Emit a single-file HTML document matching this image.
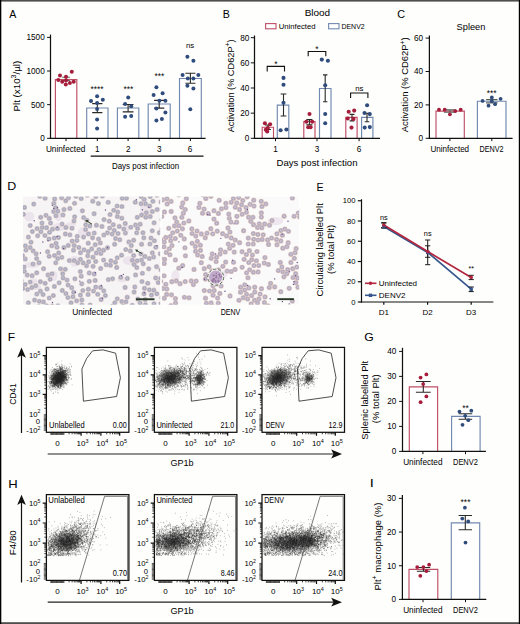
<!DOCTYPE html>
<html><head><meta charset="utf-8"><style>
html,body{margin:0;padding:0;background:#fff;}
svg{display:block;font-family:"Liberation Sans", sans-serif;}
</style></head><body>
<svg width="520" height="624" viewBox="0 0 520 624">
<rect width="520" height="624" fill="#fefefd"/>
<text x="9.15" y="17.9" font-size="10.9" fill="#000" textLength="7.07" lengthAdjust="spacingAndGlyphs">A</text>
<path d="M55.4 138.3 V79.6 H76.8 V138.3" stroke="#bf4f66" stroke-width="1.15" fill="#fff"/>
<path d="M86.7 138.3 V108 H108 V138.3" stroke="#7189b0" stroke-width="1.15" fill="#fff"/>
<path d="M117.4 138.3 V108 H138.8 V138.3" stroke="#7189b0" stroke-width="1.15" fill="#fff"/>
<path d="M148.2 138.3 V104 H170.2 V138.3" stroke="#7189b0" stroke-width="1.15" fill="#fff"/>
<path d="M179.5 138.3 V78.5 H201.3 V138.3" stroke="#7189b0" stroke-width="1.15" fill="#fff"/>
<path d="M62.2 77.3 H69.8 M66 77.3 V80.5 M62.2 80.5 H69.8" stroke="#55605a" stroke-width="1.1" fill="none"/>
<path d="M92.2 103.6 H102.4 M97.3 103.6 V112.6 M92.2 112.6 H102.4" stroke="#2a2a26" stroke-width="1.1" fill="none"/>
<path d="M122.7 104.5 H133.5 M128.1 104.5 V111.9 M122.7 111.9 H133.5" stroke="#2a2a26" stroke-width="1.1" fill="none"/>
<path d="M154.1 100.4 H164.3 M159.2 100.4 V108.1 M154.1 108.1 H164.3" stroke="#2a2a26" stroke-width="1.1" fill="none"/>
<path d="M185.4 73.3 H195.4 M190.4 73.3 V83.3 M185.4 83.3 H195.4" stroke="#2a2a26" stroke-width="1.1" fill="none"/>
<circle cx="60" cy="75.4" r="2.0" fill="#a51d3a"/>
<circle cx="66" cy="76.7" r="2.0" fill="#a51d3a"/>
<circle cx="71.8" cy="71.8" r="2.0" fill="#a51d3a"/>
<circle cx="58.3" cy="80.1" r="2.0" fill="#a51d3a"/>
<circle cx="62.2" cy="81.8" r="2.0" fill="#a51d3a"/>
<circle cx="65.8" cy="84.4" r="2.0" fill="#a51d3a"/>
<circle cx="69.9" cy="83.1" r="2.0" fill="#a51d3a"/>
<circle cx="73.7" cy="81.8" r="2.0" fill="#a51d3a"/>
<circle cx="66" cy="80.5" r="2.0" fill="#a51d3a"/>
<circle cx="97.1" cy="96.2" r="2.0" fill="#2f4c7d"/>
<circle cx="91" cy="101" r="2.0" fill="#2f4c7d"/>
<circle cx="102.8" cy="99.7" r="2.0" fill="#2f4c7d"/>
<circle cx="97.1" cy="103" r="2.0" fill="#2f4c7d"/>
<circle cx="97.1" cy="109.1" r="2.0" fill="#2f4c7d"/>
<circle cx="97.1" cy="119.6" r="2.0" fill="#2f4c7d"/>
<circle cx="97.1" cy="128.6" r="2.0" fill="#2f4c7d"/>
<circle cx="128.2" cy="97.6" r="2.0" fill="#2f4c7d"/>
<circle cx="125.1" cy="104" r="2.0" fill="#2f4c7d"/>
<circle cx="131.2" cy="106.2" r="2.0" fill="#2f4c7d"/>
<circle cx="125.1" cy="116.7" r="2.0" fill="#2f4c7d"/>
<circle cx="131.2" cy="116" r="2.0" fill="#2f4c7d"/>
<circle cx="156.4" cy="87.2" r="2.0" fill="#2f4c7d"/>
<circle cx="153.6" cy="94.9" r="2.0" fill="#2f4c7d"/>
<circle cx="162.6" cy="93.3" r="2.0" fill="#2f4c7d"/>
<circle cx="159.4" cy="100.8" r="2.0" fill="#2f4c7d"/>
<circle cx="165.4" cy="100.8" r="2.0" fill="#2f4c7d"/>
<circle cx="156.4" cy="108.5" r="2.0" fill="#2f4c7d"/>
<circle cx="165.4" cy="112.6" r="2.0" fill="#2f4c7d"/>
<circle cx="156.4" cy="120.6" r="2.0" fill="#2f4c7d"/>
<circle cx="161.9" cy="119" r="2.0" fill="#2f4c7d"/>
<circle cx="187.4" cy="56.8" r="2.0" fill="#2f4c7d"/>
<circle cx="193.4" cy="60.8" r="2.0" fill="#2f4c7d"/>
<circle cx="182.6" cy="74.9" r="2.0" fill="#2f4c7d"/>
<circle cx="198.3" cy="74.9" r="2.0" fill="#2f4c7d"/>
<circle cx="187.8" cy="78.5" r="2.0" fill="#2f4c7d"/>
<circle cx="193.4" cy="78.5" r="2.0" fill="#2f4c7d"/>
<circle cx="187.4" cy="85.7" r="2.0" fill="#2f4c7d"/>
<circle cx="193.4" cy="88.4" r="2.0" fill="#2f4c7d"/>
<circle cx="190.3" cy="109.2" r="2.0" fill="#2f4c7d"/>
<line x1="50.5" y1="34.6" x2="50.5" y2="138.93" stroke="#111" stroke-width="1.25"/>
<line x1="49.88" y1="138.3" x2="205.6" y2="138.3" stroke="#111" stroke-width="1.25"/>
<line x1="47.1" y1="37.4" x2="50.5" y2="37.4" stroke="#111" stroke-width="1.0"/>
<text x="44.7" y="40.25" font-size="8.2" text-anchor="end" fill="#000">1500</text>
<line x1="47.1" y1="71.03" x2="50.5" y2="71.03" stroke="#111" stroke-width="1.0"/>
<text x="44.7" y="73.88" font-size="8.2" text-anchor="end" fill="#000">1000</text>
<line x1="47.1" y1="104.67" x2="50.5" y2="104.67" stroke="#111" stroke-width="1.0"/>
<text x="44.7" y="107.52" font-size="8.2" text-anchor="end" fill="#000">500</text>
<line x1="47.1" y1="138.3" x2="50.5" y2="138.3" stroke="#111" stroke-width="1.0"/>
<text x="44.7" y="141.15" font-size="8.2" text-anchor="end" fill="#000">0</text>
<line x1="66" y1="138.3" x2="66" y2="141.1" stroke="#111" stroke-width="1.0"/>
<line x1="97.3" y1="138.3" x2="97.3" y2="141.1" stroke="#111" stroke-width="1.0"/>
<line x1="128.1" y1="138.3" x2="128.1" y2="141.1" stroke="#111" stroke-width="1.0"/>
<line x1="159.2" y1="138.3" x2="159.2" y2="141.1" stroke="#111" stroke-width="1.0"/>
<line x1="190.4" y1="138.3" x2="190.4" y2="141.1" stroke="#111" stroke-width="1.0"/>
<text x="45.88" y="151.9" font-size="8.3" fill="#000" textLength="39.46" lengthAdjust="spacingAndGlyphs">Uninfected</text>
<text x="97.3" y="152" font-size="8.2" text-anchor="middle" fill="#000">1</text>
<text x="128.3" y="152" font-size="8.2" text-anchor="middle" fill="#000">2</text>
<text x="159.3" y="152" font-size="8.2" text-anchor="middle" fill="#000">3</text>
<text x="190" y="152" font-size="8.2" text-anchor="middle" fill="#000">6</text>
<line x1="90.7" y1="156.2" x2="203.5" y2="156.2" stroke="#111" stroke-width="1.2"/>
<text x="111.96" y="168.5" font-size="8.2" fill="#000" textLength="67.24" lengthAdjust="spacingAndGlyphs">Days post infection</text>
<text x="19.12" y="110.7" font-size="9.4" fill="#000" transform="rotate(-90 19.9 110.7)" textLength="50.71" lengthAdjust="spacingAndGlyphs">Plt (x10<tspan font-size="6.77" dy="-3.76">3</tspan><tspan dy="3.76">/µl)</tspan></text>
<text x="97" y="91.99" font-size="8.4" text-anchor="middle" fill="#000">****</text>
<text x="128.3" y="91.99" font-size="8.4" text-anchor="middle" fill="#000">***</text>
<text x="159.4" y="78.59" font-size="8.4" text-anchor="middle" fill="#000">***</text>
<text x="190" y="47.63" font-size="7.8" text-anchor="middle" fill="#000">ns</text>
<text x="222.65" y="17.7" font-size="10.9" fill="#000" textLength="7.11" lengthAdjust="spacingAndGlyphs">B</text>
<text x="304.7" y="15.5" font-size="9.6" fill="#000" textLength="25.47" lengthAdjust="spacingAndGlyphs">Blood</text>
<rect x="265.6" y="23.6" width="10.4" height="5.2" fill="#fff" stroke="#bf4f66" stroke-width="1.1"/>
<text x="278.72" y="28.7" font-size="7.9" fill="#000" textLength="36.78" lengthAdjust="spacingAndGlyphs">Uninfected</text>
<rect x="328.6" y="23.6" width="10.4" height="5.2" fill="#fff" stroke="#7189b0" stroke-width="1.1"/>
<text x="341.44" y="28.7" font-size="7.9" fill="#000" textLength="23.2" lengthAdjust="spacingAndGlyphs">DENV2</text>
<path d="M262.2 138.3 V127.2 H273.5 V138.3" stroke="#bf4f66" stroke-width="1.15" fill="#fff"/>
<path d="M277.3 138.3 V105.1 H288.8 V138.3" stroke="#7189b0" stroke-width="1.15" fill="#fff"/>
<path d="M303.8 138.3 V121.5 H315 V138.3" stroke="#bf4f66" stroke-width="1.15" fill="#fff"/>
<path d="M319.5 138.3 V88.5 H331 V138.3" stroke="#7189b0" stroke-width="1.15" fill="#fff"/>
<path d="M345.8 138.3 V117.3 H357.1 V138.3" stroke="#bf4f66" stroke-width="1.15" fill="#fff"/>
<path d="M361.6 138.3 V117.3 H372.9 V138.3" stroke="#7189b0" stroke-width="1.15" fill="#fff"/>
<path d="M265 125 H271 M268 125 V129.5 M265 129.5 H271" stroke="#2a2a26" stroke-width="1.1" fill="none"/>
<path d="M280.6 94 H286.4 M283.5 94 V116 M280.6 116 H286.4" stroke="#2a2a26" stroke-width="1.1" fill="none"/>
<path d="M306.4 119.6 H312.4 M309.4 119.6 V124.9 M306.4 124.9 H312.4" stroke="#2a2a26" stroke-width="1.1" fill="none"/>
<path d="M323 74.9 H327.4 M325.2 74.9 V101.7 M323 101.7 H327.4" stroke="#2a2a26" stroke-width="1.1" fill="none"/>
<path d="M349.6 114.4 H354.4 M352 114.4 V120.9 M349.6 120.9 H354.4" stroke="#2a2a26" stroke-width="1.1" fill="none"/>
<path d="M364.7 113.2 H369.3 M367 113.2 V121.8 M364.7 121.8 H369.3" stroke="#2a2a26" stroke-width="1.1" fill="none"/>
<circle cx="264.9" cy="123.2" r="2.05" fill="#a51d3a"/>
<circle cx="270.1" cy="124.2" r="2.05" fill="#a51d3a"/>
<circle cx="267.8" cy="128.1" r="2.05" fill="#a51d3a"/>
<circle cx="265.8" cy="129.7" r="2.05" fill="#a51d3a"/>
<circle cx="267.2" cy="131.4" r="2.05" fill="#a51d3a"/>
<circle cx="309.5" cy="114" r="2.05" fill="#a51d3a"/>
<circle cx="306.3" cy="121.7" r="2.05" fill="#a51d3a"/>
<circle cx="312.2" cy="121.7" r="2.05" fill="#a51d3a"/>
<circle cx="308.2" cy="127.3" r="2.05" fill="#a51d3a"/>
<circle cx="310.6" cy="127.3" r="2.05" fill="#a51d3a"/>
<circle cx="348.7" cy="111.7" r="2.05" fill="#a51d3a"/>
<circle cx="354.2" cy="110.6" r="2.05" fill="#a51d3a"/>
<circle cx="347.7" cy="118.5" r="2.05" fill="#a51d3a"/>
<circle cx="353.5" cy="118.9" r="2.05" fill="#a51d3a"/>
<circle cx="351.5" cy="127.6" r="2.05" fill="#a51d3a"/>
<circle cx="283.5" cy="77.9" r="2.05" fill="#2f4c7d"/>
<circle cx="283.5" cy="84.7" r="2.05" fill="#2f4c7d"/>
<circle cx="283.5" cy="102.7" r="2.05" fill="#2f4c7d"/>
<circle cx="280.6" cy="130.3" r="2.05" fill="#2f4c7d"/>
<circle cx="286.4" cy="129.5" r="2.05" fill="#2f4c7d"/>
<circle cx="321.8" cy="59.6" r="2.05" fill="#2f4c7d"/>
<circle cx="327.9" cy="60.8" r="2.05" fill="#2f4c7d"/>
<circle cx="325.2" cy="85.2" r="2.05" fill="#2f4c7d"/>
<circle cx="325.2" cy="114" r="2.05" fill="#2f4c7d"/>
<circle cx="325.2" cy="123.3" r="2.05" fill="#2f4c7d"/>
<circle cx="367.1" cy="105.2" r="2.05" fill="#2f4c7d"/>
<circle cx="364.5" cy="113" r="2.05" fill="#2f4c7d"/>
<circle cx="369.8" cy="114.1" r="2.05" fill="#2f4c7d"/>
<circle cx="364.7" cy="127.6" r="2.05" fill="#2f4c7d"/>
<circle cx="369.8" cy="127.1" r="2.05" fill="#2f4c7d"/>
<path d="M267.2 71.5 V66.4 H284.5 V71.5" stroke="#111" stroke-width="1.1" fill="none"/>
<text x="275.85" y="67.39" font-size="8.4" text-anchor="middle" fill="#000">*</text>
<path d="M308.2 56.3 V51.5 H325.8 V56.3" stroke="#111" stroke-width="1.1" fill="none"/>
<text x="317" y="52.19" font-size="8.4" text-anchor="middle" fill="#000">*</text>
<path d="M350.6 98.1 V93 H367.9 V98.1" stroke="#111" stroke-width="1.1" fill="none"/>
<text x="359.25" y="90.53" font-size="7.8" text-anchor="middle" fill="#000">ns</text>
<line x1="254.5" y1="35.5" x2="254.5" y2="138.93" stroke="#111" stroke-width="1.25"/>
<line x1="253.88" y1="138.3" x2="380" y2="138.3" stroke="#111" stroke-width="1.25"/>
<line x1="250.8" y1="138.3" x2="254.5" y2="138.3" stroke="#111" stroke-width="1.0"/>
<text x="249.4" y="141.15" font-size="8.2" text-anchor="end" fill="#000">0</text>
<line x1="250.8" y1="113.15" x2="254.5" y2="113.15" stroke="#111" stroke-width="1.0"/>
<text x="249.4" y="116" font-size="8.2" text-anchor="end" fill="#000">20</text>
<line x1="250.8" y1="88" x2="254.5" y2="88" stroke="#111" stroke-width="1.0"/>
<text x="249.4" y="90.85" font-size="8.2" text-anchor="end" fill="#000">40</text>
<line x1="250.8" y1="62.85" x2="254.5" y2="62.85" stroke="#111" stroke-width="1.0"/>
<text x="249.4" y="65.7" font-size="8.2" text-anchor="end" fill="#000">60</text>
<line x1="250.8" y1="37.7" x2="254.5" y2="37.7" stroke="#111" stroke-width="1.0"/>
<text x="249.4" y="40.55" font-size="8.2" text-anchor="end" fill="#000">80</text>
<line x1="275.5" y1="138.3" x2="275.5" y2="141.2" stroke="#111" stroke-width="1.0"/>
<text x="275.5" y="152" font-size="8.2" text-anchor="middle" fill="#000">1</text>
<line x1="317" y1="138.3" x2="317" y2="141.2" stroke="#111" stroke-width="1.0"/>
<text x="317" y="152" font-size="8.2" text-anchor="middle" fill="#000">3</text>
<line x1="359.1" y1="138.3" x2="359.1" y2="141.2" stroke="#111" stroke-width="1.0"/>
<text x="359.1" y="152" font-size="8.2" text-anchor="middle" fill="#000">6</text>
<text x="276.53" y="165.8" font-size="9.8" fill="#000" textLength="80.98" lengthAdjust="spacingAndGlyphs">Days post infection</text>
<text x="233.95" y="132.3" font-size="9.5" fill="#000" transform="rotate(-90 234 132.3)" textLength="92.83" lengthAdjust="spacingAndGlyphs">Activation (% CD62P<tspan font-size="6.84" dy="-3.8">+</tspan><tspan dy="3.8">)</tspan></text>
<text x="397.16" y="18.4" font-size="10.9" fill="#000" textLength="7.8" lengthAdjust="spacingAndGlyphs">C</text>
<text x="456.58" y="29.8" font-size="9.7" fill="#000" textLength="28.81" lengthAdjust="spacingAndGlyphs">Spleen</text>
<path d="M436 138.3 V111.1 H464.3 V138.3" stroke="#bf4f66" stroke-width="1.15" fill="#fff"/>
<path d="M477.4 138.3 V101.2 H506 V138.3" stroke="#7189b0" stroke-width="1.15" fill="#fff"/>
<path d="M443.9 109.9 H455.9 M449.9 109.9 V112.2 M443.9 112.2 H455.9" stroke="#55605a" stroke-width="1.1" fill="none"/>
<path d="M486.1 99.6 H497.5 M491.8 99.6 V102.9 M486.1 102.9 H497.5" stroke="#55605a" stroke-width="1.1" fill="none"/>
<circle cx="439" cy="109.7" r="1.9" fill="#a51d3a"/>
<circle cx="444.7" cy="109.7" r="1.9" fill="#a51d3a"/>
<circle cx="449.9" cy="114.3" r="1.9" fill="#a51d3a"/>
<circle cx="455.3" cy="111.1" r="1.9" fill="#a51d3a"/>
<circle cx="460.7" cy="109.7" r="1.9" fill="#a51d3a"/>
<circle cx="482.6" cy="100.9" r="1.9" fill="#2f4c7d"/>
<circle cx="491.8" cy="97.5" r="1.9" fill="#2f4c7d"/>
<circle cx="500.6" cy="98.8" r="1.9" fill="#2f4c7d"/>
<circle cx="488.5" cy="105.7" r="1.9" fill="#2f4c7d"/>
<circle cx="495.1" cy="104.2" r="1.9" fill="#2f4c7d"/>
<circle cx="491.8" cy="101.2" r="1.9" fill="#2f4c7d"/>
<text x="491.7" y="95.89" font-size="8.4" text-anchor="middle" fill="#000">***</text>
<line x1="429.4" y1="35.5" x2="429.4" y2="138.93" stroke="#111" stroke-width="1.25"/>
<line x1="428.77" y1="138.3" x2="512.6" y2="138.3" stroke="#111" stroke-width="1.25"/>
<line x1="425.6" y1="138.3" x2="429.4" y2="138.3" stroke="#111" stroke-width="1.0"/>
<text x="423.1" y="141.15" font-size="8.2" text-anchor="end" fill="#000">0</text>
<line x1="425.6" y1="104.9" x2="429.4" y2="104.9" stroke="#111" stroke-width="1.0"/>
<text x="423.1" y="107.75" font-size="8.2" text-anchor="end" fill="#000">20</text>
<line x1="425.6" y1="71.5" x2="429.4" y2="71.5" stroke="#111" stroke-width="1.0"/>
<text x="423.1" y="74.35" font-size="8.2" text-anchor="end" fill="#000">40</text>
<line x1="425.6" y1="38.1" x2="429.4" y2="38.1" stroke="#111" stroke-width="1.0"/>
<text x="423.1" y="40.95" font-size="8.2" text-anchor="end" fill="#000">60</text>
<line x1="449.9" y1="138.3" x2="449.9" y2="141.1" stroke="#111" stroke-width="1.0"/>
<line x1="491.8" y1="138.3" x2="491.8" y2="141.1" stroke="#111" stroke-width="1.0"/>
<text x="430.49" y="152.1" font-size="8.3" fill="#000" textLength="38.64" lengthAdjust="spacingAndGlyphs">Uninfected</text>
<text x="479.42" y="152.1" font-size="8.3" fill="#000" textLength="24.14" lengthAdjust="spacingAndGlyphs">DENV2</text>
<text x="408.35" y="132.3" font-size="9.5" fill="#000" transform="rotate(-90 408.4 132.3)" textLength="95.04" lengthAdjust="spacingAndGlyphs">Activation (% CD62P<tspan font-size="6.84" dy="-3.8">+</tspan><tspan dy="3.8">)</tspan></text>
<text x="7.21" y="190.4" font-size="10.9" fill="#000" textLength="8.98" lengthAdjust="spacingAndGlyphs">D</text>
<defs><clipPath id="m1"><rect x="22.9" y="196.5" width="137.3" height="108.2"/></clipPath><clipPath id="m2"><rect x="161.9" y="196.5" width="137.3" height="108.2"/></clipPath><filter id="soft" x="0" y="0" width="1" height="1"><feGaussianBlur stdDeviation="0.35"/></filter><g id="c1"><circle r="2.6" fill="#d6c5c4"/><circle r="2.0" fill="#a6a7bd"/><circle r="0.95" fill="#c2c1d0"/></g><g id="c2"><circle r="2.6" fill="#d9bfbb"/><circle r="2.0" fill="#b0a9bf"/><circle r="1.0" fill="#cbc4d3"/></g></defs>
<g clip-path="url(#m1)"><g filter="url(#soft)"><rect x="22.9" y="196.5" width="137.3" height="108.2" fill="#f6f4f5"/>
<ellipse cx="35.33" cy="287.11" rx="6" ry="2.85" fill="#ddd0e2" opacity=".45"/>
<ellipse cx="129.72" cy="260.62" rx="7.14" ry="4.45" fill="#ddd0e2" opacity=".45"/>
<ellipse cx="121.99" cy="279.93" rx="4.72" ry="2.38" fill="#ddd0e2" opacity=".45"/>
<ellipse cx="145.9" cy="209.57" rx="5.78" ry="5.97" fill="#ddd0e2" opacity=".45"/>
<ellipse cx="70.92" cy="224.97" rx="4.91" ry="2.81" fill="#ddd0e2" opacity=".45"/>
<ellipse cx="125.63" cy="228.9" rx="3.37" ry="4.38" fill="#ddd0e2" opacity=".45"/>
<ellipse cx="58.41" cy="216.15" rx="3.08" ry="5.36" fill="#ddd0e2" opacity=".45"/>
<ellipse cx="74.65" cy="261.2" rx="5.4" ry="5.48" fill="#ddd0e2" opacity=".45"/>
<ellipse cx="32.12" cy="264.83" rx="7.15" ry="3.13" fill="#ddd0e2" opacity=".45"/>
<ellipse cx="82.32" cy="233.01" rx="4.62" ry="5.78" fill="#ddd0e2" opacity=".45"/>
<ellipse cx="54.22" cy="275.95" rx="3.22" ry="5.13" fill="#ddd0e2" opacity=".45"/>
<ellipse cx="33.92" cy="281.46" rx="3.33" ry="2.86" fill="#ddd0e2" opacity=".45"/>
<ellipse cx="59.04" cy="227.12" rx="6.88" ry="4.02" fill="#ddd0e2" opacity=".45"/>
<ellipse cx="29.17" cy="216.55" rx="5.09" ry="4.84" fill="#ddd0e2" opacity=".45"/>
<use href="#c1" x="54.52" y="255.56"/>
<use href="#c1" x="106.23" y="264.71"/>
<use href="#c1" x="58.62" y="252.92"/>
<use href="#c1" x="47.99" y="274.96"/>
<use href="#c1" x="98.56" y="239.06"/>
<use href="#c1" x="53.67" y="211.51"/>
<use href="#c1" x="76" y="196.2"/>
<use href="#c1" x="43.42" y="301.93"/>
<use href="#c1" x="150.92" y="237.99"/>
<use href="#c1" x="81.23" y="276.2"/>
<use href="#c1" x="157.13" y="209.55"/>
<use href="#c1" x="25.97" y="250.03"/>
<use href="#c1" x="152.41" y="211.55"/>
<use href="#c1" x="92.57" y="237.79"/>
<use href="#c1" x="103.57" y="260.05"/>
<use href="#c1" x="117.26" y="298.73"/>
<use href="#c1" x="160.93" y="269.82"/>
<use href="#c1" x="162.57" y="208.32"/>
<use href="#c1" x="121.76" y="218.19"/>
<use href="#c1" x="101.94" y="226.47"/>
<use href="#c1" x="121.86" y="301.59"/>
<use href="#c1" x="42.2" y="227.47"/>
<use href="#c1" x="144.22" y="199.46"/>
<use href="#c1" x="27.25" y="275.11"/>
<use href="#c1" x="145.37" y="304.53"/>
<use href="#c1" x="161.99" y="229.24"/>
<use href="#c1" x="96.42" y="225.22"/>
<use href="#c1" x="62.1" y="224.05"/>
<use href="#c1" x="159.36" y="232.63"/>
<use href="#c1" x="40.45" y="291.18"/>
<use href="#c1" x="143.82" y="237.83"/>
<use href="#c1" x="117.12" y="206.01"/>
<use href="#c1" x="135.57" y="224.94"/>
<use href="#c1" x="57.39" y="228.5"/>
<use href="#c1" x="132.3" y="305.29"/>
<use href="#c1" x="74.1" y="260.61"/>
<use href="#c1" x="37.11" y="228.57"/>
<use href="#c1" x="120.79" y="277.31"/>
<use href="#c1" x="51.96" y="273.81"/>
<use href="#c1" x="109.63" y="228.01"/>
<use href="#c1" x="45.97" y="215.28"/>
<use href="#c1" x="140.13" y="224.14"/>
<use href="#c1" x="35.72" y="285.72"/>
<use href="#c1" x="113.27" y="224.72"/>
<use href="#c1" x="116.71" y="267.38"/>
<use href="#c1" x="82.85" y="290.49"/>
<use href="#c1" x="41.98" y="223.02"/>
<use href="#c1" x="59.14" y="282.8"/>
<use href="#c1" x="150.23" y="216.57"/>
<use href="#c1" x="142.94" y="232.66"/>
<use href="#c1" x="32.99" y="263.99"/>
<use href="#c1" x="80.43" y="252.66"/>
<use href="#c1" x="86.57" y="265.65"/>
<use href="#c1" x="32.38" y="231.59"/>
<use href="#c1" x="49.11" y="256.34"/>
<use href="#c1" x="92.98" y="257.21"/>
<use href="#c1" x="122.25" y="198.13"/>
<use href="#c1" x="127.35" y="278.43"/>
<use href="#c1" x="97.75" y="294.32"/>
<use href="#c1" x="151.44" y="295.09"/>
<use href="#c1" x="102.42" y="195.97"/>
<use href="#c1" x="107.4" y="232.8"/>
<use href="#c1" x="87.73" y="255.82"/>
<use href="#c1" x="45.11" y="283.33"/>
<use href="#c1" x="134.8" y="286.9"/>
<use href="#c1" x="142" y="281.48"/>
<use href="#c1" x="81.18" y="198.57"/>
<use href="#c1" x="33.07" y="250.84"/>
<use href="#c1" x="65.35" y="233.91"/>
<use href="#c1" x="103.79" y="234.99"/>
<use href="#c1" x="31.83" y="287.59"/>
<use href="#c1" x="93.48" y="291.04"/>
<use href="#c1" x="134.1" y="264.39"/>
<use href="#c1" x="73.52" y="250.17"/>
<use href="#c1" x="31.01" y="242.17"/>
<use href="#c1" x="145.2" y="299.57"/>
<use href="#c1" x="147.77" y="283.24"/>
<use href="#c1" x="149.38" y="289.84"/>
<use href="#c1" x="140.98" y="253.99"/>
<use href="#c1" x="135.58" y="274.9"/>
<use href="#c1" x="54.24" y="238.11"/>
<use href="#c1" x="100.64" y="268.46"/>
<use href="#c1" x="136.69" y="232.81"/>
<use href="#c1" x="24.5" y="207.41"/>
<use href="#c1" x="119.29" y="226.42"/>
<use href="#c1" x="121.95" y="206.48"/>
<use href="#c1" x="152.95" y="201.36"/>
<use href="#c1" x="100.59" y="287.41"/>
<use href="#c1" x="24.3" y="271.26"/>
<use href="#c1" x="154.09" y="222.87"/>
<use href="#c1" x="153.55" y="256.95"/>
<use href="#c1" x="73.93" y="220.9"/>
<use href="#c1" x="140.1" y="303.01"/>
<use href="#c1" x="117.77" y="212.02"/>
<use href="#c1" x="146.31" y="212.74"/>
<use href="#c1" x="89.22" y="272.89"/>
<use href="#c1" x="103.77" y="290.78"/>
<use href="#c1" x="105.36" y="295.58"/>
<use href="#c1" x="62.71" y="273.64"/>
<use href="#c1" x="141.52" y="260.1"/>
<use href="#c1" x="88.67" y="261.71"/>
<use href="#c1" x="86.94" y="220.26"/>
<use href="#c1" x="74.65" y="216.74"/>
<use href="#c1" x="137.58" y="228.59"/>
<use href="#c1" x="25.41" y="245.82"/>
<use href="#c1" x="68.47" y="197.8"/>
<use href="#c1" x="74.55" y="203.25"/>
<use href="#c1" x="125.8" y="249.48"/>
<use href="#c1" x="49.3" y="218.38"/>
<use href="#c1" x="36.8" y="294.04"/>
<use href="#c1" x="34.59" y="300.11"/>
<use href="#c1" x="150.23" y="196.41"/>
<use href="#c1" x="100.88" y="253.48"/>
<use href="#c1" x="92.78" y="201.18"/>
<use href="#c1" x="113.75" y="210.24"/>
<use href="#c1" x="110.04" y="214.6"/>
<use href="#c1" x="40.88" y="231.7"/>
<use href="#c1" x="85.57" y="229.56"/>
<use href="#c1" x="154.35" y="240.74"/>
<use href="#c1" x="128.19" y="308.99"/>
<use href="#c1" x="134.1" y="292.09"/>
<use href="#c1" x="135.23" y="202.27"/>
<use href="#c1" x="117.19" y="257.82"/>
<use href="#c1" x="36.74" y="272.84"/>
<use href="#c1" x="115.59" y="238.39"/>
<use href="#c1" x="39.05" y="262.71"/>
<use href="#c1" x="133.69" y="255.62"/>
<use href="#c1" x="145.56" y="203.77"/>
<use href="#c1" x="25.15" y="284.61"/>
<use href="#c1" x="21.24" y="280.95"/>
<use href="#c1" x="30.2" y="282.08"/>
<use href="#c1" x="141.23" y="196.53"/>
<use href="#c1" x="53.88" y="203.23"/>
<use href="#c1" x="152.28" y="230.75"/>
<use href="#c1" x="125.42" y="233.05"/>
<use href="#c1" x="50.57" y="223.12"/>
<use href="#c1" x="85.79" y="224.8"/>
<use href="#c1" x="80.34" y="271.58"/>
<use href="#c1" x="95.69" y="261.42"/>
<use href="#c1" x="55.94" y="215.7"/>
<use href="#c1" x="46.69" y="305.84"/>
<use href="#c1" x="47.01" y="288.93"/>
<use href="#c1" x="54.7" y="198.89"/>
<use href="#c1" x="137.2" y="260.79"/>
<use href="#c1" x="69.84" y="208.41"/>
<use href="#c1" x="30.17" y="247.5"/>
<use href="#c1" x="69.92" y="234.79"/>
<use href="#c1" x="65.7" y="200.86"/>
<use href="#c1" x="32.14" y="275.7"/>
<use href="#c1" x="47.62" y="251.69"/>
<use href="#c1" x="88.53" y="233.94"/>
<use href="#c1" x="74.92" y="278.83"/>
<use href="#c1" x="76.62" y="300.79"/>
<use href="#c1" x="65.27" y="269.34"/>
<use href="#c1" x="72.17" y="241.03"/>
<use href="#c1" x="127.26" y="297.17"/>
<use href="#c1" x="55.55" y="207.7"/>
<use href="#c1" x="114.24" y="230.41"/>
<use href="#c1" x="112.26" y="306.36"/>
<use href="#c1" x="132.3" y="260.31"/>
<use href="#c1" x="65.96" y="293.56"/>
<use href="#c1" x="118.04" y="233.51"/>
<use href="#c1" x="119.74" y="239.7"/>
<use href="#c1" x="130.8" y="227.25"/>
<use href="#c1" x="83.6" y="237.07"/>
<use href="#c1" x="114.81" y="302.86"/>
<use href="#c1" x="89.32" y="281.28"/>
<use href="#c1" x="161.82" y="297.76"/>
<use href="#c1" x="100.26" y="242.96"/>
<use href="#c1" x="39.33" y="301.25"/>
<use href="#c1" x="83.62" y="217.57"/>
<use href="#c1" x="81.84" y="299.97"/>
<use href="#c1" x="162" y="219.48"/>
<use href="#c1" x="61.65" y="197.8"/>
<use href="#c1" x="71.67" y="287.72"/>
<use href="#c1" x="152.33" y="252.8"/>
<use href="#c1" x="71.05" y="302.84"/>
<use href="#c1" x="98.99" y="249.5"/>
<use href="#c1" x="27.59" y="289.51"/>
<use href="#c1" x="57.76" y="211.21"/>
<use href="#c1" x="163.54" y="214.95"/>
<use href="#c1" x="155.63" y="277.94"/>
<use href="#c1" x="39.8" y="196.36"/>
<use href="#c1" x="112.12" y="234.03"/>
<use href="#c1" x="94.15" y="213.66"/>
<use href="#c1" x="149.27" y="258.52"/>
<use href="#c1" x="137.84" y="298.99"/>
<use href="#c1" x="25.22" y="258.96"/>
<use href="#c1" x="89.8" y="225.9"/>
<use href="#c1" x="149.71" y="206"/>
<use href="#c1" x="156.59" y="266.71"/>
<use href="#c1" x="154.02" y="303.82"/>
<use href="#c1" x="81.84" y="304.9"/>
<use href="#c1" x="61.79" y="257.28"/>
<use href="#c1" x="67.94" y="297.5"/>
<use href="#c1" x="143.24" y="263.87"/>
<use href="#c1" x="43.08" y="294.59"/>
<use href="#c1" x="49.01" y="239.02"/>
<use href="#c1" x="141.58" y="244.14"/>
<use href="#c1" x="76.89" y="240.38"/>
<use href="#c1" x="95.12" y="280.45"/>
<use href="#c1" x="51.78" y="245.69"/>
<use href="#c1" x="110.87" y="260.82"/>
<use href="#c1" x="62.95" y="214.96"/>
<use href="#c1" x="52.17" y="306.19"/>
<use href="#c1" x="56.03" y="243.27"/>
<use href="#c1" x="52.46" y="229.19"/>
<use href="#c1" x="160.3" y="253.8"/>
<use href="#c1" x="108.2" y="202.27"/>
<use href="#c1" x="101.1" y="299.39"/>
<use href="#c1" x="71.98" y="228.23"/>
<use href="#c1" x="77.28" y="236.3"/>
<use href="#c1" x="126.45" y="198.13"/>
<use href="#c1" x="123.08" y="306.24"/>
<use href="#c1" x="125.1" y="287.45"/>
<use href="#c1" x="149.91" y="244.02"/>
<use href="#c1" x="88.07" y="294.39"/>
<use href="#c1" x="81.76" y="283.81"/>
<use href="#c1" x="90.17" y="305.09"/>
<use href="#c1" x="40.68" y="217.35"/>
<use href="#c1" x="161.04" y="201.91"/>
<use href="#c1" x="121.57" y="255.14"/>
<use href="#c1" x="145.83" y="217.16"/>
<use href="#c1" x="153.79" y="290.17"/>
<use href="#c1" x="69.33" y="260.48"/>
<use href="#c1" x="95.19" y="244.66"/>
<use href="#c1" x="141.54" y="215.11"/>
<use href="#c1" x="44.97" y="235.52"/>
<use href="#c1" x="28.37" y="302.85"/>
<use href="#c1" x="23.44" y="214.3"/>
<use href="#c1" x="91.64" y="248.95"/>
<use href="#c1" x="108.38" y="279.56"/>
<use href="#c1" x="36.11" y="253.75"/>
<use href="#c1" x="84.01" y="249.78"/>
<use href="#c1" x="137.31" y="217.29"/>
<use href="#c1" x="72.95" y="296.72"/>
<use href="#c1" x="128.85" y="241.93"/>
<use href="#c1" x="46.54" y="227.64"/>
<use href="#c1" x="119.86" y="309.06"/>
<use href="#c1" x="83.21" y="262.91"/>
<use href="#c1" x="144.87" y="256.46"/>
<use href="#c1" x="30.24" y="225.51"/>
<use href="#c1" x="88.26" y="243.2"/>
<use href="#c1" x="73.64" y="292.36"/>
<use href="#c1" x="67.07" y="280.04"/>
<use href="#c1" x="115.38" y="262.24"/>
<use href="#c1" x="77.72" y="262.8"/>
<use href="#c1" x="94.17" y="273.94"/>
<use href="#c1" x="114.62" y="244.17"/>
<use href="#c1" x="45.04" y="198.17"/>
<use href="#c1" x="57.02" y="247.27"/>
<use href="#c1" x="58.5" y="237.6"/>
<use href="#c1" x="104.05" y="219.55"/>
<use href="#c1" x="93.05" y="266.32"/>
<use href="#c1" x="38.72" y="306.65"/>
<use href="#c1" x="63.96" y="247.53"/>
<use href="#c1" x="64" y="209.39"/>
<use href="#c1" x="63.05" y="277.98"/>
<use href="#c1" x="123.81" y="229"/>
<use href="#c1" x="156.86" y="195.19"/>
<use href="#c1" x="68.24" y="245.39"/>
<use href="#c1" x="125.19" y="223.46"/>
<use href="#c1" x="125.98" y="301.86"/>
<use href="#c1" x="49.55" y="232.3"/>
<use href="#c1" x="80.45" y="259.23"/>
<use href="#c1" x="107.49" y="247.72"/>
<use href="#c1" x="40.38" y="281.63"/>
<use href="#c1" x="62.3" y="290.46"/>
<use href="#c1" x="82.38" y="210.79"/>
<use href="#c1" x="53.31" y="295.61"/>
<use href="#c1" x="22.61" y="288.42"/>
<use href="#c1" x="131.29" y="245.47"/>
<use href="#c1" x="110.42" y="265.37"/>
<use href="#c1" x="49.23" y="298.01"/>
<use href="#c1" x="57.71" y="258.57"/>
<use href="#c1" x="95.9" y="196.61"/>
<use href="#c1" x="28.41" y="237.03"/>
<use href="#c1" x="98.4" y="203.55"/>
<use href="#c1" x="33.77" y="204.12"/>
<use href="#c1" x="60.54" y="268.82"/>
<use href="#c1" x="130.39" y="250.95"/>
<use href="#c1" x="142.4" y="273.27"/>
<use href="#c1" x="78.86" y="247.42"/>
<use href="#c1" x="68.06" y="284.99"/>
<use href="#c1" x="55.78" y="262.8"/>
<use href="#c1" x="95.76" y="287.08"/>
<use href="#c1" x="57.91" y="305.74"/>
<use href="#c1" x="109.23" y="221.18"/>
<use href="#c1" x="37.67" y="235.76"/>
<use href="#c1" x="65.95" y="227.42"/>
<use href="#c1" x="103.53" y="250.2"/>
<use href="#c1" x="94.22" y="233"/>
<use href="#c1" x="50.1" y="279.36"/>
<use href="#c1" x="88.23" y="251.59"/>
<use href="#c1" x="22.51" y="255.69"/>
<use href="#c1" x="74.12" y="245.47"/>
<use href="#c1" x="24.05" y="267.09"/>
<use href="#c1" x="133.65" y="240.19"/>
<use href="#c1" x="88.38" y="289.17"/>
<use href="#c1" x="156.85" y="293.76"/>
<use href="#c1" x="144.03" y="293.65"/>
<use href="#c1" x="163.16" y="248.84"/>
<use href="#c1" x="148.7" y="268.83"/>
<use href="#c1" x="136.78" y="267.62"/>
<use href="#c1" x="124.64" y="312.61"/>
<use href="#c1" x="112.57" y="278.83"/>
<use href="#c1" x="36.61" y="258.58"/>
<use href="#c1" x="144.5" y="288.32"/>
<use href="#c1" x="160.65" y="278.32"/>
<use href="#c1" x="16.34" y="282.96"/>
<use href="#c1" x="161.05" y="303.54"/>
<use href="#c1" x="158.23" y="282.62"/>
<use href="#c1" x="96.37" y="252.9"/>
<use href="#c1" x="141.07" y="203.7"/>
<use href="#c1" x="43.55" y="268.69"/>
<use href="#c1" x="54.38" y="286.38"/>
<use href="#c1" x="155.76" y="247.26"/>
<use href="#c1" x="87.28" y="195.27"/>
<use href="#c1" x="80.43" y="295.1"/>
<use href="#c1" x="117.34" y="216.41"/>
<circle cx="157.03" cy="245.82" r="0.7" fill="#6a4c86"/>
<circle cx="121.38" cy="275.63" r="0.7" fill="#6a4c86"/>
<circle cx="52.34" cy="205.35" r="0.7" fill="#6a4c86"/>
<circle cx="105.48" cy="210.05" r="0.7" fill="#6a4c86"/>
<circle cx="75.27" cy="292.2" r="0.7" fill="#6a4c86"/>
<circle cx="142.38" cy="209.7" r="0.7" fill="#6a4c86"/>
<circle cx="34.17" cy="220.81" r="0.7" fill="#6a4c86"/>
<circle cx="136.35" cy="199.65" r="0.7" fill="#6a4c86"/>
<circle cx="53.75" cy="208.47" r="0.7" fill="#6a4c86"/>
<circle cx="40.39" cy="253.01" r="0.7" fill="#6a4c86"/>
<circle cx="48.03" cy="240.81" r="0.7" fill="#6a4c86"/>
<circle cx="123.35" cy="274.36" r="0.7" fill="#6a4c86"/>
<circle cx="79.76" cy="281.12" r="0.7" fill="#6a4c86"/>
<circle cx="101.33" cy="285.48" r="0.7" fill="#6a4c86"/>
<circle cx="57" cy="236.5" r="0.7" fill="#6a4c86"/>
<circle cx="102.41" cy="298.21" r="0.7" fill="#6a4c86"/>
<circle cx="107.61" cy="247.79" r="0.7" fill="#6a4c86"/>
<circle cx="57.28" cy="227.1" r="0.7" fill="#6a4c86"/>
<circle cx="52.46" cy="302.54" r="0.7" fill="#6a4c86"/>
<circle cx="144.36" cy="292.72" r="0.7" fill="#6a4c86"/>
<circle cx="95.31" cy="272.8" r="0.7" fill="#6a4c86"/>
<circle cx="63.52" cy="248.53" r="0.7" fill="#6a4c86"/>
<circle cx="42.84" cy="241.95" r="0.7" fill="#6a4c86"/>
<circle cx="57.52" cy="207.7" r="0.7" fill="#6a4c86"/>
<circle cx="148.86" cy="207.35" r="0.7" fill="#6a4c86"/>
</g></g>
<g clip-path="url(#m2)"><g filter="url(#soft)"><rect x="161.9" y="196.5" width="137.3" height="108.2" fill="#fbfafa"/>
<ellipse cx="221.42" cy="274.53" rx="5.68" ry="3.99" fill="#ddd0e2" opacity=".45"/>
<ellipse cx="275.43" cy="221.08" rx="7.88" ry="4.07" fill="#ddd0e2" opacity=".45"/>
<ellipse cx="175.44" cy="275.96" rx="4.14" ry="5.89" fill="#ddd0e2" opacity=".45"/>
<use href="#c2" x="247.92" y="277.73"/>
<use href="#c2" x="293.07" y="277.52"/>
<use href="#c2" x="164" y="246.74"/>
<use href="#c2" x="251.6" y="295.58"/>
<use href="#c2" x="254.8" y="292.11"/>
<use href="#c2" x="297.51" y="277.88"/>
<use href="#c2" x="254.51" y="300.14"/>
<use href="#c2" x="160.65" y="281.3"/>
<use href="#c2" x="183.34" y="213.18"/>
<use href="#c2" x="246.55" y="294.31"/>
<use href="#c2" x="295.89" y="282.71"/>
<use href="#c2" x="169.34" y="248.74"/>
<use href="#c2" x="166.35" y="252.46"/>
<use href="#c2" x="251.14" y="303.9"/>
<use href="#c2" x="246.57" y="272.79"/>
<use href="#c2" x="176.72" y="222.11"/>
<use href="#c2" x="225.21" y="252"/>
<use href="#c2" x="195.35" y="246.43"/>
<use href="#c2" x="171.98" y="245.53"/>
<use href="#c2" x="172.78" y="232.73"/>
<use href="#c2" x="244.74" y="290.08"/>
<use href="#c2" x="178.92" y="225.66"/>
<use href="#c2" x="235.29" y="240.04"/>
<use href="#c2" x="170.28" y="236.48"/>
<use href="#c2" x="260.06" y="294.03"/>
<use href="#c2" x="174.48" y="225.94"/>
<use href="#c2" x="239.6" y="209.4"/>
<use href="#c2" x="218.37" y="213.44"/>
<use href="#c2" x="295.64" y="273.72"/>
<use href="#c2" x="174.98" y="217.83"/>
<use href="#c2" x="200.32" y="245.15"/>
<use href="#c2" x="297.98" y="287.15"/>
<use href="#c2" x="175.26" y="238.57"/>
<use href="#c2" x="164.28" y="242.06"/>
<use href="#c2" x="257.52" y="227.47"/>
<use href="#c2" x="251.7" y="259.65"/>
<use href="#c2" x="252.39" y="255.07"/>
<use href="#c2" x="209.06" y="266.76"/>
<use href="#c2" x="276.92" y="233.78"/>
<use href="#c2" x="282.82" y="271.73"/>
<use href="#c2" x="295.06" y="252.64"/>
<use href="#c2" x="199.87" y="203.35"/>
<use href="#c2" x="242.14" y="214.14"/>
<use href="#c2" x="246.37" y="212.35"/>
<use href="#c2" x="294.31" y="258.32"/>
<use href="#c2" x="204.24" y="268.63"/>
<use href="#c2" x="248.6" y="217.14"/>
<use href="#c2" x="298.34" y="213.1"/>
<use href="#c2" x="175.56" y="303.11"/>
<use href="#c2" x="256.44" y="260.73"/>
<use href="#c2" x="286.81" y="273.67"/>
<use href="#c2" x="212.75" y="233.83"/>
<use href="#c2" x="280.83" y="291.71"/>
<use href="#c2" x="248.78" y="262.61"/>
<use href="#c2" x="201.33" y="233.95"/>
<use href="#c2" x="241.59" y="204.64"/>
<use href="#c2" x="278.33" y="270.6"/>
<use href="#c2" x="239.63" y="242.66"/>
<use href="#c2" x="229.62" y="248.31"/>
<use href="#c2" x="214.14" y="290.43"/>
<use href="#c2" x="276.57" y="239.47"/>
<use href="#c2" x="213.04" y="295.18"/>
<use href="#c2" x="185.25" y="209.53"/>
<use href="#c2" x="195.55" y="251.31"/>
<use href="#c2" x="201.33" y="262.72"/>
<use href="#c2" x="290.89" y="262.4"/>
<use href="#c2" x="197" y="231.02"/>
<use href="#c2" x="227.12" y="271.06"/>
<use href="#c2" x="286.91" y="246.68"/>
<use href="#c2" x="202.81" y="194.86"/>
<use href="#c2" x="242.15" y="267.25"/>
<use href="#c2" x="200.46" y="250.46"/>
<use href="#c2" x="204.4" y="190.96"/>
<use href="#c2" x="207.01" y="233.18"/>
<use href="#c2" x="166.81" y="288.98"/>
<use href="#c2" x="175.43" y="298.55"/>
<use href="#c2" x="245.97" y="207.48"/>
<use href="#c2" x="212.05" y="270.94"/>
<use href="#c2" x="197.32" y="241.28"/>
<use href="#c2" x="258.71" y="265.49"/>
<use href="#c2" x="209.55" y="290.99"/>
<use href="#c2" x="164.06" y="275.85"/>
<use href="#c2" x="177.3" y="231.09"/>
<use href="#c2" x="265.82" y="203.9"/>
<use href="#c2" x="229.34" y="218.23"/>
<use href="#c2" x="195.82" y="236.08"/>
<use href="#c2" x="253.33" y="233.6"/>
<use href="#c2" x="280.86" y="230.51"/>
<use href="#c2" x="243.21" y="297.66"/>
<use href="#c2" x="244.75" y="284.87"/>
<use href="#c2" x="158.66" y="276.49"/>
<use href="#c2" x="253.7" y="239.32"/>
<use href="#c2" x="258.12" y="240.02"/>
<use href="#c2" x="217.22" y="231.06"/>
<use href="#c2" x="165.8" y="237.39"/>
<use href="#c2" x="261.34" y="212.83"/>
<use href="#c2" x="262.18" y="239.39"/>
<use href="#c2" x="191.83" y="228.77"/>
<use href="#c2" x="193.39" y="284.62"/>
<use href="#c2" x="280.82" y="240.96"/>
<use href="#c2" x="287.63" y="269.57"/>
<use href="#c2" x="222.9" y="266.36"/>
<use href="#c2" x="294.15" y="216.32"/>
<use href="#c2" x="296.13" y="248.53"/>
<use href="#c2" x="182.78" y="202.96"/>
<use href="#c2" x="248.21" y="244"/>
<use href="#c2" x="253.21" y="243.99"/>
<use href="#c2" x="217.61" y="297.99"/>
<use href="#c2" x="204.11" y="209.07"/>
<use href="#c2" x="302.21" y="288.47"/>
<use href="#c2" x="301.51" y="210.32"/>
<use href="#c2" x="213.57" y="280.81"/>
<use href="#c2" x="249.36" y="250.66"/>
<use href="#c2" x="162.54" y="199.8"/>
<use href="#c2" x="181.83" y="217.24"/>
<use href="#c2" x="198.94" y="207.45"/>
<use href="#c2" x="238.64" y="197.58"/>
<use href="#c2" x="214.55" y="275.57"/>
<use href="#c2" x="242.78" y="200.52"/>
<use href="#c2" x="181.73" y="207.11"/>
<use href="#c2" x="219.17" y="200.37"/>
<use href="#c2" x="164.54" y="259.24"/>
<use href="#c2" x="246.4" y="254.52"/>
<use href="#c2" x="263.21" y="234.8"/>
<use href="#c2" x="171.49" y="294.81"/>
<use href="#c2" x="257.88" y="234.38"/>
<use href="#c2" x="271.55" y="237.99"/>
<use href="#c2" x="242.06" y="251.63"/>
<use href="#c2" x="218.27" y="303.18"/>
<use href="#c2" x="250.14" y="204.33"/>
<use href="#c2" x="264.27" y="263.05"/>
<use href="#c2" x="276.98" y="244.66"/>
<use href="#c2" x="221.44" y="208.81"/>
<use href="#c2" x="261.37" y="217.09"/>
<use href="#c2" x="288.15" y="242.64"/>
<use href="#c2" x="170.73" y="240.84"/>
<use href="#c2" x="220.57" y="249.82"/>
<use href="#c2" x="230.94" y="222.06"/>
<use href="#c2" x="228.79" y="214.07"/>
<use href="#c2" x="225.9" y="207.58"/>
<use href="#c2" x="235.3" y="207.21"/>
<use href="#c2" x="178.66" y="194.87"/>
<use href="#c2" x="284.83" y="229.08"/>
<use href="#c2" x="261.81" y="227.7"/>
<use href="#c2" x="231.21" y="237.94"/>
<use href="#c2" x="196.16" y="281.07"/>
<use href="#c2" x="210.92" y="196.34"/>
<use href="#c2" x="219.87" y="274.09"/>
<use href="#c2" x="256.98" y="251.48"/>
<use href="#c2" x="292.7" y="268.67"/>
<use href="#c2" x="247.57" y="298.99"/>
<use href="#c2" x="274.7" y="286.91"/>
<use href="#c2" x="267.59" y="239.9"/>
<use href="#c2" x="205.82" y="198.47"/>
<use href="#c2" x="254.72" y="287.2"/>
<use href="#c2" x="217.49" y="278.96"/>
<use href="#c2" x="292.38" y="197.99"/>
<use href="#c2" x="305.92" y="290.68"/>
<use href="#c2" x="288.44" y="231.37"/>
<use href="#c2" x="166.94" y="198.84"/>
<use href="#c2" x="231.21" y="271.51"/>
<use href="#c2" x="212.24" y="253.97"/>
<use href="#c2" x="292.34" y="301.05"/>
<use href="#c2" x="202.54" y="213.2"/>
<use href="#c2" x="202.18" y="256.4"/>
<use href="#c2" x="226.59" y="235.95"/>
<use href="#c2" x="264.63" y="223.91"/>
<use href="#c2" x="248.31" y="238.1"/>
<use href="#c2" x="289.21" y="288.34"/>
<use href="#c2" x="158.96" y="248.18"/>
<use href="#c2" x="269.53" y="225.16"/>
<use href="#c2" x="213.03" y="285.69"/>
<use href="#c2" x="236.71" y="202.88"/>
<use href="#c2" x="192.1" y="233.49"/>
<use href="#c2" x="176.36" y="280.88"/>
<use href="#c2" x="185.17" y="281.62"/>
<use href="#c2" x="290.85" y="254.33"/>
<use href="#c2" x="186.26" y="198.63"/>
<use href="#c2" x="165.82" y="284.31"/>
<use href="#c2" x="168.76" y="228.32"/>
<use href="#c2" x="261.47" y="288.64"/>
<use href="#c2" x="182.46" y="228.79"/>
<use href="#c2" x="265.01" y="296.9"/>
<use href="#c2" x="217.03" y="283.85"/>
<use href="#c2" x="178.79" y="268.13"/>
<use href="#c2" x="253.96" y="265.56"/>
<use href="#c2" x="192.07" y="243.24"/>
<use href="#c2" x="218.11" y="307.55"/>
<use href="#c2" x="233.38" y="198.57"/>
<use href="#c2" x="253.53" y="224.72"/>
<use href="#c2" x="268.56" y="244.45"/>
<use href="#c2" x="197.65" y="255"/>
<use href="#c2" x="227.98" y="227.93"/>
<use href="#c2" x="269.26" y="287.56"/>
<use href="#c2" x="233.56" y="262.25"/>
<use href="#c2" x="249.66" y="269.77"/>
<use href="#c2" x="219.82" y="293.43"/>
<use href="#c2" x="213.53" y="306.85"/>
<use href="#c2" x="236.63" y="222.14"/>
<use href="#c2" x="272" y="220.62"/>
<use href="#c2" x="229.96" y="232.05"/>
<use href="#c2" x="188.87" y="220.97"/>
<use href="#c2" x="162.71" y="288.42"/>
<use href="#c2" x="268.33" y="264.46"/>
<use href="#c2" x="247.13" y="196.78"/>
<use href="#c2" x="299.72" y="217.09"/>
<use href="#c2" x="282.37" y="235.25"/>
<use href="#c2" x="184.23" y="238.88"/>
<use href="#c2" x="176.54" y="307.77"/>
<use href="#c2" x="210.83" y="228.66"/>
<use href="#c2" x="253.41" y="272.22"/>
<use href="#c2" x="172.06" y="310.37"/>
<use href="#c2" x="170.97" y="305.67"/>
<use href="#c2" x="261.23" y="201.3"/>
<use href="#c2" x="182.67" y="265.55"/>
<use href="#c2" x="221.08" y="285.99"/>
<use href="#c2" x="252.94" y="217.32"/>
<use href="#c2" x="171.18" y="211.38"/>
<use href="#c2" x="206.42" y="303.25"/>
<use href="#c2" x="169.92" y="254.75"/>
<use href="#c2" x="261.96" y="206.44"/>
<use href="#c2" x="166.64" y="294.41"/>
<use href="#c2" x="231.19" y="202.3"/>
<use href="#c2" x="180.04" y="283.7"/>
<use href="#c2" x="258.86" y="298.93"/>
<use href="#c2" x="205.24" y="237.7"/>
<use href="#c2" x="234.22" y="252.09"/>
<use href="#c2" x="305.16" y="285.1"/>
<use href="#c2" x="220.07" y="254.07"/>
<use href="#c2" x="213.94" y="210.64"/>
<use href="#c2" x="225.69" y="262.07"/>
<use href="#c2" x="184.97" y="247.74"/>
<use href="#c2" x="171.03" y="201.38"/>
<use href="#c2" x="250.81" y="221.37"/>
<use href="#c2" x="216.7" y="223.15"/>
<use href="#c2" x="161.69" y="216.51"/>
<use href="#c2" x="160.43" y="258.56"/>
<use href="#c2" x="164.44" y="211.89"/>
<use href="#c2" x="191.22" y="280.95"/>
<use href="#c2" x="248.85" y="287.96"/>
<use href="#c2" x="243.6" y="230.65"/>
<use href="#c2" x="222.65" y="233.65"/>
<use href="#c2" x="189.07" y="297.86"/>
<use href="#c2" x="270.6" y="283.29"/>
<use href="#c2" x="281.87" y="266.89"/>
<use href="#c2" x="240.58" y="287.18"/>
<use href="#c2" x="280.28" y="262.45"/>
<use href="#c2" x="185.43" y="255.79"/>
<use href="#c2" x="167.15" y="203.92"/>
<use href="#c2" x="216.12" y="261.62"/>
<use href="#c2" x="211.1" y="302.89"/>
<use href="#c2" x="160.87" y="239.66"/>
<use href="#c2" x="205.65" y="274.61"/>
<use href="#c2" x="171.83" y="281.7"/>
<use href="#c2" x="235.03" y="269.39"/>
<use href="#c2" x="164.25" y="298.18"/>
<use href="#c2" x="208.25" y="213.52"/>
<use href="#c2" x="194.01" y="269.39"/>
<use href="#c2" x="211.22" y="258.34"/>
<use href="#c2" x="268.01" y="305.92"/>
<use href="#c2" x="240.49" y="292.15"/>
<use href="#c2" x="257.51" y="303.05"/>
<use href="#c2" x="236.9" y="216.33"/>
<use href="#c2" x="175.41" y="259.92"/>
<use href="#c2" x="264.42" y="302.5"/>
<use href="#c2" x="184.41" y="297.24"/>
<use href="#c2" x="205.4" y="279.08"/>
<use href="#c2" x="254" y="206.1"/>
<use href="#c2" x="253.77" y="200.16"/>
<use href="#c2" x="296.75" y="267.11"/>
<use href="#c2" x="282.81" y="248.17"/>
<use href="#c2" x="233.08" y="245.3"/>
<use href="#c2" x="205.52" y="298.21"/>
<use href="#c2" x="259.27" y="223.74"/>
<use href="#c2" x="216.52" y="257.27"/>
<use href="#c2" x="183.87" y="223"/>
<use href="#c2" x="204.31" y="290.54"/>
<use href="#c2" x="264.96" y="257.61"/>
<use href="#c2" x="238.96" y="300.27"/>
<use href="#c2" x="228.27" y="244.06"/>
<use href="#c2" x="218.45" y="269.88"/>
<use href="#c2" x="180.82" y="235.27"/>
<use href="#c2" x="164.22" y="263.45"/>
<use href="#c2" x="244.14" y="259.3"/>
<use href="#c2" x="230.04" y="295.96"/>
<use href="#c2" x="283.93" y="276.81"/>
<use href="#c2" x="225.84" y="203.32"/>
<use href="#c2" x="213.97" y="219.08"/>
<use href="#c2" x="284.11" y="216.17"/>
<use href="#c2" x="258.06" y="271.94"/>
<circle cx="282.2" cy="234.36" r="0.7" fill="#6a4c86"/>
<circle cx="270.23" cy="298.82" r="0.7" fill="#6a4c86"/>
<circle cx="204.67" cy="279.21" r="0.7" fill="#6a4c86"/>
<circle cx="207.75" cy="214.53" r="0.7" fill="#6a4c86"/>
<circle cx="209.62" cy="277.38" r="0.7" fill="#6a4c86"/>
<circle cx="182.12" cy="267.54" r="0.7" fill="#6a4c86"/>
<circle cx="210.02" cy="215.09" r="0.7" fill="#6a4c86"/>
<circle cx="220.83" cy="238.35" r="0.7" fill="#6a4c86"/>
<circle cx="224.97" cy="291.28" r="0.7" fill="#6a4c86"/>
<circle cx="287.99" cy="221.32" r="0.7" fill="#6a4c86"/>
<circle cx="297.23" cy="262.49" r="0.7" fill="#6a4c86"/>
<circle cx="293.39" cy="284.39" r="0.7" fill="#6a4c86"/>
<circle cx="233.93" cy="223.84" r="0.7" fill="#6a4c86"/>
<circle cx="289.23" cy="303.91" r="0.7" fill="#6a4c86"/>
<circle cx="247.5" cy="209.46" r="0.7" fill="#6a4c86"/>
<circle cx="274.67" cy="278.88" r="0.7" fill="#6a4c86"/>
<circle cx="282.43" cy="301.47" r="0.7" fill="#6a4c86"/>
<circle cx="295.58" cy="275.77" r="0.7" fill="#6a4c86"/>
<circle cx="215.67" cy="253.95" r="0.7" fill="#6a4c86"/>
<circle cx="231.05" cy="278.36" r="0.7" fill="#6a4c86"/>
<circle cx="247.7" cy="285.39" r="0.7" fill="#6a4c86"/>
<circle cx="232.52" cy="260.14" r="0.7" fill="#6a4c86"/>
<circle cx="293.9" cy="281.73" r="0.7" fill="#6a4c86"/>
<circle cx="289.47" cy="271.77" r="0.7" fill="#6a4c86"/>
<circle cx="178.92" cy="241.83" r="0.7" fill="#6a4c86"/>
</g></g>
<line x1="92" y1="224.2" x2="86.7" y2="220.9" stroke="#2c3f2a" stroke-width="1"/>
<path d="M85.2 220 l3.2 0.2 l-1.4 2.4 z" fill="#2c3f2a"/>
<line x1="141.8" y1="253.6" x2="136.5" y2="250.5" stroke="#2c3f2a" stroke-width="1"/>
<path d="M135 249.6 l3.2 0.2 l-1.4 2.4 z" fill="#2c3f2a"/>
<circle cx="215.7" cy="277.2" r="8.6" fill="#f3eaee"/>
<circle cx="215.7" cy="277.2" r="6.6" fill="#c2aaca"/>
<circle cx="213.56" cy="278.67" r="0.61" fill="#93789f"/>
<circle cx="215.75" cy="282.26" r="0.65" fill="#93789f"/>
<circle cx="212.14" cy="280.42" r="0.82" fill="#93789f"/>
<circle cx="219.46" cy="275.67" r="0.75" fill="#93789f"/>
<circle cx="213.65" cy="275.44" r="1.04" fill="#93789f"/>
<circle cx="213.16" cy="279.77" r="0.91" fill="#93789f"/>
<circle cx="218.42" cy="281.05" r="1.01" fill="#93789f"/>
<circle cx="212.71" cy="281.99" r="0.82" fill="#93789f"/>
<circle cx="216.31" cy="273.27" r="0.74" fill="#93789f"/>
<circle cx="215.64" cy="277.7" r="0.62" fill="#93789f"/>
<circle cx="219.93" cy="276.92" r="0.78" fill="#93789f"/>
<circle cx="219.35" cy="274.55" r="1.09" fill="#93789f"/>
<circle cx="214.02" cy="279.3" r="1.05" fill="#93789f"/>
<circle cx="218.44" cy="281.57" r="0.86" fill="#93789f"/>
<circle cx="221.3" cy="276.59" r="0.9" fill="#93789f"/>
<circle cx="216.56" cy="277.4" r="0.78" fill="#93789f"/>
<circle cx="216.4" cy="275.7" r="0.76" fill="#93789f"/>
<circle cx="218.47" cy="278.86" r="0.5" fill="#93789f"/>
<circle cx="213.69" cy="280.88" r="0.62" fill="#93789f"/>
<circle cx="216.02" cy="275.87" r="0.63" fill="#93789f"/>
<circle cx="215.52" cy="280.88" r="0.96" fill="#93789f"/>
<circle cx="212.77" cy="281.04" r="1.05" fill="#93789f"/>
<circle cx="215.7" cy="277.2" r="8.0" fill="none" stroke="#3d5a3a" stroke-width="0.9" stroke-dasharray="3 2"/>
<rect x="136" y="298.3" width="18.5" height="1.9" fill="#2a3a28"/>
<rect x="277.3" y="298.2" width="16.6" height="1.9" fill="#2a3a28"/>
<text x="72.17" y="315.4" font-size="8.4" fill="#000" textLength="39.87" lengthAdjust="spacingAndGlyphs">Uninfected</text>
<text x="220.73" y="315.4" font-size="8.4" fill="#000" textLength="19.62" lengthAdjust="spacingAndGlyphs">DENV</text>
<text x="316.55" y="190.5" font-size="10.9" fill="#000" textLength="7.1" lengthAdjust="spacingAndGlyphs">E</text>
<line x1="361.5" y1="199.2" x2="361.5" y2="302.6" stroke="#111" stroke-width="1.2"/>
<line x1="360.9" y1="302" x2="493.4" y2="302" stroke="#111" stroke-width="1.2"/>
<line x1="357.8" y1="302" x2="361.5" y2="302" stroke="#111" stroke-width="1.2"/>
<text x="355.4" y="304.7" font-size="7.6" text-anchor="end" fill="#000">0</text>
<line x1="357.8" y1="281.75" x2="361.5" y2="281.75" stroke="#111" stroke-width="1.2"/>
<text x="355.4" y="284.45" font-size="7.6" text-anchor="end" fill="#000">20</text>
<line x1="357.8" y1="261.5" x2="361.5" y2="261.5" stroke="#111" stroke-width="1.2"/>
<text x="355.4" y="264.2" font-size="7.6" text-anchor="end" fill="#000">40</text>
<line x1="357.8" y1="241.25" x2="361.5" y2="241.25" stroke="#111" stroke-width="1.2"/>
<text x="355.4" y="243.95" font-size="7.6" text-anchor="end" fill="#000">60</text>
<line x1="357.8" y1="221" x2="361.5" y2="221" stroke="#111" stroke-width="1.2"/>
<text x="355.4" y="223.7" font-size="7.6" text-anchor="end" fill="#000">80</text>
<line x1="357.8" y1="200.75" x2="361.5" y2="200.75" stroke="#111" stroke-width="1.2"/>
<text x="355.4" y="203.45" font-size="7.6" text-anchor="end" fill="#000">100</text>
<line x1="383.8" y1="302" x2="383.8" y2="304.8" stroke="#111" stroke-width="1.2"/>
<text x="383.8" y="315" font-size="8" text-anchor="middle" fill="#000">D1</text>
<line x1="427.6" y1="302" x2="427.6" y2="304.8" stroke="#111" stroke-width="1.2"/>
<text x="427.6" y="315" font-size="8" text-anchor="middle" fill="#000">D2</text>
<line x1="471.2" y1="302" x2="471.2" y2="304.8" stroke="#111" stroke-width="1.2"/>
<text x="471.2" y="315" font-size="8" text-anchor="middle" fill="#000">D3</text>
<path d="M383.8 226.6 L427.7 252.4 L471.2 289.2" stroke="#36578d" stroke-width="1.7" fill="none"/>
<path d="M383.8 225 L427.7 251.6 L471.2 277.4" stroke="#b3263f" stroke-width="1.7" fill="none"/>
<path d="M381.2 222.7 H386.4 M383.8 222.7 V228.2 M381.2 228.2 H386.4" stroke="#1a1a1a" stroke-width="1.0" fill="none"/>
<path d="M425.1 240 H430.3 M427.7 240 V264.7 M425.1 264.7 H430.3" stroke="#1a1a1a" stroke-width="1.0" fill="none"/>
<path d="M468.6 287 H473.8 M471.2 287 V291.6 M468.6 291.6 H473.8" stroke="#1a1a1a" stroke-width="1.0" fill="none"/>
<path d="M381.2 223 H386.4 M383.8 223 V227.5 M381.2 227.5 H386.4" stroke="#1a1a1a" stroke-width="1.0" fill="none"/>
<path d="M425.1 245.8 H430.3 M427.7 245.8 V257.3 M425.1 257.3 H430.3" stroke="#1a1a1a" stroke-width="1.0" fill="none"/>
<path d="M468.6 275.3 H473.8 M471.2 275.3 V279.6 M468.6 279.6 H473.8" stroke="#1a1a1a" stroke-width="1.0" fill="none"/>
<rect x="382.1" y="224.9" width="3.4" height="3.4" fill="#36578d"/>
<rect x="426" y="250.7" width="3.4" height="3.4" fill="#36578d"/>
<rect x="469.5" y="287.5" width="3.4" height="3.4" fill="#36578d"/>
<circle cx="383.8" cy="225" r="1.8" fill="#b3263f"/>
<circle cx="427.7" cy="251.6" r="1.8" fill="#b3263f"/>
<circle cx="471.2" cy="277.4" r="1.8" fill="#b3263f"/>
<text x="383.8" y="219.9" font-size="7.3" text-anchor="middle" fill="#000">ns</text>
<text x="427.7" y="235.6" font-size="7.3" text-anchor="middle" fill="#000">ns</text>
<text x="471.2" y="271" font-size="7" text-anchor="middle" fill="#000">**</text>
<line x1="365" y1="283.3" x2="376.5" y2="283.3" stroke="#b3263f" stroke-width="1.6"/>
<circle cx="370.5" cy="283.3" r="1.8" fill="#b3263f"/>
<text x="378.8" y="286.2" font-size="8" text-anchor="start" fill="#000">Uninfected</text>
<line x1="365" y1="295.3" x2="376.5" y2="295.3" stroke="#36578d" stroke-width="1.6"/>
<rect x="368.8" y="293.6" width="3.4" height="3.4" fill="#36578d"/>
<text x="378.8" y="298.2" font-size="8" text-anchor="start" fill="#000">DENV2</text>
<text x="322.73" y="296.1" font-size="9.4" fill="#000" transform="rotate(-90 323.2 296.1)" textLength="93.36" lengthAdjust="spacingAndGlyphs">Circulating labelled Plt</text>
<text x="333.73" y="273.4" font-size="9.4" fill="#000" transform="rotate(-90 334.3 273.4)" textLength="49.17" lengthAdjust="spacingAndGlyphs">(% total Plt)</text>
<text x="7.74" y="340.8" font-size="10.9" fill="#000" textLength="7.36" lengthAdjust="spacingAndGlyphs">F</text>
<defs><radialGradient id="fg0"><stop offset="0" stop-color="#111" stop-opacity="1"/><stop offset="1" stop-color="#222" stop-opacity="0"/></radialGradient></defs>
<ellipse cx="58.7" cy="378.3" rx="10" ry="11" fill="url(#fg0)" opacity=".85"/>
<path d="M62.1 383.0h.7M55.4 375.1h.7M60.4 385.6h.7M60.6 372.1h.7M55.5 379.0h.7M62.9 376.7h.7M57.3 377.6h.7M59.6 374.4h.7M58.8 379.3h.7M65.9 375.5h.7M63.0 372.0h.7M62.5 377.6h.7M56.5 378.8h.7M62.7 375.3h.7M63.3 383.6h.7M65.8 383.2h.7M53.4 381.5h.7M55.9 383.4h.7M59.2 379.0h.7M60.8 374.7h.7M59.3 374.7h.7M67.8 373.0h.7M58.9 370.0h.7M52.5 376.4h.7M62.3 380.5h.7M60.1 374.8h.7M66.8 370.7h.7M55.2 381.6h.7M54.6 380.8h.7M63.0 376.4h.7M60.6 377.7h.7M55.9 364.5h.7M53.6 379.8h.7M51.8 377.9h.7M59.8 384.0h.7M52.9 377.7h.7M59.8 380.2h.7M52.9 388.7h.7M55.3 384.3h.7M58.0 380.3h.7M66.1 379.0h.7M59.4 373.3h.7M56.0 372.5h.7M67.6 368.0h.7M47.7 389.4h.7M64.4 374.6h.7M62.5 373.1h.7M56.3 381.3h.7M60.6 375.4h.7M65.9 379.2h.7M59.5 372.4h.7M59.4 376.4h.7M58.5 381.9h.7M56.3 380.2h.7M62.3 378.6h.7M68.9 366.7h.7M58.6 372.7h.7M58.5 389.9h.7M51.7 379.1h.7M61.7 377.6h.7M62.8 369.5h.7M63.1 372.2h.7M53.5 382.5h.7M60.9 374.0h.7M55.2 378.3h.7M58.8 377.3h.7M54.4 368.8h.7M64.5 377.0h.7M53.4 372.6h.7M55.8 377.2h.7M49.5 387.7h.7M60.7 375.9h.7M60.3 378.6h.7M63.4 377.2h.7M64.3 383.4h.7M57.4 376.4h.7M54.9 378.3h.7M55.6 379.2h.7M60.1 380.1h.7M53.7 384.8h.7M57.4 378.0h.7M56.5 369.5h.7M59.9 369.4h.7M63.6 376.6h.7M65.6 378.8h.7M61.8 383.5h.7M58.6 385.3h.7M58.2 379.4h.7M55.8 381.6h.7M61.7 374.7h.7M53.1 379.7h.7M60.6 376.7h.7M54.5 376.1h.7M57.6 366.2h.7M56.2 385.6h.7M53.1 378.9h.7M66.1 378.9h.7M62.8 376.0h.7M52.9 393.4h.7M60.1 378.7h.7M65.9 379.4h.7M59.0 372.8h.7M58.1 377.6h.7M55.8 375.0h.7M54.4 378.9h.7M56.1 380.8h.7M63.2 378.0h.7M58.8 385.3h.7M61.6 370.2h.7M55.6 380.0h.7M54.9 382.8h.7M51.1 371.7h.7M63.0 379.3h.7M51.7 380.7h.7M64.6 370.9h.7M53.5 374.1h.7M54.4 371.4h.7M56.6 372.0h.7M59.0 388.3h.7M54.1 383.8h.7M63.8 365.6h.7M59.2 377.8h.7M57.2 382.2h.7M56.8 380.3h.7M57.0 377.9h.7M55.3 389.7h.7M58.5 372.9h.7M67.3 382.5h.7M57.8 375.2h.7M55.5 384.8h.7M57.3 375.2h.7M62.4 375.5h.7M58.5 387.1h.7M62.5 382.5h.7M60.5 383.4h.7M58.0 382.7h.7M63.3 374.6h.7M53.1 382.4h.7M58.2 381.0h.7M56.1 381.3h.7M62.9 387.6h.7M66.5 377.2h.7M65.0 373.0h.7M63.9 376.9h.7M64.5 377.6h.7M57.7 375.0h.7M64.2 376.4h.7M61.8 379.2h.7M49.8 383.8h.7M57.1 380.4h.7M60.8 368.9h.7M57.3 378.2h.7M60.4 381.8h.7M55.7 377.9h.7M61.4 368.6h.7M66.8 370.9h.7M64.5 376.8h.7M67.0 380.1h.7M58.6 370.2h.7M59.3 379.3h.7M61.1 371.3h.7M55.1 375.6h.7M59.9 373.5h.7M58.2 382.5h.7M56.9 384.9h.7M60.0 376.4h.7M63.5 378.7h.7M57.5 375.7h.7M58.5 379.7h.7M63.7 377.6h.7M56.0 372.7h.7M59.8 379.5h.7M63.7 373.9h.7M53.0 383.8h.7M58.0 372.6h.7M66.0 379.7h.7M59.0 379.2h.7M55.4 383.7h.7M56.8 376.5h.7M57.4 373.2h.7M63.2 384.3h.7M62.0 367.3h.7M57.4 375.5h.7M60.3 367.5h.7M49.3 379.0h.7M63.0 375.7h.7M68.4 370.8h.7M58.9 377.3h.7M55.1 384.4h.7M52.9 375.0h.7M57.1 376.3h.7M63.6 373.9h.7M60.9 375.1h.7M64.3 376.1h.7M59.9 370.0h.7M61.8 374.0h.7M62.6 379.1h.7M61.1 382.4h.7M60.4 373.4h.7M59.4 378.6h.7M53.6 382.6h.7M65.1 377.0h.7M59.2 380.0h.7M63.5 373.9h.7M62.9 373.2h.7M61.0 379.6h.7M53.1 382.9h.7M59.7 369.9h.7M56.7 375.8h.7M54.8 381.2h.7M55.3 379.4h.7M54.0 378.4h.7M66.7 377.3h.7M51.9 375.9h.7M58.1 370.7h.7M63.0 376.4h.7M58.4 378.4h.7M55.7 373.7h.7M59.7 380.8h.7M57.9 369.8h.7M57.2 378.7h.7M53.0 386.2h.7M53.8 379.6h.7M53.9 383.8h.7M53.2 375.7h.7M63.6 370.5h.7M56.3 381.3h.7M60.3 369.4h.7M61.3 375.8h.7M64.0 368.2h.7M62.0 378.8h.7M57.0 376.6h.7M60.4 374.2h.7M57.2 374.9h.7M59.3 380.9h.7M51.7 380.4h.7M60.0 384.5h.7M55.5 384.9h.7M56.8 380.9h.7M59.7 378.9h.7M57.2 373.9h.7M65.2 382.6h.7M58.2 377.4h.7M57.8 372.1h.7M53.8 381.5h.7M62.8 375.6h.7M54.6 374.4h.7M56.0 382.1h.7M58.9 371.3h.7M53.6 381.2h.7M60.0 385.7h.7M65.0 376.7h.7M55.7 379.9h.7M53.7 376.5h.7M63.1 379.4h.7M62.7 383.9h.7M56.9 382.3h.7M59.0 379.3h.7M59.7 380.1h.7M52.6 373.7h.7M59.1 380.1h.7M56.6 378.2h.7M52.5 384.5h.7M60.7 384.3h.7M56.9 378.1h.7M59.0 384.2h.7M61.1 379.0h.7M51.5 376.4h.7M52.3 379.3h.7M62.4 377.0h.7M54.7 388.8h.7M53.9 386.0h.7M63.7 377.5h.7M64.6 371.0h.7M56.3 377.4h.7M60.3 376.6h.7M66.1 373.7h.7M57.7 372.7h.7M60.8 381.0h.7M55.4 373.3h.7M52.6 385.4h.7M62.1 378.1h.7M62.0 379.1h.7M60.7 369.8h.7M60.9 380.5h.7M63.6 380.8h.7M55.7 380.2h.7M52.5 386.7h.7M52.7 383.3h.7M55.2 375.3h.7M54.8 377.8h.7M60.3 382.6h.7M57.4 382.4h.7M62.5 386.3h.7M56.1 380.3h.7M61.7 377.6h.7M61.4 374.0h.7M57.1 375.6h.7M55.9 374.8h.7M58.2 372.4h.7M56.2 381.5h.7M51.8 375.4h.7M56.9 373.6h.7M54.3 388.1h.7M60.1 375.4h.7M55.4 371.8h.7M53.6 368.9h.7M61.1 374.8h.7M62.6 376.6h.7M49.9 389.7h.7M60.9 381.3h.7M56.2 376.2h.7M57.9 386.5h.7M53.2 374.8h.7M60.9 368.1h.7M65.1 370.5h.7M63.8 375.5h.7M57.1 373.2h.7M65.0 374.6h.7M52.8 382.9h.7M58.1 380.6h.7M56.9 380.3h.7M60.6 377.4h.7M51.5 382.6h.7M64.7 378.0h.7M62.7 380.3h.7M57.3 383.3h.7M57.6 373.7h.7M53.2 384.6h.7M61.7 379.9h.7M56.2 370.4h.7M62.1 376.4h.7M56.0 376.0h.7M56.2 370.2h.7M61.4 380.3h.7M62.5 375.0h.7M53.2 373.5h.7M57.3 386.5h.7M62.7 376.8h.7M60.7 381.1h.7M58.9 379.0h.7M59.6 375.0h.7M53.7 377.0h.7M63.7 369.0h.7M56.8 376.7h.7M58.8 375.8h.7M62.1 375.1h.7M58.6 381.3h.7M52.5 385.1h.7M63.2 370.4h.7M58.3 374.7h.7M57.1 382.1h.7M50.5 384.6h.7M60.5 377.3h.7M68.3 372.5h.7M52.1 381.9h.7M59.3 374.9h.7M49.4 372.3h.7M65.8 368.6h.7M64.7 379.8h.7M49.1 382.1h.7M61.5 382.2h.7M64.5 381.9h.7M58.5 376.9h.7M57.8 380.7h.7M54.6 374.4h.7M68.7 379.1h.7M63.3 375.4h.7M55.0 377.3h.7M55.2 376.2h.7M51.9 383.1h.7M60.1 381.1h.7M59.0 374.6h.7M67.5 379.4h.7M61.1 381.2h.7M57.4 381.8h.7M55.4 383.7h.7M62.8 380.5h.7M60.4 378.0h.7M59.7 381.0h.7M56.7 381.9h.7M62.0 371.0h.7M51.2 381.8h.7M57.2 374.8h.7M53.3 374.7h.7M51.5 378.7h.7M51.9 372.3h.7M58.1 385.1h.7M64.0 375.4h.7M60.3 376.3h.7M58.1 374.6h.7M58.7 373.1h.7M55.5 378.3h.7M58.3 387.5h.7M54.9 374.1h.7M61.4 379.7h.7M61.6 376.4h.7M52.1 378.5h.7M53.1 379.5h.7M66.2 374.0h.7M59.1 382.8h.7M52.9 383.4h.7M57.1 375.3h.7M57.0 373.9h.7M62.3 377.2h.7M56.6 380.9h.7M52.1 367.4h.7M64.3 373.4h.7M61.9 372.7h.7M50.7 375.5h.7M62.6 378.3h.7M55.9 382.0h.7M57.3 379.2h.7M53.9 369.0h.7M59.0 380.9h.7M54.7 386.5h.7M59.8 385.6h.7M61.5 382.6h.7M57.5 371.5h.7M68.2 380.7h.7M61.6 372.7h.7M62.5 371.8h.7M60.9 381.4h.7M60.8 372.6h.7M61.3 377.9h.7M61.0 383.0h.7M55.7 375.0h.7M49.4 387.9h.7M55.1 385.0h.7M60.2 382.9h.7M59.6 379.8h.7M57.6 380.4h.7M54.0 384.2h.7M51.2 378.0h.7M56.9 378.9h.7M58.1 373.5h.7M58.8 365.2h.7M55.4 378.6h.7M55.5 383.4h.7M57.8 380.2h.7M53.5 383.8h.7M61.7 369.8h.7M64.6 370.4h.7M53.3 383.3h.7M66.1 378.3h.7M57.8 374.8h.7M55.2 379.8h.7M60.0 372.8h.7M60.6 366.9h.7M59.4 373.2h.7M52.9 389.4h.7M61.1 375.5h.7M53.7 385.9h.7M58.8 374.1h.7M48.1 385.5h.7M61.7 379.0h.7M53.8 370.9h.7M63.4 374.7h.7M61.7 364.9h.7M57.2 381.5h.7M58.2 386.3h.7M62.2 381.3h.7M61.4 375.8h.7M55.0 375.1h.7M63.9 375.1h.7M49.2 381.8h.7M58.7 375.4h.7M60.2 373.1h.7M69.8 372.0h.7M54.1 379.7h.7M59.2 381.5h.7M59.4 380.5h.7M58.5 376.6h.7M53.9 375.9h.7M58.2 372.1h.7M61.9 375.3h.7M63.5 379.8h.7M57.1 392.3h.7M64.6 372.7h.7M60.4 374.4h.7M54.4 379.9h.7M56.3 382.5h.7M52.4 381.1h.7M64.1 377.1h.7M66.7 384.2h.7M53.1 377.9h.7M56.0 385.6h.7M56.3 368.9h.7M55.6 377.2h.7M57.7 377.2h.7M58.6 374.0h.7M58.3 375.7h.7M56.5 377.1h.7M62.1 377.7h.7M61.2 373.4h.7M51.0 379.4h.7M62.1 376.4h.7M56.1 371.2h.7M59.8 373.5h.7M51.1 381.9h.7M58.7 383.4h.7M53.0 373.1h.7M59.0 384.8h.7M59.2 380.5h.7M52.4 381.1h.7M51.9 371.5h.7M61.5 382.0h.7M55.3 379.6h.7M60.8 376.0h.7M58.6 379.4h.7M54.7 374.0h.7M60.3 387.9h.7M56.7 376.3h.7M66.7 372.0h.7M55.3 387.8h.7M61.5 380.2h.7M49.1 386.9h.7M57.4 382.8h.7M60.9 385.6h.7M62.2 385.1h.7M55.7 384.0h.7M61.2 374.6h.7M52.5 378.9h.7M54.7 377.1h.7M56.4 375.6h.7M59.0 378.4h.7M54.2 375.7h.7M59.5 375.1h.7M56.4 374.2h.7M50.5 379.4h.7M54.0 379.0h.7M57.2 376.4h.7M62.4 372.7h.7M63.6 377.8h.7M70.2 369.8h.7M55.6 380.7h.7M62.0 375.4h.7M62.0 377.3h.7M52.2 381.4h.7M62.3 378.5h.7M58.1 373.9h.7M61.8 383.5h.7M52.5 382.9h.7M50.7 381.5h.7M61.4 370.2h.7M52.7 380.4h.7M57.4 379.7h.7M64.7 370.4h.7M59.6 368.5h.7M62.5 379.0h.7M51.4 376.7h.7M51.0 379.5h.7M54.1 384.6h.7M60.4 371.4h.7M65.1 376.8h.7M62.4 376.8h.7M64.3 381.4h.7M62.1 383.3h.7M61.4 378.5h.7M55.3 369.1h.7M64.2 379.0h.7M53.8 383.6h.7M59.4 378.2h.7M66.9 379.9h.7M52.7 380.4h.7M63.2 381.8h.7M61.1 375.4h.7M60.3 368.5h.7M64.4 375.8h.7M56.2 375.4h.7M59.4 373.8h.7M54.3 374.9h.7M66.4 374.9h.7M61.0 378.9h.7M55.9 382.6h.7M58.0 374.7h.7M54.2 377.6h.7M56.6 385.0h.7M47.5 387.0h.7M65.2 383.1h.7M55.5 375.1h.7M64.3 379.3h.7M60.0 373.5h.7M57.4 372.8h.7M66.1 380.5h.7M56.8 383.6h.7M59.3 368.3h.7M61.3 373.6h.7M60.2 375.3h.7M54.3 377.9h.7M63.4 370.9h.7M54.4 372.3h.7M56.0 383.1h.7M62.0 379.5h.7M60.9 384.5h.7M65.4 383.3h.7M54.8 376.3h.7M62.2 380.3h.7M56.4 377.7h.7M62.8 376.0h.7M55.4 380.6h.7M56.2 381.5h.7M59.7 376.2h.7M54.8 384.0h.7M54.8 379.8h.7M57.1 378.7h.7M57.0 383.2h.7M59.2 372.9h.7M53.2 383.3h.7M57.8 384.1h.7M60.8 383.4h.7M52.5 378.4h.7M64.2 370.3h.7M61.9 376.7h.7M63.3 375.0h.7M55.5 382.9h.7M68.3 369.3h.7M60.0 373.9h.7M60.9 379.4h.7M55.5 372.7h.7M59.0 378.0h.7M62.7 376.5h.7M63.5 377.8h.7M65.3 380.7h.7M52.7 378.8h.7M60.7 376.3h.7M60.4 385.5h.7M55.0 376.1h.7M54.9 384.4h.7M68.8 370.8h.7M69.3 368.0h.7M59.4 378.6h.7M60.3 374.4h.7M53.8 378.9h.7M63.4 375.6h.7M60.7 379.7h.7M65.4 370.9h.7M65.9 384.8h.7M53.8 385.1h.7M50.7 377.0h.7M57.6 378.4h.7M50.7 377.5h.7M51.7 385.0h.7M54.8 380.8h.7M56.7 381.3h.7M47.6 381.7h.7M52.4 375.8h.7M60.5 381.4h.7M54.9 377.0h.7M67.5 375.6h.7M63.1 381.5h.7M62.3 376.3h.7M58.2 382.3h.7M60.7 380.1h.7M61.5 374.8h.7M55.2 372.7h.7M59.7 377.7h.7M59.3 367.4h.7M57.0 373.6h.7M63.0 379.9h.7M61.7 379.6h.7M63.9 377.5h.7M55.2 380.0h.7M59.0 379.6h.7M61.0 377.7h.7M59.8 377.5h.7M57.7 373.3h.7M55.5 377.0h.7M66.6 374.3h.7M54.8 382.1h.7M60.9 375.9h.7M63.0 371.9h.7M53.7 377.3h.7M57.1 377.4h.7M58.7 382.4h.7M59.0 379.8h.7M57.6 373.6h.7M58.5 373.4h.7M61.8 375.7h.7M54.1 379.2h.7M59.3 375.4h.7M54.1 378.1h.7M56.4 376.4h.7M68.1 382.4h.7M63.4 375.4h.7M63.2 379.2h.7M58.9 377.9h.7M58.8 369.8h.7M63.2 380.7h.7M59.9 379.3h.7M55.0 378.7h.7M55.8 374.2h.7M60.0 388.0h.7M66.6 375.7h.7M56.8 388.4h.7M54.9 376.0h.7M60.5 386.4h.7M65.7 366.4h.7M50.2 375.2h.7M63.8 372.0h.7M55.5 384.5h.7M54.2 386.6h.7M50.3 377.7h.7M64.4 371.2h.7M59.9 381.7h.7M62.1 379.0h.7M60.7 380.6h.7M59.3 375.5h.7M67.3 369.9h.7M59.1 374.4h.7M57.5 383.4h.7M51.3 373.2h.7M60.6 377.6h.7M59.1 377.0h.7M60.9 375.4h.7M63.6 375.6h.7M52.2 374.8h.7M60.7 373.0h.7M51.2 382.5h.7M58.6 382.0h.7M65.0 368.9h.7M60.6 373.6h.7M57.6 380.2h.7M59.4 376.5h.7M59.1 378.8h.7M61.7 378.5h.7M57.9 385.5h.7M57.0 380.8h.7M55.3 369.8h.7M59.5 379.2h.7M50.1 386.9h.7M60.9 378.2h.7M54.2 373.2h.7M57.4 378.8h.7M56.8 378.0h.7M60.0 378.3h.7M60.6 376.5h.7M50.6 382.0h.7M60.0 382.0h.7M60.2 371.7h.7M60.6 382.8h.7M66.8 375.0h.7M59.6 377.4h.7M63.6 378.4h.7M69.9 375.2h.7M57.2 384.2h.7M62.0 373.5h.7M58.9 375.2h.7M52.0 382.8h.7M55.9 379.5h.7M61.3 373.7h.7M62.0 374.8h.7M59.8 375.5h.7M53.8 369.4h.7M55.5 375.6h.7M70.1 372.7h.7M60.1 374.6h.7M63.8 379.7h.7M59.7 378.9h.7M48.8 377.5h.7M57.6 387.0h.7M68.9 371.9h.7M60.8 378.5h.7M69.7 371.0h.7M60.0 380.2h.7M58.2 376.1h.7M60.8 379.0h.7M55.0 377.1h.7M60.1 375.3h.7M64.9 371.0h.7M54.5 383.9h.7M57.7 376.2h.7M63.0 374.5h.7M50.1 380.0h.7M62.1 377.3h.7M65.8 377.1h.7M60.1 384.8h.7M55.8 363.9h.7M60.6 381.7h.7M59.8 372.7h.7M61.7 383.3h.7M60.0 372.7h.7M57.0 380.3h.7M51.7 385.3h.7M52.0 389.4h.7M55.6 383.2h.7M60.5 367.3h.7M61.3 373.1h.7M56.5 379.5h.7M50.8 378.6h.7M60.1 381.3h.7M63.1 378.6h.7M54.0 370.4h.7M60.1 382.3h.7M58.2 376.4h.7M53.1 377.0h.7M61.6 377.6h.7M59.3 375.1h.7M55.7 375.3h.7M51.8 386.4h.7M51.5 386.2h.7M61.1 371.8h.7M61.9 379.4h.7M62.0 375.9h.7M56.2 377.1h.7M58.0 371.2h.7M63.2 372.5h.7M64.7 381.3h.7M49.3 376.0h.7M54.8 378.8h.7M53.4 381.9h.7M56.7 372.4h.7M62.2 372.4h.7M61.1 386.1h.7M58.1 375.5h.7M50.4 383.0h.7M56.7 377.6h.7M63.4 370.8h.7M60.9 384.1h.7M62.5 372.1h.7M63.9 374.4h.7M65.1 376.4h.7M63.4 367.3h.7M59.0 366.7h.7M60.3 372.5h.7M61.2 378.2h.7M68.3 378.1h.7M62.1 367.4h.7M59.5 372.7h.7M57.8 377.9h.7M61.1 381.2h.7M62.3 378.1h.7M56.1 378.5h.7M59.5 379.5h.7M50.6 383.1h.7M52.2 382.5h.7M57.0 370.3h.7M60.2 372.2h.7M61.3 378.0h.7M58.0 382.4h.7M54.5 376.2h.7M58.1 381.0h.7M57.6 363.0h.7M58.0 375.8h.7M56.0 371.0h.7M52.6 378.5h.7M62.0 372.8h.7M58.0 375.5h.7M61.7 371.8h.7M60.9 383.4h.7M60.9 372.8h.7M56.1 385.7h.7M69.9 373.9h.7M56.8 383.6h.7M57.0 380.4h.7M55.2 378.1h.7M50.5 381.9h.7M59.5 380.6h.7M65.0 378.8h.7M58.0 381.4h.7M50.1 370.3h.7M58.9 366.2h.7M63.6 374.0h.7M60.1 385.3h.7M59.0 379.6h.7M53.6 385.1h.7M55.7 375.4h.7M60.6 379.4h.7M54.6 376.2h.7M51.7 378.3h.7M50.8 376.5h.7M63.4 373.7h.7M55.4 383.4h.7M58.7 380.9h.7M57.8 373.3h.7M63.1 377.2h.7M58.0 379.7h.7M64.7 376.9h.7M61.6 368.6h.7M56.1 376.9h.7M56.4 375.9h.7M59.2 382.0h.7M60.1 379.2h.7M60.5 377.2h.7M65.3 374.5h.7M58.6 375.8h.7M57.5 375.6h.7M53.9 379.4h.7M60.4 376.2h.7M64.5 376.3h.7M52.4 379.0h.7M62.3 379.1h.7M57.4 372.4h.7M58.5 378.6h.7M67.6 377.7h.7M58.4 379.9h.7M57.9 381.4h.7M57.4 378.0h.7M52.6 378.4h.7M52.9 378.5h.7M58.9 382.6h.7M58.7 374.2h.7M60.0 374.9h.7M49.4 382.5h.7M56.9 375.4h.7M56.3 381.6h.7M58.7 373.5h.7M62.2 370.7h.7M61.3 372.1h.7M57.4 385.4h.7M57.4 379.0h.7M56.0 379.8h.7M61.8 378.6h.7M65.0 374.0h.7M53.4 382.3h.7M54.4 383.4h.7M58.1 387.4h.7M60.0 372.7h.7M54.7 377.8h.7M59.8 368.8h.7M60.6 376.4h.7M61.3 375.3h.7M62.2 379.9h.7M57.4 376.6h.7M51.6 370.8h.7M60.2 368.9h.7M60.9 380.8h.7M58.8 382.5h.7M69.7 363.9h.7M58.2 384.2h.7M49.6 373.2h.7M56.6 379.4h.7M60.7 378.9h.7M56.8 378.9h.7M57.7 375.5h.7M65.5 377.7h.7M51.5 382.2h.7M54.9 377.1h.7M66.5 379.3h.7M57.2 375.2h.7M64.1 379.5h.7M65.3 372.5h.7M71.0 366.9h.7M60.7 379.5h.7M56.6 379.2h.7M50.6 381.6h.7M58.2 386.8h.7M58.5 386.7h.7M60.7 378.4h.7M64.3 377.9h.7M65.4 376.8h.7M50.4 385.8h.7M52.4 385.9h.7M58.8 373.5h.7M59.8 371.4h.7M54.8 376.6h.7M61.7 381.7h.7M54.1 379.0h.7M61.4 376.8h.7M63.5 373.2h.7M63.3 380.0h.7M60.7 382.4h.7M51.2 381.5h.7M60.1 376.6h.7M66.1 367.8h.7M59.8 379.2h.7M57.6 378.6h.7M62.4 380.7h.7M60.2 383.6h.7M60.4 384.1h.7M57.5 377.1h.7M54.7 369.6h.7M60.0 377.5h.7M57.2 374.7h.7M54.5 382.0h.7M64.6 378.0h.7M64.6 382.7h.7M63.6 380.2h.7M57.6 378.0h.7M62.6 380.3h.7M56.7 380.4h.7M61.3 379.2h.7M59.6 375.4h.7M58.8 375.7h.7M61.8 369.6h.7M61.9 373.8h.7M63.2 375.7h.7M53.1 373.4h.7M59.5 378.9h.7M57.6 375.2h.7M59.7 383.0h.7M60.3 380.7h.7M59.3 379.8h.7M62.1 368.6h.7M58.2 373.2h.7M63.6 373.6h.7M57.8 378.0h.7M56.8 381.2h.7M52.5 370.0h.7M56.0 375.9h.7M59.6 376.0h.7M59.1 376.5h.7M65.9 373.9h.7M63.7 375.8h.7M56.3 374.9h.7M58.7 372.2h.7M51.1 382.8h.7M62.0 375.5h.7M58.0 393.2h.7M56.5 382.6h.7M55.2 378.0h.7M55.3 380.2h.7M51.3 383.4h.7M59.6 367.0h.7M61.9 375.4h.7M59.9 370.5h.7M55.1 375.4h.7M63.7 373.5h.7M60.6 376.5h.7M57.2 380.4h.7M57.8 373.2h.7M57.0 382.4h.7M55.0 379.6h.7M52.6 380.3h.7M61.8 377.4h.7M52.3 379.1h.7M52.7 375.8h.7M49.8 385.1h.7M59.3 372.3h.7M51.5 376.8h.7M58.0 382.0h.7M53.5 379.8h.7M63.6 378.1h.7M66.4 370.9h.7M52.1 378.4h.7M57.5 379.7h.7M61.1 372.0h.7M54.0 375.4h.7M62.4 376.1h.7M52.2 376.9h.7M55.0 369.8h.7M66.3 377.6h.7M62.4 377.7h.7M53.9 386.3h.7M63.0 372.7h.7M52.6 377.7h.7M62.9 377.3h.7M57.4 378.9h.7M57.4 382.0h.7M60.7 379.5h.7M54.2 384.5h.7M61.0 373.9h.7M60.3 370.3h.7M61.0 379.1h.7M60.4 375.6h.7M54.6 374.9h.7M61.3 369.5h.7M59.7 375.4h.7M57.1 368.7h.7M53.1 369.7h.7M63.0 379.2h.7M62.4 376.0h.7M56.6 381.9h.7M55.4 382.6h.7M55.3 379.0h.7M48.6 381.4h.7M56.8 381.5h.7M64.7 372.3h.7M61.3 367.1h.7M62.4 376.3h.7M65.9 375.6h.7M56.4 374.9h.7M65.3 371.1h.7M53.2 377.1h.7M56.3 380.3h.7M56.8 385.9h.7M53.4 380.0h.7M52.9 370.9h.7M60.1 378.9h.7M59.1 374.6h.7M53.9 377.3h.7M55.7 373.2h.7M53.9 383.4h.7M66.4 371.8h.7M51.8 382.3h.7M56.2 389.1h.7M64.4 376.2h.7M59.7 367.4h.7M53.6 378.3h.7M52.9 375.0h.7M54.3 384.2h.7M58.7 379.9h.7M61.1 378.6h.7M56.8 380.0h.7M60.0 370.6h.7M56.6 380.6h.7M51.0 385.4h.7M62.2 370.7h.7M52.4 386.0h.7M54.7 379.1h.7M64.0 372.1h.7M60.3 378.1h.7M51.2 381.8h.7M53.7 381.9h.7M62.6 381.5h.7M55.2 381.6h.7M60.1 383.6h.7M61.3 372.1h.7M54.3 375.8h.7M57.0 371.6h.7M70.1 375.0h.7M57.3 378.5h.7M57.5 370.6h.7M54.7 384.0h.7M65.7 377.6h.7M55.0 371.7h.7M48.9 383.0h.7M58.3 378.4h.7M62.0 379.1h.7M59.2 381.2h.7M64.0 379.9h.7M66.4 368.5h.7M55.6 383.4h.7M52.8 379.0h.7M58.1 373.3h.7M62.5 377.2h.7M65.3 376.3h.7M64.3 374.9h.7M56.6 373.0h.7M61.3 376.6h.7M55.1 377.4h.7M55.7 379.8h.7M59.5 373.6h.7M57.7 387.5h.7M61.5 377.4h.7M64.6 373.0h.7M59.4 380.1h.7M54.8 371.5h.7M69.2 374.3h.7M58.7 376.0h.7M59.8 372.8h.7M57.8 378.1h.7M64.0 376.7h.7M56.6 375.8h.7M60.3 377.1h.7M65.9 367.9h.7M65.7 380.3h.7M55.2 375.9h.7M53.6 382.0h.7M65.3 372.3h.7M53.9 380.5h.7M61.2 382.4h.7M62.7 371.6h.7M54.8 376.3h.7M67.3 374.3h.7M52.3 379.4h.7M59.9 374.2h.7M56.2 376.1h.7M59.0 373.9h.7M65.3 374.1h.7M53.1 378.8h.7M55.7 377.2h.7M63.5 377.2h.7M57.3 383.5h.7M59.4 380.8h.7M63.0 376.0h.7M58.7 375.4h.7M64.4 379.8h.7M51.4 383.7h.7M63.8 377.0h.7M56.2 377.0h.7M58.1 375.2h.7M60.7 379.0h.7M63.0 377.9h.7M59.3 375.0h.7M57.9 382.4h.7M60.3 386.7h.7M59.8 375.6h.7M53.5 371.1h.7M63.1 376.9h.7M62.5 377.4h.7M62.2 380.4h.7M60.7 384.6h.7M57.4 379.8h.7M54.1 377.8h.7M58.2 370.4h.7M58.8 382.6h.7M56.6 366.7h.7M53.0 377.8h.7M56.3 383.1h.7M56.6 383.7h.7M57.8 382.3h.7M60.6 377.7h.7M61.4 373.9h.7M61.9 376.1h.7M52.6 387.5h.7M52.5 382.5h.7M59.4 373.2h.7M58.9 378.6h.7M62.4 372.1h.7M61.2 364.2h.7M62.8 372.1h.7M63.1 380.5h.7M56.7 378.9h.7M62.7 377.2h.7M52.5 387.0h.7M68.6 374.2h.7M54.9 387.5h.7M55.6 382.0h.7M57.6 377.7h.7M58.0 376.8h.7M52.5 376.0h.7M64.6 378.5h.7M54.6 379.1h.7M59.5 373.8h.7M60.3 382.0h.7M53.3 386.3h.7M59.9 382.1h.7M59.6 372.6h.7M57.4 380.7h.7M55.5 383.7h.7M61.5 361.0h.7M53.6 378.5h.7M59.0 372.7h.7M58.5 385.3h.7M60.2 374.6h.7M59.7 376.4h.7M60.3 381.7h.7M62.9 373.6h.7M56.8 381.5h.7M53.2 381.1h.7M51.1 374.8h.7M63.7 381.5h.7M64.5 374.5h.7M56.7 370.5h.7M61.6 374.3h.7M50.6 383.3h.7M61.3 381.4h.7M63.0 375.6h.7M54.5 381.4h.7M51.2 381.5h.7M62.5 380.0h.7M48.7 386.6h.7M60.9 374.2h.7M53.0 393.0h.7M65.5 376.3h.7M62.3 377.2h.7M54.7 373.8h.7M56.6 376.2h.7M51.7 385.7h.7M57.8 384.0h.7M50.6 377.4h.7M61.3 369.3h.7M54.9 385.8h.7M60.1 376.4h.7M58.0 373.1h.7M54.0 384.0h.7M62.1 367.4h.7M61.7 366.6h.7M62.1 372.6h.7M55.2 369.5h.7M57.3 377.5h.7M53.3 384.0h.7M60.8 377.6h.7M62.4 370.8h.7M66.3 376.4h.7M55.4 376.2h.7M57.5 376.8h.7M63.0 382.1h.7M56.2 372.9h.7M56.0 380.1h.7M65.8 383.6h.7M57.6 383.1h.7M58.4 378.1h.7M57.4 381.2h.7M66.7 381.9h.7M60.4 380.9h.7M57.7 386.5h.7M62.9 371.7h.7M54.7 374.7h.7M65.1 377.1h.7M67.4 372.3h.7M60.7 376.1h.7M55.6 364.8h.7M58.8 381.8h.7M61.9 376.4h.7M62.5 382.5h.7M56.0 384.8h.7M58.6 381.4h.7M54.7 376.7h.7M55.9 373.7h.7M58.8 381.1h.7M60.3 378.4h.7M57.8 374.3h.7M59.8 377.7h.7M62.5 371.6h.7M60.5 385.4h.7M59.9 376.6h.7M61.4 383.5h.7M59.2 374.2h.7M54.8 379.8h.7M52.5 386.0h.7M53.2 376.8h.7M66.9 369.5h.7M58.1 377.1h.7M50.7 389.7h.7M57.6 378.5h.7M56.0 373.7h.7M57.9 372.4h.7M57.8 382.7h.7M61.8 380.6h.7M56.4 378.6h.7M64.6 378.1h.7M53.8 373.5h.7M56.9 379.0h.7M55.0 378.7h.7M61.3 375.3h.7M61.0 371.0h.7M57.0 384.6h.7M61.9 378.4h.7M58.4 376.8h.7M49.8 377.3h.7M66.0 373.7h.7M60.5 373.8h.7M56.5 381.5h.7M60.4 378.2h.7M61.6 378.2h.7M56.6 382.7h.7M50.4 381.8h.7M55.4 383.0h.7M60.3 372.7h.7M56.7 366.5h.7M61.5 374.8h.7M64.1 367.2h.7M58.9 380.5h.7M57.8 371.4h.7M62.1 389.5h.7M51.7 380.3h.7M63.9 382.7h.7M55.8 380.1h.7M52.9 383.0h.7M64.4 371.0h.7M65.2 371.9h.7M56.8 380.7h.7M62.6 373.9h.7M65.0 374.0h.7M60.2 371.5h.7M60.3 382.6h.7M57.6 376.4h.7M53.2 385.8h.7M58.9 378.7h.7M59.5 382.6h.7M57.7 383.9h.7M58.1 383.1h.7M65.9 371.2h.7M59.0 372.9h.7M51.2 377.7h.7M59.8 381.9h.7M61.9 380.9h.7M56.3 385.3h.7M54.5 384.5h.7M53.5 376.9h.7M54.6 381.5h.7M63.2 381.3h.7M57.1 382.0h.7M62.4 373.9h.7M63.5 380.5h.7M55.2 381.9h.7M54.6 376.0h.7M61.7 374.6h.7M62.0 368.6h.7M58.7 378.8h.7M61.7 381.7h.7M62.0 373.0h.7M59.1 384.1h.7M61.2 366.9h.7M56.0 377.9h.7M53.8 377.8h.7M59.2 379.9h.7M61.2 374.5h.7M62.6 372.3h.7M68.2 375.0h.7M61.5 376.7h.7M58.2 376.9h.7M60.6 375.8h.7M53.3 374.6h.7M51.0 375.5h.7M63.8 387.6h.7M57.5 376.6h.7M61.6 377.8h.7M61.9 380.1h.7M61.3 379.8h.7M62.8 370.8h.7M58.2 380.5h.7M61.9 379.1h.7M60.9 378.3h.7M62.6 376.5h.7M59.4 376.4h.7M59.5 379.0h.7M49.9 378.9h.7M61.2 373.6h.7M60.0 373.1h.7M55.1 378.7h.7M55.6 384.9h.7M56.5 380.8h.7M58.1 379.4h.7M51.6 387.7h.7M55.5 377.7h.7M53.4 380.8h.7M62.1 381.5h.7M58.4 380.3h.7M59.3 382.0h.7M58.4 376.6h.7M52.9 380.6h.7M60.1 375.4h.7M59.5 373.6h.7M63.3 381.4h.7M55.5 364.6h.7M58.4 385.4h.7M63.7 374.2h.7M57.9 376.0h.7M57.6 382.9h.7M59.5 379.9h.7M54.5 384.4h.7M53.4 379.6h.7M51.4 379.7h.7M58.4 373.9h.7M60.6 378.9h.7M55.8 382.8h.7M58.1 376.2h.7M60.3 385.0h.7M60.7 374.4h.7M53.5 377.7h.7M58.5 383.5h.7M68.4 378.6h.7M59.0 388.1h.7M62.2 373.8h.7M60.5 380.7h.7M60.0 376.9h.7M58.4 381.8h.7M50.9 391.0h.7M49.6 384.9h.7M58.4 377.6h.7M56.2 382.1h.7M59.9 380.7h.7M60.5 387.0h.7M54.3 377.6h.7M57.0 384.9h.7M58.1 379.0h.7M62.8 383.9h.7M56.1 372.2h.7M53.1 382.5h.7M64.9 376.9h.7M61.8 371.4h.7M52.0 379.2h.7M59.6 373.0h.7M63.5 380.7h.7M52.3 371.3h.7M64.4 377.1h.7M59.8 376.9h.7M56.0 372.8h.7M61.2 372.0h.7M55.4 371.6h.7M58.8 378.7h.7M58.1 375.5h.7M60.3 379.0h.7M65.8 369.6h.7M51.7 381.5h.7M58.2 380.4h.7M56.0 376.4h.7M65.4 378.2h.7M65.2 376.0h.7M60.1 381.1h.7M54.1 385.5h.7M57.6 376.9h.7M56.5 384.1h.7M63.3 375.2h.7M61.8 369.0h.7M58.8 374.4h.7M63.5 382.9h.7M59.6 383.1h.7M53.4 382.8h.7M61.6 375.9h.7M65.5 379.2h.7M59.5 383.7h.7M57.7 387.6h.7M53.2 373.5h.7M56.9 381.1h.7M57.3 375.8h.7M70.8 379.5h.7M59.8 375.9h.7M57.1 379.5h.7M64.2 378.5h.7M61.8 365.6h.7M62.3 374.1h.7M65.1 377.3h.7M56.4 378.9h.7M58.9 380.7h.7M62.2 375.1h.7M64.4 375.2h.7M57.3 370.5h.7M60.0 386.5h.7M60.4 376.5h.7M57.3 381.8h.7M52.5 375.1h.7M62.2 373.0h.7M65.0 375.5h.7M57.9 373.3h.7M54.4 375.2h.7M60.4 372.1h.7M57.0 381.9h.7M56.5 381.6h.7M62.1 376.7h.7M53.9 382.9h.7M57.8 379.8h.7M60.9 386.4h.7M57.4 378.9h.7M56.0 376.9h.7M64.4 371.5h.7M62.5 377.4h.7M61.8 379.1h.7M61.3 368.8h.7M62.4 373.3h.7M53.6 377.0h.7M57.4 390.0h.7M63.6 386.1h.7M60.6 385.3h.7M57.3 378.6h.7M60.1 371.7h.7M71.8 384.9h.7M62.6 371.6h.7M66.4 380.4h.7M69.3 377.5h.7M59.9 369.4h.7M64.1 372.7h.7M55.3 382.5h.7M54.4 382.7h.7M56.2 372.7h.7M51.3 381.1h.7M68.2 376.3h.7M58.7 382.0h.7M58.1 372.8h.7M57.5 380.0h.7M57.6 373.2h.7M57.0 383.0h.7M48.3 375.9h.7M56.1 375.9h.7M61.3 379.8h.7M59.9 380.4h.7M58.7 373.4h.7M57.6 380.9h.7M57.8 368.4h.7M57.6 374.9h.7M56.6 379.3h.7M58.2 380.5h.7M52.1 380.3h.7M51.4 379.3h.7M63.5 370.0h.7M53.1 382.9h.7M53.3 375.4h.7M59.8 368.8h.7M51.2 382.6h.7M50.6 383.4h.7M50.6 383.7h.7M66.0 383.8h.7M71.1 378.6h.7M58.7 375.9h.7M57.7 381.9h.7M55.8 380.3h.7M61.3 382.1h.7M58.1 374.0h.7M60.0 378.1h.7M70.7 375.2h.7M57.7 375.1h.7M59.3 377.3h.7M59.6 377.4h.7M59.2 379.5h.7M59.1 374.6h.7M55.3 381.9h.7M51.7 376.0h.7M56.7 377.3h.7M64.8 378.7h.7M53.8 381.5h.7M61.2 379.5h.7M68.4 368.6h.7M56.4 383.0h.7M64.8 370.8h.7M55.5 385.6h.7M58.1 380.6h.7M62.3 374.4h.7M67.4 372.9h.7M49.2 378.5h.7M54.2 382.3h.7M59.0 378.4h.7M56.6 379.8h.7M55.2 383.1h.7M54.4 385.8h.7M59.9 372.4h.7M53.9 379.6h.7M58.5 376.8h.7M58.4 381.2h.7M57.8 378.2h.7M59.5 369.8h.7M49.2 383.6h.7M54.4 379.9h.7M62.3 379.6h.7M54.5 385.3h.7M59.7 375.7h.7M53.3 379.1h.7M54.9 382.5h.7M63.0 375.6h.7M54.0 382.8h.7M63.6 372.5h.7M62.8 376.1h.7M60.5 368.9h.7M71.2 366.2h.7M55.3 378.4h.7M52.5 378.7h.7M64.2 380.5h.7M58.3 374.5h.7M56.5 385.6h.7M68.3 375.1h.7M58.1 372.6h.7M55.0 378.0h.7M59.9 374.4h.7M58.5 377.6h.7M68.4 377.1h.7M60.5 377.5h.7M58.8 372.2h.7M64.4 383.3h.7M62.4 380.0h.7M54.6 372.0h.7M56.6 373.6h.7M61.0 379.6h.7M53.8 377.7h.7M55.1 391.9h.7M59.1 367.2h.7M60.6 388.4h.7M63.9 374.5h.7M69.5 369.5h.7M61.6 375.5h.7M59.1 379.4h.7M60.5 375.7h.7M57.9 378.2h.7M60.3 368.2h.7M61.7 375.1h.7M61.1 384.0h.7M56.5 378.2h.7M55.4 376.0h.7M57.0 371.3h.7M56.7 380.9h.7M68.4 377.3h.7M64.8 376.1h.7M54.0 369.6h.7M51.5 369.2h.7M64.9 374.6h.7M56.9 378.6h.7M57.8 379.8h.7M54.7 377.7h.7M66.6 370.6h.7M56.4 378.2h.7M51.0 379.1h.7M61.0 374.7h.7M65.6 376.6h.7M58.3 379.5h.7M57.6 383.5h.7M61.7 384.0h.7M56.3 373.6h.7M55.2 381.6h.7M54.9 379.5h.7M58.0 374.7h.7M53.7 381.4h.7M56.9 379.4h.7M59.8 374.1h.7M57.2 386.7h.7M62.5 371.6h.7M59.6 376.5h.7M67.1 380.3h.7M57.9 374.6h.7M66.0 374.1h.7M61.4 373.5h.7M59.2 376.4h.7M49.6 388.2h.7M60.9 377.1h.7M58.3 382.0h.7M62.0 372.8h.7M66.7 374.1h.7M61.5 381.1h.7" stroke="#2a2a2a" stroke-width=".75" stroke-opacity="0.55" fill="none"/>
<path d="M81.9 369 L86.6 358.5 L92.6 350.8 L103.1 349.9 L115.6 353.2 L120.4 377.7 L116.6 396.5 L83.4 401.2 Z" stroke="#222" stroke-width="0.8" fill="none"/>
<rect x="46.4" y="347.4" width="82.5" height="84.9" fill="none" stroke="#111" stroke-width="1.25"/>
<path d="M42.7 394.4H46.4M42.7 374.8H46.4M42.7 355.6H46.4M81.1 432.3V435.8M100.9 432.3V435.8M119.7 432.3V435.8" stroke="#111" stroke-width="1.2" fill="none"/>
<path d="M44.3 388.56H46.4M44.3 385.14H46.4M44.3 382.72H46.4M44.3 380.84H46.4M44.3 379.3H46.4M44.3 378.01H46.4M44.3 376.88H46.4M44.3 375.89H46.4M44.3 368.96H46.4M44.3 365.54H46.4M44.3 363.12H46.4M44.3 361.24H46.4M44.3 359.7H46.4M44.3 358.41H46.4M44.3 357.28H46.4M44.3 356.29H46.4M44.3 408.24H46.4M44.3 404.75H46.4M44.3 402.28H46.4M44.3 400.36H46.4M44.3 398.79H46.4M44.3 397.47H46.4M44.3 396.32H46.4M44.3 395.31H46.4M86.91 432.3V434.3M90.31 432.3V434.3M92.72 432.3V434.3M94.59 432.3V434.3M96.12 432.3V434.3M97.41 432.3V434.3M98.53 432.3V434.3M99.52 432.3V434.3M106.71 432.3V434.3M110.11 432.3V434.3M112.52 432.3V434.3M114.39 432.3V434.3M115.92 432.3V434.3M117.21 432.3V434.3M118.33 432.3V434.3M119.32 432.3V434.3M69.08 432.3V434.3M72.11 432.3V434.3M74.26 432.3V434.3M75.92 432.3V434.3M77.28 432.3V434.3M78.44 432.3V434.3M79.43 432.3V434.3M80.31 432.3V434.3" stroke="#111" stroke-width="0.8" fill="none"/>
<path d="M43.8 414.7H46.4M43.8 415.9H46.4M43.8 417.1H46.4M43.8 418.3H46.4M43.8 419.5H46.4M43.8 420.7H46.4M43.8 421.9H46.4M43.8 423.1H46.4M43.8 424.3H46.4M43.8 425.5H46.4M43.8 426.7H46.4M43.8 427.9H46.4M43.8 429.1H46.4M43.8 430.3H46.4M50.8 432.3V434.9M51.62 432.3V434.9M52.44 432.3V434.9M53.26 432.3V434.9M54.07 432.3V434.9M54.89 432.3V434.9M55.71 432.3V434.9M56.53 432.3V434.9M57.35 432.3V434.9M58.17 432.3V434.9M58.99 432.3V434.9M59.81 432.3V434.9M60.62 432.3V434.9M61.44 432.3V434.9M62.26 432.3V434.9M63.08 432.3V434.9M63.9 432.3V434.9" stroke="#111" stroke-width="0.7" fill="none"/>
<text x="40.4" y="358.09" font-size="7.7" text-anchor="end" fill="#000">10<tspan font-size="5.24" dy="-3.08">5</tspan></text>
<text x="40.4" y="377.3" font-size="7.7" text-anchor="end" fill="#000">10<tspan font-size="5.24" dy="-3.08">4</tspan></text>
<text x="40.4" y="396.89" font-size="7.7" text-anchor="end" fill="#000">10<tspan font-size="5.24" dy="-3.08">3</tspan></text>
<text x="40.4" y="416.5" font-size="7.7" text-anchor="end" fill="#000">10<tspan font-size="5.24" dy="-3.08">2</tspan></text>
<text x="40.1" y="424.3" font-size="7.7" text-anchor="end" fill="#000">0</text>
<text x="40.4" y="433.19" font-size="7.7" text-anchor="end" fill="#000">-10<tspan font-size="5.24" dy="-3.08">2</tspan></text>
<text x="57.6" y="446.3" font-size="8.0" text-anchor="middle" fill="#000">0</text>
<text x="82.5" y="446.3" font-size="8.0" text-anchor="middle" fill="#000">10<tspan font-size="5.44" dy="-3.2">3</tspan></text>
<text x="102.3" y="446.3" font-size="8.0" text-anchor="middle" fill="#000">10<tspan font-size="5.44" dy="-3.2">4</tspan></text>
<text x="121.1" y="446.3" font-size="8.0" text-anchor="middle" fill="#000">10<tspan font-size="5.44" dy="-3.2">5</tspan></text>
<defs><radialGradient id="fg1"><stop offset="0" stop-color="#111" stop-opacity="1"/><stop offset="1" stop-color="#222" stop-opacity="0"/></radialGradient></defs>
<ellipse cx="169.9" cy="377.8" rx="14" ry="10" fill="url(#fg1)" opacity=".85"/>
<ellipse cx="199.2" cy="379" rx="5.5" ry="7" fill="url(#fg1)" opacity=".6"/>
<path d="M174.4 376.3h.7M197.3 375.0h.7M171.9 379.7h.7M166.4 375.0h.7M174.6 374.7h.7M176.8 375.5h.7M156.4 374.0h.7M163.7 369.2h.7M169.8 376.5h.7M177.8 372.0h.7M168.6 381.0h.7M176.2 371.5h.7M182.4 372.3h.7M179.8 374.4h.7M167.1 372.2h.7M169.4 389.9h.7M165.4 386.5h.7M180.8 373.8h.7M179.2 383.0h.7M168.0 375.6h.7M179.2 377.8h.7M187.1 376.6h.7M161.4 379.4h.7M161.1 383.4h.7M176.0 374.6h.7M163.4 383.7h.7M167.4 384.5h.7M162.7 378.0h.7M166.1 373.5h.7M191.8 381.9h.7M165.5 382.8h.7M156.2 386.9h.7M179.0 374.4h.7M167.7 379.6h.7M174.0 375.3h.7M163.7 377.9h.7M167.1 382.4h.7M171.1 378.9h.7M157.4 378.5h.7M167.4 375.9h.7M169.5 376.5h.7M158.5 384.9h.7M177.7 373.8h.7M175.4 372.2h.7M160.6 378.8h.7M182.8 374.9h.7M158.5 381.5h.7M166.0 375.2h.7M173.4 368.6h.7M156.5 373.4h.7M179.2 376.7h.7M165.9 375.5h.7M175.9 383.2h.7M165.0 380.4h.7M189.3 377.3h.7M168.1 380.2h.7M171.6 381.1h.7M173.6 374.9h.7M169.8 380.0h.7M165.4 379.4h.7M163.6 385.6h.7M183.1 371.2h.7M177.5 377.5h.7M171.5 376.6h.7M172.9 382.6h.7M161.2 385.0h.7M168.7 372.9h.7M170.4 381.2h.7M170.1 379.6h.7M168.2 375.8h.7M178.7 371.7h.7M178.7 378.1h.7M168.6 377.3h.7M168.6 378.3h.7M170.5 377.4h.7M155.7 370.5h.7M173.5 374.3h.7M166.4 378.0h.7M162.2 387.4h.7M170.8 377.1h.7M162.6 384.0h.7M176.5 384.2h.7M177.8 372.6h.7M161.0 386.7h.7M165.6 378.5h.7M169.6 380.7h.7M175.1 372.0h.7M165.9 370.4h.7M175.2 376.3h.7M157.7 385.8h.7M170.9 373.0h.7M167.6 375.7h.7M171.7 378.9h.7M166.4 381.0h.7M175.9 381.7h.7M177.1 371.6h.7M157.8 378.9h.7M188.5 375.8h.7M165.1 370.9h.7M172.0 375.6h.7M174.7 378.2h.7M176.9 373.8h.7M161.6 374.1h.7M160.5 390.8h.7M181.7 372.8h.7M181.4 370.6h.7M166.6 375.1h.7M169.3 381.5h.7M186.4 378.4h.7M169.9 378.9h.7M169.0 380.1h.7M164.1 380.5h.7M174.3 381.9h.7M164.4 381.3h.7M172.9 373.5h.7M155.5 378.3h.7M177.4 375.2h.7M188.2 377.2h.7M165.2 378.6h.7M174.2 379.6h.7M168.9 380.5h.7M193.4 377.9h.7M172.0 375.4h.7M157.0 381.5h.7M167.6 378.3h.7M166.5 382.5h.7M178.9 372.9h.7M160.2 381.6h.7M181.3 377.8h.7M174.4 370.4h.7M166.5 381.6h.7M173.5 377.3h.7M175.1 381.2h.7M171.3 374.3h.7M159.9 381.1h.7M169.4 377.3h.7M179.1 373.0h.7M168.6 381.5h.7M163.9 368.8h.7M166.5 382.7h.7M166.0 377.6h.7M156.5 386.5h.7M157.3 377.3h.7M169.3 387.6h.7M171.5 374.2h.7M159.2 378.7h.7M161.3 376.8h.7M171.0 383.7h.7M162.2 386.2h.7M155.8 390.3h.7M165.7 377.1h.7M167.0 379.7h.7M170.2 376.4h.7M165.3 376.3h.7M171.1 375.2h.7M165.4 372.0h.7M170.8 380.2h.7M162.8 384.3h.7M170.3 378.4h.7M157.7 383.5h.7M180.2 385.3h.7M166.0 378.5h.7M176.2 379.3h.7M165.8 379.2h.7M178.0 379.1h.7M170.2 383.0h.7M159.4 382.3h.7M165.6 377.1h.7M176.7 385.1h.7M174.1 377.8h.7M183.1 379.1h.7M165.6 375.7h.7M159.4 383.3h.7M172.0 386.0h.7M168.6 378.9h.7M165.1 384.0h.7M180.3 384.1h.7M178.4 373.6h.7M179.9 371.8h.7M166.1 378.0h.7M186.5 371.5h.7M163.3 380.6h.7M179.7 378.9h.7M175.0 373.1h.7M167.9 384.7h.7M171.6 374.8h.7M168.2 384.9h.7M183.8 377.4h.7M164.7 387.2h.7M166.1 379.5h.7M174.1 377.4h.7M169.6 386.0h.7M173.3 370.7h.7M166.5 385.2h.7M169.6 373.4h.7M177.8 379.0h.7M171.2 380.7h.7M168.1 379.4h.7M175.3 374.5h.7M180.3 371.2h.7M186.4 375.3h.7M173.7 371.7h.7M176.8 372.9h.7M174.6 377.4h.7M164.9 387.7h.7M172.2 375.3h.7M168.3 380.1h.7M171.3 382.0h.7M166.7 379.9h.7M167.3 375.4h.7M177.0 373.0h.7M158.9 383.6h.7M167.2 381.5h.7M174.9 379.7h.7M171.6 385.3h.7M163.2 385.1h.7M169.9 379.7h.7M167.9 382.8h.7M174.6 375.3h.7M171.4 380.3h.7M170.0 390.0h.7M175.3 375.4h.7M178.6 377.8h.7M167.3 377.3h.7M159.2 384.0h.7M182.3 375.5h.7M165.2 371.2h.7M162.1 379.9h.7M166.4 378.3h.7M164.9 378.6h.7M169.4 379.3h.7M171.8 378.9h.7M165.1 378.0h.7M162.1 377.5h.7M170.8 380.2h.7M161.1 375.6h.7M167.1 373.2h.7M168.9 377.6h.7M165.7 386.8h.7M167.9 379.9h.7M157.9 384.6h.7M173.4 378.5h.7M166.0 381.0h.7M170.8 375.6h.7M167.5 384.6h.7M179.1 368.4h.7M167.7 381.7h.7M167.9 380.1h.7M168.6 386.2h.7M176.3 376.1h.7M181.4 379.0h.7M183.4 373.4h.7M159.8 384.0h.7M171.2 369.8h.7M171.5 374.2h.7M167.5 379.3h.7M160.6 386.0h.7M161.3 380.1h.7M171.0 375.7h.7M165.2 383.2h.7M159.0 380.4h.7M182.8 372.0h.7M159.5 377.9h.7M162.1 375.8h.7M164.2 382.1h.7M171.0 373.1h.7M180.4 371.4h.7M181.7 373.5h.7M163.9 377.2h.7M181.4 376.4h.7M170.5 370.1h.7M170.5 376.5h.7M168.0 374.8h.7M158.8 386.3h.7M163.4 382.2h.7M174.9 377.8h.7M171.7 380.8h.7M168.1 378.1h.7M173.1 378.3h.7M168.3 365.6h.7M170.4 372.1h.7M179.4 382.1h.7M172.5 378.8h.7M155.5 380.1h.7M164.8 387.7h.7M160.8 390.5h.7M169.3 368.5h.7M184.2 374.2h.7M173.4 382.6h.7M158.9 378.0h.7M171.7 383.8h.7M169.4 381.0h.7M157.5 383.0h.7M163.8 377.6h.7M171.5 382.0h.7M165.6 381.0h.7M168.4 381.4h.7M167.3 385.3h.7M163.0 374.5h.7M180.3 372.6h.7M175.6 380.3h.7M158.1 379.1h.7M167.1 378.1h.7M159.6 381.0h.7M172.2 372.4h.7M170.8 378.9h.7M157.9 380.1h.7M177.4 380.1h.7M162.5 375.9h.7M170.8 379.8h.7M176.7 377.1h.7M176.6 373.6h.7M184.3 374.3h.7M163.4 376.6h.7M157.1 377.0h.7M168.2 380.6h.7M178.9 372.1h.7M164.9 382.2h.7M178.2 379.9h.7M172.4 371.9h.7M166.4 371.2h.7M165.2 384.8h.7M182.1 374.1h.7M174.9 383.3h.7M162.4 372.9h.7M165.5 368.7h.7M175.5 376.3h.7M168.1 378.4h.7M173.9 376.9h.7M161.1 382.6h.7M166.2 379.9h.7M165.1 378.8h.7M158.5 380.6h.7M167.9 383.2h.7M164.2 374.7h.7M175.4 367.3h.7M174.8 376.3h.7M166.7 378.8h.7M168.0 373.7h.7M175.4 372.3h.7M171.0 376.5h.7M164.5 375.8h.7M172.1 375.5h.7M180.1 379.7h.7M166.7 383.1h.7M160.3 373.5h.7M178.3 368.2h.7M164.5 380.3h.7M176.8 372.9h.7M181.0 371.2h.7M180.7 377.4h.7M171.0 376.3h.7M162.6 384.1h.7M161.2 379.4h.7M175.3 378.8h.7M175.1 373.6h.7M160.5 380.6h.7M168.8 382.9h.7M155.3 380.5h.7M173.0 374.8h.7M157.9 380.1h.7M177.7 372.8h.7M163.1 374.2h.7M162.5 370.6h.7M193.4 371.9h.7M178.8 381.5h.7M165.8 381.2h.7M183.8 381.3h.7M177.6 372.7h.7M165.3 378.9h.7M181.7 372.0h.7M175.3 382.2h.7M176.3 376.5h.7M165.4 382.0h.7M167.8 380.0h.7M166.5 376.0h.7M166.8 373.7h.7M177.2 369.8h.7M173.1 375.1h.7M174.0 369.2h.7M170.3 378.0h.7M180.9 380.5h.7M173.1 376.9h.7M170.7 382.6h.7M180.2 378.7h.7M179.4 368.9h.7M177.5 385.8h.7M171.4 374.9h.7M180.9 366.9h.7M179.5 370.5h.7M174.2 371.7h.7M181.7 375.9h.7M166.2 378.7h.7M180.8 383.1h.7M172.4 376.5h.7M181.9 376.4h.7M166.5 387.9h.7M158.9 381.9h.7M182.8 377.7h.7M172.9 382.1h.7M163.8 379.5h.7M170.7 382.9h.7M174.6 377.9h.7M180.5 382.6h.7M162.2 392.1h.7M174.1 375.4h.7M184.0 364.0h.7M162.3 381.3h.7M166.4 373.7h.7M169.4 385.7h.7M171.8 382.1h.7M177.0 377.1h.7M171.8 375.1h.7M173.2 381.7h.7M170.1 378.4h.7M175.1 377.9h.7M173.8 369.2h.7M174.4 370.1h.7M176.2 376.6h.7M168.2 373.2h.7M178.3 375.0h.7M168.3 370.1h.7M182.8 373.5h.7M165.3 384.9h.7M175.5 366.0h.7M170.6 385.5h.7M169.6 375.2h.7M177.5 380.6h.7M164.9 376.4h.7M167.3 376.6h.7M162.1 376.9h.7M176.2 370.0h.7M178.8 379.0h.7M176.8 380.7h.7M165.3 372.1h.7M179.6 376.3h.7M174.5 382.0h.7M161.7 379.8h.7M170.9 373.7h.7M164.8 379.4h.7M173.8 383.5h.7M177.7 383.5h.7M167.8 380.0h.7M170.8 376.8h.7M167.3 385.1h.7M182.0 376.2h.7M165.0 387.2h.7M179.2 375.4h.7M176.5 378.6h.7M170.4 377.7h.7M164.3 374.7h.7M170.0 373.3h.7M173.8 376.2h.7M164.9 381.0h.7M165.5 377.6h.7M164.2 382.4h.7M172.0 377.0h.7M169.5 380.6h.7M167.6 370.4h.7M183.4 376.0h.7M176.5 373.0h.7M159.4 375.2h.7M175.2 375.3h.7M169.6 376.1h.7M159.5 387.9h.7M164.0 374.8h.7M162.6 381.1h.7M179.8 377.1h.7M173.9 376.2h.7M180.7 377.2h.7M173.9 372.6h.7M179.7 379.4h.7M167.4 375.5h.7M174.1 371.6h.7M171.6 374.1h.7M163.2 384.6h.7M163.3 371.2h.7M181.6 372.9h.7M178.8 376.5h.7M163.8 371.9h.7M169.4 379.6h.7M166.1 377.1h.7M165.0 378.5h.7M171.7 376.7h.7M156.0 377.2h.7M167.8 376.2h.7M157.0 377.8h.7M159.3 372.4h.7M173.3 372.9h.7M178.6 381.3h.7M156.7 381.6h.7M159.2 382.6h.7M178.2 382.5h.7M179.5 369.5h.7M172.2 370.4h.7M173.6 380.9h.7M169.2 381.9h.7M164.3 376.7h.7M161.8 371.1h.7M171.1 377.7h.7M162.8 375.3h.7M159.3 383.2h.7M174.5 374.5h.7M167.5 376.3h.7M163.9 380.7h.7M177.4 366.9h.7M176.7 372.3h.7M167.7 371.6h.7M166.5 377.9h.7M168.1 390.1h.7M167.3 377.1h.7M167.9 380.3h.7M175.6 380.1h.7M170.0 378.8h.7M163.0 380.4h.7M166.1 381.2h.7M168.1 381.0h.7M155.4 385.4h.7M160.1 387.2h.7M159.7 380.0h.7M163.0 379.8h.7M177.9 372.1h.7M172.7 381.1h.7M162.8 383.2h.7M166.2 381.3h.7M162.5 393.7h.7M169.4 368.5h.7M173.7 375.5h.7M158.7 378.4h.7M161.2 380.1h.7M163.3 374.2h.7M171.5 379.0h.7M170.1 379.1h.7M169.6 379.2h.7M179.1 380.3h.7M174.4 384.1h.7M157.9 384.7h.7M156.2 377.2h.7M163.4 381.4h.7M180.7 372.6h.7M156.7 384.7h.7M169.0 371.3h.7M185.9 376.4h.7M171.5 378.1h.7M167.8 381.0h.7M170.9 383.2h.7M159.1 379.9h.7M178.1 370.8h.7M175.7 373.0h.7M177.5 382.4h.7M175.0 376.8h.7M164.8 375.8h.7M172.3 377.3h.7M163.4 379.8h.7M162.0 385.2h.7M176.4 376.6h.7M178.5 375.1h.7M180.8 376.3h.7M160.9 370.6h.7M184.1 367.4h.7M169.8 382.1h.7M168.1 374.1h.7M168.9 379.1h.7M171.7 380.0h.7M162.3 384.7h.7M172.5 381.1h.7M177.1 378.9h.7M161.7 376.1h.7M164.8 374.2h.7M165.9 370.6h.7M170.6 377.6h.7M178.2 373.9h.7M183.1 374.9h.7M168.2 378.6h.7M181.0 380.4h.7M172.8 377.4h.7M167.1 372.3h.7M169.1 376.5h.7M182.4 373.3h.7M180.1 376.3h.7M167.9 381.4h.7M183.7 376.8h.7M173.3 376.4h.7M171.4 377.1h.7M169.7 378.9h.7M172.4 380.0h.7M163.0 377.4h.7M182.7 373.7h.7M173.0 378.1h.7M167.9 386.9h.7M175.0 368.3h.7M178.5 370.4h.7M157.0 377.2h.7M176.5 368.7h.7M177.1 372.4h.7M179.4 379.5h.7M164.8 367.8h.7M170.1 367.7h.7M176.1 374.4h.7M179.1 373.3h.7M163.0 381.4h.7M162.6 379.5h.7M169.4 374.4h.7M160.4 382.5h.7M182.3 374.0h.7M163.6 377.6h.7M161.3 370.5h.7M177.8 376.8h.7M167.7 386.4h.7M170.1 377.5h.7M176.5 373.6h.7M172.6 379.0h.7M175.5 378.3h.7M180.6 379.4h.7M175.6 380.6h.7M166.0 374.4h.7M168.3 383.3h.7M160.8 381.3h.7M164.9 376.7h.7M164.2 370.6h.7M180.6 374.4h.7M170.3 378.0h.7M182.2 375.0h.7M172.1 380.5h.7M174.9 381.1h.7M175.3 375.8h.7M174.2 371.5h.7M169.5 383.2h.7M180.4 378.0h.7M175.9 374.3h.7M176.5 375.8h.7M163.4 385.1h.7M170.9 379.0h.7M161.7 379.6h.7M172.8 379.8h.7M174.1 379.1h.7M176.8 382.1h.7M178.2 372.1h.7M171.7 383.5h.7M177.2 375.2h.7M170.3 377.3h.7M171.9 368.1h.7M159.6 375.2h.7M163.0 379.6h.7M169.1 384.1h.7M170.7 376.5h.7M169.5 376.9h.7M163.0 373.3h.7M179.9 372.4h.7M163.8 373.2h.7M165.1 372.4h.7M164.3 370.6h.7M158.9 389.3h.7M171.2 379.0h.7M179.4 377.9h.7M172.8 375.4h.7M177.0 372.8h.7M168.1 375.8h.7M178.8 375.9h.7M171.1 384.3h.7M180.8 377.7h.7M172.4 375.3h.7M170.3 381.6h.7M173.9 383.3h.7M173.7 372.3h.7M164.9 369.1h.7M173.4 373.0h.7M174.2 375.2h.7M171.8 375.7h.7M168.9 380.1h.7M167.0 377.6h.7M166.9 376.7h.7M166.3 373.7h.7M168.8 380.5h.7M170.6 374.6h.7M162.1 388.8h.7M179.2 370.8h.7M161.0 372.7h.7M177.7 368.6h.7M170.5 372.8h.7M170.8 373.0h.7M168.8 377.7h.7M176.6 382.5h.7M173.3 378.3h.7M181.7 368.3h.7M183.4 373.8h.7M167.2 384.6h.7M167.3 378.2h.7M176.0 382.2h.7M161.7 382.4h.7M173.0 376.4h.7M181.7 386.6h.7M175.8 379.8h.7M164.8 377.7h.7M167.0 380.4h.7M172.4 374.2h.7M168.9 372.9h.7M167.3 378.4h.7M171.4 377.1h.7M171.4 376.9h.7M164.4 382.5h.7M165.9 376.3h.7M177.3 376.3h.7M172.7 385.0h.7M164.8 373.5h.7M185.3 372.0h.7M164.9 388.4h.7M172.4 376.4h.7M155.4 380.1h.7M164.9 381.4h.7M156.0 381.5h.7M181.3 376.1h.7M165.5 367.3h.7M166.8 375.5h.7M163.3 373.0h.7M179.4 382.0h.7M162.3 375.7h.7M164.2 373.7h.7M172.9 379.5h.7M177.0 376.6h.7M172.4 383.7h.7M173.7 378.6h.7M157.3 379.5h.7M167.8 378.5h.7M179.0 373.4h.7M181.2 371.6h.7M181.9 370.5h.7M170.2 368.3h.7M161.0 368.3h.7M174.3 375.6h.7M165.8 372.8h.7M167.7 379.3h.7M169.6 378.2h.7M174.6 381.5h.7M160.4 382.1h.7M159.7 375.5h.7M158.3 376.7h.7M178.5 377.4h.7M181.9 372.6h.7M180.2 364.9h.7M175.1 381.5h.7M175.4 374.0h.7M165.6 378.4h.7M185.2 379.4h.7M169.3 369.8h.7M178.0 372.6h.7M177.5 369.4h.7M162.3 380.9h.7M172.7 382.3h.7M171.5 376.6h.7M175.2 375.8h.7M164.1 378.9h.7M180.6 377.2h.7M173.6 381.6h.7M174.5 372.5h.7M168.1 380.4h.7M184.0 376.0h.7M164.0 379.4h.7M170.9 371.9h.7M172.9 389.4h.7M164.7 381.2h.7M178.1 375.7h.7M156.5 382.4h.7M167.0 375.6h.7M173.0 377.8h.7M178.0 382.5h.7M163.9 383.3h.7M169.9 379.2h.7M181.4 375.0h.7M166.4 372.4h.7M183.7 377.9h.7M174.1 374.5h.7M182.6 365.8h.7M178.2 385.5h.7M182.4 377.6h.7M174.5 376.6h.7M169.0 378.4h.7M167.9 378.0h.7M165.6 378.9h.7M174.5 383.6h.7M170.7 380.5h.7M168.7 382.7h.7M165.9 373.1h.7M160.3 376.3h.7M168.9 385.2h.7M173.5 378.0h.7M160.5 377.0h.7M166.8 392.0h.7M180.7 381.5h.7M160.7 378.0h.7M168.0 379.0h.7M159.9 382.6h.7M169.7 369.1h.7M167.5 383.8h.7M176.2 380.1h.7M158.7 384.2h.7M172.4 378.2h.7M160.9 373.8h.7M180.6 379.0h.7M179.0 383.7h.7M167.1 376.0h.7M160.1 386.2h.7M172.3 377.0h.7M167.0 379.5h.7M188.3 371.6h.7M157.6 384.8h.7M170.2 387.0h.7M173.1 381.0h.7M158.2 378.8h.7M166.9 378.9h.7M174.7 377.5h.7M168.2 385.0h.7M176.7 386.2h.7M166.6 375.3h.7M157.4 376.3h.7M169.9 385.0h.7M161.5 372.7h.7M169.0 376.6h.7M173.8 374.6h.7M167.5 376.8h.7M173.7 368.5h.7M174.4 370.1h.7M178.3 373.2h.7M174.1 374.0h.7M174.0 379.7h.7M159.8 384.7h.7M171.3 373.6h.7M172.6 367.3h.7M161.4 384.1h.7M168.4 382.8h.7M172.2 381.5h.7M176.9 378.8h.7M171.8 374.6h.7M174.1 387.1h.7M167.1 381.4h.7M171.4 378.7h.7M179.0 370.7h.7M185.5 372.6h.7M157.5 372.2h.7M170.3 385.5h.7M172.0 374.9h.7M188.2 368.2h.7M171.3 380.4h.7M174.2 379.0h.7M163.1 386.4h.7M171.4 381.0h.7M164.6 371.1h.7M183.6 375.4h.7M167.6 374.6h.7M167.9 378.6h.7M169.9 378.0h.7M170.3 372.1h.7M172.8 380.3h.7M165.1 376.9h.7M171.1 371.3h.7M170.8 375.3h.7M175.5 387.7h.7M169.0 373.2h.7M173.0 377.3h.7M167.3 376.9h.7M168.6 381.2h.7M168.5 379.2h.7M175.3 383.3h.7M174.6 381.8h.7M183.3 373.9h.7M180.3 380.3h.7M162.3 376.5h.7M176.0 365.2h.7M161.4 386.4h.7M173.2 383.0h.7M180.2 370.3h.7M161.4 387.8h.7M156.7 375.6h.7M173.0 372.3h.7M168.0 380.3h.7M173.4 375.6h.7M176.0 378.7h.7M174.0 379.7h.7M168.2 374.3h.7M175.0 373.2h.7M179.8 369.3h.7M169.6 384.1h.7M168.4 375.6h.7M185.2 377.0h.7M175.2 377.1h.7M180.1 382.6h.7M165.2 374.2h.7M174.0 385.8h.7M168.9 381.7h.7M167.5 373.8h.7M160.3 376.3h.7M177.4 378.0h.7M158.9 385.1h.7M171.9 372.5h.7M160.1 384.9h.7M170.2 376.4h.7M175.9 367.9h.7M168.0 385.2h.7M164.6 379.4h.7M179.0 378.4h.7M169.5 373.1h.7M167.4 376.1h.7M176.3 369.8h.7M166.8 378.6h.7M178.0 376.3h.7M170.4 379.1h.7M163.4 389.3h.7M159.1 379.2h.7M164.6 380.7h.7M175.4 382.1h.7M167.1 373.1h.7M160.6 381.2h.7M175.5 387.4h.7M173.3 375.1h.7M177.9 370.5h.7M183.0 377.0h.7M172.9 373.6h.7M173.2 382.4h.7M174.5 377.6h.7M168.3 373.8h.7M157.1 386.7h.7M172.3 373.6h.7M172.4 377.8h.7M165.5 373.6h.7M179.7 375.5h.7M160.2 374.3h.7M161.6 379.2h.7M164.8 383.2h.7M167.9 373.0h.7M170.3 373.2h.7M164.8 375.5h.7M158.5 377.1h.7M171.9 378.3h.7M171.5 381.0h.7M176.3 381.5h.7M162.5 380.9h.7M170.9 375.3h.7M182.0 371.6h.7M170.0 385.9h.7M170.7 377.5h.7M163.7 385.3h.7M168.1 380.8h.7M169.0 381.9h.7M168.8 372.6h.7M158.2 391.2h.7M165.2 383.9h.7M188.0 366.4h.7M163.9 381.3h.7M163.5 375.3h.7M161.3 378.0h.7M172.0 380.2h.7M165.3 377.6h.7M168.4 378.5h.7M167.6 380.6h.7M172.9 380.2h.7M167.3 381.8h.7M173.0 378.4h.7M164.0 370.7h.7M183.1 375.7h.7M174.0 369.6h.7M170.5 375.6h.7M166.3 387.6h.7M157.5 379.5h.7M169.9 387.2h.7M174.0 375.3h.7M167.5 361.0h.7M175.6 377.8h.7M180.1 371.8h.7M167.5 380.6h.7M172.3 376.6h.7M172.5 377.4h.7M166.1 383.5h.7M158.6 375.6h.7M155.3 386.6h.7M167.2 382.4h.7M177.0 376.2h.7M167.6 378.4h.7M173.2 371.7h.7M177.6 370.9h.7M168.3 379.0h.7M165.3 383.3h.7M164.4 382.5h.7M170.8 381.1h.7M182.1 371.4h.7M160.8 386.2h.7M179.8 379.3h.7M169.3 381.9h.7M160.6 379.7h.7M168.8 381.6h.7M159.6 385.6h.7M184.2 370.3h.7M168.0 366.0h.7M185.3 377.4h.7M169.1 379.0h.7M174.3 386.2h.7M168.8 376.4h.7M163.5 389.1h.7M189.6 373.6h.7M183.9 368.3h.7M176.6 372.9h.7M170.1 383.9h.7M179.6 377.5h.7M169.5 381.2h.7M160.3 382.8h.7M166.8 378.8h.7M175.6 376.3h.7M157.9 375.9h.7M167.0 373.8h.7M172.9 375.9h.7M166.6 378.0h.7M164.1 379.0h.7M174.5 372.4h.7M172.3 380.1h.7M176.5 380.6h.7M181.2 367.6h.7M170.5 375.8h.7M166.6 375.8h.7M172.9 378.9h.7M170.8 376.0h.7M174.9 373.8h.7M159.0 387.5h.7M173.8 381.6h.7M176.9 371.1h.7M170.6 379.9h.7M174.7 370.9h.7M174.9 375.9h.7M168.0 385.5h.7M162.0 391.6h.7M169.2 380.3h.7M167.2 378.5h.7M157.3 387.9h.7M166.0 374.5h.7M163.2 371.6h.7M188.1 378.4h.7M176.7 373.7h.7M173.8 384.3h.7M166.9 377.8h.7M163.3 375.8h.7M169.0 377.5h.7M162.5 377.9h.7M178.1 370.5h.7M168.4 372.1h.7M172.0 386.4h.7M169.2 390.0h.7M162.8 378.4h.7M163.7 382.4h.7M166.0 378.6h.7M168.5 378.9h.7M167.0 377.6h.7M170.7 378.8h.7M168.5 378.1h.7M159.5 380.9h.7M175.2 379.9h.7M167.9 383.2h.7M167.6 382.6h.7M171.4 376.9h.7M184.8 370.0h.7M162.2 373.3h.7M169.5 373.0h.7M172.2 379.4h.7M161.4 375.2h.7M165.3 365.4h.7M167.7 384.6h.7M168.0 387.8h.7M179.8 378.5h.7M174.2 374.5h.7M178.1 375.5h.7M176.8 376.4h.7M176.3 374.1h.7M177.7 366.9h.7M159.3 376.4h.7M170.7 367.4h.7M174.5 370.8h.7M168.5 372.0h.7M170.3 378.8h.7M173.8 376.1h.7M166.1 380.1h.7M171.0 380.6h.7M166.7 377.9h.7M177.0 371.5h.7M173.9 379.4h.7M169.3 365.8h.7M169.1 378.6h.7M170.2 384.0h.7M162.2 385.1h.7M190.6 378.4h.7M179.7 379.4h.7M155.2 380.5h.7M164.0 381.0h.7M160.3 388.4h.7M167.6 374.3h.7M164.1 381.3h.7M185.6 381.9h.7M182.1 366.2h.7M167.9 378.1h.7M174.8 378.8h.7M164.0 379.7h.7M185.8 372.4h.7M164.3 380.5h.7M165.1 382.7h.7M167.3 379.3h.7M176.6 370.1h.7M176.7 376.5h.7M158.3 383.5h.7M156.7 385.5h.7M170.1 373.9h.7M168.8 373.1h.7M175.3 375.5h.7M170.7 381.9h.7M173.8 378.3h.7M176.0 371.9h.7M173.9 369.3h.7M165.5 375.1h.7M175.0 373.9h.7M172.6 376.2h.7M155.4 372.7h.7M163.4 378.3h.7M162.5 380.1h.7M174.5 381.3h.7M173.0 382.6h.7M161.0 378.1h.7M170.0 377.1h.7M176.8 378.7h.7M181.6 379.3h.7M169.3 374.8h.7M164.5 377.9h.7M164.3 384.7h.7M167.2 378.6h.7M179.7 378.1h.7M176.4 371.2h.7M161.4 378.4h.7M157.8 380.1h.7M162.9 377.9h.7M169.9 382.6h.7M161.3 380.5h.7M177.5 378.0h.7M177.5 374.3h.7M171.3 370.8h.7M179.8 374.7h.7M178.2 379.9h.7M189.4 370.5h.7M166.3 374.9h.7M168.4 376.5h.7M173.9 369.0h.7M165.1 386.4h.7M183.4 369.8h.7M176.8 370.4h.7M161.1 379.7h.7M164.3 380.1h.7M167.3 378.8h.7M159.3 381.9h.7M166.7 388.0h.7M184.2 368.1h.7M157.0 376.1h.7M173.9 378.9h.7M175.9 379.6h.7M177.4 376.8h.7M177.2 372.7h.7M178.1 379.7h.7M161.7 374.9h.7M173.7 380.2h.7M163.4 382.9h.7M174.4 372.1h.7M166.5 373.2h.7M167.8 379.8h.7M184.8 371.1h.7M168.6 371.9h.7M172.4 374.3h.7M178.8 378.1h.7M168.0 380.6h.7M165.6 391.1h.7M170.5 376.2h.7M169.1 386.3h.7M167.6 375.2h.7M155.8 376.6h.7M188.1 375.0h.7M168.9 381.2h.7M162.0 380.3h.7M174.1 379.7h.7M168.7 374.4h.7M177.7 378.7h.7M155.8 379.5h.7M164.3 373.3h.7M178.1 371.9h.7M161.2 376.6h.7M159.1 383.8h.7M156.5 374.6h.7M178.0 382.3h.7M172.5 383.0h.7M169.1 378.9h.7M173.8 371.2h.7M166.7 384.5h.7M172.9 375.6h.7M166.9 387.3h.7M185.4 374.5h.7M167.9 381.8h.7M172.2 379.4h.7M174.2 382.0h.7M170.1 377.5h.7M173.1 385.6h.7M171.4 373.8h.7M175.4 376.2h.7M172.9 381.8h.7M172.3 386.9h.7M157.4 374.1h.7M180.8 366.9h.7M163.1 374.3h.7M163.3 379.7h.7M168.4 376.0h.7M175.4 389.1h.7M163.1 381.7h.7M165.4 375.9h.7M171.4 385.2h.7M158.8 386.8h.7M163.6 378.4h.7M162.8 384.2h.7M184.1 380.8h.7M176.1 382.9h.7M180.3 376.5h.7M175.0 383.9h.7M172.8 388.7h.7M171.1 372.6h.7M172.6 372.5h.7M162.0 385.2h.7M173.4 372.7h.7M169.3 375.5h.7M181.7 366.6h.7M177.8 375.4h.7M168.5 371.0h.7M172.1 379.3h.7M158.8 369.1h.7M167.1 372.5h.7M175.1 375.9h.7M173.8 376.6h.7M172.7 374.1h.7M170.6 372.9h.7M179.1 373.9h.7M170.8 375.1h.7M174.7 374.2h.7M170.9 374.1h.7M174.1 378.3h.7M169.6 378.1h.7M170.5 379.3h.7M172.2 382.9h.7M175.9 382.9h.7M169.4 382.7h.7M160.3 380.5h.7M167.8 378.8h.7M165.9 373.8h.7M175.2 382.4h.7M180.7 375.9h.7M167.1 385.1h.7M179.2 379.6h.7M170.1 378.0h.7M166.8 378.2h.7M174.4 373.8h.7M173.3 381.7h.7M164.5 374.4h.7M167.7 371.7h.7M180.9 375.4h.7M161.1 389.2h.7M164.4 379.9h.7M182.2 375.7h.7M167.2 376.9h.7M174.5 376.1h.7M162.0 376.0h.7M163.7 381.1h.7M164.3 374.6h.7M166.6 382.2h.7M162.5 379.4h.7M162.8 387.9h.7M157.4 367.4h.7M175.3 384.5h.7M165.3 376.1h.7M157.1 379.9h.7M165.0 378.0h.7M167.3 386.8h.7M173.6 378.6h.7M166.0 372.6h.7M175.5 372.8h.7M160.7 390.9h.7M166.9 385.6h.7M177.0 379.1h.7M161.5 380.6h.7M184.4 377.2h.7M182.3 373.6h.7M176.9 366.7h.7M184.7 373.3h.7M167.3 379.4h.7M168.6 379.3h.7M174.4 374.8h.7M167.0 375.3h.7M171.8 374.6h.7M177.9 380.1h.7M178.3 375.1h.7M155.8 380.6h.7M160.3 375.7h.7M163.6 377.6h.7M161.7 381.2h.7M174.1 379.9h.7M176.9 382.2h.7M160.7 381.6h.7M161.0 384.6h.7M171.0 375.8h.7M183.9 377.9h.7M174.6 391.1h.7M167.4 381.8h.7M179.8 377.7h.7M168.3 377.4h.7M170.1 376.3h.7M185.3 376.9h.7M171.0 373.6h.7M167.1 376.5h.7M162.8 367.1h.7M169.6 378.8h.7M177.5 376.9h.7M156.3 367.4h.7M182.0 370.5h.7M161.4 374.4h.7M167.7 376.5h.7M172.8 372.9h.7M181.3 386.1h.7M171.7 375.5h.7M168.5 378.0h.7M173.1 373.3h.7M159.5 382.4h.7M170.1 376.4h.7M164.6 376.3h.7M164.0 387.7h.7M165.7 371.6h.7M170.0 382.6h.7M161.5 379.0h.7M155.8 382.0h.7M171.7 379.9h.7M160.6 379.2h.7M173.8 373.8h.7M175.1 376.7h.7M164.2 380.5h.7M173.2 380.3h.7M166.5 380.8h.7M173.7 384.7h.7M165.3 388.8h.7M169.3 379.1h.7M177.2 384.8h.7M164.2 380.9h.7M163.3 382.0h.7M170.0 365.8h.7M167.0 370.2h.7M166.4 383.3h.7M186.2 375.0h.7M180.3 371.6h.7M166.7 382.3h.7M164.4 376.8h.7M165.5 379.2h.7M177.0 366.5h.7M165.6 369.1h.7M178.4 373.9h.7M181.6 377.2h.7M163.9 380.8h.7M169.6 384.1h.7M174.7 373.8h.7M163.2 376.8h.7M174.8 372.0h.7M173.1 376.8h.7M176.8 375.4h.7M171.9 372.5h.7M167.1 388.2h.7M166.9 376.7h.7M163.6 375.3h.7M179.3 375.3h.7M161.4 375.3h.7M178.6 376.5h.7M179.1 374.1h.7M170.2 381.4h.7M166.5 383.3h.7M168.4 383.8h.7M172.1 379.2h.7M177.4 378.4h.7M173.1 380.7h.7M172.7 381.8h.7M169.8 377.1h.7M165.9 387.6h.7M188.1 377.5h.7M175.6 379.5h.7M182.2 372.1h.7M170.2 383.0h.7M165.1 384.1h.7M182.7 377.2h.7M156.7 384.1h.7M173.7 379.2h.7M175.6 370.4h.7M162.1 384.1h.7M175.8 377.8h.7M180.7 386.4h.7M183.9 369.1h.7M168.6 382.1h.7M180.8 369.8h.7M173.2 370.1h.7M169.6 377.1h.7M168.0 382.5h.7M174.1 373.9h.7M162.4 374.5h.7M163.6 381.0h.7M167.2 383.1h.7M165.6 378.6h.7M172.9 374.0h.7M168.7 378.9h.7M166.9 385.2h.7M159.0 374.9h.7M166.6 375.0h.7M183.8 374.0h.7M168.8 367.8h.7M172.4 372.3h.7M178.7 375.5h.7M166.3 380.3h.7M173.6 382.3h.7M170.1 373.1h.7M170.3 374.4h.7M195.8 374.1h.7M174.5 382.6h.7M166.1 381.2h.7M179.4 379.8h.7M163.7 378.8h.7M160.0 371.8h.7M165.3 385.0h.7M170.3 375.5h.7M169.1 370.4h.7M171.0 376.5h.7M179.4 374.0h.7M161.5 380.7h.7M173.0 374.4h.7M172.0 378.6h.7M169.9 378.3h.7M166.9 375.8h.7M166.8 375.4h.7M171.2 382.0h.7M177.9 379.0h.7M174.4 382.0h.7M173.1 379.8h.7M159.0 375.9h.7M167.4 377.1h.7M158.4 381.4h.7M163.6 370.9h.7M168.9 367.1h.7M172.6 382.4h.7M168.9 378.0h.7M175.2 377.6h.7M165.7 386.8h.7M171.9 383.9h.7M156.1 381.8h.7M173.6 379.0h.7M174.5 379.9h.7M167.6 382.0h.7M167.6 380.0h.7M174.9 377.7h.7M173.5 370.9h.7M162.2 372.2h.7M168.4 376.0h.7M162.2 378.9h.7M173.6 368.6h.7M169.7 372.2h.7M163.9 378.7h.7M168.3 378.6h.7M164.0 377.9h.7M185.5 368.5h.7M178.6 380.0h.7M165.6 385.7h.7M186.2 369.6h.7M169.5 382.1h.7M158.5 378.1h.7M177.9 378.4h.7M157.8 377.8h.7M176.5 370.9h.7M165.0 375.1h.7M170.1 372.7h.7M161.6 384.3h.7M177.5 366.3h.7" stroke="#2a2a2a" stroke-width=".75" stroke-opacity="0.55" fill="none"/>
<path d="M206.6 372.8h.7M200.3 377.9h.7M196.2 377.6h.7M197.4 379.2h.7M200.5 383.0h.7M199.9 383.5h.7M200.6 379.1h.7M198.3 375.2h.7M193.7 380.0h.7M198.5 380.5h.7M200.1 373.6h.7M196.6 375.0h.7M202.4 377.7h.7M199.4 375.2h.7M194.7 377.7h.7M198.6 380.9h.7M193.9 381.6h.7M196.1 377.6h.7M197.9 377.5h.7M200.5 382.2h.7M200.1 376.5h.7M200.4 380.1h.7M201.8 379.3h.7M193.5 377.2h.7M197.6 383.0h.7M198.5 382.8h.7M199.9 373.9h.7M199.1 381.2h.7M200.3 372.6h.7M200.4 376.2h.7M191.9 378.4h.7M192.4 375.4h.7M203.8 387.8h.7M202.5 379.9h.7M205.3 378.8h.7M195.7 369.8h.7M202.0 369.1h.7M189.4 378.7h.7M199.2 375.4h.7M202.5 377.8h.7M199.7 380.6h.7M197.0 380.3h.7M206.8 373.2h.7M199.5 381.0h.7M197.2 379.2h.7M193.2 378.6h.7M199.1 383.5h.7M202.2 375.9h.7M195.2 387.4h.7M202.0 370.5h.7M197.9 375.6h.7M197.0 372.5h.7M197.6 377.3h.7M198.2 383.5h.7M199.8 373.9h.7M193.1 378.3h.7M202.9 381.9h.7M197.0 384.3h.7M200.5 376.2h.7M200.5 378.4h.7M195.3 378.2h.7M199.6 384.4h.7M195.5 380.9h.7M199.1 378.9h.7M194.9 385.3h.7M203.5 384.6h.7M200.7 384.8h.7M200.9 382.8h.7M198.0 380.3h.7M198.0 375.0h.7M197.6 374.8h.7M195.3 378.4h.7M197.0 388.1h.7M205.2 382.1h.7M201.8 374.9h.7M200.1 372.9h.7M197.0 377.7h.7M197.9 383.0h.7M196.4 389.8h.7M197.4 383.1h.7M193.7 384.2h.7M194.9 381.0h.7M199.1 382.5h.7M201.2 380.2h.7M198.6 387.4h.7M197.6 379.6h.7M197.5 380.1h.7M195.8 378.2h.7M200.9 376.3h.7M200.7 376.3h.7M204.0 377.4h.7M205.1 379.7h.7M198.7 383.2h.7M203.1 384.5h.7M203.9 381.7h.7M195.1 384.0h.7M198.8 380.9h.7M203.5 375.1h.7M203.7 387.9h.7M201.0 377.4h.7M203.8 378.7h.7M202.7 383.4h.7M194.0 381.8h.7M193.9 377.5h.7M201.2 373.7h.7M196.7 377.8h.7M200.2 380.3h.7M200.6 376.7h.7M196.5 381.5h.7M196.1 376.5h.7M201.5 375.2h.7M196.0 384.5h.7M198.9 369.9h.7M196.5 387.8h.7M208.8 375.5h.7M201.5 381.6h.7M200.2 371.3h.7M202.5 379.4h.7M198.3 372.6h.7M196.9 379.1h.7M198.2 380.2h.7M197.8 383.5h.7M201.2 373.8h.7M197.0 381.3h.7M197.2 385.3h.7M197.2 380.5h.7M201.1 373.9h.7M203.3 377.1h.7M196.6 376.8h.7M193.3 374.9h.7M204.2 377.3h.7M198.1 380.1h.7M201.0 375.3h.7M198.3 380.4h.7M202.5 379.3h.7M204.7 376.8h.7M197.9 373.6h.7M198.9 381.7h.7M198.2 378.5h.7M195.7 377.5h.7M197.5 379.1h.7M202.7 380.3h.7M202.2 383.1h.7M197.5 385.0h.7M199.2 373.6h.7M197.0 379.2h.7M193.8 389.8h.7M198.9 382.6h.7M194.9 380.5h.7M199.9 375.7h.7M199.9 378.8h.7M200.3 373.8h.7M200.8 377.4h.7M196.1 370.7h.7M198.4 377.7h.7M207.1 372.1h.7M204.1 382.9h.7M200.4 379.7h.7M200.7 372.5h.7M203.8 376.5h.7M196.5 379.6h.7M189.7 375.9h.7M195.0 373.5h.7M201.0 385.1h.7M199.1 377.7h.7M200.1 376.7h.7M199.4 380.6h.7M198.2 377.5h.7M199.2 379.2h.7M201.3 372.2h.7M195.2 377.9h.7M200.6 373.3h.7M203.1 383.9h.7M196.5 384.2h.7M191.9 380.3h.7M193.5 384.7h.7M201.8 380.3h.7M197.0 374.8h.7M200.3 376.5h.7M201.2 371.8h.7M200.4 380.7h.7M191.2 375.6h.7M196.5 377.0h.7M193.0 380.4h.7M195.0 379.5h.7M192.6 375.5h.7M201.2 371.2h.7M198.7 384.9h.7M201.6 372.7h.7M206.4 374.7h.7M202.0 382.0h.7M197.8 381.7h.7M189.5 381.5h.7M199.4 377.3h.7M199.2 383.1h.7M202.0 375.5h.7M201.5 383.0h.7M199.2 380.3h.7M190.5 374.4h.7M200.1 372.3h.7M201.7 382.9h.7M195.5 374.9h.7M198.1 379.9h.7M201.6 377.2h.7M198.9 374.7h.7M199.8 375.4h.7M202.2 380.8h.7M193.2 381.6h.7M195.1 383.7h.7M195.3 384.9h.7M202.4 385.9h.7M199.9 378.7h.7M202.9 372.7h.7M198.6 377.5h.7M198.6 372.3h.7M193.1 373.2h.7M203.8 376.2h.7M200.9 377.7h.7M198.0 384.3h.7M190.9 379.8h.7M196.1 375.6h.7M193.3 373.8h.7M194.7 384.3h.7M196.4 377.4h.7M198.2 381.5h.7M202.3 378.7h.7M198.8 380.9h.7M196.1 380.3h.7M204.5 374.7h.7M195.8 373.2h.7M198.9 381.3h.7M197.3 377.8h.7M202.8 377.9h.7M201.1 376.7h.7M203.2 381.4h.7M198.3 376.5h.7M207.4 372.3h.7M195.5 369.4h.7M201.1 378.5h.7M198.5 372.6h.7M198.8 375.6h.7M194.8 378.8h.7M199.8 378.0h.7M197.1 382.2h.7M199.6 377.1h.7M200.8 379.6h.7M201.9 381.5h.7M201.3 375.8h.7M203.3 381.8h.7M197.0 384.4h.7M199.1 374.7h.7M198.7 373.6h.7M202.6 372.8h.7M203.8 374.1h.7M198.4 384.2h.7M200.0 371.9h.7M198.4 371.5h.7M201.1 374.1h.7M198.6 378.4h.7M193.8 381.5h.7M204.9 373.7h.7M196.9 380.9h.7M202.9 374.3h.7M199.5 380.2h.7M202.4 374.7h.7M207.2 385.2h.7M194.3 376.8h.7M200.1 376.0h.7M197.1 379.4h.7M196.4 377.0h.7M199.6 377.1h.7M200.1 382.9h.7M202.7 378.4h.7M205.8 375.6h.7M201.9 385.6h.7M199.6 382.1h.7M197.4 377.0h.7M199.6 380.8h.7M200.2 381.4h.7M200.0 378.4h.7M196.9 379.1h.7M199.2 378.9h.7M195.4 385.0h.7M202.7 379.0h.7M197.4 383.8h.7M198.2 378.2h.7M201.0 376.3h.7M199.5 377.0h.7M201.1 380.2h.7M201.4 380.2h.7M200.1 380.3h.7M201.7 374.5h.7M195.1 380.3h.7M199.6 377.9h.7M204.0 379.7h.7M203.2 378.4h.7M194.5 374.7h.7M202.6 378.4h.7M197.5 384.6h.7M204.8 379.2h.7M203.3 376.8h.7M196.0 373.2h.7M202.7 372.0h.7M197.7 379.7h.7M201.0 371.1h.7M198.3 376.0h.7M203.9 377.1h.7M196.9 386.4h.7M199.6 382.1h.7M200.1 378.2h.7M201.5 375.6h.7M194.5 377.6h.7M201.2 377.0h.7M202.6 381.1h.7M199.8 383.3h.7M200.3 380.1h.7M198.2 378.9h.7M198.8 383.3h.7M204.3 382.1h.7M199.9 378.4h.7M199.9 376.6h.7M199.0 377.8h.7M199.0 369.7h.7M199.1 381.7h.7M195.6 387.0h.7M199.6 376.7h.7M203.7 374.2h.7M208.0 374.1h.7M202.2 384.0h.7M201.4 379.1h.7M196.8 379.1h.7M199.8 382.8h.7M191.8 383.3h.7M195.4 377.6h.7M198.8 376.7h.7M201.1 372.1h.7M200.7 374.7h.7M197.9 379.1h.7M194.5 381.9h.7M206.1 374.8h.7M196.2 385.8h.7M204.6 369.6h.7M197.9 376.2h.7M199.6 378.6h.7M195.8 378.2h.7M202.7 374.5h.7M199.8 381.4h.7M204.7 379.4h.7M199.9 375.1h.7M199.9 384.2h.7M200.6 383.6h.7M197.5 382.6h.7M198.3 376.5h.7M197.1 384.4h.7M201.0 377.9h.7M198.3 382.5h.7M197.6 384.0h.7M200.1 376.6h.7M198.5 375.1h.7M195.6 378.0h.7M197.5 378.1h.7M196.6 377.1h.7M200.2 373.5h.7M190.8 387.9h.7M199.4 379.8h.7M202.9 382.7h.7M203.8 381.7h.7M201.6 380.4h.7M198.7 378.7h.7M187.3 388.6h.7M198.7 375.3h.7M202.9 375.4h.7M200.4 375.4h.7M195.3 384.5h.7M199.6 372.8h.7M201.3 382.2h.7M198.2 382.2h.7M203.4 382.7h.7M201.2 381.7h.7M204.5 378.7h.7M198.2 378.3h.7M209.7 372.5h.7M199.2 371.7h.7M199.0 378.4h.7M198.8 382.3h.7M204.0 378.8h.7M196.5 377.8h.7M199.2 376.2h.7M198.9 381.3h.7M199.8 387.0h.7M193.7 381.0h.7M202.6 373.9h.7M193.5 388.9h.7M202.3 380.5h.7M203.1 374.1h.7M195.3 386.3h.7M199.5 372.5h.7M198.7 385.5h.7M195.6 373.6h.7M191.4 380.4h.7M198.8 376.5h.7M197.2 378.4h.7M197.0 377.3h.7M202.3 378.4h.7M200.8 371.2h.7M196.0 383.9h.7M199.6 383.1h.7M194.2 382.8h.7M197.2 379.6h.7M196.8 375.8h.7M195.6 379.4h.7M202.5 373.9h.7M197.1 375.6h.7M196.3 382.4h.7M197.6 375.6h.7M201.4 379.9h.7M200.2 379.4h.7M197.1 382.8h.7M197.0 380.5h.7M199.6 383.6h.7M198.5 382.5h.7M193.4 381.0h.7M199.7 379.3h.7M192.4 383.7h.7M197.0 376.8h.7M204.2 376.9h.7M202.2 371.4h.7M201.4 379.3h.7M200.1 375.0h.7M200.3 378.0h.7M203.6 375.9h.7M193.8 384.6h.7M195.5 379.1h.7M201.6 385.2h.7M200.9 381.5h.7M199.7 379.5h.7M198.9 380.5h.7M196.1 380.7h.7M203.0 378.8h.7M198.6 382.2h.7M196.2 379.0h.7M206.6 380.6h.7M201.7 378.1h.7M196.8 375.2h.7M199.2 384.3h.7M198.9 382.6h.7M198.2 379.8h.7M200.4 390.6h.7M199.6 375.4h.7M202.2 378.4h.7" stroke="#2a2a2a" stroke-width=".75" stroke-opacity="0.55" fill="none"/>
<path d="M181.8 363.5h.7M197.1 393.6h.7M189.5 383.3h.7M196.7 378.2h.7M192.7 381.6h.7M183.2 364.3h.7M170.4 383.7h.7M189.4 373.7h.7M165.4 378.5h.7M184.8 367.9h.7M178.7 392.3h.7M197.0 377.7h.7M188.0 371.1h.7M182.2 380.9h.7M178.0 375.3h.7M199.7 361.8h.7M178.5 389.8h.7M188.7 375.4h.7M178.1 366.6h.7M195.9 353.4h.7M189.4 369.9h.7M184.6 360.0h.7M193.2 377.3h.7M187.9 377.4h.7M173.6 379.4h.7M189.6 373.3h.7M157.8 381.4h.7M186.3 366.6h.7M185.9 384.3h.7M184.6 384.8h.7M180.7 370.9h.7M187.7 367.9h.7M170.6 381.3h.7M185.4 379.3h.7M177.8 373.8h.7M189.7 370.3h.7M183.5 377.2h.7M178.8 378.5h.7M172.5 382.0h.7M208.8 373.5h.7M181.9 364.1h.7M175.2 375.6h.7M178.6 380.4h.7M186.6 380.3h.7M183.4 381.3h.7M197.4 365.3h.7M184.5 374.3h.7M184.6 383.5h.7M182.4 369.3h.7M173.7 367.3h.7M184.5 381.7h.7M185.9 369.0h.7M184.0 368.8h.7M194.2 373.6h.7M198.2 376.5h.7M190.9 366.8h.7M189.9 371.1h.7M180.7 377.6h.7M199.6 375.0h.7M203.1 375.4h.7M173.8 374.4h.7M202.0 375.1h.7M186.4 371.7h.7M187.2 377.9h.7M182.2 375.8h.7M188.2 366.8h.7M183.7 370.6h.7M180.4 370.3h.7M180.5 370.8h.7M200.8 370.1h.7M189.0 368.8h.7M187.1 378.2h.7M199.6 384.1h.7M182.2 389.1h.7M186.6 383.9h.7M185.4 380.7h.7M185.2 365.9h.7M191.0 371.9h.7M185.0 377.5h.7M190.4 392.0h.7M177.0 374.2h.7M178.1 386.4h.7M183.7 371.9h.7M190.1 374.9h.7M190.7 363.7h.7M186.3 379.6h.7M181.2 385.5h.7M185.3 370.1h.7M182.6 380.1h.7M194.9 369.7h.7M190.9 371.7h.7M178.4 370.4h.7M192.3 370.5h.7M187.4 386.7h.7M194.5 370.3h.7M183.7 377.9h.7M168.3 384.7h.7M180.0 382.1h.7M180.0 374.5h.7M192.9 378.1h.7M201.3 368.1h.7M180.9 387.3h.7M190.6 365.9h.7M182.0 379.3h.7M181.9 366.2h.7M186.4 378.3h.7M196.7 380.3h.7M192.7 367.8h.7M175.8 370.8h.7M190.7 380.3h.7M170.1 383.3h.7M193.4 384.0h.7M192.3 380.3h.7M187.9 372.7h.7M184.6 375.3h.7M176.2 377.0h.7M194.3 370.7h.7M196.3 366.3h.7M189.5 368.7h.7M194.8 377.9h.7M193.9 378.8h.7M190.1 382.0h.7M187.5 357.5h.7M186.9 378.6h.7M166.4 388.6h.7M185.1 382.6h.7M183.3 377.2h.7M178.8 375.3h.7M172.5 380.4h.7M182.4 371.4h.7M179.4 369.9h.7M185.5 374.4h.7M183.1 385.4h.7M176.5 374.5h.7M174.5 376.2h.7M184.1 362.7h.7M188.5 359.9h.7M181.0 374.3h.7M174.5 387.6h.7M186.9 365.4h.7M188.7 377.0h.7M180.7 370.4h.7M193.5 389.3h.7M187.5 389.6h.7M171.0 367.3h.7M186.2 370.4h.7M187.6 387.6h.7M176.7 380.5h.7M185.2 366.0h.7M183.5 367.5h.7M183.4 386.1h.7M194.4 380.3h.7M186.7 371.1h.7M203.1 370.6h.7M189.2 381.6h.7M184.3 378.8h.7M185.2 377.6h.7M193.2 363.5h.7M186.3 371.1h.7M183.8 378.1h.7M198.1 356.9h.7M200.0 367.1h.7M178.3 371.8h.7M186.9 375.7h.7M170.4 367.3h.7M193.7 372.0h.7M169.0 377.4h.7M182.7 386.3h.7M178.5 372.6h.7M181.8 378.5h.7M189.5 378.4h.7M200.2 370.2h.7M198.8 372.1h.7M192.0 380.1h.7M200.6 364.0h.7M204.4 356.3h.7M184.0 374.1h.7M185.1 385.0h.7M170.9 370.5h.7M193.4 385.1h.7M175.9 373.3h.7M190.8 377.9h.7M172.0 377.5h.7M180.5 367.6h.7M183.6 369.4h.7M174.1 393.8h.7M180.5 368.8h.7M201.1 368.1h.7M181.4 357.9h.7M171.8 388.7h.7M177.9 373.7h.7M183.3 376.8h.7M201.7 359.0h.7M171.4 389.9h.7M191.5 378.8h.7M196.7 371.6h.7M191.7 381.3h.7M198.0 373.4h.7M175.6 372.6h.7M183.8 372.7h.7M195.5 364.7h.7M189.9 370.8h.7M187.2 385.1h.7M194.6 368.5h.7M185.8 382.1h.7M185.9 382.5h.7M197.1 369.4h.7M190.6 387.8h.7M191.2 368.7h.7M197.3 371.9h.7M183.5 378.6h.7M192.2 369.6h.7M188.7 378.8h.7M192.8 372.9h.7M179.4 377.5h.7M189.1 375.8h.7M193.6 375.5h.7M174.1 382.3h.7M193.5 361.1h.7M191.9 379.9h.7M189.6 378.3h.7M179.3 380.9h.7M190.1 367.9h.7M191.2 381.1h.7M184.3 389.8h.7M189.0 376.5h.7M191.6 375.6h.7M186.1 372.2h.7M172.2 369.5h.7M187.0 385.5h.7M182.0 359.0h.7M192.1 365.7h.7M178.6 379.7h.7M187.3 376.0h.7M181.4 371.8h.7M190.5 380.0h.7M192.4 380.7h.7M192.8 371.1h.7M190.1 374.6h.7M179.0 389.6h.7M195.7 369.2h.7M182.5 377.6h.7M186.3 373.5h.7M184.6 386.0h.7M183.6 371.5h.7M197.0 371.3h.7M183.2 371.1h.7M185.9 373.4h.7M184.1 374.5h.7M187.8 365.7h.7M178.4 374.2h.7M185.8 373.2h.7M186.1 375.7h.7M183.4 373.8h.7M201.1 371.5h.7M182.4 381.6h.7M189.1 368.4h.7M198.5 354.6h.7M190.0 376.9h.7M191.6 373.7h.7M166.6 369.6h.7M189.0 363.8h.7M196.5 384.2h.7M172.8 383.0h.7M192.8 390.1h.7M180.4 380.0h.7M193.1 365.5h.7M178.3 381.1h.7M184.8 368.6h.7M176.2 376.1h.7M179.4 380.2h.7M184.7 387.0h.7M182.7 372.3h.7M189.4 379.7h.7M177.5 372.6h.7M177.9 368.7h.7M184.6 377.6h.7M180.0 369.4h.7M176.8 389.2h.7M187.8 377.0h.7M180.0 371.7h.7M183.4 373.1h.7M174.4 378.8h.7M181.3 377.6h.7M191.5 376.2h.7M181.1 389.5h.7M197.5 376.4h.7M194.7 370.3h.7M190.9 381.5h.7M192.8 370.0h.7M184.6 370.7h.7M185.0 381.3h.7M170.7 368.8h.7M186.6 376.3h.7M185.1 384.7h.7M181.3 368.5h.7M183.8 367.9h.7M196.6 386.1h.7M184.9 375.8h.7M188.4 378.8h.7M184.0 369.8h.7M191.0 382.6h.7M179.0 368.5h.7M183.5 390.0h.7M179.8 370.6h.7M190.5 371.2h.7M182.2 384.2h.7M176.4 373.3h.7M196.5 378.4h.7M192.9 372.1h.7M187.4 371.4h.7M193.7 378.5h.7M194.9 369.1h.7M185.9 378.6h.7M196.2 366.9h.7M191.7 373.0h.7M185.7 370.9h.7M191.1 378.3h.7M177.5 386.3h.7M179.1 379.3h.7M197.3 363.0h.7M172.3 382.1h.7M191.5 376.2h.7M192.1 367.8h.7M189.7 376.9h.7M191.5 369.2h.7M207.4 368.5h.7M171.8 372.0h.7M176.7 386.6h.7M194.1 375.4h.7M191.7 373.9h.7M195.8 368.6h.7M200.0 374.9h.7M199.4 359.6h.7M181.2 377.4h.7M186.8 365.8h.7M194.3 375.0h.7M175.1 370.1h.7M180.4 372.3h.7M187.5 375.5h.7M191.5 378.0h.7M171.7 388.2h.7M170.4 378.8h.7M180.0 367.0h.7M194.1 361.7h.7M182.2 368.5h.7M189.0 370.0h.7M185.2 378.5h.7M186.8 377.7h.7M188.2 379.6h.7" stroke="#2a2a2a" stroke-width=".75" stroke-opacity="0.55" fill="none"/>
<path d="M189.9 369 L194.6 358.5 L200.6 350.8 L211.1 349.9 L223.6 353.2 L228.4 377.7 L224.6 396.5 L191.4 401.2 Z" stroke="#222" stroke-width="0.8" fill="none"/>
<rect x="154.4" y="347.4" width="82.5" height="84.9" fill="none" stroke="#111" stroke-width="1.25"/>
<path d="M150.7 394.4H154.4M150.7 374.8H154.4M150.7 355.6H154.4M189.1 432.3V435.8M208.9 432.3V435.8M227.7 432.3V435.8" stroke="#111" stroke-width="1.2" fill="none"/>
<path d="M152.3 388.56H154.4M152.3 385.14H154.4M152.3 382.72H154.4M152.3 380.84H154.4M152.3 379.3H154.4M152.3 378.01H154.4M152.3 376.88H154.4M152.3 375.89H154.4M152.3 368.96H154.4M152.3 365.54H154.4M152.3 363.12H154.4M152.3 361.24H154.4M152.3 359.7H154.4M152.3 358.41H154.4M152.3 357.28H154.4M152.3 356.29H154.4M152.3 408.24H154.4M152.3 404.75H154.4M152.3 402.28H154.4M152.3 400.36H154.4M152.3 398.79H154.4M152.3 397.47H154.4M152.3 396.32H154.4M152.3 395.31H154.4M194.91 432.3V434.3M198.31 432.3V434.3M200.72 432.3V434.3M202.59 432.3V434.3M204.12 432.3V434.3M205.41 432.3V434.3M206.53 432.3V434.3M207.52 432.3V434.3M214.71 432.3V434.3M218.11 432.3V434.3M220.52 432.3V434.3M222.39 432.3V434.3M223.92 432.3V434.3M225.21 432.3V434.3M226.33 432.3V434.3M227.32 432.3V434.3M177.08 432.3V434.3M180.11 432.3V434.3M182.26 432.3V434.3M183.92 432.3V434.3M185.28 432.3V434.3M186.44 432.3V434.3M187.43 432.3V434.3M188.31 432.3V434.3" stroke="#111" stroke-width="0.8" fill="none"/>
<path d="M151.8 414.7H154.4M151.8 415.9H154.4M151.8 417.1H154.4M151.8 418.3H154.4M151.8 419.5H154.4M151.8 420.7H154.4M151.8 421.9H154.4M151.8 423.1H154.4M151.8 424.3H154.4M151.8 425.5H154.4M151.8 426.7H154.4M151.8 427.9H154.4M151.8 429.1H154.4M151.8 430.3H154.4M158.8 432.3V434.9M159.62 432.3V434.9M160.44 432.3V434.9M161.26 432.3V434.9M162.08 432.3V434.9M162.89 432.3V434.9M163.71 432.3V434.9M164.53 432.3V434.9M165.35 432.3V434.9M166.17 432.3V434.9M166.99 432.3V434.9M167.81 432.3V434.9M168.62 432.3V434.9M169.44 432.3V434.9M170.26 432.3V434.9M171.08 432.3V434.9M171.9 432.3V434.9" stroke="#111" stroke-width="0.7" fill="none"/>
<text x="148.4" y="358.09" font-size="7.7" text-anchor="end" fill="#000">10<tspan font-size="5.24" dy="-3.08">5</tspan></text>
<text x="148.4" y="377.3" font-size="7.7" text-anchor="end" fill="#000">10<tspan font-size="5.24" dy="-3.08">4</tspan></text>
<text x="148.4" y="396.89" font-size="7.7" text-anchor="end" fill="#000">10<tspan font-size="5.24" dy="-3.08">3</tspan></text>
<text x="148.4" y="416.5" font-size="7.7" text-anchor="end" fill="#000">10<tspan font-size="5.24" dy="-3.08">2</tspan></text>
<text x="148.1" y="424.3" font-size="7.7" text-anchor="end" fill="#000">0</text>
<text x="148.4" y="433.19" font-size="7.7" text-anchor="end" fill="#000">-10<tspan font-size="5.24" dy="-3.08">2</tspan></text>
<text x="165.6" y="446.3" font-size="8.0" text-anchor="middle" fill="#000">0</text>
<text x="190.5" y="446.3" font-size="8.0" text-anchor="middle" fill="#000">10<tspan font-size="5.44" dy="-3.2">3</tspan></text>
<text x="210.3" y="446.3" font-size="8.0" text-anchor="middle" fill="#000">10<tspan font-size="5.44" dy="-3.2">4</tspan></text>
<text x="229.1" y="446.3" font-size="8.0" text-anchor="middle" fill="#000">10<tspan font-size="5.44" dy="-3.2">5</tspan></text>
<defs><radialGradient id="fg2"><stop offset="0" stop-color="#111" stop-opacity="1"/><stop offset="1" stop-color="#222" stop-opacity="0"/></radialGradient></defs>
<ellipse cx="277.3" cy="377.8" rx="13" ry="10" fill="url(#fg2)" opacity=".85"/>
<ellipse cx="308.4" cy="378.5" rx="5" ry="6" fill="url(#fg2)" opacity=".5"/>
<path d="M266.0 388.1h.7M280.2 374.4h.7M284.4 371.3h.7M294.2 376.7h.7M277.3 381.9h.7M269.2 382.7h.7M285.1 380.9h.7M281.6 371.9h.7M280.2 370.8h.7M279.5 374.7h.7M272.5 383.1h.7M292.4 381.7h.7M275.4 376.7h.7M271.2 377.0h.7M279.0 380.0h.7M274.9 378.9h.7M269.7 377.6h.7M287.5 382.2h.7M281.7 377.5h.7M279.5 374.3h.7M269.5 382.5h.7M270.0 381.8h.7M269.5 379.6h.7M289.6 377.8h.7M277.1 379.3h.7M266.7 385.2h.7M272.2 375.4h.7M272.6 379.5h.7M272.7 376.1h.7M280.9 377.9h.7M286.4 379.5h.7M286.2 370.3h.7M278.3 380.2h.7M284.0 374.8h.7M282.0 382.0h.7M271.1 375.4h.7M271.8 380.4h.7M269.8 379.9h.7M274.3 374.0h.7M265.0 391.8h.7M286.5 380.6h.7M266.5 384.8h.7M275.2 372.5h.7M273.6 376.6h.7M289.0 375.7h.7M277.3 380.1h.7M281.0 371.1h.7M285.8 376.9h.7M284.7 384.0h.7M275.3 389.4h.7M275.4 377.1h.7M276.3 375.5h.7M273.7 381.5h.7M285.3 379.3h.7M275.8 375.1h.7M264.3 378.1h.7M280.8 375.2h.7M291.3 379.0h.7M275.6 380.8h.7M279.2 373.9h.7M275.4 371.3h.7M275.4 383.3h.7M274.4 386.8h.7M276.3 381.8h.7M281.0 374.0h.7M269.7 381.9h.7M283.3 376.4h.7M276.7 364.8h.7M273.2 383.4h.7M285.1 377.8h.7M272.2 383.4h.7M275.7 382.1h.7M287.9 371.0h.7M275.8 379.6h.7M280.5 377.7h.7M283.8 380.7h.7M273.8 378.4h.7M285.0 371.1h.7M273.8 369.1h.7M271.6 388.6h.7M292.6 372.5h.7M290.6 377.1h.7M280.8 376.8h.7M286.0 369.2h.7M288.3 376.6h.7M278.2 369.9h.7M294.8 377.9h.7M280.1 378.0h.7M285.1 374.2h.7M280.5 381.3h.7M273.6 376.2h.7M286.5 371.9h.7M272.4 382.0h.7M292.8 383.1h.7M271.7 389.5h.7M269.1 378.5h.7M281.2 381.8h.7M283.7 379.2h.7M265.4 373.8h.7M278.3 380.5h.7M278.4 375.2h.7M280.2 382.1h.7M290.5 378.3h.7M273.8 379.3h.7M278.6 387.7h.7M280.8 381.4h.7M285.3 377.2h.7M274.0 371.4h.7M273.5 383.0h.7M284.0 367.6h.7M275.3 378.9h.7M283.5 374.7h.7M275.4 378.6h.7M280.9 377.3h.7M272.3 378.1h.7M278.6 375.0h.7M276.7 377.2h.7M266.9 389.1h.7M277.2 381.9h.7M291.4 376.2h.7M272.2 379.3h.7M272.4 377.7h.7M283.1 373.2h.7M282.0 378.0h.7M288.7 377.6h.7M284.0 379.4h.7M274.9 377.3h.7M271.3 374.2h.7M292.5 369.5h.7M286.0 374.9h.7M270.1 380.1h.7M283.9 380.9h.7M285.8 375.7h.7M280.8 374.0h.7M272.3 382.6h.7M284.1 375.3h.7M277.8 375.1h.7M277.9 372.4h.7M278.8 377.4h.7M276.4 387.8h.7M272.2 380.5h.7M282.6 372.9h.7M283.9 372.2h.7M280.5 377.8h.7M287.9 367.5h.7M288.5 388.2h.7M282.1 371.7h.7M278.7 371.8h.7M283.2 377.2h.7M269.5 388.2h.7M275.9 385.4h.7M275.2 376.7h.7M269.0 381.5h.7M276.5 373.7h.7M290.1 374.0h.7M291.8 375.7h.7M264.8 373.9h.7M279.1 385.4h.7M276.0 373.6h.7M271.7 384.3h.7M288.1 374.2h.7M270.9 373.9h.7M282.6 371.3h.7M277.0 376.7h.7M289.4 365.8h.7M269.4 377.0h.7M285.8 373.3h.7M284.4 372.4h.7M263.4 376.9h.7M285.9 372.8h.7M268.9 378.4h.7M270.9 380.3h.7M278.3 381.4h.7M280.5 388.1h.7M265.6 386.1h.7M272.2 376.8h.7M272.6 380.7h.7M274.8 381.9h.7M276.3 382.7h.7M294.2 375.4h.7M279.8 373.2h.7M278.7 376.2h.7M270.5 375.4h.7M291.9 365.3h.7M267.3 374.8h.7M276.5 376.1h.7M280.2 378.6h.7M277.7 372.5h.7M272.5 383.4h.7M284.9 373.9h.7M280.9 373.1h.7M270.6 372.8h.7M283.8 385.6h.7M278.9 380.0h.7M282.5 375.9h.7M280.1 383.8h.7M276.9 376.1h.7M292.5 382.7h.7M282.3 370.4h.7M272.0 375.2h.7M278.8 376.9h.7M276.3 381.9h.7M267.0 371.8h.7M277.5 380.1h.7M278.1 386.8h.7M274.6 376.7h.7M275.7 373.6h.7M283.2 377.8h.7M287.9 366.1h.7M268.2 385.4h.7M280.5 376.1h.7M279.8 381.2h.7M272.7 384.9h.7M282.1 376.4h.7M276.1 383.7h.7M277.0 375.3h.7M268.5 377.5h.7M278.4 373.2h.7M273.6 384.3h.7M272.1 382.7h.7M280.7 364.6h.7M281.8 376.6h.7M269.0 378.4h.7M273.1 377.9h.7M274.4 382.8h.7M280.3 382.2h.7M286.1 371.9h.7M280.4 380.1h.7M268.8 386.5h.7M280.4 377.5h.7M281.1 373.1h.7M281.0 382.3h.7M288.2 377.0h.7M279.4 376.3h.7M275.3 382.0h.7M277.8 377.6h.7M286.6 377.2h.7M281.7 371.3h.7M274.7 374.0h.7M283.4 375.3h.7M273.5 377.7h.7M274.3 384.7h.7M288.1 378.6h.7M278.2 385.9h.7M283.9 381.2h.7M272.3 379.2h.7M279.9 370.2h.7M270.2 382.9h.7M266.9 384.1h.7M279.7 377.6h.7M275.2 377.6h.7M288.2 368.4h.7M278.0 380.6h.7M279.3 376.1h.7M274.1 378.5h.7M284.8 375.7h.7M274.8 375.0h.7M285.4 370.4h.7M280.4 377.1h.7M275.4 382.2h.7M287.1 376.5h.7M286.1 376.6h.7M277.5 374.0h.7M273.0 387.7h.7M279.0 369.5h.7M281.9 378.8h.7M272.0 383.2h.7M278.2 367.6h.7M275.1 377.5h.7M284.4 377.0h.7M280.1 376.5h.7M278.7 377.4h.7M285.3 376.6h.7M283.3 378.2h.7M296.1 371.6h.7M280.2 370.3h.7M273.1 382.6h.7M271.2 378.7h.7M274.3 376.3h.7M270.4 379.0h.7M280.3 379.2h.7M271.1 380.7h.7M265.5 387.8h.7M276.0 382.6h.7M265.5 388.9h.7M289.1 374.3h.7M286.0 375.8h.7M282.6 375.5h.7M278.4 370.5h.7M275.1 390.3h.7M273.5 387.6h.7M274.2 373.0h.7M273.7 379.7h.7M269.4 387.7h.7M273.8 378.0h.7M270.3 376.6h.7M288.6 368.5h.7M280.4 375.2h.7M269.3 379.5h.7M264.7 384.9h.7M281.0 376.2h.7M279.6 372.6h.7M276.2 378.7h.7M267.9 379.8h.7M276.5 375.6h.7M275.4 384.0h.7M275.8 387.7h.7M275.8 378.6h.7M273.4 378.1h.7M276.7 373.2h.7M281.1 375.5h.7M274.2 371.9h.7M268.6 386.7h.7M286.2 365.4h.7M273.6 376.9h.7M279.7 374.7h.7M276.3 374.2h.7M272.8 381.7h.7M267.1 374.0h.7M278.1 377.0h.7M284.0 370.4h.7M267.1 387.0h.7M275.4 387.3h.7M287.9 373.0h.7M273.8 382.5h.7M275.5 383.1h.7M285.5 383.5h.7M274.7 381.2h.7M280.1 383.2h.7M289.2 377.9h.7M281.2 373.7h.7M286.0 386.5h.7M273.4 372.6h.7M274.9 377.7h.7M284.6 382.1h.7M273.8 381.9h.7M282.4 375.2h.7M269.7 379.6h.7M280.1 374.6h.7M274.3 382.3h.7M282.1 380.9h.7M277.9 369.9h.7M272.9 385.1h.7M270.8 380.0h.7M277.3 371.5h.7M282.4 379.6h.7M274.2 375.5h.7M273.9 376.8h.7M276.9 381.1h.7M280.7 372.2h.7M284.5 380.3h.7M278.0 378.7h.7M280.3 376.5h.7M284.2 374.7h.7M287.6 381.6h.7M271.9 373.9h.7M287.9 384.3h.7M282.1 371.7h.7M283.2 374.7h.7M269.6 382.5h.7M266.6 367.0h.7M278.3 374.3h.7M279.1 378.3h.7M280.0 378.6h.7M271.6 383.6h.7M268.3 379.5h.7M277.5 377.2h.7M276.5 375.6h.7M277.3 368.5h.7M285.6 379.5h.7M282.5 381.4h.7M281.4 383.9h.7M266.9 389.8h.7M264.8 378.3h.7M273.4 387.5h.7M286.9 380.3h.7M279.2 375.9h.7M273.2 378.1h.7M281.1 385.6h.7M286.8 381.0h.7M273.6 379.1h.7M276.1 384.4h.7M281.3 383.5h.7M298.7 369.6h.7M279.2 378.3h.7M268.7 386.4h.7M284.5 373.5h.7M273.8 381.7h.7M280.2 370.6h.7M270.9 383.7h.7M264.8 381.6h.7M289.2 365.9h.7M279.4 371.3h.7M279.1 374.3h.7M279.0 375.0h.7M284.9 370.0h.7M284.0 383.6h.7M270.6 382.9h.7M281.8 380.8h.7M269.3 380.8h.7M276.7 378.3h.7M276.1 367.4h.7M269.2 384.1h.7M277.8 374.7h.7M269.6 376.0h.7M283.9 370.1h.7M272.8 378.0h.7M280.6 377.5h.7M287.2 367.1h.7M278.4 385.3h.7M279.4 382.5h.7M281.8 380.9h.7M286.2 381.4h.7M272.3 379.3h.7M281.4 374.7h.7M275.3 384.2h.7M283.9 387.2h.7M274.9 380.2h.7M279.1 381.1h.7M281.3 376.4h.7M276.6 379.4h.7M287.7 372.7h.7M289.7 375.6h.7M275.3 383.4h.7M279.5 378.1h.7M279.1 370.3h.7M270.4 374.7h.7M276.0 375.6h.7M269.7 381.0h.7M267.6 384.7h.7M273.2 384.7h.7M280.1 377.2h.7M265.5 379.6h.7M288.3 364.9h.7M268.6 386.2h.7M285.3 369.9h.7M271.1 383.1h.7M275.3 375.3h.7M277.5 378.9h.7M282.0 373.7h.7M283.6 379.7h.7M276.0 379.6h.7M276.5 371.9h.7M264.3 374.1h.7M276.0 374.8h.7M281.5 363.5h.7M272.9 374.7h.7M275.0 379.5h.7M279.9 369.8h.7M279.9 380.3h.7M267.1 384.0h.7M280.9 385.2h.7M281.0 375.4h.7M278.1 379.6h.7M266.5 382.4h.7M282.1 379.6h.7M273.1 382.5h.7M275.9 378.8h.7M283.2 368.8h.7M280.3 377.9h.7M285.4 382.4h.7M289.0 376.7h.7M270.2 387.9h.7M271.0 386.4h.7M284.0 377.3h.7M280.2 382.4h.7M288.5 371.1h.7M274.0 381.0h.7M285.9 379.4h.7M280.4 372.5h.7M280.7 375.6h.7M279.1 379.2h.7M274.1 378.5h.7M275.1 370.3h.7M274.0 389.6h.7M288.5 375.1h.7M270.0 378.1h.7M269.1 387.9h.7M288.6 377.4h.7M268.4 380.0h.7M286.2 380.6h.7M273.2 380.2h.7M267.0 382.5h.7M263.5 369.9h.7M287.4 376.7h.7M282.1 373.5h.7M278.5 378.8h.7M272.5 386.1h.7M280.5 380.6h.7M275.4 378.8h.7M280.9 380.3h.7M279.5 369.3h.7M274.0 382.0h.7M277.5 383.2h.7M271.1 371.4h.7M283.8 375.0h.7M274.0 381.2h.7M274.8 378.7h.7M276.2 379.6h.7M270.9 387.5h.7M283.2 370.9h.7M284.8 372.5h.7M281.7 374.4h.7M275.2 387.8h.7M272.7 373.8h.7M276.8 383.8h.7M277.0 379.4h.7M275.0 371.4h.7M287.2 378.7h.7M286.4 380.2h.7M278.6 377.1h.7M286.4 371.6h.7M268.4 380.7h.7M279.0 377.7h.7M274.3 377.0h.7M281.4 380.5h.7M266.0 379.4h.7M273.2 373.6h.7M292.1 374.9h.7M298.0 373.8h.7M266.5 382.0h.7M272.1 376.7h.7M271.0 373.0h.7M277.4 386.4h.7M272.9 381.0h.7M273.9 385.4h.7M278.1 381.9h.7M279.0 377.5h.7M284.3 374.4h.7M285.5 370.5h.7M280.7 374.6h.7M262.9 381.4h.7M273.4 381.3h.7M284.1 372.4h.7M276.7 374.6h.7M278.9 372.6h.7M282.7 372.3h.7M274.0 380.0h.7M280.5 373.6h.7M272.7 373.9h.7M269.8 380.8h.7M277.4 379.6h.7M276.7 381.4h.7M279.3 387.9h.7M284.5 374.0h.7M278.3 377.6h.7M284.7 378.5h.7M278.3 384.3h.7M273.0 379.9h.7M293.2 378.4h.7M274.2 386.2h.7M275.9 378.1h.7M279.9 374.3h.7M277.2 379.4h.7M263.8 385.1h.7M281.4 378.0h.7M269.2 383.9h.7M274.7 383.8h.7M275.3 391.1h.7M269.0 388.4h.7M277.3 389.9h.7M263.4 371.5h.7M279.7 378.0h.7M280.2 377.1h.7M275.4 389.9h.7M285.2 380.6h.7M278.6 382.2h.7M283.6 383.2h.7M280.7 381.5h.7M286.5 380.7h.7M283.2 372.7h.7M280.9 369.6h.7M269.7 371.4h.7M284.3 376.1h.7M273.3 379.0h.7M277.7 377.0h.7M288.8 373.1h.7M289.1 372.8h.7M268.1 386.8h.7M274.0 378.3h.7M279.3 381.9h.7M272.4 376.2h.7M276.9 376.3h.7M267.7 386.2h.7M287.3 367.0h.7M262.9 376.8h.7M272.3 372.9h.7M279.9 381.6h.7M278.9 369.1h.7M272.9 377.6h.7M273.5 375.4h.7M276.3 383.9h.7M278.5 373.8h.7M294.0 375.8h.7M286.6 375.3h.7M274.1 379.9h.7M277.6 376.2h.7M275.5 383.4h.7M277.9 380.8h.7M276.3 388.4h.7M275.8 380.7h.7M275.2 379.2h.7M268.1 377.8h.7M276.8 375.4h.7M290.6 374.2h.7M282.2 371.6h.7M289.1 369.1h.7M267.2 381.6h.7M278.6 383.1h.7M279.2 384.1h.7M276.8 382.0h.7M276.3 374.1h.7M288.5 370.1h.7M283.0 375.9h.7M266.7 384.9h.7M287.8 374.5h.7M278.0 379.2h.7M275.8 383.1h.7M278.1 376.9h.7M269.3 373.5h.7M278.5 381.8h.7M281.6 374.1h.7M277.1 371.0h.7M280.8 381.2h.7M271.9 372.1h.7M264.8 375.7h.7M278.5 381.0h.7M288.5 369.8h.7M276.6 377.4h.7M278.3 372.8h.7M276.3 391.8h.7M278.1 371.6h.7M272.8 375.5h.7M287.1 369.8h.7M281.3 379.6h.7M275.7 387.7h.7M270.9 375.5h.7M288.0 374.4h.7M274.5 380.5h.7M283.3 377.6h.7M269.6 380.6h.7M282.6 376.4h.7M280.0 370.8h.7M268.5 378.4h.7M265.4 373.6h.7M291.0 367.9h.7M285.3 373.3h.7M280.2 375.4h.7M284.4 375.2h.7M271.5 384.2h.7M276.9 379.7h.7M284.5 376.9h.7M267.9 384.3h.7M276.0 384.0h.7M271.8 375.7h.7M264.5 377.8h.7M285.9 371.3h.7M285.8 374.2h.7M274.9 375.5h.7M278.1 374.3h.7M277.8 382.6h.7M276.6 370.1h.7M269.7 387.5h.7M275.9 383.3h.7M275.9 382.4h.7M277.9 376.3h.7M289.4 368.4h.7M284.7 375.9h.7M283.0 375.6h.7M279.3 372.2h.7M281.4 378.0h.7M263.2 384.0h.7M283.3 379.8h.7M282.5 382.6h.7M278.7 377.1h.7M263.5 383.6h.7M283.3 383.3h.7M268.6 370.6h.7M275.8 382.2h.7M272.8 381.6h.7M277.4 381.6h.7M277.9 380.3h.7M275.6 377.1h.7M279.7 379.1h.7M276.4 379.1h.7M288.1 373.4h.7M274.3 380.9h.7M274.2 377.8h.7M289.2 379.1h.7M281.6 376.3h.7M277.1 378.3h.7M279.4 381.0h.7M294.7 378.7h.7M279.5 380.4h.7M278.7 377.8h.7M276.4 379.1h.7M269.2 384.9h.7M282.3 379.8h.7M276.9 377.6h.7M271.1 376.8h.7M276.2 373.5h.7M270.8 380.0h.7M280.2 384.9h.7M277.1 375.3h.7M271.7 381.4h.7M272.6 375.7h.7M273.6 373.1h.7M280.0 373.6h.7M283.6 384.1h.7M277.6 389.7h.7M279.1 374.7h.7M281.5 378.0h.7M277.6 374.1h.7M287.2 376.5h.7M291.6 374.8h.7M279.1 377.2h.7M275.9 372.8h.7M277.2 370.7h.7M272.8 380.9h.7M284.5 376.0h.7M273.6 380.8h.7M277.1 373.9h.7M265.3 381.3h.7M289.3 366.1h.7M277.8 370.5h.7M284.3 377.2h.7M281.5 373.0h.7M269.1 381.5h.7M279.0 377.1h.7M276.3 373.2h.7M268.8 391.5h.7M281.5 372.5h.7M270.6 380.3h.7M277.4 372.1h.7M286.7 379.0h.7M284.8 382.3h.7M294.0 364.8h.7M293.8 379.2h.7M286.8 369.5h.7M272.4 373.1h.7M270.5 377.9h.7M278.1 378.0h.7M281.9 368.0h.7M276.5 379.5h.7M279.8 377.3h.7M275.2 376.0h.7M277.5 369.3h.7M272.3 379.7h.7M271.8 382.4h.7M277.5 372.7h.7M287.2 377.6h.7M267.9 382.5h.7M272.6 371.6h.7M269.4 382.5h.7M279.6 384.6h.7M266.2 378.9h.7M278.2 379.0h.7M280.1 385.7h.7M284.3 375.5h.7M281.4 365.9h.7M274.1 379.2h.7M277.8 388.8h.7M271.4 374.6h.7M276.3 378.0h.7M265.8 385.2h.7M279.8 379.8h.7M273.2 378.5h.7M276.7 377.5h.7M269.9 387.3h.7M282.3 377.9h.7M263.9 376.3h.7M280.4 377.4h.7M267.4 375.6h.7M273.7 384.8h.7M270.8 382.6h.7M276.6 372.8h.7M289.6 371.7h.7M286.3 372.9h.7M268.8 387.1h.7M282.8 367.9h.7M287.1 374.4h.7M282.1 374.5h.7M285.6 374.7h.7M282.8 376.0h.7M276.5 382.4h.7M271.8 377.3h.7M284.8 374.2h.7M277.8 379.4h.7M273.9 368.6h.7M286.6 374.3h.7M272.7 380.2h.7M286.5 376.5h.7M278.0 374.0h.7M276.4 381.5h.7M271.2 386.5h.7M289.9 365.3h.7M286.3 380.1h.7M280.4 387.1h.7M273.7 379.0h.7M274.2 382.5h.7M275.4 377.9h.7M272.7 378.3h.7M281.4 373.5h.7M267.9 378.1h.7M281.3 372.6h.7M271.6 382.6h.7M280.5 383.0h.7M276.2 376.6h.7M269.2 377.9h.7M270.5 381.2h.7M269.5 382.1h.7M287.2 375.6h.7M279.5 375.6h.7M264.0 385.3h.7M272.8 376.8h.7M269.4 388.5h.7M283.1 380.5h.7M280.2 372.4h.7M284.0 385.6h.7M275.6 380.5h.7M276.2 378.4h.7M267.9 375.2h.7M286.2 372.2h.7M266.4 370.8h.7M283.2 372.4h.7M293.6 368.5h.7M282.2 372.4h.7M278.1 378.4h.7M294.6 371.2h.7M275.8 376.4h.7M273.3 377.6h.7M288.6 374.2h.7M283.3 371.3h.7M281.1 381.2h.7M267.5 378.4h.7M287.4 379.0h.7M281.1 385.3h.7M280.3 383.0h.7M285.5 377.5h.7M281.8 389.5h.7M280.2 377.1h.7M278.0 366.7h.7M276.4 382.8h.7M279.1 375.7h.7M280.5 376.7h.7M268.6 379.3h.7M267.9 383.5h.7M272.1 379.2h.7M266.5 376.0h.7M281.0 370.1h.7M281.8 369.4h.7M282.3 387.4h.7M279.9 369.1h.7M279.4 380.5h.7M282.1 369.3h.7M272.1 384.4h.7M278.0 376.8h.7M275.7 377.1h.7M269.7 374.5h.7M276.7 377.8h.7M270.2 378.6h.7M279.9 378.1h.7M276.7 378.3h.7M265.4 381.1h.7M274.2 380.8h.7M275.9 379.2h.7M284.7 377.6h.7M283.9 373.1h.7M278.9 385.2h.7M277.1 371.6h.7M282.9 379.2h.7M277.9 376.9h.7M286.3 380.0h.7M281.5 371.1h.7M278.6 380.8h.7M272.5 376.5h.7M266.5 386.2h.7M282.2 375.2h.7M282.9 378.0h.7M286.9 372.4h.7M280.1 368.5h.7M283.6 367.9h.7M280.6 370.7h.7M264.9 382.2h.7M290.9 369.6h.7M271.7 380.4h.7M274.6 374.9h.7M279.7 371.1h.7M273.1 383.7h.7M283.7 386.2h.7M279.0 374.8h.7M277.2 374.4h.7M276.0 378.6h.7M285.1 386.0h.7M298.0 371.3h.7M277.7 373.9h.7M279.5 380.8h.7M283.1 375.3h.7M267.3 381.3h.7M272.5 377.9h.7M278.3 376.8h.7M286.6 373.1h.7M272.2 384.0h.7M274.8 377.3h.7M282.4 372.4h.7M271.7 381.2h.7M276.3 376.7h.7M282.5 379.2h.7M276.0 380.7h.7M281.1 379.0h.7M271.6 380.9h.7M267.8 383.4h.7M284.3 384.7h.7M273.9 374.3h.7M267.0 382.1h.7M286.0 387.9h.7M287.3 372.8h.7M267.5 382.6h.7M283.5 380.0h.7M277.0 382.1h.7M288.5 378.4h.7M290.0 372.6h.7M263.8 381.2h.7M265.2 386.2h.7M278.4 375.0h.7M275.2 373.9h.7M276.5 380.9h.7M279.4 376.4h.7M284.2 380.5h.7M277.8 379.2h.7M277.3 373.8h.7M272.4 380.3h.7M272.4 370.1h.7M268.3 375.1h.7M284.3 368.7h.7M274.1 377.4h.7M283.8 389.0h.7M279.4 374.0h.7M276.6 384.3h.7M273.9 372.9h.7M283.8 363.9h.7M280.6 374.5h.7M268.5 377.9h.7M295.1 375.0h.7M271.3 378.6h.7M272.5 370.5h.7M274.5 382.8h.7M275.6 384.5h.7M277.6 367.5h.7M272.0 384.0h.7M283.2 370.2h.7M271.5 376.3h.7M286.9 375.1h.7M280.8 377.9h.7M279.9 382.4h.7M276.0 380.4h.7M285.5 371.0h.7M273.0 376.7h.7M280.4 381.1h.7M284.5 372.8h.7M277.9 377.1h.7M289.0 382.4h.7M274.6 374.4h.7M268.0 384.4h.7M280.4 368.5h.7M269.9 387.4h.7M288.5 371.5h.7M274.6 370.2h.7M288.2 374.3h.7M294.2 374.8h.7M280.8 385.1h.7M269.5 374.9h.7M273.2 376.2h.7M283.0 380.4h.7M284.6 377.6h.7M276.8 378.3h.7M269.8 370.6h.7M275.5 371.8h.7M268.0 372.3h.7M283.9 385.3h.7M273.7 386.7h.7M276.0 367.0h.7M275.4 380.9h.7M280.1 383.9h.7M276.3 380.4h.7M282.8 379.1h.7M279.5 377.8h.7M276.5 382.8h.7M279.1 376.1h.7M278.0 380.6h.7M275.6 380.1h.7M267.1 380.1h.7M272.8 371.1h.7M273.4 380.1h.7M266.4 379.7h.7M277.9 375.7h.7M285.5 377.9h.7M278.1 377.2h.7M278.6 371.1h.7M275.6 384.7h.7M267.2 386.2h.7M281.7 383.6h.7M266.0 384.8h.7M282.3 380.9h.7M266.3 378.0h.7M283.0 376.7h.7M272.4 373.2h.7M277.4 377.3h.7M280.4 381.5h.7M271.9 384.7h.7M263.7 381.6h.7M270.0 381.1h.7M270.4 377.6h.7M267.9 380.7h.7M265.5 380.3h.7M278.5 379.5h.7M269.3 388.7h.7M282.6 382.7h.7M287.2 378.0h.7M285.0 378.3h.7M282.5 381.3h.7M285.5 374.3h.7M280.4 379.3h.7M270.3 388.1h.7M280.6 372.8h.7M284.9 382.6h.7M283.6 372.6h.7M279.5 384.7h.7M288.1 379.1h.7M270.3 383.5h.7M278.5 374.3h.7M265.4 389.8h.7M277.9 373.6h.7M271.7 380.3h.7M275.2 381.6h.7M276.6 372.8h.7M279.3 375.7h.7M289.0 372.5h.7M271.1 378.8h.7M270.9 370.5h.7M276.5 376.8h.7M284.6 368.7h.7M276.0 380.3h.7M281.2 367.9h.7M279.6 374.9h.7M281.2 376.9h.7M271.5 378.9h.7M272.8 382.5h.7M278.3 378.1h.7M277.2 378.2h.7M267.4 387.6h.7M278.1 375.4h.7M275.1 372.6h.7M275.2 379.0h.7M271.8 373.4h.7M284.9 377.3h.7M275.3 374.1h.7M277.4 373.8h.7M270.1 378.1h.7M281.7 372.0h.7M272.0 378.6h.7M289.6 380.9h.7M275.0 378.8h.7M279.4 382.0h.7M275.3 387.5h.7M277.5 372.6h.7M276.9 381.0h.7M279.3 372.2h.7M279.1 376.9h.7M270.2 381.3h.7M270.9 373.1h.7M281.1 379.7h.7M264.7 377.6h.7M275.0 377.4h.7M279.0 384.8h.7M289.7 379.0h.7M276.3 382.8h.7M274.9 377.8h.7M276.4 380.2h.7M289.5 366.7h.7M277.0 372.2h.7M278.9 375.5h.7M279.9 368.7h.7M269.2 376.3h.7M289.7 377.0h.7M280.6 373.2h.7M270.9 384.5h.7M265.0 384.4h.7M279.4 375.4h.7M281.7 373.9h.7M282.5 374.9h.7M269.0 378.9h.7M279.0 381.2h.7M272.6 382.5h.7M278.3 380.8h.7M286.0 378.2h.7M295.4 367.7h.7M278.3 372.6h.7M278.7 384.1h.7M284.3 378.5h.7M286.7 374.1h.7M280.5 376.3h.7M280.7 372.3h.7M272.9 379.2h.7M286.6 372.4h.7M290.0 372.6h.7M273.2 380.7h.7M281.7 377.9h.7M290.6 377.1h.7M272.9 373.4h.7M280.5 386.4h.7M270.2 384.5h.7M277.9 374.3h.7M269.8 377.1h.7M276.8 385.7h.7M271.8 383.0h.7M277.5 376.9h.7M276.0 374.7h.7M267.8 377.8h.7M283.3 379.0h.7M268.1 380.4h.7M281.6 374.9h.7M288.6 376.6h.7M274.2 381.9h.7M273.1 385.7h.7M280.6 378.4h.7M286.8 377.8h.7M276.1 382.9h.7M265.8 386.9h.7M270.3 386.2h.7M288.4 372.9h.7M266.6 378.0h.7M288.5 371.2h.7M269.3 375.9h.7M274.0 370.1h.7M278.6 388.1h.7M288.2 370.0h.7M274.9 378.0h.7M274.0 378.6h.7M280.6 373.0h.7M276.4 385.7h.7M273.7 378.7h.7M284.8 379.2h.7M289.4 382.3h.7M290.5 372.3h.7M270.2 373.3h.7M273.9 370.7h.7M272.5 383.7h.7M269.5 383.0h.7M286.6 369.8h.7M266.6 378.6h.7M270.5 382.8h.7M277.8 382.9h.7M271.1 383.4h.7M276.3 376.7h.7M267.5 381.8h.7M280.5 381.5h.7M284.2 377.8h.7M280.9 377.2h.7M276.7 378.9h.7M272.5 381.0h.7M281.7 378.6h.7M271.0 384.1h.7M282.6 374.1h.7M289.1 376.4h.7M271.8 372.0h.7M280.6 380.0h.7M286.3 373.4h.7M273.2 376.7h.7M271.4 382.8h.7M284.8 373.4h.7M279.1 378.1h.7M283.4 375.6h.7M278.5 381.3h.7M274.3 371.4h.7M271.3 372.6h.7M275.3 379.3h.7M272.1 381.6h.7M279.4 378.1h.7M297.4 369.7h.7M283.5 372.7h.7M273.4 388.1h.7M266.8 380.9h.7M285.0 375.9h.7M281.5 383.7h.7M278.4 377.4h.7M276.4 377.4h.7M273.2 378.4h.7M273.2 383.3h.7M275.0 377.8h.7M276.3 395.7h.7M274.9 383.8h.7M276.6 378.9h.7M275.9 376.7h.7M274.9 383.5h.7M288.2 378.4h.7M286.0 381.4h.7M267.3 377.6h.7M269.3 385.9h.7M290.3 365.0h.7M280.1 380.8h.7M280.7 370.8h.7M282.3 382.9h.7M273.2 376.4h.7M273.7 382.1h.7M274.5 370.9h.7M280.3 378.3h.7M287.8 379.8h.7M263.0 381.8h.7M285.4 370.4h.7M289.6 376.8h.7M280.0 378.8h.7M270.4 386.6h.7M278.4 378.0h.7M277.3 375.7h.7M276.9 375.3h.7M284.0 370.7h.7M285.8 377.6h.7M285.6 366.4h.7M280.6 370.0h.7M285.0 373.3h.7M283.7 378.8h.7M269.8 379.6h.7M284.6 372.6h.7M268.9 379.0h.7M279.8 369.8h.7M273.2 386.8h.7M283.3 380.7h.7M281.8 375.0h.7M276.5 384.2h.7M275.4 378.5h.7M278.5 375.4h.7M271.3 375.4h.7M284.1 376.4h.7M277.6 384.0h.7M285.7 383.9h.7M284.5 370.6h.7M282.2 372.9h.7M278.2 383.5h.7M272.4 382.4h.7M278.2 375.9h.7M269.6 388.7h.7M277.0 377.4h.7M274.4 380.6h.7M283.1 369.7h.7M286.2 370.9h.7M276.4 371.6h.7M279.4 370.1h.7M284.2 372.6h.7M273.1 376.5h.7M281.4 380.0h.7M280.4 376.8h.7M274.4 379.5h.7M275.4 381.9h.7M278.0 378.3h.7M275.2 382.8h.7M271.5 381.9h.7M290.4 371.2h.7M284.1 366.3h.7M280.0 380.2h.7M273.8 372.1h.7M282.1 371.0h.7M279.3 382.7h.7M273.2 384.8h.7M271.8 381.5h.7M273.7 375.0h.7M281.2 369.5h.7M276.7 372.7h.7M273.0 385.0h.7M281.5 375.8h.7M280.5 380.2h.7M283.6 379.0h.7M276.1 387.4h.7M280.7 375.6h.7M274.5 383.2h.7M275.3 378.6h.7M277.3 381.1h.7M284.2 376.3h.7M273.5 380.3h.7M277.4 379.1h.7M276.4 377.9h.7M281.5 375.4h.7M268.2 383.8h.7M285.3 370.7h.7M276.9 377.9h.7M293.1 372.9h.7M285.9 376.1h.7M272.1 380.1h.7M280.2 366.9h.7M277.8 377.0h.7M279.4 390.0h.7M275.0 374.0h.7M263.8 381.5h.7M274.1 380.2h.7M266.5 383.2h.7M286.9 371.7h.7M272.7 385.4h.7M273.6 375.9h.7M289.4 369.2h.7M283.0 379.6h.7M270.7 375.9h.7M276.6 374.5h.7M277.5 372.0h.7M279.9 377.8h.7M280.0 375.5h.7M277.0 377.4h.7M278.6 381.9h.7M272.9 384.0h.7M273.0 382.1h.7M270.2 381.3h.7M288.8 373.9h.7M275.3 375.2h.7M273.8 385.4h.7M290.8 382.0h.7M295.0 368.9h.7M283.6 374.3h.7M276.5 380.9h.7M273.0 376.7h.7M270.7 376.0h.7M274.5 378.5h.7M272.4 379.9h.7M280.8 367.6h.7M289.2 370.9h.7M268.1 375.2h.7M274.3 374.9h.7M279.3 369.6h.7M276.0 379.6h.7M280.7 378.6h.7M278.5 372.9h.7M282.3 369.8h.7M280.7 378.2h.7M272.6 382.0h.7M280.8 364.1h.7M292.4 366.4h.7M271.7 372.8h.7M282.4 377.0h.7M285.2 371.4h.7M270.9 383.3h.7M263.4 375.7h.7M270.2 382.9h.7M277.5 371.1h.7M278.3 376.1h.7M271.0 381.5h.7M277.9 367.0h.7M269.7 387.5h.7M275.3 380.7h.7M268.1 369.1h.7M283.1 377.3h.7M279.4 379.8h.7M274.8 374.3h.7M272.2 387.5h.7M274.4 381.7h.7M295.2 366.4h.7M280.9 375.4h.7M294.4 370.8h.7M278.9 372.6h.7M271.1 383.4h.7M280.8 371.1h.7M275.2 384.1h.7M278.7 375.3h.7M283.5 370.9h.7M279.8 377.7h.7M274.8 374.5h.7M278.4 375.3h.7M290.0 377.3h.7M283.0 373.4h.7M282.7 381.8h.7M287.1 378.4h.7M284.4 375.2h.7M279.8 384.1h.7M278.8 385.1h.7M270.9 386.0h.7M285.6 366.2h.7M273.3 370.3h.7M272.1 383.6h.7M274.5 385.1h.7M274.0 380.1h.7M277.0 378.0h.7M277.2 378.2h.7M290.9 376.0h.7M274.5 381.9h.7M273.6 370.9h.7M277.3 375.0h.7M267.4 383.1h.7M277.8 381.1h.7M284.7 375.9h.7M283.8 369.6h.7M267.9 380.0h.7M281.1 377.0h.7M282.0 373.3h.7M278.0 380.6h.7M278.9 373.3h.7M266.9 384.4h.7M279.3 378.9h.7M274.9 379.3h.7M280.5 388.5h.7M280.0 378.0h.7M269.0 388.3h.7M272.7 383.4h.7M263.3 374.7h.7M278.7 363.3h.7M270.9 369.4h.7M277.6 378.0h.7M268.8 379.5h.7M280.1 376.5h.7M283.0 375.4h.7M267.9 382.1h.7M281.0 383.4h.7M275.9 370.7h.7M286.1 382.3h.7M275.9 381.6h.7M278.0 375.8h.7M275.5 371.1h.7M282.9 378.6h.7M276.1 382.4h.7M276.9 375.4h.7M273.1 371.9h.7M286.8 376.8h.7M279.8 384.7h.7M285.8 369.8h.7M281.5 379.3h.7M270.6 375.3h.7M279.3 381.7h.7M268.0 380.7h.7M269.4 381.0h.7M286.3 383.9h.7M281.1 376.6h.7M293.4 376.5h.7M275.2 373.9h.7M277.0 377.6h.7M271.1 371.9h.7M271.1 371.6h.7M279.4 378.9h.7M283.7 375.4h.7M284.4 372.4h.7M279.7 376.5h.7M278.7 377.2h.7M281.6 369.0h.7M272.6 376.5h.7M288.3 372.3h.7M271.5 377.8h.7M293.2 388.0h.7M271.2 379.2h.7M267.9 383.3h.7M277.2 375.9h.7M280.9 387.1h.7M280.0 379.8h.7M277.0 375.9h.7M272.5 377.4h.7M293.4 378.2h.7M277.1 370.4h.7M272.1 376.6h.7M273.4 381.5h.7M263.7 388.4h.7M281.7 377.8h.7M264.2 379.6h.7M276.4 381.1h.7M278.0 377.9h.7M276.0 384.8h.7M269.6 380.4h.7M282.9 380.0h.7M272.2 372.1h.7M284.2 376.0h.7M264.7 378.7h.7M277.2 386.2h.7M280.5 380.5h.7M275.8 386.8h.7" stroke="#2a2a2a" stroke-width=".75" stroke-opacity="0.55" fill="none"/>
<path d="M308.4 376.0h.7M309.7 383.1h.7M313.9 379.5h.7M308.5 377.4h.7M306.8 374.8h.7M302.8 372.8h.7M311.9 377.4h.7M311.7 372.3h.7M309.2 378.2h.7M310.6 377.0h.7M311.6 381.4h.7M312.9 369.6h.7M304.2 384.7h.7M317.2 378.4h.7M307.3 383.2h.7M309.1 379.1h.7M313.0 377.7h.7M302.6 377.2h.7M310.5 374.9h.7M309.7 376.2h.7M310.3 376.2h.7M311.5 376.4h.7M304.7 381.3h.7M309.7 378.8h.7M303.2 378.0h.7M311.7 378.8h.7M304.3 384.1h.7M309.9 378.1h.7M306.9 378.4h.7M310.1 369.4h.7M307.2 374.0h.7M309.9 378.6h.7M308.5 380.0h.7M314.1 384.2h.7M304.1 386.1h.7M308.8 372.0h.7M312.9 374.5h.7M306.2 382.4h.7M307.7 379.3h.7M312.6 378.9h.7M299.4 379.1h.7M303.8 374.8h.7M304.0 380.2h.7M308.8 377.5h.7M312.0 378.2h.7M307.5 382.5h.7M310.3 379.0h.7M312.2 380.6h.7M309.1 378.5h.7M306.9 375.3h.7M316.4 378.0h.7M300.4 380.8h.7M305.9 375.3h.7M307.2 379.8h.7M312.0 376.8h.7M307.7 380.6h.7M300.4 374.3h.7M303.4 383.5h.7M307.1 374.5h.7M305.3 374.2h.7M309.3 377.8h.7M310.0 380.3h.7M310.9 379.2h.7M306.2 380.0h.7M308.0 378.6h.7M313.0 374.4h.7M310.3 379.6h.7M308.5 376.4h.7M308.3 377.5h.7M304.7 375.4h.7M302.6 378.1h.7M317.6 372.4h.7M312.1 379.1h.7M312.6 381.7h.7M309.0 380.5h.7M309.0 378.6h.7M308.2 381.0h.7M302.2 378.9h.7M307.9 375.4h.7M308.2 385.0h.7M307.6 384.0h.7M312.8 376.6h.7M307.3 378.9h.7M307.8 387.7h.7M309.5 378.7h.7M306.1 377.1h.7M306.4 377.4h.7M308.9 381.2h.7M307.2 373.2h.7M313.7 378.4h.7M308.7 374.3h.7M308.9 378.7h.7M309.9 377.9h.7M309.6 378.2h.7M319.0 368.6h.7M308.9 369.6h.7M308.9 377.1h.7M304.9 383.0h.7M306.2 373.1h.7M307.8 376.9h.7M301.9 385.4h.7M307.0 376.9h.7M301.0 384.7h.7M308.3 380.2h.7M310.3 373.1h.7M305.8 382.1h.7M307.9 384.3h.7M307.0 383.3h.7M312.8 375.0h.7M307.3 380.4h.7M307.3 378.8h.7M308.9 374.2h.7M305.7 380.1h.7M307.3 374.9h.7M306.2 379.9h.7M309.6 378.9h.7M309.0 384.4h.7M307.2 376.7h.7M311.0 378.5h.7M307.4 376.2h.7M306.7 379.3h.7M309.5 373.5h.7M298.9 384.7h.7M305.7 378.9h.7M305.0 370.9h.7M303.0 373.8h.7M305.7 378.1h.7M307.6 377.6h.7M312.4 377.2h.7M311.2 378.5h.7M303.6 374.4h.7M311.2 376.1h.7M311.6 375.0h.7M302.2 376.5h.7M307.5 374.0h.7M311.5 378.2h.7M308.3 374.7h.7M315.0 378.3h.7M304.8 383.9h.7M306.5 381.8h.7M305.0 376.9h.7M312.4 375.3h.7M305.8 382.9h.7M308.5 372.4h.7M312.5 378.0h.7M311.4 375.2h.7M309.4 380.0h.7M302.3 378.4h.7M308.7 374.7h.7M311.2 378.9h.7M305.1 376.9h.7M306.6 380.4h.7M306.5 379.6h.7M307.1 377.2h.7M313.0 384.5h.7M311.5 378.3h.7M306.8 378.9h.7M303.8 385.5h.7M308.8 375.1h.7M306.3 380.9h.7M309.9 375.4h.7M308.8 368.9h.7M307.3 383.9h.7M310.0 373.9h.7M310.9 376.6h.7M305.3 379.8h.7M306.4 387.9h.7M311.4 379.1h.7M311.1 377.6h.7M305.1 372.6h.7M308.6 381.0h.7M307.9 377.4h.7M302.9 374.8h.7M314.5 372.6h.7M302.2 380.7h.7M313.5 375.9h.7M308.2 384.8h.7M304.8 378.9h.7M311.7 383.7h.7M307.9 377.7h.7M308.7 379.5h.7M303.2 378.0h.7M307.2 380.8h.7M304.8 382.6h.7M309.7 378.7h.7M304.5 372.5h.7M307.2 378.1h.7M305.7 378.9h.7M305.8 378.3h.7M308.0 388.1h.7M306.0 382.1h.7M312.1 377.6h.7M307.0 381.3h.7M311.9 383.6h.7M312.7 375.8h.7M307.2 377.5h.7M311.4 379.3h.7M313.4 379.6h.7M306.8 371.9h.7M305.5 382.1h.7M311.7 379.2h.7M310.4 376.6h.7M304.7 377.0h.7M308.7 381.5h.7M313.6 381.6h.7M312.9 372.4h.7M309.0 377.9h.7M310.7 379.8h.7M311.5 382.3h.7M305.9 377.0h.7M309.0 378.3h.7M308.9 380.6h.7M311.1 378.9h.7M303.8 370.4h.7M306.1 378.2h.7M304.1 378.9h.7M310.5 383.1h.7M312.1 373.8h.7M311.7 380.8h.7M313.7 376.1h.7M306.9 381.2h.7M309.1 375.3h.7M316.7 374.9h.7M306.7 377.8h.7M305.2 376.3h.7M309.5 378.3h.7M304.7 380.1h.7M312.4 382.3h.7M306.7 376.6h.7M309.2 373.5h.7M305.2 383.3h.7M309.2 379.2h.7M306.7 374.9h.7M306.0 382.0h.7M307.3 377.2h.7M307.2 377.2h.7M310.8 376.7h.7M304.9 375.9h.7M310.0 379.2h.7M316.7 372.2h.7M312.4 371.6h.7M311.1 376.3h.7M309.0 380.6h.7M307.4 380.4h.7M304.2 383.3h.7M307.1 378.7h.7M309.9 375.7h.7M309.4 377.3h.7M311.2 378.1h.7M303.5 373.0h.7M302.6 378.1h.7M311.3 378.7h.7M306.1 379.9h.7M309.4 378.6h.7M309.3 380.5h.7M308.0 379.2h.7M303.0 375.9h.7M307.2 376.1h.7M301.9 380.3h.7M306.9 383.5h.7M306.2 381.1h.7M303.0 383.6h.7M308.8 376.8h.7M306.2 372.8h.7M307.0 377.5h.7M311.0 375.8h.7M303.6 380.3h.7M308.5 379.8h.7M313.0 376.1h.7M309.0 378.9h.7M308.3 377.3h.7M312.1 377.1h.7M307.6 373.4h.7M311.7 376.4h.7M311.4 375.1h.7M306.3 382.5h.7M308.1 381.6h.7M306.2 372.0h.7M311.2 381.3h.7M306.5 374.5h.7M307.9 372.7h.7M307.2 378.9h.7M308.9 375.8h.7M313.6 382.6h.7M311.0 375.3h.7M305.3 379.5h.7M309.2 374.0h.7M314.7 373.7h.7M308.8 384.2h.7M304.4 378.1h.7M309.1 379.3h.7M310.2 381.7h.7M301.4 378.5h.7M307.6 376.5h.7M301.3 386.0h.7M309.9 380.1h.7M302.5 384.5h.7M306.6 385.7h.7M307.9 377.7h.7M312.6 381.5h.7M306.1 378.1h.7M303.9 381.1h.7M310.5 386.2h.7M306.5 378.9h.7M308.5 379.9h.7M305.7 381.9h.7M302.7 380.6h.7M307.5 380.1h.7M296.6 379.6h.7M311.1 381.7h.7M299.5 381.1h.7M313.7 386.6h.7M308.1 379.0h.7M306.3 376.1h.7M314.2 371.7h.7M310.4 370.5h.7M305.5 380.2h.7M303.1 384.0h.7M311.4 380.0h.7M304.6 383.0h.7" stroke="#2a2a2a" stroke-width=".75" stroke-opacity="0.55" fill="none"/>
<path d="M285.6 368.6h.7M298.1 372.5h.7M306.7 376.4h.7M289.2 381.6h.7M295.0 370.6h.7M300.8 368.8h.7M309.1 377.2h.7M290.1 374.6h.7M300.3 363.3h.7M292.3 365.4h.7M294.2 374.6h.7M304.3 370.5h.7M292.8 384.2h.7M286.9 384.8h.7M290.2 367.9h.7M299.5 377.2h.7M288.7 386.6h.7M305.6 366.9h.7M288.2 375.5h.7M291.3 370.4h.7M297.9 373.6h.7M294.4 374.4h.7M294.4 368.6h.7M285.6 373.8h.7M289.9 382.5h.7M296.0 368.5h.7M284.0 386.3h.7M296.3 379.8h.7M283.4 376.7h.7M299.6 383.2h.7M289.5 376.1h.7M291.6 377.3h.7M290.8 378.3h.7M292.7 383.6h.7M290.5 370.4h.7M283.7 379.3h.7M278.0 371.5h.7M295.9 385.5h.7M277.0 374.5h.7M292.7 374.5h.7M306.4 375.7h.7M289.8 384.7h.7M301.4 377.7h.7M285.5 380.9h.7M310.0 370.8h.7M300.3 363.9h.7M288.8 372.8h.7M298.5 385.5h.7M289.2 381.8h.7M298.4 369.4h.7M298.1 373.5h.7M297.0 369.5h.7M298.8 379.1h.7M294.7 371.8h.7M280.0 371.0h.7M302.1 374.1h.7M289.6 382.8h.7M297.2 367.7h.7M291.2 379.7h.7M294.9 371.0h.7M287.3 355.0h.7M286.8 363.2h.7M300.7 379.4h.7M290.5 374.0h.7M286.7 379.0h.7M298.7 378.3h.7M308.4 378.8h.7M298.1 380.9h.7M292.6 373.8h.7M309.8 365.2h.7M284.5 373.3h.7M299.4 366.0h.7M296.2 389.3h.7M296.0 382.4h.7M279.9 375.2h.7M285.5 384.1h.7M296.2 384.1h.7M296.9 379.2h.7M280.2 376.9h.7M310.2 361.1h.7M290.1 376.2h.7M284.3 372.3h.7M292.7 373.0h.7M294.2 371.3h.7M304.1 355.8h.7M284.6 375.2h.7M290.7 372.6h.7M284.5 366.3h.7M304.4 367.9h.7M288.9 359.2h.7M287.6 380.5h.7M295.9 374.1h.7M285.5 386.0h.7M306.4 367.3h.7M298.4 384.6h.7M294.8 382.6h.7M275.7 367.0h.7M294.3 380.8h.7M290.6 380.8h.7M297.1 379.8h.7M292.4 380.3h.7M294.9 371.7h.7M290.7 376.1h.7M307.6 375.7h.7M296.9 358.9h.7M303.6 379.6h.7M288.8 387.4h.7M285.2 374.2h.7M288.5 372.7h.7M278.0 376.1h.7M284.8 368.3h.7M297.0 373.2h.7M296.1 357.5h.7M286.0 375.3h.7M290.5 373.2h.7M293.6 363.9h.7M302.8 373.7h.7M280.0 378.8h.7M290.0 377.1h.7M299.4 374.1h.7M297.1 376.3h.7M280.3 369.4h.7M297.6 381.5h.7M281.5 378.8h.7M300.5 371.4h.7M285.0 373.1h.7M298.2 379.7h.7M305.8 369.5h.7M295.2 380.1h.7M295.9 380.7h.7M288.8 377.0h.7M272.0 388.6h.7M284.1 383.3h.7M300.8 372.0h.7M288.4 382.2h.7M294.6 376.7h.7M300.8 380.8h.7M295.6 363.0h.7M297.1 378.2h.7M303.8 366.4h.7M282.8 384.7h.7M292.6 378.0h.7M306.3 364.2h.7M284.7 377.4h.7M301.8 368.4h.7M294.1 374.5h.7M289.3 371.9h.7M289.0 361.4h.7M304.8 373.2h.7M296.7 367.0h.7M299.7 378.7h.7M289.6 368.1h.7M286.5 374.4h.7M290.2 380.2h.7M292.8 374.0h.7M283.3 371.9h.7M285.1 379.3h.7M294.7 366.8h.7M305.0 375.6h.7M315.3 365.8h.7M294.5 373.1h.7M288.2 374.6h.7M294.9 371.4h.7M276.0 379.3h.7M297.7 384.3h.7M301.5 371.7h.7M289.7 376.0h.7M297.0 371.9h.7M292.9 364.4h.7M290.2 394.4h.7M303.0 368.2h.7M285.0 380.9h.7M282.0 381.4h.7M296.6 373.8h.7M291.1 383.6h.7M284.2 370.1h.7M306.3 365.4h.7M287.5 381.5h.7M275.9 373.6h.7M293.8 378.5h.7M288.5 386.0h.7M287.4 371.1h.7M281.0 378.3h.7M294.3 373.2h.7M290.9 375.4h.7M294.1 367.0h.7M303.7 367.2h.7M294.9 367.0h.7M293.8 369.7h.7M298.2 381.4h.7M283.0 377.8h.7M296.6 366.2h.7M287.5 367.4h.7M280.3 383.8h.7M288.2 368.1h.7M301.5 366.0h.7M287.2 377.9h.7M305.2 358.8h.7M283.6 381.9h.7M281.8 372.4h.7M280.8 376.0h.7M294.8 369.5h.7M289.7 364.5h.7M277.6 369.6h.7M298.2 371.2h.7M278.7 385.8h.7M296.4 370.5h.7M294.0 378.6h.7M295.6 374.2h.7M297.9 363.4h.7M290.2 375.9h.7M273.8 386.0h.7M299.1 378.1h.7M293.6 369.9h.7M287.5 383.1h.7M282.0 381.2h.7M293.7 374.7h.7M290.7 369.2h.7M301.9 379.5h.7M290.3 364.8h.7M291.7 374.8h.7M289.9 386.8h.7M297.0 383.4h.7M288.6 383.8h.7M292.2 369.2h.7M308.3 382.6h.7M279.2 382.1h.7M300.8 380.4h.7M295.9 366.0h.7M287.5 360.2h.7M303.8 372.4h.7M294.7 361.2h.7M284.8 370.3h.7M293.8 371.1h.7M291.1 378.1h.7M292.9 377.7h.7M297.6 382.9h.7M295.1 378.6h.7M286.3 374.4h.7M295.0 377.1h.7M300.8 367.8h.7M295.2 378.8h.7M288.9 391.6h.7M294.1 368.9h.7M289.2 387.6h.7M286.2 381.9h.7M287.6 381.5h.7M302.7 367.7h.7M300.9 371.2h.7M305.6 371.1h.7M297.1 367.6h.7M294.0 387.9h.7M300.1 379.5h.7M268.6 382.4h.7M291.3 364.5h.7M299.9 375.7h.7M284.7 364.0h.7M297.1 357.3h.7M297.6 366.6h.7M298.4 372.8h.7M287.1 376.4h.7M300.4 367.8h.7M285.7 392.4h.7M293.1 390.0h.7M280.1 371.6h.7M302.1 370.4h.7M300.5 380.3h.7M294.8 370.9h.7M295.7 376.8h.7M280.3 382.9h.7M297.0 371.9h.7M283.3 378.1h.7M293.8 374.0h.7M299.7 374.3h.7M297.3 379.4h.7M300.4 389.3h.7M299.4 386.4h.7M291.7 378.4h.7M286.2 389.7h.7M303.3 371.3h.7M290.2 366.7h.7M285.2 363.6h.7M283.1 365.5h.7M284.8 383.6h.7M283.4 379.6h.7M300.3 383.3h.7M279.7 374.8h.7M291.3 368.8h.7M317.6 370.8h.7M289.1 374.1h.7M286.9 373.7h.7M293.6 379.5h.7M289.3 373.1h.7M289.6 372.1h.7M306.3 376.5h.7M302.0 374.2h.7M299.4 378.4h.7M301.0 367.8h.7M299.7 366.1h.7M293.3 378.8h.7" stroke="#2a2a2a" stroke-width=".75" stroke-opacity="0.55" fill="none"/>
<path d="M297.5 369 L302.2 358.5 L308.2 350.8 L318.7 349.9 L331.2 353.2 L336 377.7 L332.2 396.5 L299 401.2 Z" stroke="#222" stroke-width="0.8" fill="none"/>
<rect x="262" y="347.4" width="82.5" height="84.9" fill="none" stroke="#111" stroke-width="1.25"/>
<path d="M258.3 394.4H262M258.3 374.8H262M258.3 355.6H262M296.7 432.3V435.8M316.5 432.3V435.8M335.3 432.3V435.8" stroke="#111" stroke-width="1.2" fill="none"/>
<path d="M259.9 388.56H262M259.9 385.14H262M259.9 382.72H262M259.9 380.84H262M259.9 379.3H262M259.9 378.01H262M259.9 376.88H262M259.9 375.89H262M259.9 368.96H262M259.9 365.54H262M259.9 363.12H262M259.9 361.24H262M259.9 359.7H262M259.9 358.41H262M259.9 357.28H262M259.9 356.29H262M259.9 408.24H262M259.9 404.75H262M259.9 402.28H262M259.9 400.36H262M259.9 398.79H262M259.9 397.47H262M259.9 396.32H262M259.9 395.31H262M302.51 432.3V434.3M305.91 432.3V434.3M308.32 432.3V434.3M310.19 432.3V434.3M311.72 432.3V434.3M313.01 432.3V434.3M314.13 432.3V434.3M315.12 432.3V434.3M322.31 432.3V434.3M325.71 432.3V434.3M328.12 432.3V434.3M329.99 432.3V434.3M331.52 432.3V434.3M332.81 432.3V434.3M333.93 432.3V434.3M334.92 432.3V434.3M284.68 432.3V434.3M287.71 432.3V434.3M289.86 432.3V434.3M291.52 432.3V434.3M292.88 432.3V434.3M294.04 432.3V434.3M295.03 432.3V434.3M295.91 432.3V434.3" stroke="#111" stroke-width="0.8" fill="none"/>
<path d="M259.4 414.7H262M259.4 415.9H262M259.4 417.1H262M259.4 418.3H262M259.4 419.5H262M259.4 420.7H262M259.4 421.9H262M259.4 423.1H262M259.4 424.3H262M259.4 425.5H262M259.4 426.7H262M259.4 427.9H262M259.4 429.1H262M259.4 430.3H262M266.4 432.3V434.9M267.22 432.3V434.9M268.04 432.3V434.9M268.86 432.3V434.9M269.67 432.3V434.9M270.49 432.3V434.9M271.31 432.3V434.9M272.13 432.3V434.9M272.95 432.3V434.9M273.77 432.3V434.9M274.59 432.3V434.9M275.41 432.3V434.9M276.22 432.3V434.9M277.04 432.3V434.9M277.86 432.3V434.9M278.68 432.3V434.9M279.5 432.3V434.9" stroke="#111" stroke-width="0.7" fill="none"/>
<text x="256" y="358.09" font-size="7.7" text-anchor="end" fill="#000">10<tspan font-size="5.24" dy="-3.08">5</tspan></text>
<text x="256" y="377.3" font-size="7.7" text-anchor="end" fill="#000">10<tspan font-size="5.24" dy="-3.08">4</tspan></text>
<text x="256" y="396.89" font-size="7.7" text-anchor="end" fill="#000">10<tspan font-size="5.24" dy="-3.08">3</tspan></text>
<text x="256" y="416.5" font-size="7.7" text-anchor="end" fill="#000">10<tspan font-size="5.24" dy="-3.08">2</tspan></text>
<text x="255.7" y="424.3" font-size="7.7" text-anchor="end" fill="#000">0</text>
<text x="256" y="433.19" font-size="7.7" text-anchor="end" fill="#000">-10<tspan font-size="5.24" dy="-3.08">2</tspan></text>
<text x="273.2" y="446.3" font-size="8.0" text-anchor="middle" fill="#000">0</text>
<text x="298.1" y="446.3" font-size="8.0" text-anchor="middle" fill="#000">10<tspan font-size="5.44" dy="-3.2">3</tspan></text>
<text x="317.9" y="446.3" font-size="8.0" text-anchor="middle" fill="#000">10<tspan font-size="5.44" dy="-3.2">4</tspan></text>
<text x="336.7" y="446.3" font-size="8.0" text-anchor="middle" fill="#000">10<tspan font-size="5.44" dy="-3.2">5</tspan></text>
<text x="49.03" y="428" font-size="8.2" fill="#000" textLength="35.77" lengthAdjust="spacingAndGlyphs">Unlabelled</text>
<text x="112.71" y="428" font-size="8.2" fill="#000" textLength="13.98" lengthAdjust="spacingAndGlyphs">0.00</text>
<text x="156.44" y="428" font-size="8.2" fill="#000" textLength="35.96" lengthAdjust="spacingAndGlyphs">Uninfected</text>
<text x="220.55" y="428" font-size="8.2" fill="#000" textLength="13.64" lengthAdjust="spacingAndGlyphs">21.0</text>
<text x="265.76" y="428" font-size="8.2" fill="#000" textLength="18.59" lengthAdjust="spacingAndGlyphs">DENV</text>
<text x="328.57" y="428" font-size="8.2" fill="#000" textLength="13.86" lengthAdjust="spacingAndGlyphs">12.9</text>
<line x1="21.5" y1="433" x2="21.5" y2="354" stroke="#111" stroke-width="1.2"/>
<path d="M21.5 347.4 L17.2 357.8 L21.5 355.3 L25.9 357.8 Z" fill="#111"/>
<text x="15.98" y="404.2" font-size="9.6" fill="#000" transform="rotate(-90 16.4 404.2)" textLength="21.35" lengthAdjust="spacingAndGlyphs">CD41</text>
<line x1="47.7" y1="454" x2="335" y2="454" stroke="#222" stroke-width="1.2"/>
<path d="M342 454 L331.2 449.6 L333.5 454 L331.2 458.4 Z" fill="#111"/>
<text x="170.45" y="465.8" font-size="9.2" fill="#000" textLength="23.03" lengthAdjust="spacingAndGlyphs">GP1b</text>
<text x="364.29" y="340.8" font-size="10.9" fill="#000" textLength="9.5" lengthAdjust="spacingAndGlyphs">G</text>
<path d="M409.3 451.4 V386.9 H437.6 V451.4" stroke="#bf4f66" stroke-width="1.15" fill="#fff"/>
<path d="M451.6 451.4 V416.3 H480.1 V451.4" stroke="#7189b0" stroke-width="1.15" fill="#fff"/>
<path d="M415.9 381.5 H430.7 M423.3 381.5 V392.2 M415.9 392.2 H430.7" stroke="#2a2a26" stroke-width="1.1" fill="none"/>
<path d="M458.6 413.7 H472.2 M465.4 413.7 V419.3 M458.6 419.3 H472.2" stroke="#2a2a26" stroke-width="1.1" fill="none"/>
<circle cx="420.6" cy="377.6" r="1.9" fill="#a51d3a"/>
<circle cx="426.4" cy="374.4" r="1.9" fill="#a51d3a"/>
<circle cx="423.2" cy="384.1" r="1.9" fill="#a51d3a"/>
<circle cx="426.4" cy="396.4" r="1.9" fill="#a51d3a"/>
<circle cx="420.6" cy="402.2" r="1.9" fill="#a51d3a"/>
<circle cx="459.5" cy="411.6" r="1.9" fill="#2f4c7d"/>
<circle cx="471.3" cy="410.7" r="1.9" fill="#2f4c7d"/>
<circle cx="465.2" cy="415.8" r="1.9" fill="#2f4c7d"/>
<circle cx="468.3" cy="420.2" r="1.9" fill="#2f4c7d"/>
<circle cx="462.5" cy="424.8" r="1.9" fill="#2f4c7d"/>
<text x="465.4" y="411.39" font-size="8.4" text-anchor="middle" fill="#000">**</text>
<line x1="402.5" y1="347.8" x2="402.5" y2="452.02" stroke="#111" stroke-width="1.25"/>
<line x1="401.88" y1="451.4" x2="485.9" y2="451.4" stroke="#111" stroke-width="1.25"/>
<line x1="399.1" y1="451.4" x2="402.5" y2="451.4" stroke="#111" stroke-width="1.0"/>
<text x="396.3" y="454.3" font-size="8.2" text-anchor="end" fill="#000">0</text>
<line x1="399.1" y1="426.4" x2="402.5" y2="426.4" stroke="#111" stroke-width="1.0"/>
<text x="396.3" y="429.3" font-size="8.2" text-anchor="end" fill="#000">10</text>
<line x1="399.1" y1="401.4" x2="402.5" y2="401.4" stroke="#111" stroke-width="1.0"/>
<text x="396.3" y="404.3" font-size="8.2" text-anchor="end" fill="#000">20</text>
<line x1="399.1" y1="376.4" x2="402.5" y2="376.4" stroke="#111" stroke-width="1.0"/>
<text x="396.3" y="379.3" font-size="8.2" text-anchor="end" fill="#000">30</text>
<line x1="399.1" y1="351.4" x2="402.5" y2="351.4" stroke="#111" stroke-width="1.0"/>
<text x="396.3" y="354.3" font-size="8.2" text-anchor="end" fill="#000">40</text>
<line x1="422.9" y1="451.4" x2="422.9" y2="454.2" stroke="#111" stroke-width="1.0"/>
<line x1="465.5" y1="451.4" x2="465.5" y2="454.2" stroke="#111" stroke-width="1.0"/>
<text x="403.18" y="465" font-size="8.3" fill="#000" textLength="39.36" lengthAdjust="spacingAndGlyphs">Uninfected</text>
<text x="453" y="465" font-size="8.3" fill="#000" textLength="24.87" lengthAdjust="spacingAndGlyphs">DENV2</text>
<text x="367.38" y="439.4" font-size="9.4" fill="#000" transform="rotate(-90 367.8 439.4)" textLength="79.01" lengthAdjust="spacingAndGlyphs">Splenic labelled Plt</text>
<text x="378.63" y="422.6" font-size="9.4" fill="#000" transform="rotate(-90 379.2 422.6)" textLength="48.76" lengthAdjust="spacingAndGlyphs">(% total Plt)</text>
<text x="8.36" y="487.5" font-size="10.9" fill="#000" textLength="9.41" lengthAdjust="spacingAndGlyphs">H</text>
<defs><radialGradient id="hg0"><stop offset="0" stop-color="#222" stop-opacity=".8"/><stop offset="1" stop-color="#222" stop-opacity="0"/></radialGradient></defs>
<ellipse cx="66.4" cy="542" rx="17" ry="10" fill="url(#hg0)"/>
<path d="M72.0 541.2h.7M52.8 551.1h.7M70.0 543.9h.7M68.6 553.1h.7M77.8 548.9h.7M63.1 539.4h.7M54.2 542.6h.7M68.3 542.4h.7M77.3 537.4h.7M69.7 547.2h.7M47.5 555.3h.7M69.5 550.3h.7M72.1 535.5h.7M72.7 553.3h.7M69.2 541.3h.7M64.2 528.6h.7M61.7 539.0h.7M71.8 530.4h.7M72.1 550.2h.7M67.0 543.8h.7M61.1 548.3h.7M53.2 550.5h.7M81.5 524.1h.7M102.5 532.0h.7M68.8 535.9h.7M73.6 549.2h.7M49.9 542.2h.7M72.7 543.3h.7M80.1 535.0h.7M64.7 539.4h.7M51.4 554.7h.7M70.5 548.4h.7M70.3 534.2h.7M70.0 532.8h.7M70.3 543.4h.7M72.2 540.5h.7M70.0 547.2h.7M61.3 529.8h.7M53.1 545.7h.7M68.6 536.2h.7M55.4 550.9h.7M64.3 540.9h.7M71.2 543.5h.7M63.6 532.1h.7M85.8 536.4h.7M65.8 553.8h.7M77.0 539.4h.7M77.5 540.4h.7M64.9 546.5h.7M72.1 541.9h.7M68.8 539.9h.7M60.5 540.0h.7M73.8 552.5h.7M64.2 546.6h.7M49.4 548.2h.7M48.3 543.8h.7M48.7 547.9h.7M60.4 543.9h.7M80.8 547.7h.7M65.5 525.7h.7M60.8 534.6h.7M77.7 551.5h.7M75.3 545.2h.7M73.5 545.9h.7M62.1 549.6h.7M62.9 534.3h.7M67.3 553.7h.7M64.4 529.6h.7M81.9 541.0h.7M73.4 537.4h.7M72.6 552.9h.7M58.8 548.7h.7M71.1 535.0h.7M68.9 546.0h.7M56.3 552.7h.7M53.0 553.2h.7M74.4 542.6h.7M57.1 538.2h.7M65.2 546.5h.7M79.3 541.2h.7M62.6 550.2h.7M66.6 542.0h.7M52.3 552.6h.7M58.5 554.4h.7M50.0 551.9h.7M68.1 551.0h.7M74.6 533.4h.7M64.2 545.2h.7M59.8 541.3h.7M56.3 550.0h.7M82.4 535.3h.7M53.2 551.2h.7M58.7 541.8h.7M48.3 552.2h.7M67.3 552.6h.7M93.7 542.0h.7M62.3 537.2h.7M86.8 536.9h.7M74.4 542.5h.7M68.7 543.2h.7M65.1 544.2h.7M54.4 548.9h.7M60.5 544.5h.7M86.9 539.9h.7M54.2 547.2h.7M49.1 546.7h.7M83.9 531.2h.7M64.9 536.1h.7M68.8 544.1h.7M68.9 539.7h.7M57.2 548.3h.7M82.8 535.4h.7M68.1 540.0h.7M64.9 534.8h.7M49.1 552.6h.7M64.1 527.4h.7M64.6 527.3h.7M53.2 548.3h.7M69.1 534.1h.7M76.3 547.1h.7M82.4 528.9h.7M74.4 545.3h.7M67.8 548.0h.7M78.0 538.0h.7M62.9 547.7h.7M50.5 548.7h.7M62.3 546.4h.7M67.7 547.0h.7M72.2 538.6h.7M66.5 538.7h.7M68.4 536.4h.7M68.7 534.4h.7M70.9 542.6h.7M70.8 533.0h.7M55.7 544.6h.7M61.6 535.5h.7M80.8 542.8h.7M57.7 554.4h.7M67.3 538.4h.7M62.2 533.7h.7M80.5 527.9h.7M51.8 541.8h.7M67.4 536.5h.7M49.6 542.3h.7M85.7 523.7h.7M66.1 544.8h.7M61.5 540.4h.7M79.2 538.1h.7M48.0 543.2h.7M59.5 544.6h.7M60.4 544.0h.7M74.1 536.1h.7M47.6 554.9h.7M71.0 535.6h.7M49.4 545.2h.7M68.8 545.0h.7M70.7 538.0h.7M61.5 532.1h.7M57.5 540.2h.7M79.1 530.2h.7M88.5 544.2h.7M60.2 538.9h.7M69.0 544.2h.7M74.8 528.1h.7M62.2 546.3h.7M77.1 543.2h.7M65.3 544.4h.7M60.1 555.4h.7M77.1 542.8h.7M59.6 542.9h.7M70.8 541.8h.7M85.7 553.0h.7M78.0 531.6h.7M74.6 536.9h.7M66.5 554.3h.7M76.0 537.2h.7M50.8 550.6h.7M71.5 538.3h.7M66.2 543.2h.7M60.5 541.5h.7M60.4 533.9h.7M86.5 547.6h.7M59.2 536.6h.7M62.6 546.1h.7M55.7 545.3h.7M68.2 551.5h.7M51.4 530.3h.7M79.0 538.1h.7M64.0 535.9h.7M52.8 548.2h.7M69.7 541.1h.7M56.3 545.3h.7M75.9 524.4h.7M61.8 543.4h.7M53.7 539.3h.7M58.0 532.8h.7M52.3 546.6h.7M66.7 540.3h.7M67.5 552.3h.7M93.7 534.6h.7M64.1 549.8h.7M74.9 548.3h.7M52.8 551.1h.7M72.2 540.0h.7M57.8 535.8h.7M65.9 543.9h.7M82.8 535.0h.7M62.6 540.4h.7M75.8 536.2h.7M52.1 546.6h.7M49.5 547.3h.7M70.2 525.5h.7M71.4 546.5h.7M81.3 536.3h.7M49.9 555.3h.7M72.9 544.4h.7M81.9 543.4h.7M56.6 544.3h.7M58.2 545.5h.7M61.5 531.7h.7M49.4 554.6h.7M80.7 541.8h.7M69.7 544.2h.7M61.8 541.8h.7M71.9 542.6h.7M50.9 554.0h.7M65.0 545.7h.7M68.7 529.0h.7M70.0 541.3h.7M72.6 547.1h.7M80.7 538.8h.7M72.5 537.6h.7M49.2 547.2h.7M68.4 549.9h.7M76.0 528.9h.7M59.3 531.1h.7M82.1 538.8h.7M66.4 546.9h.7M90.6 542.8h.7M52.3 540.6h.7M78.7 532.1h.7M54.5 549.9h.7M74.0 543.2h.7M55.1 554.3h.7M58.1 535.6h.7M57.9 547.5h.7M63.6 544.0h.7M50.3 553.8h.7M66.5 550.1h.7M66.1 537.5h.7M56.9 550.9h.7M76.0 554.1h.7M90.0 539.3h.7M60.8 537.0h.7M60.9 554.0h.7M68.9 547.4h.7M79.9 544.8h.7M57.5 546.4h.7M63.9 537.4h.7M79.3 549.1h.7M82.2 530.9h.7M49.3 541.3h.7M68.5 540.1h.7M63.1 548.7h.7M65.3 536.0h.7M67.2 536.6h.7M78.0 537.4h.7M52.8 539.4h.7M72.8 532.8h.7M69.4 548.6h.7M62.3 541.8h.7M71.1 535.9h.7M76.1 537.0h.7M83.9 535.4h.7M52.4 551.3h.7M71.2 541.1h.7M57.9 540.7h.7M51.4 550.7h.7M50.8 546.5h.7M65.3 529.2h.7M83.4 546.8h.7M66.0 537.1h.7M72.9 543.0h.7M79.1 544.4h.7M79.7 539.3h.7M65.3 546.4h.7M80.7 537.9h.7M68.3 554.8h.7M80.1 538.6h.7M66.2 546.4h.7M87.4 539.4h.7M57.7 553.4h.7M72.7 535.0h.7M48.1 544.7h.7M59.6 538.2h.7M69.4 546.8h.7M82.6 540.2h.7M53.8 535.2h.7M49.1 549.4h.7M50.1 541.1h.7M60.1 540.5h.7M85.2 544.4h.7M61.5 535.2h.7M72.6 538.6h.7M64.9 534.2h.7M71.2 543.3h.7M73.8 541.3h.7M68.6 533.9h.7M79.2 541.9h.7M86.3 536.2h.7M62.2 550.3h.7M60.8 546.7h.7M65.0 541.0h.7M67.1 531.8h.7M80.3 524.6h.7M62.8 553.6h.7M60.2 543.3h.7M53.2 542.8h.7M75.0 540.3h.7M62.5 531.4h.7M58.8 540.1h.7M73.7 537.7h.7M81.5 528.0h.7M62.7 542.3h.7M65.8 544.6h.7M70.6 547.1h.7M47.8 539.9h.7M84.6 541.9h.7M80.4 546.3h.7M77.2 540.4h.7M87.4 531.9h.7M77.2 542.2h.7M72.6 538.6h.7M57.8 545.0h.7M62.6 550.4h.7M70.7 544.2h.7M85.7 536.6h.7M61.3 540.8h.7M77.2 547.1h.7M65.2 541.6h.7M77.3 538.5h.7M64.5 552.1h.7M75.6 537.0h.7M62.8 542.5h.7M76.3 537.8h.7M90.3 520.4h.7M59.0 555.1h.7M90.5 534.2h.7M78.0 538.5h.7M59.4 533.4h.7M63.1 541.5h.7M56.0 533.2h.7M50.9 533.3h.7M82.4 536.8h.7M57.9 550.0h.7M69.8 545.8h.7M78.7 538.7h.7M47.6 549.3h.7M54.3 548.7h.7M68.0 553.4h.7M50.1 536.0h.7M71.3 544.4h.7M61.7 550.7h.7M66.0 550.3h.7M64.1 544.5h.7M73.0 533.1h.7M77.7 535.0h.7M76.4 532.9h.7M78.3 544.5h.7M57.9 555.2h.7M85.7 531.1h.7M63.0 544.4h.7M74.1 539.8h.7M73.5 532.5h.7M64.3 531.7h.7M67.3 548.6h.7M53.0 551.6h.7M51.5 525.8h.7M56.0 542.5h.7M75.5 545.4h.7M51.9 538.8h.7M73.9 541.4h.7M53.2 535.4h.7M72.3 539.6h.7M64.7 534.9h.7M51.7 539.1h.7M53.3 549.6h.7M68.7 541.3h.7M72.6 537.2h.7M71.6 526.1h.7M54.2 549.0h.7M73.5 550.4h.7M97.6 535.0h.7M73.7 534.7h.7M87.4 532.9h.7M56.6 547.0h.7M61.6 548.3h.7M55.6 541.0h.7M66.9 541.8h.7M56.7 539.4h.7M104.3 534.6h.7M62.2 532.0h.7M53.4 551.7h.7M67.3 554.4h.7M59.0 541.1h.7M69.2 548.1h.7M56.8 552.2h.7M63.5 543.0h.7M60.6 549.8h.7M92.6 536.1h.7M68.2 545.4h.7M66.0 547.6h.7M60.6 550.0h.7M79.4 537.0h.7M76.2 539.5h.7M51.1 541.8h.7M62.3 529.9h.7M72.1 544.1h.7M82.0 546.4h.7M53.0 544.8h.7M86.5 541.0h.7M68.3 541.4h.7M79.6 538.9h.7M68.5 542.7h.7M60.1 531.4h.7M71.0 538.2h.7M70.4 547.0h.7M54.5 554.5h.7M47.4 551.0h.7M57.4 546.2h.7M57.7 551.1h.7M88.5 529.4h.7M77.3 540.9h.7M62.0 535.2h.7M63.9 526.4h.7M83.4 541.8h.7M67.4 551.8h.7M68.7 545.1h.7M76.1 532.0h.7M58.6 537.9h.7M66.3 544.5h.7M85.8 534.5h.7M66.5 539.2h.7M79.3 540.2h.7M79.2 545.2h.7M59.3 554.5h.7M73.3 547.6h.7M59.3 546.0h.7M62.8 546.6h.7M62.4 549.8h.7M53.3 550.8h.7M76.3 534.5h.7M70.7 549.0h.7M79.3 550.3h.7M75.7 540.8h.7M80.0 535.4h.7M64.7 543.8h.7M75.8 552.0h.7M82.1 544.0h.7M76.5 550.0h.7M71.0 543.5h.7M75.8 555.8h.7M65.5 541.1h.7M61.3 537.9h.7M67.5 545.4h.7M77.6 545.7h.7M67.3 527.1h.7M58.4 537.9h.7M72.4 538.7h.7M95.3 527.5h.7M48.0 542.6h.7M53.2 537.3h.7M58.9 533.9h.7M60.6 536.0h.7M70.3 547.0h.7M58.3 552.8h.7M78.2 547.6h.7M49.6 550.5h.7M70.3 544.3h.7M79.1 529.4h.7M66.9 549.1h.7M66.8 539.1h.7M59.1 533.7h.7M103.9 527.7h.7M67.3 538.4h.7M69.2 537.8h.7M62.6 555.1h.7M54.3 544.5h.7M83.2 530.1h.7M59.9 555.7h.7M83.8 538.2h.7M69.0 549.8h.7M57.7 541.6h.7M66.2 538.6h.7M80.0 554.2h.7M63.0 545.9h.7M70.5 529.1h.7M54.0 547.2h.7M68.4 541.7h.7M89.6 528.0h.7M62.9 532.4h.7M58.3 546.8h.7M63.7 530.5h.7M71.4 542.8h.7M82.7 543.5h.7M61.9 543.1h.7M68.5 530.5h.7M61.5 539.4h.7M54.4 542.2h.7M68.8 541.0h.7M69.3 541.7h.7M75.4 543.0h.7M54.1 535.5h.7M68.1 539.0h.7M53.2 549.1h.7M61.6 547.6h.7M71.4 546.7h.7M100.5 550.0h.7M61.7 526.4h.7M71.6 542.3h.7M48.4 530.0h.7M58.2 547.0h.7M65.7 542.5h.7M68.3 545.4h.7M85.5 553.0h.7M53.8 533.8h.7M53.7 548.3h.7M57.8 549.3h.7M70.7 531.2h.7M71.5 545.5h.7M58.6 536.7h.7M63.0 542.1h.7M63.6 549.7h.7M91.6 526.5h.7M76.7 543.8h.7M70.9 547.7h.7M51.1 538.3h.7M52.7 539.6h.7M60.3 540.8h.7M71.4 548.5h.7M76.5 543.1h.7M49.8 535.2h.7M81.3 537.8h.7M75.8 547.2h.7M63.0 538.3h.7M70.0 537.4h.7M49.5 531.9h.7M77.8 530.6h.7M63.3 549.5h.7M76.8 535.0h.7M69.4 547.4h.7M92.4 544.7h.7M56.9 549.2h.7M81.4 542.7h.7M70.7 545.0h.7M68.2 533.8h.7M57.9 541.7h.7M75.6 543.1h.7M48.3 555.1h.7M63.7 535.1h.7M49.4 541.8h.7M65.9 530.5h.7M63.9 549.2h.7M63.9 549.0h.7M72.1 534.2h.7M84.4 541.9h.7M56.6 553.0h.7M87.8 530.4h.7M64.4 541.9h.7M69.5 540.2h.7M63.3 542.3h.7M87.0 543.9h.7M59.7 534.7h.7M69.9 546.1h.7M59.8 555.0h.7M68.0 550.7h.7M69.5 539.0h.7M59.2 546.3h.7M57.6 540.5h.7M76.4 538.7h.7M73.9 535.3h.7M50.0 545.8h.7M67.8 549.2h.7M73.6 542.8h.7M48.5 549.7h.7M60.0 523.7h.7M57.5 531.0h.7M49.6 549.5h.7M51.6 547.1h.7M51.7 544.3h.7M84.0 541.6h.7M68.6 544.6h.7M83.8 531.1h.7M70.2 534.4h.7M72.8 546.2h.7M75.2 545.7h.7M66.2 549.3h.7M88.6 528.1h.7M75.1 548.0h.7M87.1 523.4h.7M47.8 542.6h.7M73.7 544.5h.7M63.6 528.5h.7M81.7 549.2h.7M69.2 539.0h.7M59.6 539.2h.7M71.4 535.0h.7M80.9 532.8h.7M65.5 550.1h.7M55.4 541.3h.7M69.6 538.3h.7M86.4 527.9h.7M60.1 552.8h.7M49.3 534.2h.7M77.2 551.9h.7M66.3 530.6h.7M52.1 545.5h.7M72.4 541.2h.7M55.9 530.7h.7M67.2 538.2h.7M60.2 551.3h.7M51.0 548.1h.7M79.8 530.9h.7M73.8 524.4h.7M69.8 548.3h.7M75.1 537.0h.7M63.5 545.0h.7M55.3 532.0h.7M69.8 546.0h.7M78.5 550.6h.7M72.4 554.7h.7M82.2 535.8h.7M88.1 532.6h.7M51.1 544.9h.7M82.1 550.3h.7M71.3 539.7h.7M67.6 544.7h.7M63.7 537.6h.7M100.5 535.6h.7M66.8 550.6h.7M61.3 527.8h.7M71.9 541.2h.7M57.2 551.3h.7M76.1 527.0h.7M80.7 533.1h.7M68.3 555.7h.7M59.1 535.0h.7M65.2 547.6h.7M79.8 536.6h.7M57.8 543.8h.7M66.2 546.0h.7M65.8 532.7h.7M60.8 547.8h.7M56.9 541.2h.7M83.1 523.1h.7M50.0 552.4h.7M60.4 553.7h.7M65.9 550.7h.7M73.7 531.3h.7M68.7 549.9h.7M74.9 526.9h.7M55.4 539.4h.7M64.5 551.0h.7M54.5 553.7h.7M83.2 531.4h.7M82.9 549.8h.7M88.7 540.2h.7M66.2 546.0h.7M72.4 547.0h.7M63.1 540.1h.7M76.3 541.7h.7M58.3 541.0h.7M68.7 545.1h.7M79.7 554.3h.7M86.2 542.8h.7M54.2 550.7h.7M60.3 543.0h.7M56.0 542.6h.7M76.5 536.9h.7M67.4 548.2h.7M68.8 542.9h.7M48.8 537.9h.7M73.3 542.5h.7M70.5 531.4h.7M51.5 541.6h.7M59.5 549.5h.7M74.1 544.5h.7M47.6 537.0h.7M70.7 549.1h.7M49.0 546.9h.7M90.4 542.3h.7M69.8 551.1h.7M79.8 523.4h.7M61.8 534.8h.7M50.8 546.5h.7M84.8 550.0h.7M88.2 546.3h.7M72.3 540.1h.7M69.4 554.3h.7M87.4 540.7h.7M50.5 548.2h.7M66.7 551.7h.7M68.9 550.4h.7M89.3 542.3h.7M70.8 535.9h.7M84.1 539.6h.7M79.7 547.5h.7M67.3 553.6h.7M95.2 530.5h.7M65.1 535.1h.7M60.6 541.7h.7M61.3 550.7h.7M52.8 555.0h.7M61.3 528.5h.7M70.4 527.9h.7M72.8 531.1h.7M69.7 541.5h.7M73.0 548.8h.7M81.2 536.3h.7M56.5 553.9h.7M79.8 539.6h.7M67.8 547.7h.7M57.7 546.6h.7M79.1 551.9h.7M57.9 546.5h.7M49.1 536.6h.7M76.2 538.7h.7M61.3 547.1h.7M73.8 543.9h.7M66.5 533.2h.7M71.6 538.6h.7M78.4 547.1h.7M74.9 553.4h.7M78.4 540.9h.7M65.3 531.8h.7M75.3 543.9h.7M53.5 529.1h.7M63.6 534.3h.7M68.0 537.5h.7M63.6 544.2h.7M58.5 551.4h.7M61.2 533.8h.7M73.5 543.7h.7M78.4 538.4h.7M55.3 539.4h.7M47.8 545.2h.7M70.8 538.7h.7M66.1 545.8h.7M84.1 551.6h.7M68.0 547.6h.7M62.7 541.2h.7M85.8 537.0h.7M69.3 545.1h.7M75.7 545.6h.7M54.0 540.8h.7M76.9 537.3h.7M67.1 535.0h.7M59.8 551.3h.7M58.8 551.4h.7M54.9 543.9h.7M70.6 537.3h.7M65.1 545.8h.7M90.1 538.1h.7M73.6 540.2h.7M87.3 525.6h.7M60.1 541.8h.7M74.6 524.2h.7M52.7 535.8h.7M76.9 536.5h.7M84.8 535.1h.7M49.3 548.3h.7M70.3 555.8h.7M73.2 528.5h.7M63.9 544.1h.7M69.8 536.4h.7M79.8 547.3h.7M75.2 550.6h.7M62.5 546.5h.7M77.9 538.1h.7M83.7 534.5h.7M55.8 542.6h.7M75.6 550.2h.7M82.9 547.1h.7M58.6 546.5h.7M70.7 527.9h.7M66.5 540.9h.7M67.5 549.7h.7M53.2 535.9h.7M93.7 549.7h.7M73.7 532.4h.7M55.3 538.4h.7M63.4 548.3h.7M50.7 554.8h.7M58.1 547.8h.7M54.9 544.3h.7M50.8 548.8h.7M55.2 537.5h.7M65.8 549.1h.7M53.6 539.2h.7M67.4 535.6h.7M60.7 547.0h.7M76.7 542.6h.7M74.9 530.8h.7M83.9 535.3h.7M68.4 533.2h.7M83.9 548.1h.7M51.1 539.5h.7M53.0 549.7h.7M75.4 539.3h.7M57.7 552.4h.7M67.6 539.4h.7M79.0 532.4h.7M56.3 543.5h.7M74.4 542.3h.7M72.6 536.6h.7M65.3 536.5h.7M53.2 540.3h.7M81.6 539.3h.7M61.4 537.7h.7M79.9 540.3h.7M75.6 545.2h.7M89.3 542.2h.7M74.1 527.6h.7M69.6 548.5h.7M83.8 532.4h.7M61.0 542.0h.7M69.7 539.7h.7M75.1 542.5h.7M60.3 547.5h.7M89.3 543.4h.7M65.2 531.0h.7M68.9 536.2h.7M54.4 537.3h.7M62.7 540.7h.7M58.5 539.0h.7M71.9 534.2h.7M99.7 545.0h.7M62.5 531.1h.7M80.5 543.6h.7M57.8 554.5h.7M80.3 544.5h.7M51.2 544.2h.7M52.9 544.1h.7M80.2 539.0h.7M63.2 547.6h.7M62.6 535.7h.7M48.2 545.2h.7M59.8 544.7h.7M60.9 540.5h.7M76.7 540.5h.7M51.2 538.4h.7M54.6 542.0h.7M84.7 539.0h.7M63.9 541.2h.7M71.4 545.1h.7M59.9 545.8h.7M66.5 548.2h.7M79.6 534.0h.7M66.5 535.9h.7M55.4 550.1h.7M68.5 543.1h.7M60.8 544.3h.7M61.5 544.6h.7M63.9 547.4h.7M71.7 539.2h.7M77.3 536.2h.7M62.4 537.8h.7M71.0 541.0h.7M68.2 544.7h.7M67.2 534.1h.7M52.3 544.2h.7M67.7 537.2h.7M61.4 542.2h.7M76.9 543.1h.7M69.4 530.3h.7M60.3 539.1h.7M61.1 549.7h.7M65.8 536.9h.7M74.8 547.0h.7M71.5 537.7h.7M48.2 552.9h.7M50.0 541.0h.7M57.0 535.8h.7M80.1 536.1h.7M53.9 539.2h.7M63.6 535.0h.7M49.7 536.8h.7M76.2 539.6h.7M81.5 546.7h.7M69.0 549.0h.7M85.6 536.5h.7M76.1 525.9h.7M77.4 535.5h.7M68.4 535.9h.7M51.9 554.6h.7M62.7 553.3h.7M62.4 551.5h.7M67.7 538.6h.7M83.6 527.9h.7M64.0 541.0h.7M72.4 547.7h.7M48.9 549.8h.7M55.6 541.0h.7M64.6 544.8h.7M59.2 540.2h.7M53.1 555.8h.7M57.5 553.4h.7M53.5 546.4h.7M70.0 540.0h.7M58.5 539.7h.7M58.1 555.8h.7M79.9 541.7h.7M67.7 537.0h.7M67.4 530.7h.7M68.6 541.1h.7M75.6 545.9h.7M73.7 554.2h.7M74.2 532.2h.7M72.6 534.1h.7M106.6 544.9h.7M75.9 539.2h.7M73.4 540.4h.7M47.5 541.0h.7M58.2 539.9h.7M48.4 553.8h.7M52.6 548.8h.7M70.6 539.5h.7M63.0 536.4h.7M67.0 539.4h.7M54.3 546.4h.7M69.7 540.7h.7M55.5 545.2h.7M65.6 540.4h.7M71.9 536.0h.7M51.2 544.4h.7M56.2 531.0h.7M66.8 544.6h.7M78.7 527.6h.7M70.1 545.8h.7M55.2 544.2h.7M69.2 529.3h.7M86.0 536.9h.7M48.2 549.6h.7M86.3 528.1h.7M72.4 532.1h.7M77.6 541.0h.7M74.0 545.1h.7M75.2 538.4h.7M77.5 544.5h.7M55.4 548.1h.7M75.3 539.2h.7M65.9 547.5h.7M66.8 544.5h.7M76.9 537.4h.7M63.6 544.5h.7M81.3 536.4h.7M59.2 549.1h.7M79.7 539.3h.7M77.7 535.4h.7M77.1 542.1h.7M58.8 537.3h.7M65.3 548.8h.7M74.6 525.2h.7M55.9 537.2h.7M74.6 535.9h.7M66.8 549.6h.7M62.8 531.8h.7M78.2 527.0h.7M60.1 533.4h.7M75.2 538.1h.7M66.6 544.3h.7M63.5 543.7h.7M65.2 536.3h.7M67.1 533.2h.7M56.8 535.4h.7M65.2 534.4h.7M70.5 539.0h.7M47.9 547.4h.7M82.2 544.7h.7M61.6 552.9h.7M72.8 531.1h.7M72.1 541.2h.7M57.7 552.8h.7M56.0 542.7h.7M56.5 533.9h.7M48.5 539.9h.7M62.9 552.8h.7M78.1 544.4h.7M82.4 548.0h.7M62.4 550.8h.7M68.7 549.3h.7M67.3 541.9h.7M77.2 535.7h.7M71.5 529.7h.7M78.0 536.4h.7M91.5 547.2h.7M57.3 538.0h.7M73.5 545.8h.7M84.3 533.1h.7M70.2 540.7h.7M69.1 536.5h.7M96.1 536.6h.7M51.5 535.3h.7M71.9 543.9h.7M64.4 555.2h.7M88.7 539.2h.7M72.1 537.7h.7M82.6 536.5h.7M65.8 550.3h.7M82.5 531.4h.7M69.1 540.5h.7M61.5 546.7h.7M64.8 529.9h.7M65.1 542.2h.7M66.0 548.4h.7M59.6 538.0h.7M69.9 547.6h.7M72.8 532.8h.7M62.4 555.5h.7M48.8 552.9h.7M54.7 543.6h.7M63.2 544.5h.7M77.8 541.1h.7M50.7 553.8h.7M76.0 542.0h.7M51.7 546.4h.7M81.3 540.4h.7M64.9 545.1h.7M54.3 549.3h.7M77.9 543.0h.7M63.0 543.2h.7M72.3 550.2h.7M71.8 540.5h.7M77.5 551.5h.7M67.3 537.1h.7M60.3 550.5h.7M63.7 540.0h.7M58.2 539.4h.7M55.3 540.9h.7M71.4 547.7h.7M84.4 545.8h.7M71.5 551.9h.7M73.6 539.2h.7M57.0 530.1h.7M56.9 534.3h.7M62.1 544.3h.7M75.9 541.8h.7M85.3 528.3h.7M55.6 535.1h.7M58.9 539.0h.7M65.2 543.5h.7M83.7 537.2h.7M52.8 538.5h.7M52.9 546.8h.7M76.7 529.0h.7M74.8 535.5h.7M77.9 539.9h.7M54.7 552.8h.7M50.5 546.6h.7M73.6 539.7h.7M70.8 549.2h.7M71.6 541.1h.7M59.8 542.6h.7M74.1 543.1h.7M54.6 531.1h.7M85.3 549.8h.7M58.8 544.3h.7M54.7 540.8h.7M78.8 534.4h.7M79.3 537.8h.7M66.2 540.1h.7M76.5 539.4h.7M82.0 542.4h.7M70.3 548.3h.7M53.2 534.5h.7M68.5 538.4h.7M91.4 533.6h.7M74.7 533.7h.7M62.4 533.1h.7M64.6 544.9h.7M77.2 541.8h.7M66.7 546.0h.7M53.9 541.5h.7M76.1 530.8h.7M59.8 547.1h.7M64.2 550.5h.7M75.8 531.7h.7M60.2 540.9h.7M56.3 537.6h.7M95.9 536.4h.7M51.7 541.4h.7M66.7 537.0h.7M77.5 520.6h.7M52.5 547.5h.7M72.1 547.2h.7M77.6 538.1h.7M78.2 523.6h.7M67.1 547.7h.7M49.5 536.9h.7M50.7 544.1h.7M56.0 534.9h.7M53.8 555.6h.7M72.9 543.5h.7M57.9 553.8h.7M62.6 534.9h.7M72.4 535.6h.7M59.4 534.5h.7M75.8 536.3h.7M52.2 536.2h.7M60.3 555.1h.7M65.4 530.6h.7M78.1 546.2h.7M49.9 555.1h.7M68.8 539.9h.7M73.5 526.7h.7M50.1 542.4h.7M70.1 547.9h.7M73.4 529.4h.7M51.5 546.0h.7M77.3 546.4h.7M69.9 542.3h.7M62.7 532.8h.7M64.8 546.1h.7M68.4 541.5h.7M73.9 543.4h.7M57.2 544.6h.7M66.4 541.9h.7M80.2 535.4h.7M60.4 537.4h.7M66.1 542.2h.7M63.1 547.6h.7M62.8 543.6h.7M68.0 531.3h.7M76.1 542.1h.7M54.7 536.3h.7M61.3 533.1h.7M57.2 553.9h.7M73.9 534.9h.7M66.6 548.8h.7M67.7 537.0h.7M72.4 527.3h.7M77.3 539.7h.7M64.9 531.0h.7M67.6 533.4h.7M80.6 531.9h.7M72.9 537.3h.7M57.7 527.4h.7M61.7 533.2h.7M78.1 533.7h.7M51.7 546.3h.7M69.6 537.8h.7M68.4 546.4h.7M66.1 541.6h.7M68.7 536.4h.7M73.1 539.5h.7M68.6 529.3h.7M49.4 550.7h.7M60.2 546.8h.7M65.7 538.1h.7M56.2 533.7h.7M70.9 554.2h.7M65.9 554.2h.7M59.2 541.3h.7M49.4 541.6h.7M53.3 549.4h.7M58.7 537.1h.7M60.3 549.6h.7M49.1 555.7h.7M61.1 542.6h.7M73.7 536.3h.7M75.2 554.8h.7M70.2 545.9h.7M66.9 533.8h.7M82.2 536.8h.7M67.8 551.3h.7M81.4 539.9h.7M69.0 539.1h.7M58.5 536.1h.7M63.9 543.6h.7M56.4 549.4h.7M85.9 549.2h.7M60.5 537.5h.7M57.8 544.8h.7M47.5 540.1h.7M66.2 541.1h.7M65.9 532.9h.7M64.6 545.2h.7M63.2 543.8h.7M63.7 540.6h.7M64.8 547.8h.7M65.7 550.8h.7M70.5 542.8h.7M85.4 542.6h.7M52.2 540.9h.7M74.7 539.8h.7M81.8 542.6h.7M55.6 539.5h.7M73.5 546.5h.7M57.9 540.1h.7M49.8 544.1h.7M67.5 536.4h.7M54.0 541.3h.7M68.3 540.2h.7M68.2 543.9h.7M54.6 554.2h.7M84.5 539.7h.7M55.1 533.0h.7M47.7 555.3h.7M59.3 538.7h.7M54.3 543.1h.7M75.7 529.7h.7M62.3 538.0h.7M56.5 552.6h.7M56.2 544.3h.7M82.5 536.6h.7M85.9 538.7h.7M66.0 535.5h.7M63.7 535.1h.7M68.6 547.3h.7M65.6 533.2h.7M79.9 552.0h.7M65.8 544.7h.7M61.9 543.9h.7M69.0 544.1h.7M76.8 531.9h.7M65.0 536.8h.7M51.7 545.4h.7M60.8 533.7h.7M61.7 545.6h.7M66.1 533.4h.7M62.4 540.0h.7M70.2 541.4h.7M76.9 545.1h.7M78.1 537.7h.7M57.9 546.0h.7M77.7 543.2h.7M56.0 545.8h.7M60.9 534.5h.7M76.1 548.0h.7M66.1 538.8h.7M73.0 544.3h.7M72.8 547.1h.7M87.7 534.0h.7M58.5 529.4h.7M66.7 549.8h.7M61.5 537.8h.7M78.6 539.3h.7M61.8 539.9h.7M53.6 542.9h.7M58.1 548.6h.7M66.4 527.3h.7M55.5 534.7h.7M64.8 531.1h.7M66.6 530.9h.7M75.1 530.5h.7M69.5 553.9h.7M68.8 540.2h.7M87.4 531.1h.7M81.6 535.9h.7M74.6 534.1h.7M61.7 549.9h.7M58.9 552.3h.7M60.8 536.8h.7M58.9 534.5h.7M66.3 541.4h.7M82.8 532.6h.7M54.7 554.9h.7M59.4 536.9h.7M52.6 545.9h.7M50.7 539.8h.7M70.1 535.6h.7M65.8 539.9h.7M63.4 538.7h.7M64.4 542.4h.7M64.9 534.9h.7M66.0 526.0h.7M78.9 532.3h.7M61.7 547.9h.7M86.6 541.9h.7M50.9 542.6h.7M75.8 543.1h.7M61.4 533.8h.7M63.3 534.0h.7M68.2 548.9h.7M61.2 555.7h.7M65.5 537.2h.7M71.0 536.7h.7M64.0 540.1h.7M84.5 531.2h.7M55.0 553.6h.7M57.3 543.0h.7M71.0 548.8h.7M54.3 552.4h.7M78.7 539.6h.7M75.3 536.9h.7M82.6 530.8h.7M47.6 555.3h.7M71.6 552.9h.7M69.5 546.5h.7M85.4 533.8h.7M66.6 537.9h.7M74.8 546.3h.7M76.5 540.5h.7M80.7 528.9h.7M70.9 537.6h.7M63.9 544.5h.7M75.7 541.9h.7M55.6 528.1h.7M63.9 538.2h.7M68.0 536.1h.7M50.6 546.0h.7M72.2 539.4h.7M77.9 539.5h.7M72.5 542.5h.7M69.2 539.0h.7M81.6 548.3h.7M84.6 523.4h.7M77.9 546.6h.7M80.8 546.8h.7M62.9 538.2h.7M77.2 534.7h.7M73.6 531.2h.7M54.8 549.6h.7M77.4 544.5h.7M70.5 529.2h.7M64.2 545.0h.7M61.0 544.3h.7M69.4 540.8h.7M68.1 553.8h.7M87.3 538.2h.7M67.4 533.4h.7M69.7 543.1h.7M60.6 550.1h.7M61.4 538.9h.7M79.0 524.0h.7M70.2 543.7h.7M88.4 537.7h.7M70.2 544.7h.7M62.2 532.1h.7M49.8 554.1h.7M63.8 545.6h.7M62.6 554.3h.7M54.9 553.7h.7M69.6 533.5h.7M69.3 538.2h.7M71.2 536.8h.7M70.2 524.7h.7M86.3 534.2h.7M67.7 548.6h.7M67.6 552.7h.7M53.0 545.9h.7M78.2 541.6h.7M57.7 544.4h.7M76.0 546.9h.7M60.5 538.4h.7M65.4 540.4h.7M62.0 535.0h.7M57.5 529.7h.7M59.5 548.6h.7M61.1 534.9h.7M50.1 553.3h.7M76.6 538.5h.7M68.5 540.8h.7M78.7 541.9h.7M67.1 543.4h.7M64.8 536.7h.7M59.4 552.5h.7M53.9 553.6h.7M48.5 548.5h.7M84.0 541.7h.7M86.6 537.2h.7M71.5 535.5h.7M54.8 550.9h.7M87.2 541.7h.7M50.6 540.4h.7M71.3 546.3h.7M72.0 530.8h.7M69.8 550.3h.7M61.0 540.9h.7M53.2 547.1h.7M56.4 540.4h.7M69.2 537.9h.7M69.6 533.9h.7M64.5 543.1h.7M84.6 549.5h.7M75.5 546.3h.7M49.8 550.2h.7M51.1 552.6h.7M61.8 540.7h.7M63.5 554.0h.7M56.7 545.3h.7M55.8 547.5h.7M88.6 555.0h.7M73.4 546.6h.7M71.9 538.1h.7M71.6 531.5h.7M76.8 539.9h.7M67.1 544.8h.7M74.7 546.2h.7M60.1 536.0h.7M90.2 538.5h.7M73.8 531.3h.7M74.7 540.8h.7M69.8 533.6h.7M70.5 536.1h.7M85.8 538.5h.7M48.0 543.7h.7M66.2 542.8h.7M64.6 544.4h.7M66.9 548.3h.7M72.6 537.9h.7M72.8 539.2h.7M52.1 543.6h.7M73.6 537.0h.7M68.6 547.1h.7M65.9 535.0h.7M85.1 522.0h.7M55.5 538.3h.7M64.8 531.4h.7M63.8 539.1h.7M55.0 541.8h.7M78.8 535.4h.7M59.3 538.9h.7M69.5 541.6h.7M61.4 543.7h.7M66.8 531.3h.7M63.6 539.4h.7M72.1 548.3h.7M70.4 549.5h.7M64.9 544.7h.7M66.3 544.8h.7M69.0 541.4h.7M71.3 541.9h.7M54.3 521.6h.7M55.0 553.4h.7M59.2 548.8h.7M71.1 538.7h.7M80.9 523.1h.7M77.4 537.6h.7M50.6 551.3h.7M73.2 540.6h.7M56.4 547.4h.7M85.4 549.7h.7M55.2 534.5h.7M87.6 524.3h.7M85.7 547.4h.7M75.2 533.0h.7M60.4 540.0h.7M65.7 547.9h.7M70.3 547.4h.7M73.0 542.0h.7M67.4 540.8h.7M63.3 555.7h.7M64.4 535.8h.7M65.2 534.7h.7M65.9 547.2h.7M49.6 540.4h.7M77.5 539.5h.7M66.5 536.9h.7M74.7 543.2h.7M73.6 531.2h.7M61.0 542.5h.7M49.4 550.1h.7M59.6 535.6h.7M58.1 547.2h.7M73.5 534.5h.7M66.6 535.8h.7M51.8 555.0h.7M69.0 535.9h.7M64.4 546.8h.7M66.4 542.3h.7M77.4 529.2h.7M67.5 525.2h.7M51.5 537.6h.7M76.2 549.8h.7M70.3 541.2h.7M75.7 537.4h.7M70.9 538.5h.7M47.6 550.3h.7M58.3 543.4h.7M56.4 535.8h.7M76.3 539.6h.7M75.5 546.7h.7M69.6 541.4h.7M71.5 543.8h.7M59.7 536.5h.7M60.0 552.0h.7M82.2 520.2h.7M56.3 534.9h.7M90.8 537.9h.7M82.6 543.0h.7M65.8 542.7h.7M57.5 542.4h.7M77.8 543.1h.7M51.5 551.7h.7M49.4 547.0h.7M67.5 543.5h.7M61.4 540.7h.7M54.4 532.4h.7M73.6 541.7h.7M59.0 546.0h.7M57.9 547.3h.7M59.1 535.9h.7M69.8 553.8h.7M84.7 542.7h.7M65.4 535.3h.7M67.5 538.5h.7M85.9 540.6h.7M56.5 544.8h.7M75.5 542.0h.7M78.0 535.7h.7M66.5 537.6h.7M59.6 539.8h.7M74.6 553.0h.7M61.3 544.6h.7M81.1 543.3h.7M62.7 539.0h.7M79.1 546.6h.7M61.1 541.2h.7M65.6 554.9h.7M62.8 527.4h.7M48.8 555.1h.7M85.2 534.2h.7M54.9 536.8h.7M98.0 537.5h.7M67.8 530.1h.7M71.5 529.5h.7M63.8 542.7h.7M57.8 555.6h.7M60.2 541.1h.7M81.5 548.2h.7M57.6 550.7h.7M64.7 553.9h.7M58.9 543.0h.7M94.8 535.1h.7M50.9 539.7h.7M60.4 548.5h.7M85.2 552.2h.7M68.4 537.4h.7M55.6 553.9h.7M77.7 523.0h.7M55.2 545.7h.7M56.3 539.0h.7M61.2 548.2h.7M68.1 534.9h.7M49.4 543.5h.7M70.6 532.3h.7M70.8 536.7h.7M62.6 546.6h.7M48.3 545.8h.7M58.5 547.6h.7M74.5 548.5h.7M56.1 539.0h.7M51.9 540.0h.7M77.1 533.1h.7M65.0 523.5h.7M72.0 533.5h.7M69.5 541.1h.7M62.5 536.5h.7M59.8 540.2h.7M65.9 535.2h.7M61.4 540.4h.7M61.9 544.2h.7M59.5 550.3h.7M77.9 535.6h.7M61.6 545.5h.7M74.6 527.7h.7M77.6 535.7h.7M81.3 540.3h.7M80.5 532.0h.7M62.9 540.7h.7M79.0 527.6h.7M64.1 547.1h.7M71.9 541.2h.7M71.0 540.3h.7M72.0 550.5h.7M56.3 549.0h.7M48.1 538.6h.7M77.2 550.0h.7M60.9 538.6h.7M61.8 554.9h.7M75.4 539.6h.7M64.4 548.5h.7M51.6 553.6h.7M76.5 546.8h.7M72.0 543.5h.7M64.5 543.0h.7M64.4 534.2h.7M54.3 539.4h.7M67.9 551.4h.7M55.9 535.2h.7M51.3 549.1h.7M52.3 547.3h.7M73.5 540.2h.7M77.1 536.5h.7M47.8 545.6h.7M57.5 536.4h.7M72.9 539.5h.7M72.9 536.5h.7M65.7 545.9h.7M65.8 550.9h.7M65.3 539.4h.7M77.4 534.0h.7M63.1 543.9h.7M81.7 533.7h.7M61.5 543.1h.7M69.2 535.7h.7M90.5 536.4h.7M67.6 552.5h.7M53.7 546.3h.7M72.0 530.0h.7M63.9 544.7h.7M72.0 545.0h.7M65.0 537.4h.7M55.7 545.1h.7M67.4 545.5h.7M92.2 550.2h.7M67.9 539.6h.7M84.6 540.6h.7M67.9 545.4h.7M54.7 554.0h.7M67.6 543.8h.7M70.3 534.6h.7M52.0 547.7h.7M60.6 541.7h.7M76.2 541.0h.7M76.4 539.6h.7M74.3 549.8h.7M74.5 522.0h.7M66.4 549.4h.7M71.2 530.1h.7M69.1 534.2h.7M56.1 540.0h.7M69.9 552.9h.7M49.6 548.6h.7M71.4 531.6h.7M50.0 555.4h.7M68.7 548.4h.7M52.5 542.4h.7M67.1 539.1h.7M78.2 549.9h.7M62.3 538.2h.7M60.4 553.2h.7M77.1 543.1h.7M79.7 533.4h.7M79.2 524.5h.7M72.8 542.8h.7M81.7 541.2h.7M63.7 532.3h.7M78.0 537.1h.7M62.8 550.0h.7M56.6 544.3h.7M55.4 538.2h.7M77.6 536.2h.7M62.7 539.9h.7M68.7 541.8h.7M71.1 546.2h.7M73.8 548.2h.7M70.4 534.8h.7M68.3 537.6h.7M74.1 539.3h.7M79.6 538.5h.7M65.6 547.0h.7M51.2 546.3h.7M84.7 540.3h.7M62.0 541.3h.7M75.1 543.5h.7M60.2 543.9h.7M71.7 553.4h.7M67.2 542.2h.7M74.7 554.9h.7M64.9 541.8h.7M72.0 550.3h.7M66.3 543.1h.7M57.0 542.3h.7M57.8 544.0h.7M60.0 532.0h.7M52.8 550.9h.7M75.4 543.1h.7M92.4 537.1h.7M71.3 544.4h.7M76.5 549.5h.7M76.4 547.5h.7M75.4 547.9h.7M60.9 540.4h.7M76.1 529.6h.7M78.3 538.2h.7M52.0 545.2h.7M67.9 545.7h.7M78.6 527.8h.7M67.8 548.0h.7M63.9 534.5h.7M69.3 547.2h.7M84.6 530.2h.7M60.5 547.4h.7M68.4 547.8h.7M63.0 545.2h.7M83.8 547.2h.7M57.5 536.9h.7M77.4 547.5h.7M65.8 531.0h.7M62.9 545.6h.7M72.6 532.3h.7M80.6 541.4h.7M70.3 544.5h.7M86.9 548.0h.7M70.1 542.3h.7M54.7 539.8h.7M67.0 534.5h.7M49.7 545.2h.7M76.9 541.9h.7M74.3 538.0h.7M49.1 540.6h.7M64.2 550.1h.7M71.0 535.0h.7M63.3 529.6h.7M63.5 540.9h.7M59.9 543.0h.7M74.2 531.8h.7M56.1 545.4h.7M66.1 536.5h.7M58.5 550.0h.7M60.8 546.7h.7M64.1 548.2h.7M49.3 544.5h.7M54.0 545.0h.7M73.7 548.0h.7M74.8 548.4h.7M62.9 539.6h.7M62.4 553.9h.7M74.2 545.0h.7M74.7 548.7h.7M62.5 539.3h.7M78.1 528.8h.7M64.1 543.9h.7M68.1 551.1h.7M68.4 537.8h.7M81.0 539.6h.7M66.7 553.6h.7M61.4 532.9h.7M70.5 544.1h.7M59.7 540.6h.7M71.2 539.9h.7M67.9 555.7h.7M72.1 535.4h.7M54.5 541.9h.7M69.4 544.6h.7M64.5 534.1h.7M72.6 549.1h.7M57.9 542.8h.7M60.7 548.5h.7M90.7 548.5h.7M60.0 537.1h.7M61.9 540.2h.7M67.1 544.2h.7M86.4 533.4h.7M58.7 548.3h.7M59.6 535.8h.7M63.9 544.6h.7M52.7 541.5h.7M70.9 538.3h.7M65.4 549.8h.7M67.2 531.8h.7M55.8 545.0h.7M63.5 544.9h.7M58.7 541.2h.7M73.4 535.4h.7M68.7 539.0h.7M73.4 530.7h.7M71.1 548.1h.7M95.9 537.8h.7M57.7 544.4h.7M69.4 530.1h.7M83.7 534.1h.7M80.8 546.5h.7M71.1 549.4h.7M70.0 540.4h.7M71.7 543.1h.7M76.7 539.2h.7M63.2 549.6h.7M65.9 538.7h.7M77.7 554.5h.7M61.4 543.7h.7M59.3 541.8h.7M81.4 546.4h.7M72.0 541.4h.7M68.6 544.4h.7M60.2 546.1h.7M88.7 544.2h.7M70.9 548.4h.7M72.1 537.7h.7M80.0 538.5h.7M55.1 547.4h.7M62.9 548.5h.7M62.5 549.2h.7M62.5 555.4h.7M75.5 554.7h.7M50.9 543.2h.7M55.8 540.9h.7M65.3 532.9h.7M47.5 549.3h.7M67.2 545.2h.7M71.5 545.5h.7M55.5 545.7h.7M57.1 544.0h.7M74.8 535.6h.7M71.6 529.0h.7M58.4 555.5h.7M93.9 528.7h.7M68.5 553.6h.7M61.4 550.9h.7M60.7 532.3h.7M65.5 526.6h.7M74.9 534.9h.7M63.1 548.3h.7M59.2 537.2h.7M50.9 550.1h.7M59.3 548.9h.7M69.6 545.3h.7M92.2 541.3h.7M61.7 545.9h.7M61.1 538.5h.7M49.7 548.1h.7M53.6 538.3h.7M61.6 552.7h.7M72.9 535.5h.7M76.0 540.6h.7M66.7 537.6h.7M55.1 542.1h.7M60.8 549.8h.7M69.1 538.6h.7M50.9 545.8h.7M72.7 541.3h.7M61.1 539.5h.7M58.2 541.3h.7M67.4 546.5h.7M80.5 540.9h.7M57.4 545.0h.7M92.6 538.2h.7M78.1 536.2h.7M69.0 531.9h.7M51.6 542.9h.7M65.2 546.4h.7M68.5 549.0h.7M58.4 544.0h.7M78.0 535.4h.7M49.6 550.7h.7M68.6 554.0h.7M59.9 545.8h.7M66.7 538.0h.7M67.9 541.8h.7M71.5 541.7h.7M72.7 537.1h.7M72.6 535.3h.7M70.4 544.1h.7M81.4 533.9h.7M65.4 551.2h.7M61.4 539.3h.7M67.7 553.7h.7M61.4 542.3h.7M57.5 548.3h.7M87.3 540.2h.7M70.1 554.4h.7M82.6 543.9h.7M72.5 534.5h.7M48.1 548.7h.7M70.1 542.8h.7M69.0 534.2h.7M55.3 532.7h.7M62.1 538.8h.7M71.6 531.1h.7M62.9 543.4h.7M64.9 541.5h.7M59.6 546.8h.7M50.4 548.3h.7M55.4 542.4h.7M74.7 553.9h.7M61.9 544.5h.7M65.4 550.5h.7M73.2 542.6h.7M88.0 544.7h.7M49.8 548.2h.7M64.4 534.1h.7M47.7 543.0h.7M74.9 550.7h.7M70.0 543.0h.7M53.0 532.3h.7M82.6 528.8h.7M66.1 548.0h.7M48.6 528.6h.7M64.0 546.7h.7M65.9 542.3h.7M73.4 543.5h.7M53.6 544.4h.7M64.1 535.6h.7M64.4 538.5h.7M57.0 543.4h.7M50.9 553.4h.7M80.7 529.4h.7M70.5 539.6h.7M67.5 537.9h.7M71.3 534.2h.7M60.7 535.8h.7M85.8 541.2h.7M55.8 545.8h.7M97.6 530.3h.7M101.1 519.2h.7M80.4 537.2h.7M73.5 539.5h.7M81.1 525.5h.7M78.8 534.5h.7M65.3 544.4h.7M78.3 536.0h.7M51.4 551.2h.7M74.9 542.2h.7M58.9 546.1h.7M58.8 541.0h.7M60.6 553.9h.7M78.3 546.1h.7M62.9 538.5h.7M48.3 541.3h.7M74.8 542.8h.7M65.5 548.2h.7M71.0 535.3h.7M69.4 535.3h.7M90.5 532.2h.7M51.2 546.2h.7M85.6 534.0h.7M87.0 543.0h.7M77.8 532.7h.7M68.0 538.1h.7M57.5 544.3h.7M60.0 547.2h.7M86.5 541.0h.7M59.5 540.3h.7M80.7 532.0h.7M54.5 544.8h.7M64.3 533.5h.7M60.3 532.7h.7M67.3 545.7h.7M75.7 551.8h.7M77.1 539.7h.7M65.2 555.0h.7M74.2 534.1h.7M77.2 543.3h.7M53.8 536.5h.7M50.3 538.0h.7M65.3 541.6h.7M80.5 533.6h.7M94.1 533.9h.7M59.1 540.9h.7M59.7 546.1h.7M66.8 541.9h.7M54.8 550.1h.7M60.7 540.5h.7M69.7 550.1h.7M67.4 550.0h.7M58.6 536.5h.7M61.6 548.6h.7M70.9 535.4h.7M63.1 535.6h.7M61.1 548.1h.7M68.5 537.7h.7M77.0 539.9h.7M59.9 547.0h.7M64.8 545.5h.7M73.6 538.2h.7M71.8 542.2h.7M66.9 535.9h.7M47.6 554.7h.7M63.6 553.4h.7M65.9 540.5h.7M62.0 544.0h.7M63.5 529.6h.7M70.9 547.5h.7M80.9 525.7h.7M83.5 542.1h.7M72.7 542.8h.7M92.6 544.7h.7M90.0 544.2h.7M84.4 534.7h.7M52.9 543.0h.7M74.1 542.1h.7M69.0 553.2h.7M60.8 540.0h.7M58.9 555.4h.7M66.9 540.8h.7M76.2 536.1h.7M66.7 546.6h.7M48.8 521.9h.7M75.3 541.7h.7M93.8 541.4h.7M51.3 545.0h.7M67.2 536.0h.7M62.9 545.0h.7M51.1 554.7h.7M70.2 547.1h.7M82.5 542.4h.7M64.0 537.1h.7M87.7 545.5h.7M63.4 531.9h.7M66.4 545.4h.7M72.2 533.8h.7M68.7 534.8h.7M74.6 548.5h.7M75.0 526.6h.7M53.0 547.3h.7M65.9 531.3h.7M72.2 530.4h.7M51.4 545.7h.7M68.8 544.7h.7M63.4 553.4h.7M97.6 528.5h.7M58.6 549.9h.7M56.5 540.7h.7M88.2 536.5h.7M69.9 540.9h.7M75.3 535.4h.7M73.7 547.0h.7M86.1 534.8h.7M56.7 546.1h.7M81.0 539.8h.7M58.0 549.2h.7M70.9 544.5h.7M49.8 536.8h.7M63.5 538.8h.7M70.5 542.0h.7M74.3 540.8h.7M74.9 545.5h.7M80.1 532.3h.7M49.7 553.5h.7M67.3 537.1h.7M68.0 533.8h.7M67.1 540.0h.7M54.4 549.7h.7M69.7 545.0h.7M57.8 549.4h.7M72.6 541.9h.7M76.9 533.7h.7M89.2 541.0h.7M66.4 539.8h.7M63.1 541.9h.7M59.6 548.1h.7M63.3 541.2h.7M53.4 542.4h.7M52.1 537.6h.7M60.3 537.7h.7M59.7 551.7h.7M71.2 551.1h.7M62.4 539.3h.7M57.7 526.1h.7M50.6 547.5h.7M110.2 517.5h.7M60.9 539.1h.7M72.5 545.4h.7M57.9 543.5h.7M56.9 548.9h.7M63.1 537.8h.7M58.3 551.2h.7M86.8 516.1h.7M57.6 543.3h.7M58.0 550.9h.7M67.2 549.8h.7M62.4 542.0h.7M65.7 539.0h.7M57.6 538.8h.7M58.6 549.9h.7M59.7 544.2h.7M62.9 545.0h.7M73.6 544.2h.7M59.2 543.9h.7M55.6 547.5h.7M50.1 547.2h.7M57.6 546.6h.7M67.1 550.4h.7M61.8 552.9h.7M56.7 541.6h.7M83.6 546.1h.7M78.0 537.4h.7M74.6 538.4h.7M77.8 554.3h.7M79.1 538.5h.7M62.5 545.2h.7M63.9 542.7h.7M73.2 538.6h.7M68.9 536.5h.7M52.6 534.1h.7M47.9 542.9h.7M55.4 546.7h.7M70.9 535.4h.7M70.9 539.8h.7M88.6 539.1h.7M76.3 531.9h.7M76.3 535.2h.7M78.8 551.8h.7M88.2 541.8h.7M79.6 538.4h.7M84.3 551.3h.7M73.1 539.4h.7M65.3 543.0h.7M85.0 545.6h.7M66.0 534.4h.7M66.2 555.2h.7M57.5 552.7h.7M61.2 540.8h.7M88.5 530.8h.7M69.3 531.9h.7M81.3 537.5h.7M74.1 532.0h.7M67.9 545.9h.7M51.5 534.3h.7M83.0 541.1h.7M82.3 542.2h.7M83.3 546.0h.7M52.3 541.5h.7M65.0 553.2h.7M65.3 548.0h.7M58.4 528.9h.7M66.6 537.0h.7M75.5 548.8h.7M57.8 545.9h.7M57.7 536.7h.7M80.2 535.2h.7M67.8 538.2h.7M77.0 541.9h.7M57.7 533.8h.7M74.2 544.3h.7M82.1 543.6h.7M59.9 548.4h.7M86.8 534.1h.7M60.8 545.6h.7M73.5 544.1h.7M75.4 548.0h.7M90.8 534.8h.7M75.2 545.1h.7M54.0 543.3h.7M66.8 528.7h.7M64.3 535.5h.7M74.9 541.7h.7M50.0 544.6h.7M54.7 553.8h.7M58.0 552.5h.7M51.1 553.2h.7M69.3 539.7h.7M80.8 539.8h.7M66.0 540.1h.7M71.6 547.4h.7M62.4 541.2h.7M71.1 549.0h.7M50.5 549.0h.7M79.6 533.4h.7M73.0 536.0h.7M62.4 537.2h.7M63.4 542.9h.7M54.3 536.4h.7M77.6 546.6h.7M61.5 554.4h.7M56.1 534.8h.7M57.9 550.2h.7M66.2 537.2h.7M66.0 537.9h.7M54.5 549.9h.7M55.6 539.4h.7M75.7 527.2h.7M62.6 542.0h.7M77.2 536.9h.7M63.6 538.4h.7M88.8 543.2h.7M75.0 544.0h.7M73.7 546.6h.7M50.3 546.5h.7M60.8 536.9h.7M54.3 540.5h.7M66.9 546.0h.7M62.4 550.6h.7M75.9 534.7h.7M73.0 550.1h.7M60.6 543.2h.7M74.0 547.9h.7M60.4 542.5h.7M105.5 538.1h.7M80.9 531.2h.7M61.1 550.7h.7M65.8 533.3h.7M68.7 540.8h.7M59.1 545.9h.7M56.1 555.0h.7M65.8 538.6h.7M61.6 543.0h.7M93.3 538.6h.7M63.4 552.1h.7M54.2 550.6h.7M80.4 536.3h.7M76.2 546.2h.7M90.1 531.4h.7M48.8 555.0h.7M63.7 554.4h.7M89.8 540.0h.7M74.2 549.1h.7M55.1 536.4h.7M51.4 533.1h.7M50.7 539.4h.7M61.2 554.8h.7" stroke="#222" stroke-width=".75" stroke-opacity="0.55" fill="none"/>
<path d="M66.6 531.1h.7M89.1 515.6h.7M84.7 524.2h.7M87.4 525.7h.7M77.0 533.1h.7M73.2 530.9h.7M76.5 539.5h.7M80.9 518.4h.7M81.1 530.6h.7M78.0 538.5h.7M87.0 517.8h.7M89.4 523.8h.7M73.5 526.9h.7M76.0 534.7h.7M66.4 530.8h.7M70.4 528.9h.7M72.4 533.7h.7M83.1 520.8h.7M78.3 517.8h.7M77.5 533.5h.7M74.4 545.2h.7M80.8 522.9h.7M79.8 523.7h.7M81.0 527.2h.7M77.0 511.6h.7M69.6 535.6h.7M83.3 532.8h.7M79.2 535.4h.7M85.3 530.7h.7M87.1 532.9h.7M73.0 533.9h.7M85.7 526.3h.7M59.7 531.6h.7M79.6 512.4h.7M64.3 524.7h.7M91.8 531.2h.7M74.3 536.0h.7M80.2 518.7h.7M73.7 536.4h.7M74.6 546.2h.7M73.2 527.8h.7M75.4 530.2h.7M77.1 538.1h.7M95.9 523.7h.7M63.8 530.1h.7M78.2 540.3h.7M83.6 528.7h.7M102.3 516.5h.7M67.3 541.6h.7M83.5 528.5h.7M66.6 534.7h.7M80.3 524.5h.7M78.6 519.5h.7M87.6 519.4h.7M86.3 521.2h.7M68.8 530.3h.7M70.0 536.1h.7M69.4 532.4h.7M84.0 534.0h.7M85.6 526.4h.7M95.3 524.7h.7M72.4 532.8h.7M94.6 514.7h.7M73.4 540.4h.7M78.7 520.6h.7M83.2 532.2h.7M76.1 521.2h.7M74.9 526.0h.7M89.7 519.4h.7M60.8 535.3h.7M74.8 538.6h.7M55.0 533.2h.7M86.0 525.9h.7M79.8 524.2h.7M92.5 517.3h.7M77.4 528.6h.7M76.5 534.3h.7M75.9 530.5h.7M82.2 530.3h.7M86.5 521.3h.7M92.8 514.7h.7M62.6 528.3h.7M67.1 536.3h.7M83.3 535.2h.7M86.6 532.3h.7M105.6 518.8h.7M78.4 528.0h.7M89.5 526.9h.7M74.2 524.9h.7M79.6 524.0h.7M86.1 532.9h.7M80.9 533.8h.7M82.9 538.8h.7M75.7 526.3h.7M77.6 528.7h.7M84.6 526.9h.7M69.8 531.5h.7M84.3 522.9h.7M87.2 539.5h.7M72.2 528.8h.7M74.0 517.2h.7M77.8 518.3h.7M74.4 534.8h.7M96.4 530.6h.7M79.3 536.1h.7M79.8 526.6h.7M88.8 523.9h.7M86.3 538.8h.7M76.8 528.3h.7M64.3 534.1h.7M77.3 536.2h.7M81.5 526.4h.7M78.3 533.4h.7M68.7 532.8h.7M77.8 533.1h.7M89.1 535.4h.7M64.2 527.5h.7M95.3 536.8h.7M74.0 522.9h.7M80.0 527.3h.7M72.5 527.8h.7M93.2 528.7h.7M92.8 528.6h.7M75.6 543.4h.7M88.0 530.5h.7M89.4 526.4h.7M70.5 526.3h.7M70.8 528.1h.7M77.7 535.7h.7M82.6 524.0h.7M71.7 516.6h.7M94.2 520.8h.7M88.9 521.8h.7M74.3 530.2h.7M85.2 530.9h.7M68.0 533.2h.7M90.3 528.0h.7M72.9 536.6h.7M91.7 533.0h.7M83.2 518.4h.7M79.8 530.6h.7M90.4 524.6h.7M87.1 525.7h.7M79.7 526.5h.7M90.3 532.1h.7M74.4 525.4h.7M66.1 530.9h.7M78.5 530.6h.7M71.4 532.8h.7M84.0 527.7h.7M72.1 530.6h.7M73.0 533.3h.7M80.7 540.3h.7M78.0 520.3h.7M101.0 524.3h.7M60.2 532.1h.7M71.6 521.2h.7M78.6 545.5h.7M76.8 527.2h.7M87.0 528.0h.7M73.8 526.1h.7M67.6 540.3h.7M78.4 531.9h.7M70.9 534.6h.7M76.0 528.0h.7M93.8 511.0h.7M78.2 522.0h.7M79.1 531.8h.7M68.8 517.9h.7M72.3 543.0h.7M94.6 523.3h.7M64.4 532.0h.7M73.6 538.0h.7M82.0 540.7h.7M78.0 542.8h.7M77.6 525.5h.7M89.7 533.0h.7M71.3 539.2h.7M83.5 524.8h.7M85.5 535.4h.7M74.8 522.8h.7M88.3 528.7h.7M64.4 522.5h.7M77.1 536.3h.7M68.8 540.2h.7M74.5 542.1h.7M66.5 530.0h.7M93.0 534.6h.7M68.7 533.5h.7M62.4 543.5h.7M92.8 521.9h.7M86.8 527.0h.7M93.3 525.4h.7M80.9 515.7h.7M79.3 531.3h.7M92.2 539.1h.7M77.9 530.1h.7M69.5 522.0h.7M79.6 537.5h.7M78.4 538.0h.7M76.1 536.3h.7M68.3 524.5h.7M85.4 528.3h.7M86.8 527.2h.7M69.9 535.1h.7M74.4 538.2h.7M87.2 514.8h.7M87.3 526.6h.7M76.1 534.4h.7M71.4 528.5h.7M85.2 530.9h.7M82.3 519.3h.7M72.6 527.5h.7M83.9 522.5h.7M75.5 535.5h.7M71.2 536.0h.7M73.6 537.5h.7M70.3 533.7h.7M80.6 534.5h.7M53.3 544.0h.7M102.0 525.7h.7M76.9 530.4h.7M71.8 533.7h.7M95.0 526.5h.7M70.1 514.4h.7M63.9 546.3h.7M89.8 523.8h.7M72.3 529.6h.7M75.7 522.9h.7M76.7 525.9h.7M83.9 528.9h.7M83.0 537.5h.7M68.7 537.4h.7M85.0 526.0h.7M63.7 533.6h.7M94.9 531.3h.7M69.9 528.3h.7M90.1 522.9h.7M71.9 517.7h.7M74.6 532.4h.7M71.3 522.9h.7M81.4 531.9h.7M78.9 528.4h.7M87.0 536.5h.7M92.7 523.7h.7M66.6 523.8h.7M74.9 533.9h.7M82.3 524.0h.7M71.9 525.5h.7M72.1 531.0h.7" stroke="#222" stroke-width=".75" stroke-opacity="0.55" fill="none"/>
<path d="M79.4 580.4 L104.6 496.3 L127.6 496.3 L127.6 579.8" stroke="#555" stroke-width="0.8" fill="none"/>
<rect x="46.4" y="494.6" width="82.5" height="85.8" fill="none" stroke="#111" stroke-width="1.25"/>
<path d="M42.7 543.2H46.4M42.7 523H46.4M42.7 503.2H46.4M81.1 580.4V583.9M100.9 580.4V583.9M119.7 580.4V583.9" stroke="#111" stroke-width="1.2" fill="none"/>
<path d="M44.3 537.18H46.4M44.3 533.66H46.4M44.3 531.16H46.4M44.3 529.22H46.4M44.3 527.64H46.4M44.3 526.3H46.4M44.3 525.14H46.4M44.3 524.12H46.4M44.3 516.98H46.4M44.3 513.46H46.4M44.3 510.96H46.4M44.3 509.02H46.4M44.3 507.44H46.4M44.3 506.1H46.4M44.3 504.94H46.4M44.3 503.92H46.4M44.3 557.18H46.4M44.3 553.66H46.4M44.3 551.16H46.4M44.3 549.22H46.4M44.3 547.64H46.4M44.3 546.3H46.4M44.3 545.14H46.4M44.3 544.12H46.4M86.91 580.4V582.4M90.31 580.4V582.4M92.72 580.4V582.4M94.59 580.4V582.4M96.12 580.4V582.4M97.41 580.4V582.4M98.53 580.4V582.4M99.52 580.4V582.4M106.71 580.4V582.4M110.11 580.4V582.4M112.52 580.4V582.4M114.39 580.4V582.4M115.92 580.4V582.4M117.21 580.4V582.4M118.33 580.4V582.4M119.32 580.4V582.4M69.08 580.4V582.4M72.11 580.4V582.4M74.26 580.4V582.4M75.92 580.4V582.4M77.28 580.4V582.4M78.44 580.4V582.4M79.43 580.4V582.4M80.31 580.4V582.4" stroke="#111" stroke-width="0.8" fill="none"/>
<path d="M43.8 563.5H46.4M43.8 564.71H46.4M43.8 565.92H46.4M43.8 567.12H46.4M43.8 568.33H46.4M43.8 569.54H46.4M43.8 570.75H46.4M43.8 571.95H46.4M43.8 573.16H46.4M43.8 574.37H46.4M43.8 575.58H46.4M43.8 576.78H46.4M43.8 577.99H46.4M43.8 579.2H46.4M50.8 580.4V583M51.62 580.4V583M52.44 580.4V583M53.26 580.4V583M54.07 580.4V583M54.89 580.4V583M55.71 580.4V583M56.53 580.4V583M57.35 580.4V583M58.17 580.4V583M58.99 580.4V583M59.81 580.4V583M60.62 580.4V583M61.44 580.4V583M62.26 580.4V583M63.08 580.4V583M63.9 580.4V583" stroke="#111" stroke-width="0.7" fill="none"/>
<text x="40.4" y="505.59" font-size="7.7" text-anchor="end" fill="#000">10<tspan font-size="5.24" dy="-3.08">5</tspan></text>
<text x="40.4" y="525.3" font-size="7.7" text-anchor="end" fill="#000">10<tspan font-size="5.24" dy="-3.08">4</tspan></text>
<text x="40.4" y="545.5" font-size="7.7" text-anchor="end" fill="#000">10<tspan font-size="5.24" dy="-3.08">3</tspan></text>
<text x="40.4" y="565.6" font-size="7.7" text-anchor="end" fill="#000">10<tspan font-size="5.24" dy="-3.08">2</tspan></text>
<text x="40.1" y="573.7" font-size="7.7" text-anchor="end" fill="#000">0</text>
<text x="40.4" y="581.7" font-size="7.7" text-anchor="end" fill="#000">-10<tspan font-size="5.24" dy="-3.08">2</tspan></text>
<text x="57.6" y="594.3" font-size="8.0" text-anchor="middle" fill="#000">0</text>
<text x="82.5" y="594.3" font-size="8.0" text-anchor="middle" fill="#000">10<tspan font-size="5.44" dy="-3.2">3</tspan></text>
<text x="102.3" y="594.3" font-size="8.0" text-anchor="middle" fill="#000">10<tspan font-size="5.44" dy="-3.2">4</tspan></text>
<text x="121.1" y="594.3" font-size="8.0" text-anchor="middle" fill="#000">10<tspan font-size="5.44" dy="-3.2">5</tspan></text>
<defs><radialGradient id="hg1"><stop offset="0" stop-color="#222" stop-opacity=".8"/><stop offset="1" stop-color="#222" stop-opacity="0"/></radialGradient></defs>
<ellipse cx="172.4" cy="542" rx="18" ry="10" fill="url(#hg1)"/>
<path d="M184.8 541.9h.7M162.4 554.3h.7M172.9 538.0h.7M186.5 534.7h.7M202.9 537.3h.7M176.0 541.5h.7M170.4 527.9h.7M196.2 523.0h.7M176.5 543.5h.7M208.4 550.1h.7M182.0 542.7h.7M179.8 540.6h.7M189.8 540.6h.7M182.0 545.3h.7M183.7 537.9h.7M185.4 528.8h.7M157.7 539.8h.7M176.4 547.1h.7M175.0 548.1h.7M192.3 538.0h.7M191.9 542.1h.7M181.5 532.9h.7M172.2 538.3h.7M197.5 542.0h.7M188.2 541.0h.7M166.1 545.2h.7M176.3 540.9h.7M199.2 534.4h.7M193.3 536.0h.7M206.9 532.7h.7M159.1 537.1h.7M162.3 542.3h.7M186.3 532.5h.7M156.0 536.2h.7M174.4 541.3h.7M215.6 538.6h.7M177.2 534.5h.7M212.0 532.7h.7M167.6 542.7h.7M170.1 545.5h.7M169.7 543.8h.7M163.5 523.0h.7M181.6 552.1h.7M157.6 539.1h.7M188.2 535.3h.7M176.4 539.0h.7M184.9 538.6h.7M209.5 536.7h.7M169.9 531.1h.7M176.1 533.9h.7M185.6 543.6h.7M220.4 529.1h.7M176.7 548.4h.7M206.3 537.2h.7M173.9 550.1h.7M179.3 542.5h.7M189.3 533.4h.7M207.9 534.0h.7M174.5 538.2h.7M168.1 541.8h.7M194.6 553.1h.7M174.7 547.2h.7M170.0 533.3h.7M193.7 553.9h.7M172.0 542.4h.7M177.6 543.3h.7M168.2 525.9h.7M160.6 548.5h.7M160.9 536.2h.7M183.8 543.9h.7M177.5 545.2h.7M188.8 542.8h.7M180.7 553.8h.7M179.4 535.1h.7M186.9 547.0h.7M162.1 544.5h.7M187.0 536.5h.7M200.4 537.2h.7M192.9 538.7h.7M192.1 548.8h.7M168.1 543.3h.7M203.5 533.3h.7M157.2 537.5h.7M217.6 544.4h.7M167.8 550.1h.7M189.9 533.8h.7M191.7 529.9h.7M187.6 535.6h.7M186.8 543.4h.7M157.9 536.7h.7M155.5 537.4h.7M161.3 541.1h.7M195.4 542.5h.7M181.9 535.1h.7M162.9 533.7h.7M160.0 529.7h.7M172.1 538.6h.7M162.7 538.1h.7M203.8 543.6h.7M169.9 534.6h.7M175.1 538.0h.7M205.8 553.9h.7M178.8 543.7h.7M156.1 546.6h.7M162.3 536.8h.7M198.2 547.0h.7M172.8 535.6h.7M194.9 546.4h.7M183.9 534.5h.7M188.4 546.1h.7M166.7 536.1h.7M167.7 543.7h.7M182.0 543.9h.7M174.8 537.3h.7M180.5 547.8h.7M177.5 545.7h.7M173.4 535.9h.7M167.8 540.7h.7M164.0 543.9h.7M187.8 540.3h.7M167.8 543.7h.7M156.3 547.2h.7M197.5 542.1h.7M199.9 534.6h.7M213.5 529.9h.7M202.0 533.7h.7M201.4 533.2h.7M170.3 545.0h.7M172.5 548.0h.7M178.7 541.5h.7M172.5 555.1h.7M183.4 541.3h.7M179.6 540.9h.7M173.4 541.8h.7M171.5 539.1h.7M176.9 543.3h.7M173.5 544.2h.7M180.1 544.3h.7M176.9 550.8h.7M166.5 545.6h.7M208.3 537.6h.7M199.5 523.8h.7M169.8 534.2h.7M169.1 545.9h.7M157.9 545.9h.7M184.9 537.8h.7M165.7 531.1h.7M161.6 534.4h.7M183.6 540.8h.7M158.5 542.9h.7M176.4 544.7h.7M174.8 539.9h.7M180.6 538.6h.7M181.2 541.8h.7M156.0 535.0h.7M193.5 539.0h.7M182.4 528.0h.7M172.7 541.8h.7M158.8 537.1h.7M157.3 548.2h.7M158.6 540.9h.7M203.9 538.8h.7M175.2 548.4h.7M177.4 546.6h.7M159.4 547.7h.7M185.5 543.2h.7M158.2 545.0h.7M168.1 541.3h.7M172.9 532.1h.7M180.1 533.7h.7M184.8 548.5h.7M174.9 546.6h.7M176.8 532.2h.7M179.8 544.7h.7M171.9 531.0h.7M196.8 531.1h.7M168.6 552.6h.7M200.3 527.6h.7M182.5 537.8h.7M174.4 545.4h.7M185.0 529.5h.7M163.9 540.7h.7M194.9 531.2h.7M207.0 525.9h.7M160.1 542.3h.7M160.1 548.6h.7M163.7 538.9h.7M169.5 550.0h.7M174.2 539.8h.7M194.5 532.3h.7M157.1 543.8h.7M171.0 544.2h.7M171.4 543.6h.7M173.7 551.3h.7M156.2 554.3h.7M207.3 534.7h.7M199.8 530.3h.7M164.6 541.8h.7M198.0 523.0h.7M158.0 535.0h.7M185.6 545.6h.7M162.7 541.2h.7M170.2 535.4h.7M188.1 542.7h.7M172.1 531.2h.7M166.5 548.7h.7M162.1 529.7h.7M183.2 542.8h.7M164.2 544.9h.7M180.5 545.7h.7M177.3 542.1h.7M158.1 546.6h.7M192.4 535.6h.7M169.9 551.3h.7M158.4 547.1h.7M205.3 535.8h.7M180.0 517.0h.7M172.0 529.5h.7M157.0 527.1h.7M166.0 539.1h.7M179.2 531.9h.7M158.4 551.5h.7M168.5 532.2h.7M166.4 550.0h.7M191.8 539.3h.7M197.0 539.4h.7M185.3 542.0h.7M179.5 529.3h.7M175.1 542.6h.7M191.8 536.7h.7M193.8 541.5h.7M183.8 531.0h.7M169.4 550.0h.7M180.5 549.7h.7M178.4 535.9h.7M188.3 546.4h.7M162.9 536.8h.7M155.8 541.5h.7M169.3 545.1h.7M180.9 553.9h.7M183.0 533.6h.7M176.0 543.7h.7M179.7 526.3h.7M173.0 536.2h.7M177.4 525.6h.7M167.4 549.8h.7M185.7 539.0h.7M157.5 533.1h.7M164.3 542.3h.7M164.9 547.0h.7M157.9 542.8h.7M185.9 530.7h.7M181.4 530.9h.7M184.0 541.7h.7M193.5 546.5h.7M158.8 553.9h.7M167.7 537.4h.7M191.7 542.8h.7M184.8 525.5h.7M179.3 541.4h.7M164.0 531.1h.7M193.4 524.1h.7M193.4 553.6h.7M195.6 542.3h.7M175.7 537.3h.7M171.8 552.2h.7M167.1 543.5h.7M196.5 541.1h.7M180.7 543.3h.7M172.7 550.1h.7M187.7 542.4h.7M171.6 546.7h.7M174.3 533.0h.7M183.1 523.7h.7M186.2 537.7h.7M170.4 538.0h.7M197.8 540.2h.7M164.4 541.5h.7M166.9 552.9h.7M168.1 539.6h.7M176.4 539.7h.7M185.7 546.8h.7M182.7 537.6h.7M185.7 543.4h.7M179.4 539.9h.7M155.9 537.9h.7M174.4 533.4h.7M205.5 526.7h.7M156.6 536.6h.7M185.4 543.6h.7M194.8 532.7h.7M173.8 545.8h.7M186.6 527.8h.7M171.6 534.4h.7M170.1 537.4h.7M167.6 546.5h.7M163.2 548.8h.7M176.7 540.9h.7M172.6 533.6h.7M193.1 539.1h.7M164.8 537.1h.7M184.0 553.7h.7M181.4 532.1h.7M162.3 533.2h.7M160.6 540.0h.7M165.4 545.8h.7M170.2 543.9h.7M178.6 534.7h.7M185.8 540.2h.7M183.3 531.1h.7M176.1 543.0h.7M157.0 548.8h.7M167.3 539.7h.7M178.2 527.0h.7M175.7 546.1h.7M184.6 554.0h.7M181.8 536.2h.7M172.0 534.8h.7M179.4 534.7h.7M157.1 536.6h.7M164.8 538.9h.7M165.4 546.5h.7M156.6 542.6h.7M159.5 543.1h.7M180.7 532.8h.7M156.3 544.9h.7M158.5 543.1h.7M171.1 541.7h.7M162.5 542.4h.7M168.0 544.0h.7M188.5 542.5h.7M173.6 540.8h.7M184.3 537.3h.7M169.4 546.7h.7M206.3 532.2h.7M201.8 534.8h.7M175.7 537.5h.7M167.8 554.4h.7M183.7 545.8h.7M157.4 546.4h.7M177.0 550.1h.7M166.3 536.0h.7M193.2 538.3h.7M188.5 542.8h.7M159.1 542.0h.7M179.0 529.3h.7M156.3 548.7h.7M176.1 540.8h.7M201.9 534.1h.7M174.8 540.6h.7M180.8 535.9h.7M171.9 554.3h.7M199.8 535.3h.7M191.8 532.0h.7M197.9 535.5h.7M164.2 546.5h.7M162.3 540.9h.7M214.1 535.3h.7M198.6 530.9h.7M189.4 531.3h.7M182.9 539.7h.7M179.1 548.2h.7M178.2 542.0h.7M159.3 532.6h.7M199.7 533.4h.7M186.3 536.3h.7M174.3 549.1h.7M181.5 540.2h.7M163.6 550.9h.7M189.0 534.0h.7M165.4 539.6h.7M199.0 532.7h.7M172.0 542.0h.7M173.6 534.1h.7M176.1 535.8h.7M190.9 531.9h.7M156.9 542.6h.7M170.4 548.0h.7M163.8 550.3h.7M182.1 542.0h.7M177.7 536.8h.7M212.9 536.1h.7M175.5 552.9h.7M157.5 555.2h.7M173.7 551.6h.7M182.1 545.8h.7M163.1 535.9h.7M173.9 543.8h.7M190.1 538.1h.7M187.5 544.3h.7M186.6 544.4h.7M179.8 550.0h.7M188.1 537.0h.7M166.7 539.9h.7M207.7 535.6h.7M178.1 540.6h.7M166.1 549.8h.7M174.3 546.2h.7M171.3 536.4h.7M169.8 547.8h.7M213.8 538.8h.7M171.1 539.6h.7M186.5 540.6h.7M182.7 544.1h.7M174.1 526.9h.7M174.7 539.5h.7M169.3 530.9h.7M165.3 539.6h.7M167.4 539.7h.7M172.6 527.6h.7M187.1 536.4h.7M176.5 547.3h.7M170.7 536.2h.7M191.7 545.7h.7M175.3 539.3h.7M160.1 540.2h.7M156.6 551.2h.7M181.1 534.0h.7M178.8 545.1h.7M184.3 538.7h.7M158.7 541.0h.7M177.9 533.4h.7M181.1 519.5h.7M190.7 545.1h.7M200.6 530.1h.7M191.2 530.8h.7M160.9 541.5h.7M167.1 541.0h.7M157.5 539.4h.7M208.7 527.5h.7M159.0 545.6h.7M186.3 533.9h.7M164.9 539.9h.7M186.0 530.5h.7M173.5 541.2h.7M159.3 553.2h.7M171.1 549.4h.7M182.9 551.1h.7M170.1 542.8h.7M163.4 542.7h.7M187.5 528.6h.7M194.7 540.8h.7M157.2 541.1h.7M188.3 541.9h.7M215.2 546.7h.7M178.5 542.2h.7M167.6 550.3h.7M163.4 553.0h.7M186.2 535.1h.7M173.5 544.2h.7M160.0 544.6h.7M194.4 543.3h.7M200.7 533.8h.7M177.4 552.4h.7M180.3 544.8h.7M161.1 536.9h.7M163.7 537.9h.7M166.5 551.5h.7M166.4 541.4h.7M187.3 536.8h.7M173.8 546.8h.7M201.3 527.1h.7M172.5 540.3h.7M173.9 543.3h.7M163.1 541.6h.7M178.4 552.5h.7M204.7 542.9h.7M196.6 554.2h.7M159.1 531.0h.7M167.2 550.9h.7M166.3 526.9h.7M166.3 542.1h.7M183.4 539.5h.7M159.4 539.2h.7M169.0 538.4h.7M186.1 543.2h.7M178.8 544.3h.7M159.8 549.1h.7M197.3 535.4h.7M209.6 543.9h.7M181.2 540.0h.7M170.9 531.8h.7M162.9 532.7h.7M162.7 552.7h.7M181.0 534.2h.7M193.3 548.7h.7M177.3 541.5h.7M163.7 535.7h.7M171.9 550.3h.7M186.8 536.2h.7M175.5 534.4h.7M174.7 532.6h.7M190.0 547.8h.7M183.9 539.2h.7M178.5 543.3h.7M182.0 539.7h.7M157.3 543.3h.7M166.1 538.3h.7M170.0 535.1h.7M175.2 543.3h.7M183.9 553.6h.7M159.6 548.5h.7M192.8 535.3h.7M172.7 545.4h.7M179.9 540.1h.7M179.6 534.6h.7M184.1 532.0h.7M170.8 553.7h.7M178.7 537.5h.7M180.2 536.3h.7M171.6 543.4h.7M155.4 541.2h.7M186.6 544.6h.7M179.4 535.3h.7M185.1 536.4h.7M182.4 540.1h.7M200.2 527.8h.7M174.8 541.7h.7M177.4 540.1h.7M185.9 550.1h.7M156.0 535.3h.7M173.9 536.5h.7M157.5 534.6h.7M196.6 525.3h.7M186.3 549.2h.7M166.8 544.4h.7M181.2 534.7h.7M169.6 552.0h.7M194.0 550.7h.7M167.2 547.6h.7M169.0 538.2h.7M202.3 535.2h.7M184.4 541.0h.7M185.3 527.5h.7M201.7 537.4h.7M193.4 550.9h.7M172.0 540.1h.7M165.1 553.2h.7M189.5 529.7h.7M165.1 554.0h.7M180.3 545.8h.7M166.6 538.7h.7M167.5 535.7h.7M190.9 549.0h.7M203.6 533.3h.7M161.7 537.3h.7M198.2 531.2h.7M168.9 542.7h.7M179.4 534.7h.7M199.2 534.9h.7M161.3 544.1h.7M173.7 530.1h.7M169.3 538.4h.7M177.5 539.9h.7M183.8 535.8h.7M159.2 531.8h.7M180.0 543.0h.7M167.7 533.0h.7M193.9 532.8h.7M164.1 538.0h.7M183.5 549.1h.7M194.3 536.9h.7M158.3 553.6h.7M170.5 553.3h.7M158.9 529.4h.7M163.3 538.5h.7M156.3 550.0h.7M183.2 538.9h.7M187.7 542.4h.7M175.0 547.8h.7M197.5 550.2h.7M200.9 546.9h.7M161.0 527.0h.7M170.0 538.7h.7M211.9 542.8h.7M158.2 539.4h.7M196.7 530.0h.7M157.4 540.9h.7M185.6 530.4h.7M159.6 547.2h.7M164.1 544.7h.7M185.9 554.4h.7M180.0 536.6h.7M187.0 546.7h.7M157.6 540.2h.7M172.0 543.4h.7M176.8 537.5h.7M159.8 546.1h.7M168.4 544.7h.7M213.7 537.0h.7M159.4 531.4h.7M200.1 527.1h.7M185.2 549.7h.7M171.9 548.0h.7M187.2 539.4h.7M174.0 540.5h.7M196.9 537.0h.7M195.5 552.3h.7M177.6 531.4h.7M181.1 535.8h.7M179.9 542.9h.7M165.5 538.6h.7M157.8 534.3h.7M175.3 526.6h.7M193.1 543.3h.7M173.8 540.8h.7M184.8 539.6h.7M157.5 542.9h.7M196.8 529.2h.7M157.3 549.2h.7M178.0 544.6h.7M174.7 538.9h.7M166.2 547.0h.7M163.3 541.4h.7M169.7 551.6h.7M156.8 542.0h.7M169.2 547.9h.7M178.2 538.5h.7M170.5 532.9h.7M166.6 541.7h.7M174.1 533.8h.7M170.2 536.7h.7M176.4 538.6h.7M171.3 544.9h.7M187.6 532.7h.7M198.9 536.7h.7M191.2 537.4h.7M181.3 535.0h.7M167.5 532.1h.7M161.2 530.6h.7M186.4 543.0h.7M171.3 546.3h.7M171.9 555.5h.7M159.2 538.7h.7M187.3 529.3h.7M168.5 537.8h.7M167.9 546.5h.7M176.3 525.9h.7M161.6 542.9h.7M170.2 550.9h.7M171.9 544.7h.7M159.4 537.5h.7M175.0 538.3h.7M157.5 541.3h.7M174.7 551.0h.7M166.5 553.4h.7M165.5 538.6h.7M159.0 530.4h.7M183.8 534.5h.7M161.0 544.8h.7M178.7 540.2h.7M156.5 553.6h.7M170.4 539.3h.7M172.4 533.4h.7M177.3 536.5h.7M156.7 541.6h.7M172.9 542.1h.7M175.6 539.2h.7M182.2 534.6h.7M189.4 541.3h.7M156.8 542.6h.7M185.6 538.6h.7M163.9 554.4h.7M177.1 544.5h.7M166.5 544.8h.7M174.0 544.5h.7M168.5 539.8h.7M181.4 548.0h.7M194.3 539.1h.7M187.0 547.8h.7M157.1 543.6h.7M204.4 536.3h.7M199.4 545.9h.7M175.9 527.9h.7M202.8 541.4h.7M173.8 544.9h.7M172.8 538.5h.7M168.6 543.1h.7M192.1 542.3h.7M183.4 525.9h.7M170.1 549.5h.7M194.5 535.5h.7M196.4 529.9h.7M173.9 543.4h.7M209.0 539.5h.7M159.9 538.6h.7M168.4 549.7h.7M177.7 527.5h.7M178.4 535.2h.7M200.1 533.6h.7M161.3 531.5h.7M183.9 541.1h.7M156.0 539.7h.7M174.5 529.9h.7M155.6 530.8h.7M191.0 529.8h.7M169.4 542.8h.7M179.1 548.6h.7M183.5 555.3h.7M156.9 550.6h.7M178.1 541.6h.7M168.1 537.1h.7M162.4 548.6h.7M166.7 548.8h.7M172.3 530.6h.7M187.9 543.9h.7M162.5 542.7h.7M157.1 541.0h.7M184.4 538.1h.7M195.7 546.8h.7M201.9 544.1h.7M168.8 540.4h.7M179.6 552.5h.7M188.6 532.4h.7M190.9 548.2h.7M174.6 541.5h.7M192.9 534.6h.7M165.9 546.8h.7M160.5 551.9h.7M194.7 536.4h.7M195.2 540.9h.7M168.2 553.3h.7M156.7 543.9h.7M192.4 546.9h.7M166.4 521.1h.7M179.9 535.3h.7M205.5 545.1h.7M172.7 529.2h.7M177.0 537.2h.7M170.8 545.2h.7M173.8 544.1h.7M184.5 542.8h.7M176.6 546.7h.7M169.0 536.9h.7M193.4 540.6h.7M204.8 537.6h.7M184.3 540.0h.7M183.0 540.3h.7M178.5 553.7h.7M183.9 545.1h.7M187.7 533.5h.7M175.5 544.3h.7M159.3 546.2h.7M164.6 544.5h.7M187.3 533.1h.7M199.0 542.6h.7M167.1 548.9h.7M157.7 529.8h.7M223.3 547.0h.7M171.8 533.0h.7M192.5 535.5h.7M177.1 538.2h.7M172.8 532.3h.7M168.2 538.9h.7M185.5 533.8h.7M162.7 536.3h.7M171.7 528.8h.7M178.9 537.7h.7M159.2 550.2h.7M175.7 532.3h.7M183.4 532.2h.7M168.3 551.1h.7M174.8 543.9h.7M176.3 529.9h.7M172.1 552.5h.7M168.6 553.2h.7M185.3 538.7h.7M189.5 549.9h.7M199.8 537.5h.7M173.7 542.7h.7M191.9 535.4h.7M197.5 535.9h.7M172.1 533.1h.7M157.2 552.1h.7M182.8 539.2h.7M181.1 536.6h.7M185.5 547.5h.7M193.1 543.4h.7M164.4 539.5h.7M159.3 538.8h.7M161.9 544.1h.7M172.4 534.0h.7M193.1 521.2h.7M158.2 541.0h.7M185.1 543.7h.7M170.9 543.7h.7M157.2 546.9h.7M197.5 548.5h.7M175.5 535.8h.7M190.9 521.8h.7M184.2 529.9h.7M167.2 542.6h.7M174.4 536.2h.7M186.2 552.0h.7M188.1 548.7h.7M173.7 545.4h.7M176.9 534.2h.7M183.6 548.8h.7M169.0 536.8h.7M185.6 528.9h.7M194.7 540.7h.7M182.5 543.9h.7M181.0 551.7h.7M165.3 546.5h.7M172.7 543.8h.7M173.9 535.5h.7M164.7 526.3h.7M194.0 548.3h.7M174.3 542.1h.7M172.0 536.5h.7M211.2 535.7h.7M184.6 538.2h.7M173.2 541.4h.7M186.9 532.4h.7M207.4 525.1h.7M173.2 541.5h.7M185.2 545.0h.7M173.3 536.6h.7M156.7 542.0h.7M166.9 540.7h.7M197.0 542.9h.7M173.2 544.4h.7M220.2 546.0h.7M200.9 538.0h.7M182.7 534.1h.7M208.4 532.4h.7M209.9 550.2h.7M180.4 540.9h.7M176.4 536.0h.7M166.3 529.7h.7M178.1 538.5h.7M179.6 533.8h.7M157.5 548.5h.7M173.2 532.8h.7M172.0 547.9h.7M177.1 548.8h.7M181.5 544.1h.7M177.0 536.6h.7M180.1 546.2h.7M199.9 547.0h.7M169.6 529.0h.7M159.1 544.5h.7M175.6 548.3h.7M183.9 544.2h.7M195.2 548.6h.7M178.6 533.7h.7M196.1 539.5h.7M158.6 555.2h.7M166.5 548.4h.7M188.5 546.2h.7M193.7 533.0h.7M186.2 540.8h.7M189.3 537.6h.7M186.7 535.1h.7M171.4 546.8h.7M188.9 532.7h.7M196.4 530.3h.7M182.1 534.0h.7M162.6 543.7h.7M176.1 543.0h.7M179.7 546.0h.7M164.5 546.6h.7M189.8 526.5h.7M157.5 541.1h.7M198.5 545.3h.7M194.4 528.7h.7M181.0 542.3h.7M176.3 551.1h.7M202.3 526.1h.7M162.7 552.6h.7M159.8 550.5h.7M190.2 529.9h.7M185.4 534.2h.7M187.9 537.6h.7M182.0 541.9h.7M170.1 536.0h.7M174.5 544.7h.7M170.2 548.9h.7M194.0 533.2h.7M189.4 542.8h.7M181.6 547.0h.7M184.5 545.3h.7M173.2 547.0h.7M190.2 531.3h.7M188.2 534.4h.7M161.9 542.9h.7M194.1 541.9h.7M166.4 539.1h.7M171.2 546.0h.7M213.2 536.8h.7M175.4 543.8h.7M170.8 544.3h.7M164.1 538.5h.7M192.3 536.4h.7M162.0 549.4h.7M163.7 546.5h.7M179.2 542.3h.7M204.4 527.1h.7M169.6 524.3h.7M161.3 546.8h.7M173.9 539.4h.7M174.9 526.9h.7M168.8 549.8h.7M159.4 545.2h.7M207.3 528.3h.7M164.6 535.0h.7M188.2 534.8h.7M162.0 544.5h.7M186.4 541.7h.7M155.5 545.6h.7M182.3 538.3h.7M170.3 535.6h.7M172.0 539.8h.7M161.9 546.9h.7M213.5 533.8h.7M165.9 538.4h.7M181.2 541.4h.7M207.6 550.4h.7M171.4 544.0h.7M159.5 554.8h.7M174.2 540.9h.7M195.7 536.8h.7M198.3 532.8h.7M182.9 540.9h.7M159.1 539.0h.7M179.8 549.9h.7M171.2 540.3h.7M164.5 529.7h.7M188.1 547.4h.7M208.0 541.5h.7M186.1 538.5h.7M192.5 529.1h.7M167.1 533.9h.7M193.0 539.5h.7M200.9 527.2h.7M182.4 545.6h.7M165.9 548.6h.7M171.9 539.2h.7M185.1 538.5h.7M176.1 539.4h.7M162.6 537.9h.7M173.1 540.5h.7M162.8 537.5h.7M190.3 540.4h.7M208.9 539.0h.7M190.2 546.5h.7M174.4 533.0h.7M183.0 547.0h.7M176.2 554.4h.7M196.6 543.4h.7M165.5 545.1h.7M179.0 527.4h.7M178.0 538.0h.7M172.5 530.4h.7M175.8 532.6h.7M156.0 543.0h.7M168.3 544.9h.7M158.4 548.3h.7M169.2 538.7h.7M164.0 546.1h.7M175.6 549.5h.7M173.8 534.0h.7M171.7 549.7h.7M188.4 541.6h.7M190.2 551.8h.7M187.1 548.8h.7M211.9 530.0h.7M163.9 539.2h.7M173.9 542.3h.7M167.7 552.0h.7M171.5 535.3h.7M173.5 536.4h.7M173.7 530.3h.7M177.3 550.6h.7M168.0 540.9h.7M158.0 543.0h.7M188.1 535.4h.7M163.4 534.5h.7M158.5 534.2h.7M157.1 554.2h.7M177.1 538.5h.7M158.5 538.9h.7M180.4 538.0h.7M179.7 537.1h.7M170.6 533.0h.7M177.5 549.5h.7M157.6 555.2h.7M181.4 535.0h.7M185.1 530.4h.7M188.1 536.3h.7M165.6 550.3h.7M172.1 528.9h.7M172.6 537.0h.7M172.1 549.5h.7M155.9 544.4h.7M170.7 545.7h.7M204.5 533.2h.7M173.6 544.8h.7M185.9 536.8h.7M186.2 533.5h.7M180.4 547.0h.7M200.9 528.6h.7M176.6 532.0h.7M190.6 543.9h.7M194.7 540.0h.7M159.8 543.2h.7M177.4 533.0h.7M183.5 538.3h.7M157.5 545.4h.7M208.1 526.6h.7M161.1 535.2h.7M167.2 548.7h.7M160.2 536.5h.7M170.8 535.0h.7M193.7 530.4h.7M185.1 533.0h.7M180.5 547.7h.7M186.5 538.8h.7M168.2 542.6h.7M165.1 554.5h.7M180.0 550.4h.7M176.8 544.5h.7M159.3 544.6h.7M160.2 535.3h.7M161.3 547.3h.7M194.3 540.8h.7M155.7 537.1h.7M173.3 546.8h.7M190.3 544.9h.7M186.7 540.9h.7M168.9 545.4h.7M175.5 533.8h.7M171.2 541.6h.7M163.2 531.0h.7M167.4 525.2h.7M188.2 543.8h.7M155.8 540.5h.7M163.6 536.4h.7M206.1 533.8h.7M158.6 542.0h.7M162.8 544.3h.7M186.2 541.9h.7M157.2 535.4h.7M178.8 538.5h.7M179.7 541.3h.7M176.3 525.5h.7M186.0 541.5h.7M180.0 534.9h.7M183.8 546.1h.7M194.2 544.2h.7M199.9 540.0h.7M165.7 547.3h.7M186.2 512.3h.7M169.7 534.5h.7M182.4 538.3h.7M185.0 536.2h.7M162.8 533.3h.7M199.5 549.7h.7M164.6 550.1h.7M179.0 545.3h.7M162.9 538.3h.7M168.5 540.9h.7M187.5 549.1h.7M163.5 550.3h.7M174.3 543.7h.7M186.2 539.6h.7M191.0 533.4h.7M165.0 534.7h.7M202.6 545.7h.7M172.8 531.0h.7M179.7 535.5h.7M183.4 534.5h.7M155.8 554.3h.7M169.8 551.2h.7M167.0 537.5h.7M186.4 533.8h.7M197.2 522.2h.7M174.0 542.8h.7M156.1 541.2h.7M175.9 528.5h.7M170.0 531.2h.7M160.4 539.7h.7M186.2 548.7h.7M173.8 535.1h.7M169.1 543.5h.7M200.5 534.8h.7M181.8 554.3h.7M187.7 541.6h.7M173.7 550.3h.7M182.7 523.4h.7M196.7 538.8h.7M159.7 540.8h.7M202.5 538.1h.7M174.0 532.8h.7M180.5 540.0h.7M180.9 541.9h.7M206.4 522.8h.7M176.9 531.4h.7M163.0 536.2h.7M178.4 530.2h.7M188.2 540.5h.7M182.3 535.8h.7M191.7 543.1h.7M189.1 539.5h.7M164.2 544.3h.7M180.8 538.2h.7M203.8 528.2h.7M158.1 542.2h.7M172.2 551.4h.7M176.5 530.4h.7M181.8 543.3h.7M158.8 546.6h.7M210.8 537.7h.7M216.1 536.6h.7M175.3 534.8h.7M202.8 545.0h.7M158.0 544.6h.7M187.6 545.5h.7M171.8 545.9h.7M180.7 530.6h.7M187.2 541.7h.7M170.5 547.8h.7M173.6 541.7h.7M172.9 539.9h.7M196.3 547.1h.7M178.9 542.6h.7M162.3 535.6h.7M166.7 542.9h.7M164.5 539.4h.7M174.1 543.4h.7M163.2 553.3h.7M183.0 540.5h.7M182.8 543.0h.7M176.6 539.5h.7M178.0 542.6h.7M190.9 548.0h.7M181.1 534.3h.7M189.0 541.8h.7M173.8 530.5h.7M173.4 547.9h.7M198.7 549.1h.7M171.6 541.9h.7M191.6 536.1h.7M157.5 539.9h.7M156.1 541.2h.7M194.2 547.7h.7M156.4 539.2h.7M166.6 551.8h.7M182.7 538.3h.7M177.8 554.1h.7M160.9 547.9h.7M166.2 554.0h.7M183.4 547.1h.7M202.3 538.5h.7M159.9 555.1h.7M192.0 543.1h.7M201.3 541.7h.7M184.4 535.4h.7M168.1 553.8h.7M166.1 546.5h.7M190.7 529.5h.7M176.1 539.0h.7M174.5 542.0h.7M162.6 539.0h.7M176.7 539.8h.7M188.4 539.6h.7M159.3 540.5h.7M191.6 547.3h.7M190.3 541.2h.7M156.2 550.8h.7M183.2 535.0h.7M159.0 542.3h.7M157.6 541.4h.7M171.8 535.4h.7M158.5 541.3h.7M176.4 545.7h.7M195.6 544.2h.7M178.8 545.7h.7M160.9 546.8h.7M197.4 546.8h.7M200.8 534.2h.7M166.6 553.4h.7M156.6 540.6h.7M166.5 546.5h.7M190.2 543.5h.7M170.9 535.7h.7M178.8 532.3h.7M184.3 535.8h.7M175.2 535.5h.7M194.0 541.6h.7M157.3 546.2h.7M185.1 540.7h.7M187.1 535.3h.7M182.7 527.4h.7M204.8 533.2h.7M188.6 532.7h.7M156.3 541.0h.7M177.4 536.3h.7M169.4 532.1h.7M193.5 529.3h.7M191.2 524.9h.7M171.2 544.4h.7M207.2 542.6h.7M187.5 527.7h.7M183.3 542.9h.7M192.0 538.4h.7M171.7 539.3h.7M197.5 527.9h.7M179.8 534.8h.7M188.5 534.5h.7M165.6 546.8h.7M162.9 522.3h.7M208.2 544.9h.7M156.0 538.5h.7M165.1 543.3h.7M203.3 530.6h.7M175.4 539.8h.7M189.2 542.8h.7M175.4 548.1h.7M166.1 537.3h.7M189.2 527.6h.7M167.4 526.0h.7M192.9 534.6h.7M158.4 543.5h.7M172.7 541.1h.7M181.1 539.6h.7M181.7 534.6h.7M194.1 531.8h.7M158.3 536.9h.7M181.2 548.7h.7M191.2 543.3h.7M166.3 547.3h.7M167.0 535.8h.7M159.9 536.2h.7M204.4 531.6h.7M166.9 534.2h.7M193.9 540.4h.7M198.1 545.7h.7M185.1 538.4h.7M164.2 546.2h.7M162.3 544.7h.7M172.0 533.6h.7M174.4 536.1h.7M193.0 540.6h.7M158.8 542.7h.7M173.9 542.2h.7M158.0 543.5h.7M180.5 555.0h.7M169.1 534.8h.7M175.1 531.3h.7M197.5 544.3h.7M168.6 545.4h.7M162.6 540.1h.7M163.0 552.5h.7M187.3 539.8h.7M158.4 542.0h.7M163.5 538.2h.7M172.3 536.4h.7M203.5 545.3h.7M158.9 535.8h.7M174.2 529.2h.7M161.2 538.3h.7M193.4 531.9h.7M165.1 542.1h.7M173.4 546.0h.7M204.7 537.8h.7M191.0 534.5h.7M165.3 546.7h.7M172.5 552.9h.7M183.2 538.1h.7M168.0 539.3h.7M173.0 553.4h.7M217.7 528.9h.7M180.4 530.9h.7M201.4 542.9h.7M169.2 525.3h.7M214.8 528.9h.7M163.0 533.7h.7M189.7 541.2h.7M196.7 533.4h.7M210.2 538.8h.7M163.5 547.8h.7M159.3 538.8h.7M163.5 542.5h.7M223.9 533.5h.7M177.5 542.7h.7M173.6 546.2h.7M192.3 546.3h.7M197.4 541.3h.7M178.5 533.4h.7M186.8 545.6h.7M174.6 528.7h.7M194.1 536.3h.7M183.1 545.5h.7M157.0 544.3h.7M191.2 539.2h.7M185.0 540.7h.7M165.4 530.7h.7M172.7 548.1h.7M185.9 536.2h.7M197.6 533.8h.7M216.3 535.3h.7M180.0 534.5h.7M194.5 535.6h.7M189.0 531.9h.7M199.9 534.8h.7M183.1 542.5h.7M174.0 542.8h.7M161.6 553.3h.7M199.2 536.3h.7M179.7 538.9h.7M193.1 531.6h.7M183.4 537.8h.7M177.7 539.7h.7M179.8 545.4h.7M164.8 544.8h.7M185.1 533.8h.7M185.9 540.0h.7M170.1 555.4h.7M177.6 541.2h.7M162.0 536.0h.7M198.0 537.0h.7M165.0 529.9h.7M200.9 528.4h.7M155.4 551.7h.7M169.6 532.3h.7M172.0 539.1h.7M202.6 524.4h.7M164.1 526.6h.7M189.4 548.3h.7M186.4 527.7h.7M159.3 548.7h.7M158.9 555.1h.7M168.0 539.9h.7M176.5 532.7h.7M156.3 532.7h.7M168.3 545.0h.7M166.3 546.9h.7M197.0 530.3h.7M177.4 544.9h.7M184.5 526.9h.7M179.0 547.5h.7M185.9 538.1h.7M158.9 542.1h.7M186.9 541.4h.7M178.4 530.9h.7M236.3 529.0h.7M209.2 541.9h.7M163.0 543.5h.7M173.3 552.3h.7M191.2 526.5h.7M193.5 530.6h.7M156.6 542.7h.7M199.3 534.7h.7M166.9 544.2h.7M189.3 543.2h.7M159.4 545.9h.7M173.8 536.5h.7M179.9 540.1h.7M185.0 553.6h.7M176.4 535.1h.7M188.4 538.1h.7M194.6 533.8h.7M179.6 542.9h.7M191.3 533.6h.7M196.1 535.7h.7M161.1 541.5h.7M172.8 553.4h.7M183.8 544.2h.7M186.9 543.0h.7M175.7 541.3h.7M194.9 548.1h.7M189.7 540.4h.7M193.1 534.6h.7M178.8 542.0h.7M189.0 544.3h.7M172.8 551.6h.7M189.7 546.1h.7M155.5 535.7h.7M167.0 541.8h.7M183.3 525.7h.7M175.9 539.2h.7M196.6 535.9h.7M196.0 542.7h.7M157.3 550.3h.7M172.5 543.0h.7M182.1 524.3h.7M188.7 536.8h.7M176.3 536.3h.7M165.6 541.8h.7M168.7 539.7h.7M179.6 549.8h.7M175.1 553.1h.7M183.0 547.8h.7M190.2 541.9h.7M156.5 552.4h.7M170.1 524.3h.7M184.5 530.1h.7M196.6 530.8h.7M161.9 529.2h.7M163.6 533.6h.7M157.8 544.5h.7M227.1 525.1h.7M178.2 535.7h.7M162.9 540.7h.7M175.6 538.6h.7M191.3 536.5h.7M170.9 544.4h.7M162.0 538.5h.7M192.3 546.7h.7M210.7 519.6h.7M176.3 547.3h.7M188.2 529.1h.7M160.3 553.7h.7M196.7 530.9h.7M188.1 535.6h.7M209.8 530.6h.7M190.2 532.6h.7M177.0 530.6h.7M181.3 537.4h.7M161.3 548.0h.7M208.7 532.5h.7M185.7 539.6h.7M177.7 539.5h.7M171.3 550.3h.7M179.9 544.0h.7M179.1 545.6h.7M201.0 532.7h.7M160.7 532.1h.7M189.6 530.8h.7M160.4 543.4h.7M185.9 543.8h.7M188.5 538.1h.7M183.7 532.8h.7M182.0 543.3h.7M175.3 533.1h.7M174.8 539.3h.7M170.7 551.1h.7M172.9 530.9h.7M167.5 543.1h.7M179.6 535.1h.7M186.0 531.8h.7M160.5 522.5h.7M165.5 541.2h.7M167.8 550.0h.7M178.3 538.5h.7M156.8 544.7h.7M210.5 536.9h.7M168.8 546.5h.7M165.3 548.4h.7M157.2 541.8h.7M173.5 536.6h.7M185.0 532.4h.7M186.4 547.9h.7M188.2 531.6h.7M171.4 553.1h.7M180.1 527.0h.7M166.4 537.0h.7M167.4 540.8h.7M162.6 545.8h.7M161.8 540.5h.7M173.0 533.7h.7M170.3 541.0h.7M172.0 544.5h.7M196.6 535.2h.7M163.3 548.3h.7M179.9 546.8h.7M159.3 542.9h.7M189.4 537.3h.7M199.7 545.1h.7M189.5 550.3h.7M168.6 544.1h.7M173.9 536.4h.7M168.5 538.0h.7M164.8 543.8h.7M173.6 545.4h.7M179.0 539.6h.7M186.5 515.7h.7M169.2 545.8h.7M157.7 542.7h.7M177.0 541.2h.7M181.1 553.9h.7M185.3 544.6h.7M189.0 536.1h.7M182.5 551.8h.7M178.8 539.3h.7M203.2 547.0h.7M163.8 535.5h.7M158.5 537.9h.7M170.9 544.3h.7M189.0 549.7h.7M195.6 531.9h.7M163.0 542.1h.7M178.9 540.2h.7M175.5 549.4h.7M158.3 539.9h.7M179.1 544.3h.7M204.7 538.2h.7M183.9 538.1h.7M165.7 537.9h.7M169.9 535.4h.7M186.7 530.3h.7M165.1 540.1h.7M183.1 536.4h.7M209.1 536.8h.7M189.8 529.6h.7M168.4 548.6h.7M201.2 554.1h.7M170.4 547.8h.7M178.4 547.2h.7M200.2 544.0h.7M185.6 528.9h.7M166.9 541.5h.7M175.2 547.4h.7M167.8 535.2h.7M198.2 545.7h.7M176.7 529.8h.7M198.1 530.9h.7M197.4 547.5h.7M170.2 532.0h.7M179.7 553.8h.7M193.7 549.0h.7M159.1 553.6h.7M191.8 527.8h.7M174.3 539.2h.7M190.1 530.3h.7M199.3 553.9h.7M208.9 539.4h.7M156.6 555.0h.7M165.7 539.4h.7M183.4 548.6h.7M169.9 542.8h.7M174.0 539.4h.7M173.4 530.7h.7M172.3 537.0h.7M160.2 534.4h.7M175.7 527.7h.7M173.6 546.6h.7M174.5 541.7h.7M177.1 541.6h.7M169.1 540.7h.7M185.1 528.9h.7M190.5 546.0h.7M158.6 535.9h.7M165.1 545.2h.7M201.4 533.9h.7M171.1 551.6h.7M185.6 530.2h.7M166.0 534.5h.7M184.0 532.4h.7M166.1 544.2h.7M173.4 547.0h.7M166.2 539.9h.7M162.7 528.7h.7M174.9 536.2h.7M171.8 547.8h.7M186.8 545.5h.7M178.9 535.4h.7M197.6 529.5h.7M201.2 537.7h.7M208.7 534.1h.7M195.9 541.5h.7M180.3 541.5h.7M158.3 535.8h.7M156.6 553.7h.7M175.1 527.7h.7M172.3 535.5h.7M189.7 547.3h.7M175.7 533.6h.7M156.8 534.0h.7M193.7 531.8h.7M186.6 550.4h.7M177.7 544.8h.7M180.2 543.7h.7M173.8 546.4h.7M179.4 541.8h.7M179.9 545.4h.7M172.5 545.9h.7M190.4 521.2h.7M184.2 532.9h.7M169.9 531.8h.7M161.9 537.3h.7M164.0 539.7h.7M161.7 532.9h.7M169.2 543.0h.7M198.1 530.6h.7M204.3 534.7h.7M190.4 550.5h.7M156.0 553.8h.7M175.2 539.6h.7M184.4 529.3h.7M189.8 536.0h.7M158.6 545.1h.7M202.0 544.4h.7M210.5 522.8h.7M175.5 535.4h.7M194.2 535.7h.7M173.1 542.2h.7M160.9 532.7h.7M157.6 548.1h.7M172.0 539.6h.7M161.5 545.3h.7M182.7 530.9h.7M161.0 544.4h.7M169.4 541.3h.7M200.3 541.4h.7M184.7 543.2h.7M184.3 533.2h.7M171.9 554.2h.7M180.3 543.8h.7M177.7 542.9h.7M167.5 547.2h.7M174.9 548.5h.7M171.9 543.8h.7M157.8 550.1h.7M182.9 529.3h.7M178.4 532.8h.7M163.8 535.3h.7M178.7 546.5h.7M170.0 540.1h.7M188.9 531.3h.7M167.9 547.2h.7M192.8 530.1h.7M181.2 536.8h.7M188.2 547.0h.7M184.0 544.0h.7M169.5 540.5h.7M158.7 535.3h.7M158.6 536.8h.7M183.1 530.9h.7M165.8 541.1h.7M192.0 523.6h.7M180.7 536.7h.7M183.2 546.4h.7M181.7 548.3h.7M164.6 540.0h.7M164.8 547.2h.7M179.8 538.8h.7M191.3 545.9h.7M191.5 538.9h.7M178.8 535.9h.7M172.8 542.7h.7M196.3 538.1h.7M186.8 530.1h.7M171.6 539.1h.7M164.2 534.9h.7M159.1 533.6h.7M172.7 554.6h.7M160.8 536.4h.7M174.7 533.4h.7M181.5 542.3h.7M161.1 555.5h.7M158.8 543.0h.7M182.2 538.7h.7M181.0 541.0h.7M163.5 545.4h.7M211.5 542.5h.7M163.7 546.5h.7M173.8 534.8h.7M158.5 547.4h.7M164.8 534.4h.7M212.2 537.2h.7M188.5 546.2h.7M162.5 539.3h.7M171.6 547.0h.7M178.5 537.6h.7M188.8 536.5h.7M207.8 543.2h.7M158.2 545.1h.7M211.8 546.5h.7M189.5 537.7h.7M166.3 536.3h.7M183.0 541.1h.7M195.4 533.9h.7M170.8 543.7h.7M188.5 535.3h.7M166.4 526.6h.7M179.1 546.7h.7M172.9 538.7h.7M177.0 550.0h.7M172.5 542.5h.7M169.6 551.1h.7M185.4 537.7h.7M164.8 527.7h.7M178.1 527.2h.7M171.8 548.2h.7M190.7 532.9h.7M176.7 547.7h.7M164.9 525.5h.7M173.5 542.0h.7M174.8 534.6h.7M193.0 533.6h.7M195.4 539.6h.7M181.8 538.9h.7M192.8 541.4h.7M198.0 550.8h.7M167.1 546.4h.7M174.9 513.2h.7M159.6 539.9h.7M158.4 542.2h.7M156.6 540.9h.7M188.3 537.0h.7M156.4 539.4h.7M160.8 545.9h.7M170.5 540.8h.7M172.5 537.5h.7M192.0 541.7h.7M175.4 548.3h.7M164.1 548.0h.7M189.2 528.8h.7M209.1 534.0h.7M177.6 527.6h.7M202.8 526.5h.7M165.1 554.0h.7M194.7 542.5h.7M200.0 539.7h.7M158.2 540.8h.7M165.8 539.2h.7M191.1 532.5h.7M177.0 535.2h.7M186.9 533.0h.7M189.3 537.7h.7M180.0 530.3h.7M180.2 546.2h.7M171.2 548.9h.7M185.6 544.9h.7M173.5 532.6h.7M181.3 545.5h.7M162.2 553.9h.7M194.7 530.7h.7M204.7 539.6h.7M179.0 543.2h.7M175.9 542.5h.7M199.6 533.6h.7M155.5 546.6h.7M196.2 543.6h.7M178.6 528.6h.7M176.9 548.6h.7M156.0 544.3h.7M170.2 544.3h.7M183.4 546.1h.7M176.7 530.7h.7M162.9 546.9h.7M168.3 539.2h.7M175.8 540.1h.7M156.9 542.4h.7M195.7 549.2h.7M192.6 545.1h.7M172.7 538.8h.7M213.0 531.5h.7M190.6 526.0h.7M161.0 528.9h.7M166.5 554.2h.7M179.2 544.8h.7M197.1 540.6h.7M172.6 546.4h.7M171.1 541.6h.7M164.4 553.9h.7M174.4 544.2h.7M165.6 541.1h.7M173.4 534.1h.7M169.6 550.7h.7M168.3 547.7h.7M164.6 538.6h.7M190.5 537.3h.7M169.8 532.9h.7M156.0 554.9h.7M178.7 542.2h.7M170.6 543.8h.7M158.0 537.5h.7M175.1 533.3h.7M177.0 531.7h.7M196.0 553.5h.7M181.9 534.4h.7M173.1 548.4h.7M173.0 545.3h.7M175.6 538.1h.7M220.5 541.8h.7M169.9 545.9h.7M178.3 529.3h.7M199.0 539.9h.7M159.3 535.8h.7M158.4 547.1h.7M185.2 519.9h.7M189.3 530.8h.7M159.7 535.9h.7M181.3 553.2h.7M182.6 543.3h.7M160.9 542.0h.7M183.4 529.7h.7M160.3 535.2h.7M161.0 544.6h.7M175.5 538.3h.7M172.7 551.8h.7M178.9 552.5h.7M166.9 529.5h.7M199.5 532.6h.7M167.6 547.1h.7M188.1 528.5h.7M182.9 550.6h.7M168.9 553.1h.7M178.4 534.9h.7M194.3 533.5h.7M217.0 525.5h.7M177.6 537.9h.7M169.3 522.8h.7M192.2 533.8h.7M170.4 528.6h.7M162.5 544.3h.7M210.0 537.1h.7M178.4 541.7h.7M157.7 544.9h.7M159.8 545.7h.7M184.0 541.1h.7M169.9 534.1h.7M174.2 535.1h.7M156.1 535.8h.7M178.3 543.7h.7M187.4 541.1h.7M160.8 547.3h.7M169.4 543.0h.7M176.0 533.6h.7M219.5 549.0h.7M174.2 541.7h.7M160.0 535.5h.7M164.8 550.0h.7M190.7 543.1h.7M170.2 526.5h.7M183.8 533.6h.7M169.7 547.3h.7M165.9 542.5h.7M182.8 538.5h.7M218.4 541.3h.7M160.9 546.3h.7M183.5 541.5h.7M158.3 553.9h.7M202.2 535.8h.7M201.2 538.9h.7M168.3 534.3h.7M162.3 541.0h.7M161.9 553.5h.7M158.3 524.9h.7M169.3 532.3h.7M171.1 550.1h.7M159.5 540.2h.7M160.0 550.7h.7M170.4 544.2h.7M163.8 550.2h.7M166.5 538.8h.7M211.8 535.8h.7M211.8 542.0h.7M170.3 551.4h.7M184.0 549.4h.7M182.6 538.0h.7M175.9 538.6h.7M174.0 540.0h.7M164.6 538.1h.7M175.3 547.4h.7M200.8 537.0h.7M172.7 529.0h.7M160.6 550.6h.7M205.6 545.3h.7M167.0 554.8h.7M165.4 548.1h.7M173.5 539.6h.7M163.4 536.3h.7M156.0 552.9h.7M184.9 548.0h.7M185.7 535.5h.7M194.3 539.3h.7M183.9 532.5h.7M178.2 536.5h.7M188.0 542.4h.7M190.3 534.9h.7M171.9 537.2h.7M170.3 532.3h.7M158.4 551.1h.7M168.3 548.7h.7M183.2 533.7h.7M191.9 549.7h.7M155.7 542.2h.7M171.4 540.1h.7M173.7 547.3h.7M157.1 549.9h.7M199.7 539.2h.7M192.8 529.6h.7M162.1 541.3h.7M158.6 546.4h.7M196.8 552.9h.7M189.6 527.4h.7M174.1 555.2h.7M158.8 540.3h.7M159.1 554.6h.7M180.9 548.7h.7M166.0 539.2h.7M161.7 550.2h.7M186.4 543.7h.7M168.5 541.6h.7M168.3 545.9h.7M169.6 542.2h.7M156.5 548.4h.7M179.6 546.6h.7M175.8 539.3h.7M177.6 536.9h.7M165.1 547.2h.7M189.8 533.1h.7M184.6 545.3h.7M178.8 539.2h.7M188.7 530.3h.7M180.1 540.4h.7M156.1 549.3h.7M188.0 541.5h.7M205.8 545.6h.7M157.6 550.2h.7M205.5 530.4h.7M160.7 546.7h.7M195.2 551.4h.7M155.4 531.9h.7M194.1 541.3h.7M179.3 532.1h.7M181.2 543.1h.7M203.4 543.5h.7M194.6 526.6h.7M174.0 538.0h.7M168.5 548.3h.7M175.1 539.1h.7M199.5 546.2h.7M181.4 534.7h.7M181.2 538.1h.7M175.3 548.7h.7M174.4 555.1h.7M167.9 529.6h.7M202.0 544.5h.7M168.9 538.8h.7M195.5 538.9h.7M181.4 537.5h.7M173.3 550.4h.7M163.7 545.4h.7M176.1 534.8h.7M185.1 530.4h.7M157.3 548.7h.7M188.6 541.1h.7M163.9 536.6h.7M167.5 549.6h.7M171.4 532.1h.7M175.6 550.5h.7M184.7 532.8h.7M199.8 536.8h.7M217.7 525.0h.7M157.5 543.2h.7M211.1 540.2h.7M172.5 535.8h.7M185.4 527.4h.7M163.6 547.6h.7M178.6 538.0h.7M192.4 527.0h.7M170.7 541.6h.7M178.1 555.0h.7M155.7 545.6h.7M157.5 540.6h.7M189.7 540.5h.7M189.0 526.3h.7M170.9 540.4h.7M199.7 541.4h.7M164.4 537.8h.7M170.6 542.6h.7M171.1 553.8h.7M175.1 542.2h.7M184.5 524.7h.7M186.1 529.3h.7M157.6 546.8h.7M181.6 536.6h.7M161.3 546.4h.7M179.9 537.1h.7M191.9 551.9h.7M204.9 533.0h.7M176.7 540.9h.7M208.4 530.0h.7M179.6 545.7h.7M158.3 545.3h.7M165.9 542.7h.7M207.0 537.8h.7M171.9 535.2h.7M183.9 540.7h.7M178.7 550.5h.7M182.4 525.2h.7M187.8 539.8h.7M160.8 555.4h.7M169.3 532.0h.7M174.4 537.9h.7M183.0 534.1h.7M190.6 554.7h.7M170.5 548.0h.7M178.8 530.9h.7M156.8 535.3h.7M166.8 539.0h.7M156.0 549.2h.7M208.4 524.4h.7M185.0 544.1h.7M173.2 538.6h.7M163.0 541.8h.7M180.4 535.3h.7M172.5 541.9h.7M195.3 539.2h.7M168.7 544.3h.7M163.1 536.1h.7M188.4 530.5h.7M160.0 541.9h.7M179.6 536.5h.7M184.9 552.5h.7M165.8 548.1h.7M165.7 532.8h.7M182.3 529.8h.7M175.1 547.1h.7M174.4 545.5h.7M200.6 538.2h.7M174.7 530.0h.7M185.5 538.0h.7M167.4 545.8h.7M159.5 533.6h.7M174.9 546.9h.7M171.8 536.0h.7M155.5 543.1h.7M191.9 534.8h.7M173.7 541.7h.7M177.0 537.7h.7M196.0 541.6h.7M219.9 535.8h.7M158.7 542.8h.7M186.1 536.9h.7M160.9 549.9h.7M177.7 535.8h.7M172.1 553.2h.7M201.9 543.2h.7M176.3 541.3h.7M172.6 535.1h.7M177.0 546.8h.7M161.2 547.2h.7M157.2 539.0h.7M164.2 549.8h.7M157.4 542.4h.7M166.2 540.9h.7M182.8 533.4h.7M156.1 539.5h.7M195.6 541.5h.7M180.2 544.1h.7M176.6 541.8h.7M170.3 549.9h.7M156.5 539.1h.7M182.8 535.3h.7M201.8 523.7h.7M210.7 545.9h.7M173.6 533.8h.7M192.4 542.5h.7M186.1 533.4h.7M156.9 547.5h.7M171.3 549.4h.7M187.5 544.4h.7M162.0 548.3h.7M177.6 534.1h.7M167.9 548.3h.7M182.8 532.1h.7M174.5 542.4h.7M184.7 547.4h.7M189.7 537.1h.7M211.3 534.9h.7M190.5 539.1h.7M187.6 541.0h.7M180.6 544.7h.7M167.8 532.7h.7M193.6 547.7h.7M193.5 542.9h.7M173.1 542.1h.7M170.4 536.1h.7M183.1 543.5h.7M198.5 529.1h.7M194.2 535.0h.7M165.4 535.7h.7M196.1 532.3h.7M181.8 542.5h.7M183.4 545.3h.7M160.3 549.1h.7M177.1 546.6h.7M155.8 542.4h.7M164.8 544.0h.7M156.4 554.5h.7M172.2 529.4h.7M201.0 535.1h.7M164.0 547.9h.7M165.5 544.6h.7M164.9 543.2h.7M171.7 538.5h.7M169.1 547.4h.7M169.2 552.3h.7M185.9 526.1h.7M189.3 530.8h.7M159.0 540.8h.7M172.6 536.9h.7M177.5 540.6h.7M199.6 540.9h.7M183.9 539.8h.7M202.8 540.3h.7M182.5 548.9h.7M160.1 540.6h.7M172.1 536.2h.7M176.9 550.2h.7M172.2 543.3h.7M169.3 538.2h.7M170.5 550.0h.7M165.4 548.0h.7M179.4 542.9h.7M184.0 533.9h.7M165.5 543.6h.7M168.7 545.5h.7M170.3 541.1h.7M158.1 544.7h.7M161.9 543.5h.7M211.7 541.2h.7M174.4 544.4h.7M158.9 542.3h.7M183.5 534.3h.7M157.4 541.0h.7M188.3 532.9h.7M159.6 540.1h.7M198.7 546.0h.7M179.6 533.1h.7M166.1 539.2h.7M181.5 539.6h.7M171.1 549.3h.7M187.9 550.0h.7M201.5 531.6h.7M165.7 540.7h.7M175.3 530.2h.7M174.3 542.4h.7M158.8 540.9h.7M187.2 539.4h.7M183.7 522.5h.7M175.7 540.7h.7M179.5 538.5h.7M186.0 543.1h.7M162.8 540.8h.7M171.7 542.7h.7M185.5 539.1h.7M195.7 533.7h.7M202.3 530.8h.7M172.3 543.9h.7M182.1 552.5h.7M182.1 546.9h.7M159.3 540.1h.7M186.3 544.1h.7M165.7 547.3h.7M201.0 533.3h.7M177.9 540.7h.7M165.6 546.3h.7M176.2 528.2h.7M177.1 538.5h.7M167.7 535.0h.7M163.9 535.3h.7M178.0 538.5h.7M176.7 548.4h.7M176.2 549.2h.7M169.7 548.6h.7M192.2 547.1h.7M201.2 537.9h.7M184.8 528.4h.7M187.5 534.7h.7M196.2 533.5h.7M182.2 539.8h.7M160.7 543.9h.7M175.7 543.2h.7M167.0 536.9h.7M155.5 541.5h.7M175.8 538.0h.7M183.9 540.8h.7M171.3 541.8h.7M160.4 543.1h.7M178.0 549.4h.7M216.0 530.1h.7M190.2 543.1h.7M183.5 545.8h.7M171.4 539.6h.7M167.5 539.2h.7M202.6 546.2h.7M163.9 544.7h.7M161.8 541.2h.7M178.9 536.9h.7M165.8 550.2h.7M168.9 538.3h.7M165.0 555.1h.7M157.4 533.8h.7M175.8 537.4h.7M196.4 544.2h.7M194.9 547.0h.7M172.7 526.3h.7M158.5 535.0h.7M203.4 538.3h.7M174.1 540.2h.7M161.8 537.7h.7M194.2 529.8h.7M169.6 541.7h.7M175.6 544.4h.7M171.3 534.9h.7M171.5 541.6h.7M198.3 534.7h.7M157.7 532.5h.7M162.8 530.6h.7M158.6 550.5h.7M180.2 534.4h.7M184.4 532.8h.7M172.5 545.2h.7M195.1 544.8h.7M167.2 547.9h.7M212.9 536.4h.7M166.4 537.1h.7M183.2 529.1h.7M197.9 535.8h.7M194.7 547.6h.7M162.9 543.3h.7M177.2 530.7h.7M181.2 539.5h.7M177.0 544.0h.7M185.2 546.4h.7M177.6 537.8h.7M229.1 536.8h.7M184.3 546.0h.7M157.0 547.8h.7M177.2 549.2h.7M194.6 540.8h.7M177.6 541.0h.7M203.2 540.4h.7M161.8 543.7h.7M168.7 541.1h.7M178.3 541.6h.7M166.8 538.5h.7M189.0 542.9h.7M177.3 534.4h.7M195.1 537.4h.7M178.1 543.2h.7M157.8 553.8h.7M189.1 533.5h.7M182.5 536.0h.7M183.9 547.5h.7M195.8 536.2h.7M168.6 553.1h.7M184.1 554.6h.7M191.4 547.1h.7M169.3 544.2h.7M192.6 541.5h.7M175.4 537.1h.7M171.7 543.4h.7M175.3 543.0h.7M174.9 548.1h.7M155.4 540.2h.7M159.6 543.9h.7M164.0 538.5h.7M196.8 541.2h.7M162.4 544.1h.7M201.6 537.9h.7M158.3 553.7h.7M166.4 540.3h.7M166.7 535.3h.7M175.4 544.8h.7M176.8 538.6h.7M175.7 548.4h.7M188.5 542.8h.7M169.2 546.2h.7M180.5 546.5h.7M194.7 540.5h.7M176.7 537.1h.7M170.6 537.9h.7M165.6 533.3h.7M192.8 545.0h.7M170.5 538.2h.7M165.7 539.0h.7M196.2 534.8h.7M195.9 544.1h.7M164.7 548.6h.7M181.1 540.5h.7M188.5 531.5h.7M173.6 532.8h.7M182.1 531.0h.7M155.8 544.7h.7M196.3 536.1h.7M185.0 541.9h.7M196.4 535.5h.7M172.6 539.5h.7M188.3 527.2h.7M175.1 536.7h.7M156.6 544.3h.7M228.0 517.4h.7M198.5 542.4h.7M158.4 539.3h.7M195.6 546.8h.7M199.9 533.8h.7M183.0 553.8h.7M185.6 536.8h.7M182.2 524.7h.7M174.5 543.5h.7M193.2 543.4h.7M165.6 545.6h.7M174.3 550.5h.7M203.2 539.2h.7M199.7 529.5h.7M205.7 542.9h.7M203.5 532.9h.7M204.2 534.0h.7M166.4 546.8h.7M193.1 546.7h.7M172.6 539.9h.7M158.8 553.8h.7M178.4 533.0h.7M158.1 543.6h.7M180.3 548.1h.7M172.9 548.5h.7M201.6 535.9h.7M164.9 541.1h.7M178.3 531.7h.7M181.5 542.8h.7M158.7 534.5h.7M194.8 527.4h.7M169.3 548.0h.7M169.9 538.5h.7M180.9 523.3h.7M175.4 538.2h.7M213.3 540.6h.7M183.0 536.1h.7M171.3 534.0h.7M166.4 554.1h.7M159.7 549.8h.7M159.5 552.2h.7M213.6 536.3h.7M185.2 533.0h.7M170.9 535.2h.7M177.5 540.2h.7M194.7 529.5h.7M170.2 539.3h.7M191.8 545.6h.7M166.3 553.4h.7M181.6 538.0h.7M178.1 533.6h.7M169.1 536.2h.7M165.3 542.1h.7M165.3 534.1h.7M191.0 538.9h.7M165.6 537.7h.7M171.8 535.6h.7M161.4 537.1h.7M184.1 535.6h.7M157.1 544.0h.7M182.7 537.6h.7M186.8 542.1h.7M178.6 548.4h.7M170.2 541.1h.7M157.3 552.5h.7M185.9 544.2h.7M171.3 541.1h.7M170.9 540.7h.7M177.6 530.9h.7M168.3 547.1h.7M183.7 544.2h.7M176.4 529.5h.7M188.1 536.2h.7M194.9 529.1h.7M169.5 545.8h.7M181.7 555.4h.7M188.3 543.5h.7M197.4 539.2h.7M168.3 535.8h.7M173.7 530.9h.7M178.3 546.0h.7M157.1 523.9h.7M198.4 539.2h.7M201.3 541.0h.7M175.2 538.5h.7M166.6 545.8h.7M185.6 553.9h.7M156.8 543.6h.7M156.1 549.2h.7M176.7 527.9h.7M180.9 538.1h.7M172.8 526.7h.7M171.2 551.6h.7M180.5 531.7h.7M157.4 538.7h.7M178.6 537.6h.7M198.1 539.4h.7M181.8 553.0h.7M180.6 542.0h.7M199.7 534.1h.7M193.8 549.6h.7M170.9 537.7h.7M179.3 542.6h.7M171.8 536.6h.7M166.9 542.8h.7M180.7 534.4h.7M162.0 535.2h.7M167.9 555.2h.7M170.5 536.6h.7M191.3 525.2h.7M169.8 539.2h.7M181.2 553.7h.7M167.0 540.4h.7M165.2 552.9h.7M188.2 543.2h.7M195.4 524.0h.7M190.5 537.4h.7M174.2 528.1h.7M178.0 537.2h.7M184.4 542.4h.7M190.0 543.8h.7M165.4 545.6h.7M183.4 539.0h.7M196.6 542.1h.7M167.8 554.8h.7M169.4 535.2h.7M205.8 521.3h.7M188.9 542.4h.7M158.7 553.8h.7M180.4 540.7h.7M173.3 536.9h.7M163.7 548.9h.7M157.8 543.4h.7M185.2 538.0h.7M212.9 533.9h.7M175.6 530.8h.7M164.9 538.0h.7M181.2 542.8h.7M173.9 540.4h.7M171.4 539.8h.7M186.3 545.9h.7M187.1 537.1h.7" stroke="#222" stroke-width=".75" stroke-opacity="0.55" fill="none"/>
<path d="M174.2 535.0h.7M195.9 517.9h.7M188.3 554.1h.7M196.0 520.7h.7M206.5 530.1h.7M181.5 548.0h.7M176.3 531.6h.7M173.4 555.5h.7M194.0 527.3h.7M217.1 533.0h.7M206.1 535.1h.7M192.7 540.2h.7M199.2 537.3h.7M199.7 531.4h.7M199.4 537.3h.7M211.2 526.3h.7M212.9 511.2h.7M182.4 538.0h.7M188.0 540.9h.7M166.2 528.3h.7M172.9 539.2h.7M216.6 520.7h.7M188.0 527.1h.7M207.5 537.7h.7M205.5 525.8h.7M191.8 529.8h.7M187.9 533.6h.7M202.1 518.6h.7M217.0 532.5h.7M224.7 541.3h.7M199.7 538.4h.7M211.5 524.7h.7M212.0 532.6h.7M200.4 529.7h.7M196.6 527.8h.7M183.3 540.6h.7M209.5 535.3h.7M177.1 537.1h.7M188.1 535.3h.7M187.3 532.4h.7M201.6 531.7h.7M197.4 531.2h.7M184.4 534.2h.7M175.7 542.3h.7M196.8 534.2h.7M211.6 523.8h.7M213.6 539.7h.7M201.4 526.3h.7M202.4 530.3h.7M186.4 538.7h.7M201.7 527.4h.7M183.1 542.6h.7M193.8 530.4h.7M204.2 521.3h.7M171.4 540.5h.7M201.0 531.4h.7M212.9 529.3h.7M200.6 521.6h.7M219.6 527.1h.7M196.7 539.7h.7M187.7 540.6h.7M198.7 545.2h.7M182.3 537.6h.7M196.9 530.1h.7M182.3 541.1h.7M174.8 528.1h.7M195.8 534.9h.7M185.5 532.6h.7M180.4 543.5h.7M201.0 549.2h.7M187.3 542.7h.7M192.0 535.1h.7M206.5 538.9h.7M198.4 525.0h.7M176.4 527.6h.7M204.5 525.9h.7M195.2 536.3h.7M196.1 530.4h.7M189.4 537.3h.7M196.1 525.5h.7M210.5 539.7h.7M207.4 537.1h.7M190.9 550.2h.7M188.6 533.0h.7M188.6 544.6h.7M202.8 526.8h.7M196.5 531.7h.7M214.1 541.7h.7M193.6 537.5h.7M200.9 542.7h.7M207.9 537.2h.7M201.9 533.8h.7M188.9 542.4h.7M216.0 548.2h.7M194.9 540.9h.7M191.4 537.2h.7M187.8 537.6h.7M188.6 536.7h.7M207.6 525.3h.7M190.4 531.3h.7M206.4 534.8h.7M195.8 535.1h.7M209.2 550.6h.7M193.9 540.8h.7M200.7 527.7h.7M180.3 534.6h.7M192.1 535.9h.7M191.4 528.9h.7M219.7 512.9h.7M177.3 551.0h.7M204.7 531.8h.7M188.4 554.7h.7M203.0 529.3h.7M203.2 550.3h.7M204.2 536.2h.7M201.8 540.1h.7M189.1 537.8h.7M208.3 554.3h.7M185.0 538.8h.7M215.7 531.0h.7M188.9 536.9h.7M194.9 527.5h.7M202.7 531.3h.7M175.1 532.3h.7M170.2 525.5h.7M218.2 529.7h.7M225.3 538.3h.7M183.0 537.5h.7M195.4 536.8h.7M199.2 539.9h.7M196.5 550.1h.7M203.6 538.5h.7M190.1 533.8h.7M196.7 534.1h.7M188.3 537.8h.7M215.7 535.6h.7M180.6 535.9h.7M190.0 543.5h.7M199.2 535.6h.7M175.1 540.0h.7M195.7 545.4h.7M182.4 537.4h.7M199.7 545.1h.7M187.9 544.3h.7M200.9 522.8h.7M202.5 519.5h.7M189.1 533.1h.7M207.4 525.2h.7M198.8 531.4h.7M185.3 528.0h.7M208.7 521.0h.7M203.0 523.7h.7M216.1 525.6h.7M215.8 550.9h.7M194.8 541.2h.7M187.9 551.3h.7M183.0 530.5h.7M196.3 545.6h.7M207.4 522.1h.7M172.8 542.5h.7M195.1 539.1h.7M196.7 531.5h.7M221.9 531.8h.7M192.2 535.6h.7M192.6 540.2h.7M181.8 536.5h.7M198.1 533.4h.7M176.3 534.2h.7M212.2 544.6h.7M213.8 526.8h.7M191.8 519.2h.7M210.6 532.2h.7M195.6 539.8h.7M179.9 547.6h.7M214.4 529.1h.7M180.8 529.8h.7M201.3 534.9h.7M222.1 531.0h.7M201.2 529.3h.7M201.7 530.0h.7M183.1 542.9h.7M213.4 530.7h.7M233.5 530.8h.7M218.9 516.1h.7M200.7 534.0h.7M202.8 537.6h.7M186.6 536.6h.7M210.7 540.0h.7M209.5 528.4h.7M195.5 552.3h.7M191.1 525.6h.7M214.2 538.7h.7M215.9 533.2h.7M209.6 518.8h.7M195.9 533.6h.7M196.0 527.7h.7M213.9 537.4h.7M174.1 534.5h.7M196.3 533.9h.7M188.6 534.5h.7M192.9 538.2h.7M196.1 544.5h.7M157.2 535.6h.7M205.3 541.4h.7M208.8 544.2h.7M179.1 531.1h.7M189.6 526.2h.7M187.4 527.9h.7M190.2 543.9h.7M181.2 536.8h.7M202.1 542.5h.7M202.0 541.8h.7M196.4 530.8h.7M166.6 546.1h.7M218.6 532.2h.7M196.4 531.7h.7M223.7 549.9h.7M196.0 525.4h.7M191.3 533.8h.7M209.8 525.3h.7M165.5 537.9h.7M178.6 551.3h.7M223.9 536.3h.7M194.8 536.2h.7M200.2 525.3h.7M181.3 534.1h.7M220.5 545.5h.7M167.2 531.8h.7M220.6 530.5h.7M182.8 529.6h.7M208.1 544.0h.7M185.9 537.3h.7M196.2 538.4h.7M159.9 541.0h.7M214.4 524.6h.7M194.3 542.4h.7M194.8 528.8h.7M197.3 529.9h.7M191.3 544.3h.7M206.2 536.7h.7M181.2 537.1h.7M192.4 541.2h.7M209.8 532.5h.7M209.0 531.1h.7M208.5 527.3h.7M192.0 540.6h.7M202.8 536.3h.7M161.6 542.2h.7M203.2 531.8h.7M205.3 524.1h.7M209.1 525.8h.7M194.1 527.2h.7M183.2 537.7h.7M200.8 529.5h.7M197.5 523.7h.7M214.4 527.7h.7M210.3 545.8h.7M198.4 533.0h.7M209.3 548.2h.7M185.0 545.8h.7M227.3 530.2h.7M180.5 535.2h.7M198.9 531.8h.7M198.9 534.0h.7M181.5 538.4h.7M183.3 542.8h.7M166.0 535.5h.7M208.3 533.8h.7M191.3 553.1h.7M204.8 536.1h.7M220.7 528.4h.7M201.4 515.6h.7M191.9 538.7h.7M182.4 545.8h.7M212.4 533.6h.7M188.2 527.6h.7M215.7 552.6h.7M201.3 542.7h.7M218.9 530.8h.7M215.3 524.2h.7M188.3 552.5h.7M185.7 545.2h.7M170.1 528.4h.7M211.2 528.7h.7M181.1 530.1h.7M179.2 540.4h.7M192.5 526.3h.7M168.1 524.7h.7M198.3 527.5h.7M202.5 524.1h.7M200.3 524.1h.7M184.5 550.6h.7M205.9 533.0h.7M202.5 527.3h.7M176.1 550.6h.7M220.2 541.0h.7M216.1 522.7h.7M206.5 535.9h.7M204.2 536.9h.7M188.5 540.5h.7M184.0 533.7h.7M199.7 521.4h.7M185.0 536.0h.7M210.2 549.1h.7M208.6 532.6h.7M187.2 536.2h.7M199.1 540.4h.7M184.8 526.3h.7M187.9 535.9h.7M213.7 531.2h.7M198.8 538.7h.7M194.5 536.5h.7M193.6 536.6h.7M191.1 545.9h.7M223.1 554.8h.7M207.9 526.3h.7M188.6 534.4h.7M192.4 530.6h.7M231.5 516.5h.7M204.1 542.1h.7M201.0 538.2h.7M209.5 534.0h.7M197.4 530.1h.7M191.8 524.1h.7M168.5 541.2h.7M215.0 525.3h.7M167.3 542.6h.7M199.8 529.8h.7M184.2 531.5h.7M199.1 538.0h.7M188.0 536.2h.7M191.0 535.4h.7M201.3 539.5h.7M203.2 542.3h.7M199.7 531.2h.7M210.9 539.1h.7M205.5 530.5h.7M227.5 516.0h.7M201.6 534.6h.7M179.4 539.1h.7M203.4 528.4h.7M201.4 535.9h.7M204.4 527.0h.7M202.1 525.0h.7M199.5 518.2h.7M216.5 513.8h.7M159.4 546.5h.7M184.5 540.3h.7M196.1 525.2h.7M193.4 549.4h.7M187.4 545.0h.7M182.9 549.2h.7M187.1 541.0h.7M196.2 522.3h.7M198.4 537.6h.7M193.1 538.2h.7M203.3 535.1h.7M210.7 527.9h.7M192.8 532.7h.7M187.1 527.5h.7M217.3 526.1h.7M189.7 547.9h.7M193.2 535.6h.7M199.7 528.2h.7M201.5 528.7h.7M203.4 533.3h.7M205.2 544.6h.7M226.3 514.1h.7M202.3 534.1h.7M207.3 535.3h.7M197.8 530.7h.7M191.4 541.9h.7M193.7 527.4h.7M202.7 530.9h.7M191.8 522.1h.7M193.7 538.2h.7M174.8 544.0h.7M208.7 533.4h.7M205.2 538.2h.7M208.2 537.4h.7M208.8 529.2h.7M196.1 537.2h.7M194.3 539.8h.7M211.5 535.0h.7M182.0 546.9h.7M199.8 525.4h.7M199.1 537.2h.7M207.5 537.4h.7M201.5 543.1h.7M196.8 528.4h.7M186.3 534.9h.7M182.8 542.6h.7M204.2 518.8h.7M191.1 537.6h.7M177.5 543.6h.7M198.3 529.6h.7M189.5 543.3h.7M216.5 535.2h.7M226.3 544.8h.7M222.9 520.4h.7M184.6 547.9h.7M179.3 532.9h.7M205.2 533.2h.7M188.4 533.5h.7M184.8 538.9h.7M191.6 537.2h.7M217.0 534.8h.7M177.3 539.0h.7M202.7 526.1h.7M211.2 529.4h.7M203.5 533.5h.7M187.3 544.8h.7M184.1 552.2h.7M194.6 520.1h.7M205.9 535.6h.7M212.5 528.4h.7M205.6 529.6h.7M208.8 509.6h.7M181.0 528.3h.7M189.6 534.1h.7M228.5 535.0h.7M198.4 537.0h.7M182.6 542.2h.7M209.8 535.7h.7M205.4 525.6h.7M203.2 519.2h.7M200.0 546.1h.7M200.8 533.9h.7M200.4 531.4h.7M211.0 532.6h.7M199.4 544.6h.7M198.1 541.6h.7M190.1 541.5h.7M191.7 524.6h.7M199.8 515.4h.7M210.8 538.5h.7M184.0 543.4h.7M192.8 538.3h.7M200.9 537.0h.7M209.3 531.1h.7M182.7 545.5h.7M174.9 536.4h.7M182.4 542.8h.7M173.3 529.3h.7M191.5 543.1h.7M180.0 551.6h.7" stroke="#222" stroke-width=".75" stroke-opacity="0.55" fill="none"/>
<path d="M187.4 580.4 L212.6 496.3 L235.6 496.3 L235.6 579.8" stroke="#555" stroke-width="0.8" fill="none"/>
<rect x="154.4" y="494.6" width="82.5" height="85.8" fill="none" stroke="#111" stroke-width="1.25"/>
<path d="M150.7 543.2H154.4M150.7 523H154.4M150.7 503.2H154.4M189.1 580.4V583.9M208.9 580.4V583.9M227.7 580.4V583.9" stroke="#111" stroke-width="1.2" fill="none"/>
<path d="M152.3 537.18H154.4M152.3 533.66H154.4M152.3 531.16H154.4M152.3 529.22H154.4M152.3 527.64H154.4M152.3 526.3H154.4M152.3 525.14H154.4M152.3 524.12H154.4M152.3 516.98H154.4M152.3 513.46H154.4M152.3 510.96H154.4M152.3 509.02H154.4M152.3 507.44H154.4M152.3 506.1H154.4M152.3 504.94H154.4M152.3 503.92H154.4M152.3 557.18H154.4M152.3 553.66H154.4M152.3 551.16H154.4M152.3 549.22H154.4M152.3 547.64H154.4M152.3 546.3H154.4M152.3 545.14H154.4M152.3 544.12H154.4M194.91 580.4V582.4M198.31 580.4V582.4M200.72 580.4V582.4M202.59 580.4V582.4M204.12 580.4V582.4M205.41 580.4V582.4M206.53 580.4V582.4M207.52 580.4V582.4M214.71 580.4V582.4M218.11 580.4V582.4M220.52 580.4V582.4M222.39 580.4V582.4M223.92 580.4V582.4M225.21 580.4V582.4M226.33 580.4V582.4M227.32 580.4V582.4M177.08 580.4V582.4M180.11 580.4V582.4M182.26 580.4V582.4M183.92 580.4V582.4M185.28 580.4V582.4M186.44 580.4V582.4M187.43 580.4V582.4M188.31 580.4V582.4" stroke="#111" stroke-width="0.8" fill="none"/>
<path d="M151.8 563.5H154.4M151.8 564.71H154.4M151.8 565.92H154.4M151.8 567.12H154.4M151.8 568.33H154.4M151.8 569.54H154.4M151.8 570.75H154.4M151.8 571.95H154.4M151.8 573.16H154.4M151.8 574.37H154.4M151.8 575.58H154.4M151.8 576.78H154.4M151.8 577.99H154.4M151.8 579.2H154.4M158.8 580.4V583M159.62 580.4V583M160.44 580.4V583M161.26 580.4V583M162.08 580.4V583M162.89 580.4V583M163.71 580.4V583M164.53 580.4V583M165.35 580.4V583M166.17 580.4V583M166.99 580.4V583M167.81 580.4V583M168.62 580.4V583M169.44 580.4V583M170.26 580.4V583M171.08 580.4V583M171.9 580.4V583" stroke="#111" stroke-width="0.7" fill="none"/>
<text x="148.4" y="505.59" font-size="7.7" text-anchor="end" fill="#000">10<tspan font-size="5.24" dy="-3.08">5</tspan></text>
<text x="148.4" y="525.3" font-size="7.7" text-anchor="end" fill="#000">10<tspan font-size="5.24" dy="-3.08">4</tspan></text>
<text x="148.4" y="545.5" font-size="7.7" text-anchor="end" fill="#000">10<tspan font-size="5.24" dy="-3.08">3</tspan></text>
<text x="148.4" y="565.6" font-size="7.7" text-anchor="end" fill="#000">10<tspan font-size="5.24" dy="-3.08">2</tspan></text>
<text x="148.1" y="573.7" font-size="7.7" text-anchor="end" fill="#000">0</text>
<text x="148.4" y="581.7" font-size="7.7" text-anchor="end" fill="#000">-10<tspan font-size="5.24" dy="-3.08">2</tspan></text>
<text x="165.6" y="594.3" font-size="8.0" text-anchor="middle" fill="#000">0</text>
<text x="190.5" y="594.3" font-size="8.0" text-anchor="middle" fill="#000">10<tspan font-size="5.44" dy="-3.2">3</tspan></text>
<text x="210.3" y="594.3" font-size="8.0" text-anchor="middle" fill="#000">10<tspan font-size="5.44" dy="-3.2">4</tspan></text>
<text x="229.1" y="594.3" font-size="8.0" text-anchor="middle" fill="#000">10<tspan font-size="5.44" dy="-3.2">5</tspan></text>
<defs><radialGradient id="hg2"><stop offset="0" stop-color="#222" stop-opacity=".8"/><stop offset="1" stop-color="#222" stop-opacity="0"/></radialGradient></defs>
<ellipse cx="290" cy="543" rx="30" ry="10" fill="url(#hg2)"/>
<ellipse cx="308" cy="541" rx="10" ry="8" fill="url(#hg2)"/>
<path d="M266.4 539.6h.7M298.6 536.5h.7M267.7 531.9h.7M302.8 538.9h.7M276.0 535.4h.7M270.6 542.2h.7M318.7 536.8h.7M286.6 548.0h.7M285.4 542.5h.7M266.5 536.8h.7M265.2 550.4h.7M287.8 539.2h.7M289.0 546.8h.7M318.5 533.2h.7M304.6 545.3h.7M292.7 547.4h.7M316.4 540.6h.7M285.3 548.9h.7M295.8 544.8h.7M331.7 542.1h.7M291.6 533.2h.7M300.1 544.2h.7M304.7 545.2h.7M307.0 542.9h.7M295.8 546.0h.7M279.4 536.6h.7M273.4 544.4h.7M312.7 543.9h.7M266.7 552.0h.7M323.1 548.8h.7M316.9 541.1h.7M275.7 545.2h.7M315.8 533.5h.7M304.1 548.0h.7M288.0 541.1h.7M315.1 545.2h.7M289.1 534.6h.7M271.0 547.3h.7M289.3 553.1h.7M288.0 542.4h.7M263.2 551.5h.7M287.7 545.2h.7M304.5 551.1h.7M280.2 538.9h.7M267.9 535.6h.7M328.9 536.7h.7M266.5 549.4h.7M292.1 532.9h.7M269.4 535.8h.7M293.2 544.9h.7M288.6 551.2h.7M280.1 540.8h.7M310.4 555.3h.7M322.8 534.6h.7M291.0 541.3h.7M311.2 538.0h.7M323.8 533.5h.7M295.7 543.2h.7M326.5 541.1h.7M295.7 537.0h.7M306.5 545.2h.7M302.0 530.6h.7M327.2 526.2h.7M293.1 528.9h.7M294.3 541.9h.7M310.0 533.5h.7M287.1 545.5h.7M283.0 548.1h.7M270.1 543.7h.7M294.4 544.5h.7M295.0 545.2h.7M308.7 545.0h.7M316.5 549.3h.7M270.7 541.4h.7M282.6 538.8h.7M300.0 541.8h.7M282.1 548.2h.7M291.7 547.9h.7M293.3 541.1h.7M273.3 545.4h.7M285.6 553.2h.7M292.9 543.9h.7M321.8 554.6h.7M331.4 551.5h.7M294.1 540.0h.7M294.8 554.0h.7M297.7 539.7h.7M282.8 539.5h.7M304.9 554.6h.7M286.6 527.5h.7M281.8 539.1h.7M267.9 529.0h.7M298.8 534.5h.7M284.6 544.4h.7M293.4 537.9h.7M293.0 543.7h.7M302.1 547.1h.7M279.7 543.5h.7M308.0 547.1h.7M328.8 530.7h.7M284.0 541.3h.7M336.0 523.6h.7M311.8 535.6h.7M272.3 549.5h.7M308.2 519.5h.7M268.2 544.0h.7M282.7 550.6h.7M276.3 541.6h.7M293.3 547.1h.7M278.7 554.7h.7M313.4 526.5h.7M317.7 531.5h.7M299.4 548.5h.7M298.7 536.9h.7M264.4 536.0h.7M295.7 542.9h.7M281.8 550.6h.7M284.9 555.0h.7M275.6 535.4h.7M300.3 536.0h.7M281.1 537.6h.7M289.6 545.5h.7M302.3 527.0h.7M323.2 541.9h.7M311.2 543.4h.7M274.5 554.4h.7M273.3 542.9h.7M291.6 547.1h.7M295.1 542.2h.7M264.0 540.7h.7M300.1 541.2h.7M275.6 545.7h.7M313.9 553.7h.7M300.5 544.6h.7M299.1 535.3h.7M286.7 547.8h.7M279.8 551.0h.7M281.9 551.2h.7M314.8 543.7h.7M276.8 540.0h.7M322.9 528.2h.7M280.7 536.9h.7M306.1 549.3h.7M289.1 546.2h.7M278.9 542.0h.7M270.4 534.6h.7M320.2 540.7h.7M298.5 547.3h.7M283.3 525.1h.7M278.9 553.5h.7M264.8 555.1h.7M287.8 539.8h.7M266.1 540.0h.7M272.8 541.2h.7M272.2 536.2h.7M267.8 536.7h.7M290.6 526.0h.7M264.5 534.4h.7M298.2 535.4h.7M311.5 528.2h.7M327.0 530.5h.7M283.7 535.0h.7M285.2 552.0h.7M306.7 536.9h.7M300.3 552.6h.7M303.4 538.7h.7M298.3 544.1h.7M293.6 539.8h.7M298.4 549.9h.7M293.2 533.9h.7M284.8 536.5h.7M274.6 549.0h.7M305.4 541.1h.7M274.7 551.3h.7M296.9 546.5h.7M321.0 539.4h.7M266.3 550.4h.7M266.2 540.4h.7M309.4 544.9h.7M280.0 546.1h.7M264.5 554.7h.7M293.7 545.2h.7M285.8 546.0h.7M335.7 541.2h.7M287.6 541.8h.7M279.9 542.0h.7M311.9 539.7h.7M296.7 533.8h.7M309.7 544.1h.7M304.8 530.0h.7M282.0 522.6h.7M269.2 550.9h.7M310.9 526.5h.7M319.9 529.9h.7M281.5 548.4h.7M284.6 540.2h.7M285.1 548.6h.7M295.5 546.0h.7M282.1 537.9h.7M325.5 544.0h.7M305.4 539.4h.7M288.7 539.6h.7M294.2 545.9h.7M275.9 536.3h.7M304.8 532.0h.7M293.4 527.9h.7M279.6 540.4h.7M312.6 552.1h.7M304.3 532.2h.7M326.7 535.9h.7M281.5 545.3h.7M293.7 541.4h.7M313.7 540.8h.7M326.7 532.0h.7M295.9 539.5h.7M301.4 552.7h.7M275.7 545.3h.7M295.7 541.4h.7M279.2 529.2h.7M288.4 551.0h.7M302.6 540.8h.7M310.4 550.7h.7M291.9 536.7h.7M326.8 538.8h.7M333.0 554.5h.7M308.9 535.5h.7M326.4 541.8h.7M263.6 538.2h.7M312.1 544.4h.7M303.5 530.8h.7M300.3 546.9h.7M270.7 545.6h.7M338.5 537.7h.7M319.7 540.2h.7M318.0 550.6h.7M331.3 530.6h.7M295.6 543.9h.7M295.2 534.2h.7M295.7 534.4h.7M264.0 549.7h.7M276.1 549.0h.7M268.0 549.8h.7M312.1 543.9h.7M265.4 538.8h.7M307.7 537.1h.7M322.2 537.3h.7M272.9 549.2h.7M273.1 550.9h.7M334.2 541.3h.7M290.1 542.9h.7M307.6 544.1h.7M288.9 555.3h.7M264.4 553.4h.7M301.1 540.0h.7M320.0 544.5h.7M287.1 545.1h.7M306.8 544.3h.7M281.1 552.2h.7M304.1 540.9h.7M299.3 532.6h.7M333.5 523.3h.7M301.2 539.5h.7M289.6 530.4h.7M288.3 543.4h.7M293.8 532.3h.7M294.1 530.4h.7M291.4 540.0h.7M338.6 532.6h.7M270.9 553.1h.7M311.7 537.9h.7M278.1 551.0h.7M295.9 534.8h.7M276.2 526.9h.7M288.6 547.6h.7M278.9 548.1h.7M279.2 545.5h.7M280.3 540.1h.7M290.2 549.8h.7M305.6 538.1h.7M306.4 551.8h.7M283.2 540.9h.7M305.2 540.3h.7M282.1 538.9h.7M301.0 535.5h.7M267.4 534.9h.7M287.0 536.7h.7M283.6 551.2h.7M293.4 542.1h.7M296.2 537.7h.7M292.3 534.4h.7M319.3 537.3h.7M297.2 539.0h.7M307.4 536.8h.7M330.1 542.9h.7M295.0 551.7h.7M313.4 541.3h.7M270.7 545.1h.7M299.6 536.5h.7M302.0 539.2h.7M308.1 539.7h.7M271.9 529.1h.7M275.4 531.0h.7M336.6 548.2h.7M321.0 542.6h.7M307.3 530.5h.7M288.1 533.0h.7M306.2 540.6h.7M322.6 533.2h.7M300.0 548.6h.7M281.6 544.3h.7M315.6 529.6h.7M292.0 540.2h.7M286.2 526.8h.7M282.8 527.1h.7M322.2 537.2h.7M291.2 536.2h.7M294.4 535.9h.7M290.2 548.2h.7M290.0 543.9h.7M301.5 545.8h.7M292.8 543.3h.7M288.7 529.5h.7M276.3 552.5h.7M295.4 540.5h.7M268.1 539.6h.7M312.2 553.6h.7M300.4 533.4h.7M309.4 534.9h.7M286.8 547.4h.7M283.1 541.8h.7M301.5 535.1h.7M331.4 529.0h.7M294.6 538.7h.7M293.0 551.6h.7M318.2 536.7h.7M268.7 553.2h.7M266.0 545.9h.7M284.7 540.4h.7M279.4 537.4h.7M303.4 548.2h.7M287.1 555.0h.7M290.0 541.9h.7M282.4 552.1h.7M265.5 544.1h.7M290.1 553.9h.7M329.4 541.7h.7M302.2 547.5h.7M266.7 532.0h.7M300.0 546.5h.7M275.7 522.9h.7M310.6 543.5h.7M301.7 529.3h.7M309.4 539.1h.7M292.2 552.2h.7M308.8 530.0h.7M281.8 541.9h.7M287.2 537.3h.7M293.3 542.0h.7M281.5 548.3h.7M271.1 541.4h.7M263.8 543.2h.7M306.7 552.2h.7M274.5 532.2h.7M269.1 540.3h.7M307.2 532.3h.7M288.0 555.0h.7M286.1 555.1h.7M281.0 543.9h.7M313.6 535.0h.7M310.3 541.5h.7M283.0 547.3h.7M289.5 537.3h.7M326.3 546.4h.7M271.7 539.9h.7M314.8 533.6h.7M302.8 536.3h.7M286.0 548.2h.7M266.2 545.5h.7M300.2 549.8h.7M322.8 535.6h.7M314.7 540.6h.7M287.5 540.6h.7M327.1 538.9h.7M269.5 540.6h.7M278.9 537.7h.7M270.9 539.7h.7M279.2 549.3h.7M317.6 543.6h.7M293.3 547.3h.7M311.1 550.0h.7M266.7 546.3h.7M265.5 543.2h.7M282.1 546.8h.7M295.5 530.8h.7M298.3 544.7h.7M270.7 553.3h.7M286.7 546.9h.7M270.7 546.9h.7M279.8 538.5h.7M296.5 549.7h.7M324.3 555.4h.7M289.1 555.0h.7M294.9 548.0h.7M283.6 548.2h.7M275.9 547.5h.7M313.4 546.7h.7M287.0 537.8h.7M295.5 543.1h.7M301.9 548.9h.7M263.6 532.9h.7M291.3 546.6h.7M296.3 542.4h.7M296.4 541.5h.7M292.1 548.4h.7M297.9 539.1h.7M294.5 537.6h.7M311.5 532.8h.7M279.9 547.4h.7M328.6 547.3h.7M301.5 549.9h.7M283.3 533.8h.7M296.6 536.4h.7M285.1 538.4h.7M283.4 531.5h.7M263.1 546.6h.7M295.2 546.4h.7M278.4 530.9h.7M297.6 555.0h.7M295.8 540.1h.7M282.1 555.4h.7M286.3 539.5h.7M267.6 544.2h.7M337.7 541.7h.7M337.3 541.3h.7M282.1 533.2h.7M281.7 546.5h.7M310.8 545.1h.7M278.3 526.9h.7M285.4 535.5h.7M297.3 540.9h.7M292.0 540.8h.7M297.5 542.8h.7M265.5 548.2h.7M280.7 547.0h.7M274.8 545.0h.7M263.3 543.1h.7M330.5 547.9h.7M319.8 550.2h.7M293.7 541.9h.7M309.3 539.3h.7M265.4 551.3h.7M315.9 544.9h.7M307.5 535.1h.7M303.4 541.8h.7M301.4 538.2h.7M284.2 533.1h.7M296.4 531.9h.7M263.9 541.6h.7M315.9 544.4h.7M265.6 539.3h.7M274.9 539.1h.7M298.2 545.4h.7M287.6 552.6h.7M320.6 524.7h.7M274.7 532.5h.7M286.3 549.8h.7M276.9 547.7h.7M309.7 539.7h.7M323.7 537.4h.7M289.6 549.4h.7M272.0 546.7h.7M318.9 536.9h.7M265.5 544.0h.7M286.2 545.4h.7M264.2 552.0h.7M293.4 540.2h.7M269.8 534.7h.7M302.2 547.3h.7M330.9 541.3h.7M264.3 547.4h.7M267.5 543.6h.7M266.9 552.1h.7M334.8 523.6h.7M271.5 540.3h.7M290.3 543.2h.7M303.4 546.2h.7M272.3 536.4h.7M275.5 553.2h.7M306.2 531.5h.7M299.5 538.8h.7M274.4 546.9h.7M286.8 549.4h.7M322.0 535.2h.7M303.4 551.0h.7M283.2 538.4h.7M286.1 545.4h.7M286.4 547.2h.7M307.0 540.1h.7M278.4 544.7h.7M265.3 545.1h.7M306.9 538.5h.7M284.8 536.4h.7M290.7 549.0h.7M299.6 550.7h.7M308.4 550.0h.7M291.6 540.6h.7M271.0 550.3h.7M275.1 535.6h.7M325.0 540.7h.7M294.5 542.8h.7M292.2 534.7h.7M295.8 545.3h.7M270.6 550.4h.7M315.6 542.1h.7M281.3 544.6h.7M284.7 540.9h.7M327.2 547.8h.7M274.8 540.7h.7M294.6 545.5h.7M274.0 546.9h.7M313.2 537.9h.7M274.1 548.5h.7M284.9 550.2h.7M281.6 545.7h.7M267.9 552.2h.7M315.4 545.2h.7M315.9 536.3h.7M289.2 536.1h.7M336.4 539.0h.7M275.4 545.1h.7M306.0 541.2h.7M289.2 532.9h.7M310.8 550.3h.7M293.9 538.9h.7M278.6 538.8h.7M280.0 546.7h.7M283.6 541.9h.7M302.9 540.3h.7M296.6 541.6h.7M278.5 545.9h.7M310.3 540.4h.7M311.4 540.6h.7M306.7 545.4h.7M313.2 543.7h.7M299.3 545.6h.7M302.9 546.0h.7M316.8 539.9h.7M266.6 534.3h.7M265.4 548.2h.7M316.3 541.0h.7M301.5 535.8h.7M324.7 550.2h.7M295.9 535.9h.7M306.6 545.5h.7M276.5 543.7h.7M307.6 533.9h.7M300.9 533.6h.7M318.3 536.5h.7M268.9 543.6h.7M309.3 533.3h.7M280.6 541.4h.7M313.9 533.5h.7M312.3 539.9h.7M293.9 544.0h.7M280.3 549.8h.7M292.3 553.0h.7M308.4 555.1h.7M299.3 545.1h.7M317.8 548.4h.7M314.5 533.3h.7M294.2 554.9h.7M287.1 537.4h.7M319.6 533.3h.7M288.9 550.6h.7M301.6 541.5h.7M324.3 545.8h.7M266.1 546.6h.7M306.2 538.2h.7M302.0 545.4h.7M308.2 538.5h.7M299.3 542.2h.7M295.2 535.4h.7M319.0 538.8h.7M293.3 548.0h.7M272.2 542.0h.7M310.3 542.2h.7M290.8 527.3h.7M305.8 536.3h.7M265.2 555.0h.7M316.9 548.5h.7M283.4 520.7h.7M291.9 551.3h.7M305.0 535.0h.7M313.6 547.8h.7M298.1 545.1h.7M314.4 540.1h.7M338.3 534.8h.7M300.9 545.4h.7M292.9 537.7h.7M299.1 543.3h.7M321.2 529.4h.7M305.5 536.1h.7M293.9 550.3h.7M305.5 542.0h.7M343.8 527.7h.7M282.0 546.2h.7M265.1 534.6h.7M275.9 533.8h.7M287.0 548.3h.7M269.8 544.7h.7M305.1 540.8h.7M317.1 541.5h.7M339.4 536.0h.7M335.0 553.2h.7M290.7 547.2h.7M299.4 549.0h.7M279.1 541.3h.7M267.5 543.8h.7M308.4 549.1h.7M307.8 546.2h.7M296.0 545.3h.7M263.5 538.8h.7M309.1 553.3h.7M277.1 540.9h.7M283.5 545.1h.7M289.9 541.8h.7M294.7 537.4h.7M272.3 536.4h.7M309.5 529.7h.7M300.8 528.8h.7M326.1 540.7h.7M286.0 545.2h.7M301.7 545.6h.7M307.1 528.3h.7M279.2 538.2h.7M289.9 546.8h.7M311.7 544.1h.7M270.3 533.5h.7M293.4 527.8h.7M265.6 539.2h.7M293.3 538.8h.7M305.6 542.1h.7M274.4 547.6h.7M318.6 544.4h.7M279.1 538.4h.7M304.3 537.8h.7M291.8 546.6h.7M310.1 543.0h.7M275.8 539.7h.7M265.5 540.0h.7M291.9 539.3h.7M318.9 534.4h.7M296.7 528.2h.7M300.7 537.3h.7M268.1 549.5h.7M285.8 536.2h.7M277.1 551.3h.7M274.0 545.4h.7M273.8 545.9h.7M282.7 548.5h.7M281.9 541.3h.7M271.6 550.6h.7M268.3 552.7h.7M286.9 549.8h.7M274.8 544.9h.7M300.9 539.9h.7M301.1 532.2h.7M278.4 542.9h.7M289.5 549.5h.7M318.6 550.7h.7M334.1 527.2h.7M302.5 543.1h.7M317.6 538.3h.7M289.8 553.2h.7M265.3 537.8h.7M302.8 537.8h.7M285.9 552.3h.7M316.1 538.4h.7M274.0 538.2h.7M334.0 541.1h.7M279.0 542.0h.7M310.4 544.5h.7M307.2 529.0h.7M310.9 524.6h.7M283.6 537.9h.7M300.0 549.9h.7M278.2 543.6h.7M299.0 540.7h.7M296.7 545.9h.7M299.7 552.1h.7M311.0 536.2h.7M314.4 535.3h.7M276.3 543.7h.7M294.0 548.4h.7M317.6 535.1h.7M292.1 527.7h.7M302.0 536.4h.7M293.7 543.2h.7M286.1 538.9h.7M299.2 528.8h.7M312.3 551.5h.7M282.2 550.2h.7M295.2 540.2h.7M294.3 547.1h.7M313.7 527.8h.7M282.6 543.7h.7M299.7 536.3h.7M294.5 532.2h.7M273.4 538.0h.7M270.9 541.8h.7M281.8 527.8h.7M306.3 541.9h.7M271.4 532.3h.7M273.1 540.2h.7M294.3 551.6h.7M306.3 542.7h.7M302.2 533.6h.7M282.1 540.2h.7M325.8 545.1h.7M309.0 546.6h.7M274.5 539.5h.7M278.7 550.6h.7M283.8 541.2h.7M275.3 552.1h.7M279.0 539.8h.7M271.1 542.2h.7M302.0 543.2h.7M298.8 531.8h.7M286.2 549.1h.7M293.3 544.2h.7M289.0 548.5h.7M284.7 544.3h.7M297.4 534.4h.7M321.0 540.8h.7M315.3 546.9h.7M268.9 546.4h.7M267.1 554.2h.7M289.2 545.5h.7M302.2 536.2h.7M275.5 543.1h.7M297.9 532.4h.7M276.5 546.4h.7M294.7 535.9h.7M292.6 543.7h.7M319.7 530.1h.7M311.7 521.0h.7M281.0 539.0h.7M281.2 547.6h.7M284.9 547.4h.7M265.8 555.4h.7M263.1 547.2h.7M299.2 536.0h.7M275.0 536.1h.7M312.8 527.0h.7M292.3 538.0h.7M287.4 547.7h.7M304.6 544.0h.7M305.1 554.0h.7M327.7 527.3h.7M312.6 531.9h.7M281.3 547.5h.7M289.4 540.9h.7M291.1 552.3h.7M269.0 527.2h.7M268.9 531.8h.7M295.9 537.0h.7M297.1 541.3h.7M290.9 535.1h.7M293.5 548.0h.7M287.2 527.5h.7M272.8 555.3h.7M320.5 536.1h.7M281.3 546.9h.7M315.9 549.8h.7M298.2 537.2h.7M318.9 552.0h.7M303.1 534.0h.7M327.7 540.9h.7M292.0 550.2h.7M307.4 553.3h.7M289.1 541.4h.7M285.2 538.1h.7M293.9 536.6h.7M263.9 541.6h.7M285.7 545.2h.7M286.8 544.1h.7M299.6 536.2h.7M314.6 540.8h.7M264.7 547.8h.7M285.2 543.1h.7M275.1 539.6h.7M297.2 552.3h.7M302.8 532.7h.7M296.6 547.3h.7M304.3 535.7h.7M290.0 541.1h.7M266.4 537.4h.7M279.0 547.3h.7M271.4 543.8h.7M277.8 538.1h.7M339.8 530.2h.7M263.9 547.7h.7M332.8 528.5h.7M275.2 544.9h.7M298.2 541.7h.7M281.4 542.9h.7M283.0 550.2h.7M312.8 538.1h.7M309.6 524.8h.7M287.3 547.2h.7M293.6 533.9h.7M292.9 547.7h.7M281.4 537.5h.7M284.6 537.5h.7M290.0 548.1h.7M296.9 537.6h.7M296.7 544.2h.7M274.6 530.7h.7M282.4 535.7h.7M265.3 537.7h.7M303.1 549.1h.7M297.6 536.2h.7M287.7 547.5h.7M300.4 546.9h.7M292.0 543.3h.7M273.4 546.1h.7M280.2 539.1h.7M302.7 539.7h.7M283.6 543.0h.7M273.9 544.9h.7M278.8 544.5h.7M271.0 550.6h.7M287.6 547.6h.7M307.3 545.5h.7M298.1 551.7h.7M277.7 543.3h.7M264.8 528.9h.7M272.0 537.8h.7M316.5 540.3h.7M317.9 544.1h.7M274.9 539.1h.7M269.7 533.8h.7M276.7 544.4h.7M311.1 542.8h.7M288.8 541.1h.7M316.2 536.5h.7M287.8 550.3h.7M285.2 534.3h.7M267.2 554.0h.7M288.3 520.7h.7M271.2 549.1h.7M306.5 544.7h.7M309.5 526.5h.7M300.5 538.0h.7M282.1 552.3h.7M304.7 538.4h.7M300.9 546.3h.7M284.9 546.4h.7M304.4 544.1h.7M318.6 532.4h.7M301.3 533.0h.7M271.8 541.7h.7M286.0 546.4h.7M316.4 541.5h.7M276.9 547.2h.7M296.4 541.0h.7M317.7 548.2h.7M265.4 546.3h.7M267.8 535.0h.7M315.8 530.8h.7M279.6 534.9h.7M304.4 550.7h.7M330.4 532.7h.7M324.1 550.4h.7M296.8 540.5h.7M284.0 550.4h.7M313.1 529.8h.7M314.2 550.6h.7M293.6 539.4h.7M306.9 537.6h.7M316.3 547.4h.7M272.2 525.8h.7M297.2 545.8h.7M288.9 553.5h.7M328.4 536.8h.7M328.1 537.1h.7M294.0 540.1h.7M292.3 546.3h.7M292.1 540.9h.7M281.3 532.2h.7M301.5 548.3h.7M313.9 542.4h.7M309.2 542.4h.7M293.1 533.5h.7M276.3 533.6h.7M328.6 539.0h.7M326.5 536.5h.7M298.2 529.0h.7M299.3 547.8h.7M317.4 531.7h.7M265.3 549.0h.7M297.4 555.3h.7M264.6 544.7h.7M290.1 548.2h.7M296.5 525.5h.7M310.4 537.4h.7M280.5 542.3h.7M292.8 544.9h.7M278.0 539.0h.7M302.3 547.4h.7M284.2 543.2h.7M302.3 540.7h.7M303.3 543.9h.7M305.6 528.4h.7M273.9 532.6h.7M273.7 532.6h.7M291.4 554.8h.7M305.7 538.6h.7M290.1 539.0h.7M295.7 554.4h.7M275.9 532.6h.7M293.9 537.6h.7M294.6 549.5h.7M308.4 541.4h.7M285.9 536.8h.7M282.7 547.9h.7M299.8 537.4h.7M316.7 531.7h.7M301.4 548.8h.7M264.7 545.7h.7M275.5 534.3h.7M322.3 542.3h.7M294.2 550.3h.7M335.1 546.0h.7M300.7 542.1h.7M298.4 543.0h.7M340.9 540.1h.7M268.6 545.1h.7M294.0 541.6h.7M284.4 536.5h.7M285.4 534.3h.7M312.4 531.1h.7M308.0 540.0h.7M318.7 537.4h.7M281.9 547.4h.7M263.7 549.7h.7M270.9 543.8h.7M308.7 537.1h.7M280.0 552.7h.7M300.6 537.0h.7M298.5 539.4h.7M305.7 532.7h.7M265.3 539.5h.7M278.5 541.7h.7M287.2 544.8h.7M263.3 553.9h.7M277.7 537.2h.7M279.7 535.5h.7M305.8 539.8h.7M316.5 536.5h.7M266.2 533.8h.7M336.4 539.4h.7M307.7 544.2h.7M297.9 545.7h.7M317.7 551.1h.7M289.1 535.2h.7M309.6 537.7h.7M290.2 541.2h.7M286.7 550.0h.7M305.5 552.2h.7M282.9 546.7h.7M294.2 546.0h.7M271.0 534.1h.7M334.8 542.6h.7M287.2 543.9h.7M291.3 544.3h.7M307.9 532.7h.7M297.9 544.3h.7M305.5 548.5h.7M297.0 539.5h.7M266.9 541.8h.7M286.2 543.8h.7M285.1 546.2h.7M328.6 534.2h.7M278.2 546.2h.7M316.2 535.7h.7M311.4 536.1h.7M281.6 549.0h.7M308.5 541.3h.7M308.6 544.7h.7M288.7 532.9h.7M272.8 541.0h.7M315.7 537.2h.7M291.7 533.2h.7M310.6 538.3h.7M276.4 538.4h.7M289.5 533.5h.7M295.1 551.5h.7M286.8 536.3h.7M304.4 543.9h.7M293.8 540.7h.7M297.3 554.4h.7M307.3 545.5h.7M313.2 553.2h.7M289.7 547.8h.7M336.5 532.6h.7M293.7 536.3h.7M287.2 539.8h.7M263.6 539.5h.7M307.9 546.0h.7M287.7 541.6h.7M288.7 549.4h.7M309.6 538.0h.7M305.8 545.4h.7M331.0 555.1h.7M314.3 544.8h.7M270.5 540.6h.7M314.8 548.4h.7M274.3 541.8h.7M263.9 539.8h.7M309.8 543.5h.7M264.0 554.7h.7M282.2 540.0h.7M317.3 535.9h.7M272.7 543.9h.7M319.3 535.6h.7M282.6 536.6h.7M277.8 553.3h.7M305.9 546.9h.7M274.8 539.4h.7M308.3 540.1h.7M289.6 553.4h.7M267.1 546.0h.7M263.2 541.4h.7M312.8 542.3h.7M288.1 545.6h.7M293.6 552.6h.7M266.3 546.9h.7M298.6 528.8h.7M289.5 537.5h.7M288.0 537.7h.7M288.6 533.1h.7M267.1 545.5h.7M308.0 553.5h.7M291.9 544.0h.7M283.9 541.9h.7M289.1 551.3h.7M294.6 538.3h.7M299.8 541.1h.7M309.3 555.2h.7M285.7 543.3h.7M286.3 534.7h.7M269.4 553.7h.7M304.8 548.7h.7M287.3 542.2h.7M270.0 552.3h.7M280.5 542.0h.7M295.2 554.5h.7M292.8 547.5h.7M302.6 545.9h.7M280.5 535.6h.7M301.1 550.1h.7M263.7 553.0h.7M277.6 541.7h.7M306.8 533.3h.7M307.3 537.2h.7M304.1 546.1h.7M266.7 553.2h.7M288.5 544.9h.7M263.7 550.6h.7M271.9 541.2h.7M277.2 543.5h.7M283.4 547.7h.7M300.5 538.3h.7M317.4 538.4h.7M311.1 536.8h.7M312.5 539.5h.7M315.0 543.1h.7M302.7 526.6h.7M296.2 536.7h.7M281.9 537.9h.7M299.7 525.6h.7M322.5 535.1h.7M290.8 537.8h.7M265.6 542.2h.7M297.8 536.8h.7M297.7 540.8h.7M331.1 541.8h.7M306.7 546.1h.7M320.2 527.8h.7M280.2 538.9h.7M290.5 542.8h.7M300.5 533.0h.7M294.8 542.1h.7M298.3 552.9h.7M283.8 543.9h.7M282.0 539.8h.7M287.5 541.7h.7M306.9 537.0h.7M287.3 547.7h.7M264.2 542.3h.7M281.9 545.6h.7M338.6 531.6h.7M283.2 539.8h.7M286.8 544.5h.7M283.3 549.5h.7M304.3 539.9h.7M324.7 530.0h.7M272.1 555.0h.7M301.3 542.8h.7M286.8 541.4h.7M314.0 545.1h.7M277.3 532.4h.7M282.2 542.3h.7M291.8 542.2h.7M285.2 531.0h.7M264.6 542.2h.7M309.5 541.6h.7M317.9 530.2h.7M322.1 546.0h.7M300.8 534.1h.7M295.7 540.4h.7M275.8 543.1h.7M301.7 554.5h.7M294.8 550.4h.7M278.9 542.6h.7M280.4 540.1h.7M315.6 541.2h.7M294.9 553.0h.7M334.0 530.8h.7M264.0 550.5h.7M318.3 544.6h.7M308.5 550.1h.7M282.7 549.4h.7M276.7 536.2h.7M301.8 546.3h.7M312.2 544.5h.7M285.9 546.9h.7M285.5 543.3h.7M291.1 534.2h.7M277.0 551.8h.7M285.2 546.0h.7M285.2 545.9h.7M274.2 554.9h.7M281.8 549.1h.7M292.9 544.3h.7M277.7 545.9h.7M279.4 547.9h.7M320.4 532.0h.7M277.4 544.0h.7M278.7 548.8h.7M317.7 542.2h.7M301.5 538.7h.7M286.9 548.7h.7M286.8 546.4h.7M269.1 546.8h.7M305.1 535.6h.7M284.7 548.0h.7M293.0 541.2h.7M299.0 544.3h.7M278.5 552.2h.7M288.3 541.1h.7M284.3 540.0h.7M286.1 548.4h.7M279.1 541.7h.7M292.4 532.6h.7M274.6 542.7h.7M295.3 530.4h.7M274.4 542.8h.7M295.0 547.5h.7M266.9 546.1h.7M310.4 539.8h.7M303.7 535.6h.7M279.1 548.7h.7M286.1 547.7h.7M288.8 532.2h.7M309.5 535.3h.7M264.8 541.4h.7M300.7 536.0h.7M296.1 534.3h.7M314.3 545.9h.7M306.5 549.7h.7M330.0 535.3h.7M328.7 523.9h.7M338.3 542.5h.7M297.5 538.9h.7M326.9 543.4h.7M278.4 543.4h.7M264.5 544.8h.7M304.2 532.3h.7M266.9 553.5h.7M282.1 537.7h.7M295.2 538.2h.7M309.7 542.2h.7M267.2 537.4h.7M322.5 539.6h.7M284.2 544.0h.7M283.8 548.5h.7M314.1 537.8h.7M324.1 536.6h.7M303.0 542.9h.7M271.1 548.7h.7M310.1 516.2h.7M296.3 553.0h.7M312.9 534.4h.7M288.8 549.2h.7M301.7 546.4h.7M294.9 543.9h.7M280.2 537.5h.7M275.8 552.5h.7M286.9 535.6h.7M290.3 540.7h.7M325.3 542.3h.7M296.2 546.0h.7M329.2 540.8h.7M304.6 539.8h.7M288.9 529.9h.7M292.3 548.4h.7M295.3 554.3h.7M286.5 536.8h.7M287.6 533.5h.7M266.4 537.1h.7M290.0 540.1h.7M296.1 539.1h.7M300.4 537.5h.7M279.1 551.0h.7M289.3 549.9h.7M286.0 535.5h.7M285.3 531.8h.7M309.4 539.7h.7M297.3 535.9h.7M300.0 536.9h.7M288.1 538.8h.7M296.6 536.3h.7M291.1 541.8h.7M274.6 548.6h.7M296.5 526.6h.7M307.3 538.0h.7M289.3 535.5h.7M289.4 535.5h.7M297.8 543.0h.7M294.1 552.6h.7M273.2 535.1h.7M289.3 538.9h.7M308.7 538.9h.7M305.9 541.7h.7M281.9 548.8h.7M277.8 554.2h.7M288.5 547.4h.7M265.5 554.8h.7M300.0 540.4h.7M309.7 537.0h.7M266.2 553.2h.7M294.0 548.9h.7M304.8 549.2h.7M268.4 539.8h.7M306.1 543.9h.7M300.4 551.4h.7M304.7 533.1h.7M294.0 552.8h.7M276.2 543.9h.7M275.7 547.7h.7M271.5 537.5h.7M309.0 540.8h.7M295.5 534.8h.7M282.9 545.6h.7M265.5 540.3h.7M295.5 538.7h.7M275.5 544.2h.7M320.1 543.9h.7M294.6 541.7h.7M294.9 542.4h.7M277.8 533.9h.7M298.5 537.4h.7M284.9 538.8h.7M285.7 519.6h.7M318.1 541.8h.7M305.0 532.5h.7M281.1 531.1h.7M309.4 539.9h.7M294.3 541.6h.7M265.3 543.2h.7M329.1 531.4h.7M299.5 550.4h.7M280.3 534.7h.7M338.9 542.6h.7M268.2 552.4h.7M297.5 537.9h.7M325.2 540.3h.7M290.1 535.9h.7M293.3 541.0h.7M330.6 526.1h.7M310.5 539.1h.7M275.5 540.2h.7M314.2 546.6h.7M305.5 533.1h.7M320.6 546.0h.7M299.2 538.1h.7M280.0 543.3h.7M299.1 542.2h.7M294.3 540.1h.7M310.8 540.5h.7M279.5 541.9h.7M294.4 553.9h.7M280.4 548.2h.7M263.7 540.3h.7M293.4 542.4h.7M302.9 555.4h.7M280.5 540.0h.7M278.9 541.4h.7M291.8 539.2h.7M285.0 549.5h.7M307.9 539.4h.7M289.0 547.4h.7M271.6 554.8h.7M312.7 540.9h.7M265.2 553.1h.7M339.3 541.9h.7M292.7 548.8h.7M308.8 544.5h.7M297.4 546.1h.7M289.3 544.9h.7M290.7 546.2h.7M281.1 555.3h.7M291.4 544.8h.7M278.6 540.5h.7M264.1 544.7h.7M272.8 530.6h.7M301.4 541.8h.7M285.4 544.4h.7M300.2 550.7h.7M301.1 535.1h.7M307.5 553.9h.7M278.3 548.3h.7M289.9 548.3h.7M298.0 539.6h.7M337.8 545.1h.7M296.1 552.1h.7M281.6 543.7h.7M297.0 544.0h.7M339.0 538.7h.7M315.1 528.2h.7M308.7 546.8h.7M306.4 543.9h.7M263.9 540.1h.7M272.9 538.4h.7M311.1 536.2h.7M300.4 552.6h.7M289.9 536.7h.7M267.9 540.9h.7M290.2 535.3h.7M278.5 543.4h.7M303.4 539.4h.7M296.1 554.2h.7M305.4 542.5h.7M294.2 543.6h.7M275.4 538.8h.7M302.2 533.0h.7M280.9 540.3h.7M305.7 544.3h.7M312.5 538.3h.7M318.4 538.1h.7M264.9 546.8h.7M295.9 543.6h.7M278.4 529.4h.7M305.4 545.2h.7M294.6 538.2h.7M286.8 538.1h.7M295.1 545.3h.7M314.2 544.4h.7M313.3 538.0h.7M290.7 541.4h.7M281.5 540.9h.7M288.5 538.5h.7M301.1 532.9h.7M275.0 547.5h.7M328.2 540.3h.7M302.9 538.4h.7M304.3 538.5h.7M296.0 538.0h.7M305.9 544.0h.7M276.5 542.0h.7M283.4 553.8h.7M303.1 539.0h.7M311.3 531.2h.7M291.6 528.7h.7M274.8 543.1h.7M298.8 541.0h.7M297.7 539.3h.7M292.7 533.4h.7M265.5 545.8h.7M280.2 539.3h.7M279.4 538.0h.7M284.0 541.5h.7M305.4 537.1h.7M311.4 549.1h.7M271.6 547.3h.7M295.9 543.1h.7M277.4 547.1h.7M311.4 539.2h.7M291.0 543.4h.7M306.3 548.1h.7M283.1 533.1h.7M298.2 539.2h.7M286.3 540.4h.7M294.1 538.3h.7M273.0 547.8h.7M292.8 534.1h.7M273.7 538.3h.7M324.9 545.7h.7M286.9 535.3h.7M283.5 539.5h.7M277.6 545.3h.7M283.6 538.5h.7M305.9 533.7h.7M298.2 533.5h.7M271.5 527.1h.7M294.2 538.2h.7M268.3 555.1h.7M308.6 537.0h.7M296.6 548.8h.7M304.1 555.0h.7M334.6 549.0h.7M320.9 537.5h.7M291.7 539.4h.7M263.6 543.1h.7M317.6 547.0h.7M298.7 555.3h.7M301.5 532.1h.7M276.8 548.2h.7M292.6 535.4h.7M280.0 550.3h.7M293.9 549.0h.7M313.6 544.3h.7M306.4 539.5h.7M315.1 527.3h.7M282.5 542.7h.7M310.2 540.9h.7M283.2 541.1h.7M267.5 533.1h.7M295.0 545.3h.7M309.9 537.4h.7M310.2 543.3h.7M274.5 542.1h.7M303.1 544.5h.7M295.8 532.3h.7M270.8 533.7h.7M286.4 543.5h.7M272.9 555.5h.7M302.7 531.5h.7M302.8 540.8h.7M306.0 544.8h.7M289.8 553.7h.7M269.9 538.9h.7M305.9 533.6h.7M266.9 546.9h.7M268.7 541.7h.7M297.2 535.6h.7M265.0 541.8h.7M296.3 540.4h.7M286.4 531.5h.7M272.7 538.0h.7M276.8 533.4h.7M293.9 541.4h.7M291.9 539.7h.7M308.5 530.7h.7M282.7 548.3h.7M284.0 528.4h.7M322.6 542.3h.7M310.5 546.3h.7M289.8 545.3h.7M271.9 545.0h.7M281.6 538.7h.7M265.1 543.3h.7M310.0 540.2h.7M275.2 537.4h.7M296.2 536.9h.7M311.6 542.5h.7M295.4 532.7h.7M308.5 547.5h.7M303.1 536.7h.7M299.4 543.5h.7M281.2 550.1h.7M285.6 551.4h.7M279.5 554.2h.7M328.6 530.7h.7M277.6 545.5h.7M282.0 551.8h.7M290.9 546.7h.7M315.1 547.2h.7M276.3 548.1h.7M296.6 544.6h.7M317.3 539.2h.7M306.4 537.2h.7M308.7 538.6h.7M313.3 546.4h.7M317.3 524.2h.7M297.8 540.8h.7M269.1 536.7h.7M275.8 541.7h.7M288.4 547.6h.7M319.6 546.1h.7M285.1 537.3h.7M274.7 542.8h.7M330.1 541.0h.7M298.0 544.6h.7M307.5 529.8h.7M286.1 554.6h.7M289.6 544.4h.7M303.9 549.3h.7M291.3 538.9h.7M267.7 537.2h.7M275.2 532.2h.7M308.0 537.9h.7M305.3 535.7h.7M286.8 536.4h.7M282.7 537.5h.7M306.8 539.9h.7M277.9 544.7h.7M267.2 546.3h.7M298.8 545.0h.7M273.4 550.8h.7M295.5 544.4h.7M298.7 534.6h.7M268.0 545.5h.7M283.1 535.1h.7M336.1 531.7h.7M266.8 542.1h.7M322.5 540.4h.7M278.3 536.1h.7M288.7 539.7h.7M272.5 542.7h.7M273.5 552.0h.7M267.9 534.5h.7M315.0 540.0h.7M288.6 536.2h.7M267.2 552.6h.7M276.9 546.2h.7M273.1 546.1h.7M314.1 545.3h.7M296.2 529.4h.7M315.4 539.7h.7M319.6 528.4h.7M279.0 537.1h.7M292.2 537.9h.7M286.4 535.3h.7M301.4 542.5h.7M274.8 539.8h.7M308.0 548.0h.7M303.3 538.3h.7M299.4 545.1h.7M295.8 543.5h.7M269.3 540.5h.7M274.2 537.6h.7M287.6 546.0h.7M301.8 537.7h.7M311.3 544.3h.7M276.0 543.6h.7M271.4 555.1h.7M264.7 546.1h.7M297.1 548.6h.7M264.3 545.8h.7M289.1 540.5h.7M312.5 534.5h.7M306.7 538.0h.7M280.0 538.4h.7M275.7 526.1h.7M269.8 552.1h.7M294.4 541.8h.7M334.5 542.2h.7M269.5 551.5h.7M276.4 545.4h.7M267.1 540.5h.7M323.4 540.6h.7M281.5 555.4h.7M300.7 539.8h.7M303.9 547.3h.7M289.8 537.7h.7M289.1 543.5h.7M293.4 539.4h.7M319.5 525.1h.7M287.5 550.2h.7M296.7 539.7h.7M287.6 555.5h.7M277.4 537.8h.7M293.5 525.7h.7M294.0 539.6h.7M326.4 544.2h.7M287.2 546.6h.7M265.7 546.7h.7M311.1 538.2h.7M264.5 543.3h.7M296.4 540.5h.7M290.0 546.1h.7M297.2 530.7h.7M303.3 541.6h.7M273.5 546.3h.7M268.4 543.2h.7M263.7 543.4h.7M305.4 547.4h.7M278.3 545.6h.7M317.6 547.3h.7M284.2 546.9h.7M303.7 541.2h.7M269.9 546.4h.7M289.8 540.7h.7M282.4 547.5h.7M288.6 539.0h.7M335.0 537.9h.7M301.1 537.4h.7M276.5 533.8h.7M276.9 549.8h.7M315.7 534.9h.7M291.3 541.2h.7M302.9 531.3h.7M298.8 542.1h.7M285.8 533.9h.7M271.8 554.1h.7M289.9 525.6h.7M299.5 542.2h.7M266.4 539.8h.7M297.6 536.3h.7M284.9 537.2h.7M268.5 538.5h.7M315.3 548.7h.7M267.8 541.3h.7M304.1 545.7h.7M299.6 540.3h.7M300.0 530.4h.7M300.4 526.1h.7M305.2 546.1h.7M312.5 540.7h.7M280.9 538.0h.7M277.3 533.8h.7M292.5 547.6h.7M300.6 537.5h.7M299.9 549.0h.7M320.3 542.9h.7M277.0 545.3h.7M288.6 535.6h.7M321.0 536.0h.7M287.4 544.7h.7M300.2 536.8h.7M297.7 542.3h.7M307.9 532.7h.7M319.2 536.5h.7M279.6 539.4h.7M277.1 545.8h.7M311.8 549.0h.7M305.6 544.8h.7M280.4 539.0h.7M314.5 537.1h.7M303.6 546.9h.7M312.2 546.3h.7M266.8 536.6h.7M314.6 535.6h.7M286.3 532.7h.7M285.9 536.7h.7M293.2 539.8h.7M314.2 526.8h.7M326.0 550.4h.7M302.5 545.0h.7M289.4 538.8h.7M279.9 537.1h.7M306.0 552.2h.7M295.0 533.6h.7M287.3 551.2h.7M273.2 544.0h.7M291.9 534.7h.7M276.6 538.5h.7M268.9 553.6h.7M339.1 545.3h.7M292.3 538.6h.7M282.8 544.0h.7M308.2 533.6h.7M293.3 543.4h.7M305.5 534.7h.7M305.1 539.1h.7M287.2 536.6h.7M270.0 544.4h.7M300.0 548.1h.7M317.4 540.9h.7M315.5 539.2h.7M303.1 535.1h.7M287.8 554.7h.7M307.1 534.9h.7M282.3 531.2h.7M297.9 548.8h.7M277.0 545.3h.7M293.0 540.2h.7M296.5 549.0h.7M274.0 546.0h.7M306.9 542.3h.7M284.6 541.3h.7M274.7 542.3h.7M267.6 537.0h.7M291.4 539.7h.7M294.3 553.0h.7M322.5 530.9h.7M297.6 538.7h.7M271.5 550.5h.7M270.1 553.2h.7M268.9 554.6h.7M306.7 542.8h.7M273.7 532.3h.7M306.5 543.7h.7M263.4 538.7h.7M291.9 553.8h.7M269.6 542.5h.7M303.8 532.7h.7M308.1 544.6h.7M271.2 539.6h.7M295.9 535.7h.7M323.3 544.4h.7M294.9 551.3h.7M297.3 546.3h.7M309.8 547.0h.7M292.0 544.0h.7M316.7 541.9h.7M278.8 541.4h.7M303.9 540.4h.7M314.9 540.1h.7M292.4 555.5h.7M289.9 554.6h.7M318.8 549.2h.7M286.0 537.4h.7M322.0 552.7h.7M324.0 531.2h.7M281.0 546.0h.7M297.2 533.4h.7M290.6 538.6h.7M267.1 547.5h.7M310.7 545.0h.7M268.8 539.9h.7M294.2 539.5h.7M302.7 552.4h.7M298.1 535.5h.7M310.9 552.8h.7M265.2 544.7h.7M274.1 534.6h.7M264.3 532.6h.7M302.5 546.3h.7M284.3 542.0h.7M264.4 554.0h.7M305.8 541.3h.7M297.1 540.6h.7M274.3 535.2h.7M294.3 527.3h.7M307.1 532.1h.7M281.2 547.2h.7M296.7 540.1h.7M305.0 536.6h.7M276.6 536.0h.7M286.5 532.9h.7M280.1 547.6h.7M310.0 544.0h.7M299.8 537.9h.7M290.5 541.9h.7M322.2 547.4h.7M285.4 540.9h.7M294.5 540.2h.7M300.1 539.7h.7M328.5 538.2h.7M270.2 546.3h.7M301.7 531.5h.7M301.2 550.0h.7M294.9 545.5h.7M274.0 537.7h.7M283.4 551.8h.7M331.7 529.5h.7M301.8 546.6h.7M290.5 546.3h.7M287.5 552.9h.7M276.7 549.4h.7M313.5 529.7h.7M283.8 537.3h.7M305.8 537.6h.7M269.4 553.4h.7M279.4 540.3h.7M282.8 537.2h.7M276.6 544.7h.7M283.2 554.6h.7M308.7 536.3h.7M277.9 528.7h.7M298.7 542.2h.7M284.3 545.6h.7M289.6 549.8h.7M267.9 553.2h.7M302.1 554.2h.7M315.4 535.0h.7M267.1 550.8h.7M307.4 530.8h.7M304.1 542.1h.7M277.0 546.0h.7M307.2 545.6h.7M298.4 533.2h.7M290.4 531.7h.7M321.1 543.3h.7M274.7 538.9h.7M291.6 553.6h.7M265.6 542.8h.7M304.0 548.3h.7M285.7 546.3h.7M278.2 545.9h.7M270.9 542.6h.7M312.2 538.7h.7M282.1 545.4h.7M309.1 537.5h.7M285.3 541.2h.7M310.2 542.0h.7M280.4 549.2h.7M318.6 535.5h.7M297.2 533.3h.7M296.7 524.2h.7M274.8 541.4h.7M278.3 543.3h.7M328.8 535.4h.7M274.2 539.6h.7M316.6 536.7h.7M297.9 540.5h.7M271.8 550.6h.7M283.8 548.0h.7M296.1 550.7h.7M280.7 542.9h.7M314.0 533.5h.7M304.7 542.6h.7M303.1 540.8h.7M288.2 536.1h.7M287.7 552.6h.7M307.3 553.1h.7M314.4 550.3h.7M297.3 525.6h.7M328.1 541.2h.7M275.1 552.7h.7M268.5 537.6h.7M299.6 533.9h.7M297.9 553.1h.7M316.0 543.4h.7M295.4 543.6h.7M317.7 530.7h.7M314.9 532.6h.7M264.3 544.9h.7M304.0 546.7h.7M316.8 537.5h.7M298.1 553.4h.7M318.2 530.2h.7M270.2 537.2h.7M333.6 535.1h.7M302.3 541.7h.7M287.3 546.1h.7M323.5 534.1h.7M294.3 543.5h.7M295.8 537.9h.7M266.4 547.0h.7M318.5 540.8h.7M275.5 542.1h.7M292.9 532.8h.7M284.6 533.5h.7M310.8 551.5h.7M297.7 524.0h.7M314.2 545.2h.7M264.4 538.8h.7M269.7 544.8h.7M321.0 544.6h.7M304.7 545.0h.7M297.7 545.1h.7M284.4 542.2h.7M278.7 542.5h.7M305.2 539.0h.7M317.6 546.1h.7M305.1 549.0h.7M303.2 541.9h.7M280.4 546.6h.7M279.7 546.5h.7M301.2 538.5h.7M287.0 551.2h.7M291.9 542.4h.7M297.5 548.8h.7M292.9 532.1h.7M292.7 543.7h.7M296.0 541.1h.7M309.5 540.2h.7M275.9 554.2h.7M292.8 544.5h.7M302.8 544.9h.7M300.7 535.4h.7M284.2 549.7h.7M293.6 539.5h.7M304.8 530.3h.7M316.2 541.5h.7M292.6 544.4h.7M273.0 553.5h.7M277.8 551.4h.7M292.3 531.8h.7M331.4 538.3h.7M343.6 531.9h.7M292.5 542.5h.7M289.2 545.0h.7M290.1 537.0h.7M280.0 536.0h.7M275.7 548.8h.7M308.4 541.7h.7M276.4 536.2h.7M271.4 545.0h.7M330.4 540.4h.7M282.2 550.3h.7M265.8 527.9h.7M309.7 532.3h.7M317.7 536.1h.7M303.2 546.5h.7M273.2 543.1h.7M284.5 525.7h.7M286.5 543.3h.7M293.2 538.3h.7M292.6 540.7h.7M305.6 551.7h.7M293.1 541.8h.7M274.5 543.0h.7M281.1 543.5h.7M290.0 541.6h.7M289.6 546.6h.7M273.5 549.9h.7M300.5 540.8h.7M283.2 545.7h.7M286.0 535.0h.7M286.9 542.0h.7M266.1 527.9h.7M301.8 552.3h.7M316.9 546.3h.7M272.8 548.1h.7M311.8 542.5h.7M303.7 539.4h.7M270.7 539.1h.7M311.3 535.4h.7M266.4 537.9h.7M277.3 547.9h.7M269.4 545.1h.7M298.9 552.7h.7M263.7 539.2h.7M341.5 540.5h.7M263.3 542.4h.7M286.0 549.3h.7M289.9 537.0h.7M302.0 544.5h.7M302.5 539.9h.7M275.9 543.5h.7M303.2 531.9h.7M289.0 534.4h.7M300.3 541.8h.7M270.9 547.0h.7M308.9 540.1h.7M280.7 537.5h.7M276.6 543.4h.7M281.2 538.9h.7M274.2 548.3h.7M284.5 548.2h.7M305.0 555.1h.7M291.3 539.6h.7M281.6 537.3h.7M269.7 542.1h.7M291.6 545.3h.7M278.2 544.6h.7M311.3 545.7h.7M278.3 551.6h.7M265.4 538.2h.7M275.7 542.5h.7M302.1 549.4h.7M293.0 535.0h.7M299.3 543.6h.7M295.6 543.2h.7M304.4 532.9h.7M283.2 535.6h.7M294.2 532.5h.7M305.9 546.4h.7M279.4 541.4h.7M283.6 533.5h.7M301.1 547.2h.7M291.3 538.2h.7M307.7 546.7h.7M340.7 548.1h.7M266.2 541.6h.7M307.0 542.9h.7M311.7 550.2h.7M301.2 542.9h.7M289.3 546.2h.7M270.1 549.6h.7M321.6 523.8h.7M277.3 537.5h.7M283.1 538.8h.7M304.2 551.7h.7M289.8 543.7h.7M284.2 533.9h.7M283.2 544.4h.7M294.0 546.4h.7M301.5 538.8h.7M302.8 542.7h.7M326.2 535.2h.7M301.2 525.1h.7M292.6 540.9h.7M266.6 544.2h.7M298.6 537.6h.7M276.1 540.8h.7M295.0 542.3h.7M271.3 535.4h.7M278.0 540.2h.7M300.6 544.9h.7M302.1 546.5h.7M292.4 540.8h.7M320.0 542.0h.7M286.6 539.7h.7M306.4 544.8h.7M275.1 539.9h.7M267.4 533.3h.7M314.0 537.5h.7M263.7 543.7h.7M307.0 539.8h.7M285.4 545.9h.7M313.6 547.7h.7M339.7 534.1h.7M295.8 547.1h.7M281.1 537.5h.7M322.2 537.9h.7M303.6 542.6h.7M282.1 541.9h.7M285.4 537.8h.7M289.6 537.8h.7M296.0 545.3h.7M326.1 537.7h.7M282.7 528.5h.7M299.6 548.0h.7M286.9 548.3h.7M286.0 536.5h.7M292.0 538.2h.7M296.6 532.6h.7M284.6 549.3h.7M293.6 537.7h.7M307.3 533.3h.7M276.0 542.1h.7M292.0 540.6h.7M324.9 541.6h.7M301.2 538.8h.7M332.2 537.5h.7M272.3 542.0h.7M282.3 534.1h.7M298.6 542.7h.7M307.4 534.6h.7M304.3 537.7h.7M292.0 545.1h.7M271.3 539.5h.7M294.5 539.1h.7M295.9 544.0h.7M294.1 542.0h.7M327.6 547.3h.7M306.4 532.0h.7M321.1 542.3h.7M291.4 544.4h.7M294.5 525.7h.7M276.1 526.3h.7M303.6 555.3h.7M290.0 537.3h.7M298.9 552.1h.7M292.5 547.4h.7M294.0 548.4h.7M276.3 551.5h.7M332.4 551.6h.7M275.4 555.2h.7M277.2 533.5h.7M306.6 549.9h.7M290.6 554.0h.7M287.0 544.9h.7M309.0 527.2h.7M319.0 533.7h.7M309.0 555.1h.7M293.2 536.7h.7M294.4 539.6h.7M281.7 532.4h.7M308.8 545.4h.7M315.5 546.5h.7M279.4 537.6h.7M289.5 535.4h.7M275.9 539.3h.7M299.9 539.2h.7M297.2 550.9h.7M280.3 549.6h.7M276.1 546.8h.7M280.6 539.1h.7M304.0 543.5h.7M285.5 550.1h.7M317.0 540.4h.7M284.0 546.2h.7M291.4 533.0h.7M287.3 554.1h.7M296.3 530.7h.7M283.8 544.3h.7M276.7 540.3h.7M309.6 540.5h.7M302.7 544.4h.7M309.1 542.9h.7M295.4 545.4h.7M263.3 544.2h.7M310.9 531.6h.7M270.2 533.2h.7M300.7 530.2h.7M341.3 529.6h.7M293.3 541.5h.7M284.9 533.8h.7M302.3 553.2h.7M301.2 539.2h.7M313.3 531.8h.7M330.5 530.0h.7M271.1 546.5h.7M293.4 549.3h.7M303.9 538.9h.7M304.0 551.5h.7M311.0 541.1h.7M286.7 542.4h.7M265.3 547.6h.7M272.9 543.3h.7M282.9 554.0h.7M279.8 528.5h.7M286.8 538.2h.7M305.3 534.5h.7M326.6 532.6h.7M322.7 555.0h.7M306.8 545.6h.7M301.5 541.0h.7M321.0 554.6h.7M317.1 546.0h.7M298.8 535.8h.7M329.5 536.5h.7M292.4 532.2h.7M288.7 546.7h.7M311.5 546.0h.7M272.5 543.4h.7M273.1 537.2h.7M278.3 539.3h.7M324.5 540.8h.7M264.1 547.6h.7M302.7 552.1h.7M296.6 533.0h.7M321.9 540.9h.7M323.8 543.4h.7M286.7 538.8h.7M281.8 534.8h.7M265.9 541.5h.7M292.2 532.7h.7M312.4 542.1h.7M272.4 550.9h.7M277.6 554.0h.7M280.1 550.2h.7M288.1 538.0h.7M289.7 534.3h.7M282.5 543.8h.7M300.7 536.9h.7M272.0 537.5h.7M281.5 544.5h.7M316.3 531.8h.7M286.0 541.2h.7M323.4 546.5h.7M276.3 550.5h.7M290.9 545.0h.7M291.7 546.4h.7M310.5 534.2h.7M269.6 541.6h.7M284.5 543.2h.7M286.4 541.6h.7M291.8 536.7h.7M286.4 538.1h.7M276.2 550.7h.7M308.0 546.6h.7M289.6 548.2h.7M315.5 553.1h.7M315.6 534.5h.7M279.0 538.8h.7M269.2 547.0h.7M285.8 553.2h.7M302.2 553.7h.7M276.1 540.0h.7M301.3 537.5h.7M304.4 537.1h.7M286.7 546.3h.7M296.9 540.7h.7M296.3 540.9h.7M295.0 538.8h.7M285.3 550.7h.7M304.8 534.4h.7M271.6 546.2h.7M322.8 537.0h.7M272.2 542.4h.7M321.4 534.5h.7M300.7 535.5h.7M273.5 545.9h.7M330.7 532.2h.7M285.4 543.3h.7M282.3 544.2h.7M287.8 550.3h.7M269.3 546.8h.7M325.2 545.4h.7M289.4 548.1h.7M301.7 527.4h.7M273.3 530.8h.7M302.1 524.6h.7M295.9 549.5h.7M281.9 548.1h.7M304.6 535.8h.7M292.6 544.3h.7M315.2 537.2h.7M301.4 538.1h.7M275.9 552.6h.7M266.7 540.0h.7M314.8 543.7h.7M275.3 544.0h.7M294.2 536.2h.7M298.1 546.9h.7M318.5 532.1h.7M299.5 539.4h.7M320.9 541.1h.7M302.7 534.5h.7M288.2 548.8h.7M281.5 545.1h.7M301.2 540.2h.7M293.3 548.0h.7M290.2 544.7h.7M277.4 537.9h.7M300.1 540.9h.7M306.7 530.4h.7M283.4 544.9h.7M278.8 537.5h.7M293.2 538.1h.7M311.4 535.5h.7M279.8 538.9h.7M304.7 550.7h.7M299.8 553.6h.7M300.5 534.1h.7M301.2 529.7h.7M265.6 538.7h.7M290.8 540.0h.7M281.0 534.1h.7M281.2 537.9h.7M283.3 542.1h.7M277.1 540.8h.7M282.8 538.2h.7M311.3 537.7h.7M293.2 549.6h.7M265.6 544.1h.7M283.2 543.3h.7M325.6 529.6h.7M279.1 547.2h.7M312.7 529.0h.7M314.0 539.1h.7M289.7 538.8h.7M291.8 547.8h.7M285.9 542.5h.7M267.4 553.0h.7M320.2 532.6h.7M306.0 548.9h.7M277.5 541.9h.7M294.8 539.1h.7M269.1 552.1h.7M300.5 533.4h.7M295.7 536.7h.7M310.1 540.0h.7M323.8 540.4h.7M274.3 540.7h.7M281.7 537.1h.7M297.1 542.2h.7M300.8 543.6h.7M301.9 537.7h.7M287.5 547.6h.7M290.6 539.8h.7M274.0 538.6h.7M284.3 552.1h.7M279.1 534.1h.7M319.1 544.7h.7M297.9 553.2h.7M295.2 543.5h.7M288.4 541.4h.7M291.1 538.8h.7M309.0 536.4h.7M311.9 543.6h.7M280.1 541.1h.7M293.2 550.6h.7M296.5 541.1h.7M293.0 533.9h.7M265.5 543.0h.7M304.4 554.1h.7M277.1 553.6h.7M287.0 547.2h.7M302.6 538.0h.7M300.6 530.5h.7M334.1 538.8h.7M283.3 530.2h.7M284.4 553.0h.7M300.7 551.9h.7M299.0 534.8h.7M278.7 540.6h.7M283.2 541.5h.7M338.3 534.0h.7M281.8 544.4h.7M314.0 545.7h.7M291.7 548.7h.7M283.6 536.9h.7M275.8 540.1h.7M268.5 533.7h.7M277.1 537.6h.7M289.5 550.2h.7M283.0 536.9h.7M331.9 526.7h.7M337.6 533.8h.7M307.7 543.9h.7M264.8 554.0h.7M269.3 540.2h.7M289.7 533.8h.7M296.5 540.2h.7M292.2 551.6h.7M290.2 541.0h.7M326.7 553.1h.7M277.8 538.3h.7M312.2 535.4h.7M298.2 538.3h.7M281.3 532.8h.7M293.4 542.0h.7M285.6 532.2h.7M278.0 532.2h.7M342.2 532.2h.7M292.6 550.6h.7M284.7 541.3h.7M288.7 542.2h.7M324.6 532.1h.7M278.4 543.8h.7M310.9 540.0h.7M325.8 539.0h.7M287.8 530.1h.7M291.2 544.2h.7M293.6 535.3h.7M279.8 550.4h.7M299.8 539.9h.7M305.5 539.0h.7M322.5 537.5h.7M281.7 549.0h.7M277.7 545.7h.7M318.3 544.2h.7M309.8 530.5h.7M278.7 543.9h.7M292.3 542.7h.7M276.0 554.4h.7M275.8 555.5h.7M275.2 544.8h.7M310.5 545.3h.7M318.2 547.6h.7M295.7 535.5h.7M292.2 543.3h.7M279.3 552.0h.7M266.8 543.7h.7M305.8 540.5h.7M294.1 540.7h.7M299.3 544.6h.7M287.9 545.4h.7M265.1 536.6h.7M323.6 548.2h.7M302.5 549.2h.7M272.2 544.4h.7M292.4 540.7h.7M267.5 549.2h.7M295.1 541.5h.7M291.8 541.1h.7M297.8 544.2h.7M315.9 533.3h.7M294.0 539.6h.7M298.4 545.5h.7M310.8 543.9h.7M299.9 533.6h.7M293.8 550.0h.7M297.4 533.1h.7M313.5 550.4h.7M284.2 537.6h.7M281.3 539.4h.7M285.3 552.6h.7M292.1 539.0h.7M284.7 554.1h.7M270.4 548.6h.7M301.0 538.6h.7M298.4 550.6h.7M296.6 547.5h.7M277.3 536.0h.7M282.1 545.9h.7M268.7 534.0h.7M296.1 537.8h.7M304.1 534.4h.7M301.4 525.7h.7M282.6 540.4h.7M283.8 542.4h.7M310.1 540.9h.7M318.3 541.2h.7M289.9 539.8h.7M309.2 540.1h.7M301.3 527.8h.7M277.3 541.9h.7M302.1 552.5h.7M287.3 536.6h.7M296.3 526.7h.7M321.5 540.1h.7M290.6 542.8h.7M292.2 538.0h.7M275.1 542.9h.7M325.0 544.8h.7M287.7 545.8h.7M316.2 534.2h.7M308.4 537.5h.7M307.5 534.2h.7M281.8 554.7h.7M324.8 539.2h.7M320.9 526.3h.7M275.2 553.1h.7M266.5 548.6h.7M281.7 546.1h.7M306.8 534.3h.7M293.0 540.1h.7M290.2 546.5h.7M276.7 543.2h.7M320.7 540.3h.7M307.4 551.0h.7M267.4 546.4h.7M296.6 534.4h.7M288.0 537.3h.7M311.8 550.4h.7M273.1 553.6h.7M337.9 542.6h.7M277.8 544.8h.7M307.1 536.8h.7M296.1 539.9h.7M305.7 547.1h.7M308.8 543.2h.7M275.6 546.2h.7M299.1 536.9h.7M293.8 534.0h.7M273.1 540.0h.7M279.0 544.3h.7M274.8 542.9h.7M287.6 541.5h.7M301.6 542.8h.7M321.2 552.2h.7M274.8 540.8h.7M268.6 542.3h.7M279.3 551.7h.7M287.5 537.9h.7M288.4 554.9h.7M286.5 522.4h.7M267.4 551.0h.7M269.1 544.6h.7M323.6 542.8h.7M296.7 537.8h.7M300.9 547.2h.7M303.6 522.9h.7M286.1 532.4h.7M317.2 540.6h.7M322.5 538.1h.7M312.1 538.8h.7M300.6 536.4h.7M290.7 545.5h.7M277.2 547.1h.7M289.6 537.5h.7M294.0 545.1h.7M277.0 541.5h.7M300.8 548.9h.7M274.0 542.7h.7M265.3 546.2h.7M321.0 534.6h.7M263.7 544.8h.7M310.3 551.0h.7M308.9 542.7h.7M274.1 530.0h.7M292.8 545.9h.7M277.7 550.2h.7M278.0 555.3h.7M299.2 544.2h.7M299.3 541.0h.7M294.2 533.5h.7M313.4 554.2h.7M319.9 536.9h.7M266.7 544.8h.7M279.7 536.5h.7M288.9 536.3h.7M280.9 540.0h.7M285.1 546.1h.7M275.1 539.5h.7M300.1 539.0h.7M278.1 546.9h.7M301.4 540.2h.7M311.3 537.7h.7M290.4 547.9h.7M296.2 543.0h.7M290.3 535.5h.7M318.3 533.7h.7M276.2 549.0h.7M321.5 541.3h.7M317.3 538.9h.7M288.9 528.6h.7M272.2 550.5h.7M288.8 535.9h.7M298.5 544.4h.7M277.1 541.9h.7M300.5 545.4h.7M287.1 544.7h.7M293.1 535.5h.7M324.1 544.4h.7M314.0 537.8h.7M317.2 553.9h.7M290.5 543.3h.7M292.7 535.0h.7M282.8 555.4h.7M275.8 540.5h.7M303.9 543.0h.7M303.2 542.5h.7M288.9 550.0h.7M278.0 546.0h.7M292.5 545.1h.7M317.5 544.1h.7M303.4 545.4h.7M338.8 530.7h.7M302.5 538.9h.7M271.7 531.2h.7M295.7 543.9h.7M336.9 536.9h.7M292.3 526.7h.7M280.2 547.2h.7M283.1 547.7h.7M285.4 545.9h.7M302.5 553.8h.7M266.6 536.2h.7M274.5 534.2h.7M294.2 547.1h.7M289.0 540.7h.7M268.1 548.7h.7M275.8 538.1h.7M306.1 537.7h.7M290.1 534.8h.7M278.5 543.4h.7M331.4 539.0h.7M302.8 546.6h.7M291.0 531.6h.7M308.4 545.9h.7M288.3 542.4h.7M302.6 543.2h.7M280.6 537.2h.7M293.6 537.6h.7M267.2 547.6h.7M323.7 548.8h.7M295.8 540.6h.7M278.5 540.2h.7M276.8 545.0h.7M266.6 554.7h.7M305.4 550.2h.7M290.7 533.2h.7M298.8 549.2h.7M290.4 547.2h.7M320.5 548.1h.7M320.8 534.7h.7M270.7 545.1h.7M278.2 543.7h.7M304.8 535.2h.7M292.7 540.5h.7M305.1 550.7h.7M342.7 545.1h.7M286.4 544.2h.7M307.2 540.9h.7M290.5 539.4h.7M320.8 534.5h.7M285.0 533.1h.7M282.4 547.8h.7M300.6 548.2h.7M299.2 535.0h.7M280.5 538.8h.7M290.3 542.9h.7M312.6 545.0h.7M310.7 538.6h.7M294.2 539.2h.7M310.6 545.7h.7M273.8 540.9h.7M303.4 537.4h.7M283.3 543.0h.7M327.7 538.4h.7M271.9 535.6h.7M339.9 545.9h.7M301.0 544.4h.7M287.7 542.5h.7M281.1 532.2h.7M291.0 532.3h.7M265.7 545.7h.7M280.2 549.5h.7M285.1 537.4h.7M294.2 549.8h.7M335.1 538.1h.7M304.2 536.0h.7M280.1 549.5h.7M295.9 539.4h.7M268.2 541.6h.7M312.8 535.2h.7M269.6 541.3h.7M310.8 542.0h.7M291.0 549.8h.7M330.2 531.9h.7M306.9 546.1h.7M281.6 540.2h.7M296.3 538.8h.7M320.0 546.1h.7M294.9 549.2h.7M312.4 543.7h.7M297.0 546.4h.7M296.7 542.3h.7M298.7 536.8h.7M281.9 542.5h.7M295.7 542.8h.7M283.8 543.1h.7M276.5 544.4h.7M288.2 536.4h.7M324.2 531.6h.7M272.5 534.9h.7M263.3 545.4h.7M323.0 535.0h.7M270.4 545.0h.7M278.5 543.2h.7M317.1 539.1h.7M265.2 554.1h.7M268.6 550.4h.7M310.6 543.9h.7M290.3 538.8h.7M299.7 552.1h.7M299.0 530.5h.7M307.5 540.2h.7M293.7 537.9h.7M297.9 534.3h.7M337.6 526.4h.7M299.3 538.5h.7M287.6 533.2h.7M282.4 534.7h.7M322.4 535.4h.7M267.1 540.8h.7M282.8 549.2h.7M310.2 532.9h.7M274.0 550.2h.7M338.9 534.3h.7M287.7 549.3h.7M298.9 540.6h.7M294.6 546.9h.7M296.5 544.1h.7M274.2 534.2h.7M296.8 554.4h.7M329.1 538.8h.7M306.4 553.2h.7M301.5 540.8h.7M300.6 522.2h.7M293.1 548.6h.7M299.8 553.0h.7M298.3 537.6h.7M269.1 543.7h.7M307.8 540.8h.7M275.8 548.3h.7M311.7 536.2h.7M279.0 546.6h.7M319.6 537.4h.7M281.4 549.0h.7M290.0 545.4h.7M302.6 533.2h.7M272.8 542.9h.7M276.6 545.4h.7M323.6 543.4h.7M292.2 545.1h.7M284.5 550.3h.7M271.7 538.5h.7M289.0 539.9h.7M295.6 534.0h.7M305.3 553.0h.7M283.6 538.1h.7M278.9 545.4h.7M267.8 538.8h.7M306.3 533.9h.7M325.8 542.3h.7M300.1 544.4h.7M284.8 544.2h.7M305.2 546.3h.7M288.0 547.4h.7M330.5 533.2h.7M314.9 545.6h.7M272.1 552.6h.7M289.6 538.6h.7M305.6 537.0h.7M295.4 555.0h.7M304.5 533.5h.7M314.0 528.7h.7M297.5 547.9h.7M269.5 534.1h.7M306.3 532.2h.7M274.3 538.4h.7M304.0 538.7h.7M285.3 541.3h.7M297.2 546.6h.7M279.9 542.5h.7M309.5 539.0h.7M282.7 552.9h.7M305.6 542.6h.7M282.0 531.9h.7M307.9 530.2h.7M316.3 550.7h.7M296.4 544.6h.7M303.0 541.4h.7M297.4 535.8h.7M320.4 545.0h.7M303.2 538.0h.7M282.1 530.3h.7M281.1 546.5h.7M296.0 540.5h.7M301.3 543.1h.7M300.3 550.7h.7M332.8 539.4h.7M271.1 541.4h.7M299.9 544.4h.7M290.3 536.6h.7M264.7 554.1h.7M298.3 529.7h.7M329.6 541.3h.7M294.6 550.7h.7M322.6 547.0h.7M323.8 542.4h.7M285.9 538.5h.7M298.2 543.2h.7M307.3 534.6h.7M314.7 533.6h.7M305.4 554.6h.7M292.7 531.3h.7M303.8 540.4h.7M296.8 533.4h.7M308.2 532.9h.7M266.1 536.0h.7M288.1 533.7h.7M275.3 542.8h.7M285.5 546.7h.7M274.8 546.9h.7M307.8 549.7h.7M285.2 532.9h.7M277.6 545.0h.7M320.5 548.3h.7M290.1 549.3h.7M311.1 528.5h.7M296.4 541.8h.7M265.0 553.2h.7M301.2 543.7h.7M303.1 539.3h.7M296.8 547.5h.7M263.7 538.6h.7M300.9 541.9h.7M311.0 535.3h.7M314.4 541.7h.7M292.9 541.6h.7M323.5 533.2h.7M311.2 543.2h.7M298.1 548.5h.7M273.4 535.0h.7M281.1 542.5h.7M307.9 536.3h.7M306.0 543.2h.7M263.1 549.2h.7M296.2 548.9h.7M297.2 535.2h.7M270.5 546.4h.7M279.8 534.1h.7M290.0 542.3h.7M300.0 541.3h.7M296.4 548.7h.7M275.4 545.4h.7M263.4 543.8h.7M304.3 537.1h.7M264.6 540.3h.7M293.7 541.8h.7M318.4 554.3h.7M264.1 542.8h.7M301.5 537.9h.7M268.8 532.7h.7M284.2 550.4h.7M279.1 539.1h.7M326.0 537.1h.7M291.4 546.4h.7M322.8 546.2h.7M293.7 544.8h.7M294.3 553.4h.7M280.9 532.7h.7M305.9 543.4h.7M311.7 535.7h.7M269.3 542.3h.7M269.4 543.2h.7M315.3 544.0h.7M293.4 540.7h.7M311.0 543.8h.7M290.5 527.6h.7M311.5 540.5h.7M286.6 548.4h.7M291.1 552.3h.7M280.7 538.3h.7M301.4 536.4h.7M278.3 548.2h.7M276.0 548.9h.7M300.7 548.2h.7M280.0 541.6h.7M279.4 545.0h.7M271.1 541.1h.7M291.9 528.9h.7M320.1 533.3h.7M265.3 546.3h.7M299.1 552.8h.7M316.1 545.3h.7M294.7 542.0h.7M303.2 541.1h.7M292.0 543.7h.7M283.3 540.5h.7M302.3 533.5h.7M276.0 549.3h.7M290.0 542.0h.7M273.5 553.1h.7M339.2 537.3h.7M295.7 549.6h.7M289.6 535.3h.7M280.3 548.6h.7M273.2 541.8h.7M303.2 537.2h.7M289.3 537.5h.7M285.0 546.1h.7M271.5 552.2h.7M289.9 539.3h.7M311.0 538.0h.7M310.0 533.3h.7M292.3 550.0h.7M313.9 533.4h.7M282.7 544.8h.7M313.6 528.2h.7M299.2 532.0h.7M282.9 551.5h.7M320.2 537.1h.7M326.2 536.5h.7M301.7 553.5h.7M272.9 547.4h.7M331.0 546.9h.7M300.1 539.5h.7M327.5 543.1h.7M304.0 538.4h.7M284.8 549.0h.7M301.9 545.7h.7M313.3 552.7h.7M299.0 549.0h.7M300.8 540.5h.7M275.8 544.7h.7M310.3 538.4h.7M271.0 542.4h.7M272.7 538.2h.7M290.2 553.0h.7M302.5 548.8h.7M310.1 541.0h.7M292.2 542.0h.7M294.7 539.2h.7M288.4 544.4h.7M281.4 542.7h.7M296.6 547.9h.7M273.9 553.4h.7M306.0 547.4h.7M301.3 555.1h.7M275.5 541.6h.7M305.6 540.1h.7M291.9 550.3h.7M313.2 541.2h.7M294.3 531.7h.7M298.8 554.6h.7M342.9 554.2h.7M273.8 549.9h.7M294.0 542.1h.7M303.9 535.6h.7M313.5 540.3h.7M304.1 538.4h.7M286.1 544.0h.7M290.2 539.0h.7M288.1 547.9h.7M299.9 542.5h.7M286.4 533.0h.7M281.3 540.1h.7M298.2 530.9h.7M309.7 542.0h.7M310.7 538.1h.7M315.5 550.4h.7M303.7 540.8h.7M319.3 550.2h.7M308.0 531.0h.7M299.1 553.3h.7M270.0 540.1h.7M311.3 540.6h.7M336.0 533.5h.7M291.9 536.6h.7M280.6 536.4h.7M292.4 547.5h.7M282.3 551.5h.7M328.3 531.3h.7M274.2 544.6h.7M287.4 529.6h.7M316.3 547.3h.7M286.0 547.8h.7M296.5 542.7h.7M300.4 543.7h.7M305.6 538.3h.7M271.6 532.6h.7M293.8 547.1h.7M308.5 550.6h.7M293.3 533.1h.7M297.6 543.2h.7M264.3 538.2h.7M295.4 544.4h.7M311.3 543.5h.7M283.7 544.4h.7M288.9 551.5h.7M299.2 537.6h.7M312.0 525.5h.7M314.7 537.4h.7M292.1 546.1h.7M294.3 531.1h.7M303.4 541.8h.7M298.8 535.5h.7M298.3 540.9h.7M316.6 554.1h.7M302.3 544.7h.7M317.5 530.9h.7M293.6 548.7h.7M264.0 546.2h.7M287.9 536.4h.7M269.4 540.6h.7M342.6 539.9h.7M306.0 537.0h.7M290.6 537.8h.7M265.0 547.0h.7M285.9 538.0h.7M310.5 547.8h.7M315.1 545.3h.7M320.5 534.4h.7M279.3 535.8h.7M287.1 547.8h.7M301.5 538.3h.7M286.6 538.0h.7M288.7 541.7h.7M283.2 546.2h.7M310.8 551.7h.7M296.2 532.8h.7M289.6 538.2h.7M305.0 549.0h.7M307.1 533.2h.7M295.9 545.8h.7M285.6 536.2h.7M281.8 529.0h.7M290.9 528.1h.7M303.7 549.1h.7M289.8 546.4h.7M291.1 538.9h.7M308.7 541.4h.7M285.2 536.5h.7M300.3 534.8h.7M300.0 539.0h.7M279.0 542.1h.7M288.5 548.4h.7M312.6 535.7h.7M275.2 548.0h.7M310.0 540.5h.7M288.0 547.7h.7M263.1 545.9h.7M315.1 535.7h.7M329.1 527.6h.7M294.9 536.5h.7M325.1 536.2h.7M324.1 545.6h.7M285.8 552.8h.7M317.6 531.0h.7M323.3 536.8h.7M305.0 541.8h.7M302.0 539.9h.7M286.2 554.6h.7M291.7 528.8h.7M286.3 536.3h.7M289.5 538.2h.7M313.9 535.5h.7M304.9 532.8h.7M288.6 545.3h.7M291.9 554.2h.7M317.7 548.9h.7M289.3 534.1h.7M303.0 533.9h.7M273.4 527.1h.7M293.9 547.6h.7M295.5 534.4h.7M291.1 539.9h.7M320.9 550.0h.7M287.4 542.3h.7M292.4 551.0h.7M290.6 537.8h.7M307.0 543.2h.7M335.6 535.4h.7M321.2 547.6h.7M270.5 539.3h.7M271.7 550.5h.7M311.8 534.0h.7M290.6 551.7h.7M317.1 551.2h.7M290.1 533.4h.7M317.4 541.8h.7M329.7 538.0h.7M266.0 545.5h.7M321.5 553.8h.7M289.6 543.8h.7M289.7 551.1h.7M292.1 541.7h.7M274.9 553.8h.7M312.8 542.9h.7M314.7 528.0h.7M288.9 548.9h.7M311.6 533.6h.7M274.2 545.2h.7M265.2 544.6h.7M304.8 531.2h.7M280.9 542.4h.7M306.4 539.2h.7M298.6 532.7h.7M335.7 540.3h.7M267.1 543.5h.7M315.2 532.2h.7M302.8 555.2h.7M331.5 536.2h.7M277.8 531.4h.7M303.5 529.7h.7M302.7 537.9h.7M280.2 554.0h.7M283.2 538.9h.7M275.1 536.2h.7M298.6 545.3h.7M267.9 544.4h.7M274.2 532.2h.7M280.4 537.1h.7M296.2 541.6h.7M296.6 553.2h.7M294.5 536.0h.7M305.8 540.1h.7M309.8 554.1h.7M265.3 554.8h.7M288.9 546.4h.7M326.4 533.3h.7M271.5 528.6h.7M307.4 546.1h.7M288.2 539.7h.7M298.7 542.2h.7M280.6 546.6h.7M315.7 546.0h.7M326.6 540.0h.7M299.5 531.5h.7M289.2 540.3h.7M299.9 541.7h.7M319.8 540.9h.7M301.3 543.8h.7M296.9 550.9h.7M286.3 539.4h.7M291.7 545.4h.7M277.9 550.2h.7M286.7 537.3h.7M269.1 552.8h.7M269.9 549.2h.7M298.9 538.0h.7M291.5 534.2h.7M314.5 539.5h.7M266.2 542.5h.7M280.1 543.6h.7M281.4 544.8h.7M292.9 520.8h.7M284.4 548.1h.7M299.1 535.1h.7M300.0 553.4h.7M278.3 537.0h.7M327.8 536.2h.7M285.1 533.2h.7M300.8 533.0h.7M286.6 536.5h.7M287.3 529.6h.7M298.9 537.7h.7M330.7 548.2h.7M297.2 538.3h.7M292.3 535.7h.7M330.3 536.7h.7M317.4 547.3h.7M311.6 541.1h.7M282.0 553.5h.7M320.9 535.7h.7M293.3 542.6h.7M301.6 537.5h.7M280.8 550.0h.7M296.3 539.5h.7M281.2 545.2h.7M288.6 543.4h.7M267.0 540.9h.7M285.9 531.3h.7M266.9 547.1h.7M294.3 544.3h.7M291.1 541.4h.7M310.7 534.7h.7M284.7 541.2h.7M291.2 527.6h.7M291.8 546.9h.7M300.7 549.5h.7M288.9 539.0h.7M286.7 539.3h.7M306.4 538.4h.7M283.3 545.4h.7M303.9 536.2h.7M282.3 538.2h.7M282.0 528.0h.7M289.6 540.6h.7M317.5 546.6h.7M281.8 535.4h.7M277.0 545.6h.7M292.2 541.5h.7M302.2 538.3h.7M276.0 543.9h.7M271.1 545.8h.7M302.6 529.1h.7M294.6 538.2h.7M284.8 548.3h.7M274.6 548.6h.7M305.5 532.9h.7M302.3 549.0h.7M313.5 534.5h.7M287.9 525.8h.7M334.1 533.6h.7M313.9 539.2h.7M334.7 538.0h.7M299.0 538.8h.7M263.2 535.8h.7M286.6 542.9h.7M321.3 532.2h.7M304.6 534.2h.7M300.9 542.6h.7M321.1 536.5h.7M277.0 534.6h.7M297.0 540.7h.7M309.4 539.4h.7M265.2 555.2h.7M295.8 531.2h.7M280.1 552.6h.7M282.8 538.2h.7M271.8 547.9h.7M286.3 545.2h.7M309.0 549.0h.7M305.0 545.3h.7M272.1 546.1h.7M301.7 542.7h.7M287.5 536.4h.7M297.8 541.9h.7M286.3 540.5h.7M304.7 546.7h.7M287.0 543.9h.7M267.6 543.5h.7M272.6 549.4h.7M293.7 541.8h.7M290.6 540.0h.7M305.3 543.3h.7M293.1 552.4h.7M285.0 533.1h.7M293.8 537.9h.7M295.1 543.9h.7M283.1 547.7h.7M288.3 531.1h.7" stroke="#222" stroke-width=".75" stroke-opacity="0.55" fill="none"/>
<path d="M298.4 555.4h.7M333.7 533.1h.7M317.1 526.8h.7M326.0 537.3h.7M312.2 548.5h.7M300.3 543.5h.7M299.4 538.5h.7M325.2 522.7h.7M301.8 549.0h.7M319.7 534.3h.7M320.4 542.8h.7M313.1 531.7h.7M318.3 546.7h.7M302.6 551.1h.7M318.6 545.1h.7M290.2 552.8h.7M325.3 546.7h.7M303.6 542.8h.7M315.0 545.3h.7M324.8 534.5h.7M313.0 545.8h.7M307.1 535.6h.7M316.2 538.3h.7M312.6 542.9h.7M313.8 540.6h.7M312.6 544.6h.7M323.6 534.9h.7M305.5 535.9h.7M318.2 544.9h.7M311.4 536.6h.7M307.9 536.2h.7M308.5 534.3h.7M315.3 541.2h.7M315.3 531.5h.7M330.7 543.3h.7M310.6 543.9h.7M320.4 538.1h.7M292.1 536.8h.7M308.5 546.0h.7M325.4 541.7h.7M309.0 544.8h.7M309.6 550.1h.7M317.4 538.0h.7M307.5 540.4h.7M312.1 526.2h.7M322.6 544.1h.7M308.4 545.5h.7M303.2 537.5h.7M306.8 535.4h.7M302.6 540.3h.7M307.1 541.1h.7M309.0 541.6h.7M304.5 535.7h.7M293.4 547.4h.7M318.8 544.2h.7M301.1 535.0h.7M312.6 533.4h.7M325.2 533.5h.7M324.2 541.2h.7M288.7 540.3h.7M309.7 530.6h.7M305.2 531.5h.7M301.0 542.6h.7M310.0 539.0h.7M301.5 539.9h.7M300.4 543.7h.7M306.2 534.9h.7M305.5 537.8h.7M326.6 535.9h.7M306.9 530.5h.7M318.1 538.9h.7M304.2 544.3h.7M302.3 544.4h.7M300.5 533.4h.7M308.4 533.8h.7M322.6 529.0h.7M313.6 538.6h.7M306.5 538.0h.7M327.5 526.3h.7M307.7 535.0h.7M320.3 532.9h.7M309.8 535.7h.7M326.9 544.2h.7M318.2 533.8h.7M319.3 540.6h.7M318.0 536.1h.7M312.0 533.9h.7M320.6 536.1h.7M323.3 535.4h.7M322.0 538.1h.7M306.9 541.1h.7M323.0 541.5h.7M309.6 529.8h.7M309.1 542.6h.7M296.6 543.3h.7M316.9 550.3h.7M321.0 537.2h.7M319.7 544.0h.7M324.1 547.8h.7M303.3 536.8h.7M322.6 529.7h.7M311.8 536.3h.7M305.5 543.6h.7M317.0 534.9h.7M320.4 542.0h.7M307.0 547.7h.7M308.5 541.6h.7M300.6 528.5h.7M307.5 532.4h.7M318.0 540.0h.7M299.7 528.3h.7M285.7 544.5h.7M318.3 541.2h.7M308.1 548.1h.7M302.3 546.6h.7M326.1 540.3h.7M310.8 535.4h.7M317.3 543.6h.7M300.9 541.6h.7M317.2 537.4h.7M303.8 534.8h.7M306.1 536.3h.7M313.2 528.0h.7M321.2 538.6h.7M325.4 537.6h.7M312.0 533.0h.7M329.0 535.2h.7M309.5 536.9h.7M306.6 549.9h.7M304.9 540.5h.7M328.4 537.1h.7M311.5 541.8h.7M296.2 540.9h.7M310.9 538.8h.7M320.8 535.2h.7M305.8 536.8h.7M309.3 541.8h.7M313.1 535.5h.7M297.7 535.8h.7M314.1 538.6h.7M309.8 534.3h.7M324.7 538.1h.7M302.8 543.6h.7M314.4 541.7h.7M320.3 542.8h.7M333.3 538.9h.7M300.3 528.5h.7M309.2 528.5h.7M323.9 530.5h.7M311.1 532.7h.7M322.7 527.8h.7M301.3 527.8h.7M314.3 535.0h.7M319.0 537.7h.7M317.8 546.6h.7M327.9 535.8h.7M316.5 543.1h.7M301.5 547.9h.7M324.1 544.4h.7M312.3 540.4h.7M329.1 532.3h.7M316.2 527.6h.7M290.9 539.7h.7M303.6 535.6h.7M312.9 528.6h.7M306.5 535.3h.7M306.2 539.2h.7M299.3 545.3h.7M311.4 532.0h.7M292.3 542.5h.7M300.2 538.0h.7M324.3 544.9h.7M330.9 523.7h.7M312.2 537.2h.7M306.7 542.4h.7M308.1 536.6h.7M288.6 537.7h.7M310.0 533.8h.7M316.1 533.0h.7M312.0 534.8h.7M320.6 534.1h.7M319.6 539.3h.7M305.6 541.7h.7M306.8 536.7h.7M294.9 541.0h.7M304.6 539.2h.7M308.0 531.8h.7M304.2 535.6h.7M294.7 546.4h.7M304.8 544.2h.7M329.5 535.7h.7M324.8 545.0h.7M296.3 541.7h.7M303.1 539.5h.7M308.0 546.2h.7M318.1 536.7h.7M320.6 547.5h.7M302.2 541.3h.7M302.6 537.1h.7M323.8 540.4h.7M297.2 544.7h.7M312.5 542.0h.7M292.5 527.3h.7M306.3 531.9h.7M314.8 537.0h.7M330.2 528.2h.7M312.7 541.7h.7M325.8 527.1h.7M303.7 537.3h.7M329.4 531.9h.7M317.6 540.6h.7M314.1 534.0h.7M322.8 535.9h.7M315.2 536.2h.7M322.2 539.3h.7M322.6 531.2h.7M333.1 540.9h.7M316.8 537.0h.7M300.1 527.2h.7M313.0 548.2h.7M310.4 540.4h.7M317.1 546.4h.7M318.5 547.1h.7M308.7 541.7h.7M303.6 533.1h.7M309.3 534.7h.7M299.7 544.6h.7M315.4 555.0h.7M303.8 537.2h.7M319.2 536.6h.7M315.4 530.1h.7M304.3 542.6h.7M319.3 528.9h.7M296.1 536.2h.7M313.8 529.3h.7M312.3 541.7h.7M310.2 527.7h.7M309.3 534.1h.7M317.6 540.7h.7M310.1 538.4h.7M317.2 536.5h.7M311.5 531.7h.7M313.6 541.6h.7M309.1 537.7h.7M307.1 534.3h.7M292.2 551.3h.7M301.5 531.3h.7M318.9 535.3h.7M312.5 531.7h.7M296.1 540.3h.7M298.3 535.4h.7M310.8 536.1h.7M321.4 534.2h.7M307.9 546.9h.7M304.5 538.4h.7M307.2 547.3h.7M317.7 531.5h.7M311.6 533.6h.7M327.0 515.5h.7M304.1 536.3h.7M306.6 532.4h.7M339.3 532.9h.7M317.6 540.3h.7M320.4 542.6h.7M315.3 537.2h.7M303.8 540.8h.7M321.2 537.3h.7M324.9 528.9h.7M315.7 546.4h.7M320.1 534.9h.7M298.8 533.2h.7M309.0 543.3h.7M325.9 531.8h.7M308.3 534.5h.7M308.1 545.5h.7M308.8 544.1h.7M323.7 533.5h.7M329.0 535.8h.7M311.5 540.6h.7M303.9 536.2h.7M290.3 544.9h.7M331.1 546.5h.7M305.6 543.0h.7M291.7 554.1h.7M326.8 537.6h.7M316.8 539.8h.7M306.7 532.9h.7M314.5 536.8h.7M318.5 538.0h.7M322.7 534.1h.7M324.2 534.1h.7M323.4 540.8h.7M324.8 535.7h.7M326.2 550.0h.7M310.0 528.8h.7M325.5 532.5h.7M315.4 532.2h.7M290.2 543.1h.7M314.0 554.3h.7M308.5 538.9h.7M308.8 533.1h.7M305.2 541.9h.7M320.0 538.1h.7M293.3 543.1h.7M310.6 519.4h.7M308.0 538.7h.7M303.2 538.0h.7M333.3 543.3h.7M310.4 547.1h.7M309.6 540.7h.7M307.4 542.3h.7M294.3 540.6h.7M319.1 541.0h.7M291.3 538.0h.7M290.8 540.1h.7M321.9 534.1h.7M320.5 544.2h.7M320.2 534.9h.7M291.7 544.0h.7M320.2 537.3h.7M322.3 539.8h.7M300.2 534.0h.7M303.1 536.0h.7M315.2 537.3h.7M305.2 539.3h.7M289.8 555.3h.7M308.3 539.2h.7M307.4 536.4h.7M313.5 534.9h.7M300.2 546.6h.7M324.7 540.7h.7M308.0 548.5h.7M302.4 535.3h.7M299.6 541.0h.7M317.8 538.1h.7M316.1 534.0h.7M316.4 545.3h.7M309.9 538.0h.7M318.2 544.6h.7M309.9 548.9h.7M325.3 539.8h.7M330.5 533.3h.7M320.2 532.3h.7M319.8 550.2h.7M311.0 538.0h.7M321.6 540.5h.7M320.1 538.4h.7M312.4 540.7h.7M300.9 551.4h.7M327.1 547.4h.7M309.5 531.3h.7M311.3 542.2h.7M310.8 539.3h.7M313.2 536.2h.7M322.0 543.8h.7M328.3 539.5h.7M310.1 541.0h.7M324.4 542.9h.7M320.9 535.3h.7M308.1 538.2h.7M315.3 533.1h.7M313.8 540.3h.7M311.5 535.8h.7M301.6 537.2h.7M334.7 536.0h.7M301.4 546.2h.7M322.1 531.9h.7M310.6 543.5h.7M313.6 527.8h.7M326.1 538.7h.7M300.1 537.9h.7M304.8 535.8h.7M317.6 541.2h.7M313.5 539.4h.7M303.8 538.6h.7M318.7 552.2h.7M305.0 536.5h.7M307.9 536.2h.7M327.7 528.2h.7M309.1 534.8h.7M321.0 531.5h.7M287.4 530.5h.7M322.0 535.1h.7M307.5 536.6h.7M319.0 541.0h.7M301.8 540.0h.7M316.9 542.1h.7M305.3 539.2h.7M303.0 549.8h.7M314.4 540.7h.7M308.9 551.5h.7M335.4 537.8h.7M314.4 531.4h.7M300.4 540.1h.7M330.7 537.7h.7M321.5 536.9h.7M310.5 551.6h.7M336.5 537.7h.7M319.0 543.0h.7M298.0 546.0h.7M324.9 545.8h.7M319.3 549.8h.7M311.3 538.5h.7M312.3 542.6h.7M317.1 539.0h.7M309.4 538.7h.7M316.1 548.8h.7M308.0 529.2h.7M301.6 543.0h.7M330.9 546.6h.7M327.2 545.4h.7M325.7 538.6h.7M332.7 538.6h.7M310.6 530.0h.7M324.6 535.1h.7M313.7 539.4h.7M301.8 536.9h.7M311.5 532.8h.7M287.7 542.8h.7M328.3 530.4h.7M317.1 549.3h.7M323.5 533.2h.7M317.9 539.0h.7M317.6 545.1h.7M319.7 541.2h.7M332.1 537.3h.7M317.5 543.5h.7M316.2 529.0h.7M288.9 542.1h.7M302.5 539.9h.7M301.5 536.8h.7M324.1 529.9h.7M327.3 540.1h.7M302.9 544.7h.7M302.8 543.0h.7M304.8 537.5h.7M313.8 536.0h.7M317.8 531.6h.7M329.4 530.4h.7M314.1 540.8h.7M315.1 537.2h.7M321.5 538.0h.7M309.7 527.9h.7M312.7 534.3h.7M313.7 544.8h.7M312.2 542.2h.7M316.8 545.4h.7M318.9 537.4h.7M301.4 551.5h.7M316.7 538.7h.7M326.4 538.9h.7M324.8 527.5h.7M312.7 539.1h.7M307.9 551.7h.7M303.0 527.8h.7M335.9 535.8h.7M307.3 536.9h.7M302.5 530.6h.7M313.6 552.4h.7M313.4 533.2h.7M302.6 545.1h.7M301.0 543.9h.7M303.4 530.9h.7M305.2 544.9h.7M306.2 545.9h.7M305.0 536.3h.7M313.6 539.8h.7M314.0 542.1h.7M305.7 538.8h.7M300.7 541.1h.7M311.6 544.9h.7M317.4 530.5h.7M317.2 547.6h.7M322.4 537.7h.7M310.8 543.9h.7M305.2 533.6h.7M315.5 545.5h.7M307.3 548.4h.7M307.6 545.6h.7M326.0 540.7h.7M296.2 536.9h.7M311.1 529.2h.7M299.8 541.2h.7M307.0 537.6h.7M325.8 537.7h.7M312.0 538.4h.7M308.8 546.4h.7M333.7 527.5h.7M312.4 545.5h.7M308.0 531.5h.7M310.4 536.1h.7M320.4 533.7h.7M311.0 545.5h.7M317.9 527.3h.7M320.9 542.7h.7M309.3 542.5h.7M303.6 545.8h.7M305.6 538.2h.7M307.2 538.0h.7M285.3 533.7h.7M308.7 537.9h.7M297.0 549.2h.7M315.3 540.3h.7M317.9 527.6h.7M307.5 540.6h.7M298.1 546.3h.7M303.0 546.7h.7M331.6 524.9h.7M317.0 540.0h.7M311.6 548.9h.7M322.7 546.2h.7M303.6 539.3h.7M323.7 534.1h.7M323.6 548.3h.7M318.1 525.2h.7M320.6 526.2h.7M312.8 537.8h.7M295.6 544.0h.7M298.4 546.5h.7M327.2 537.1h.7M312.2 536.0h.7M306.1 544.8h.7M317.2 536.1h.7M302.0 534.1h.7M319.0 536.5h.7M303.1 536.8h.7M317.2 542.7h.7M307.3 539.6h.7M303.2 535.4h.7M289.7 547.8h.7M319.8 532.3h.7M316.6 533.9h.7M318.8 526.7h.7M285.5 537.6h.7M313.0 544.0h.7M307.7 538.0h.7M316.2 543.9h.7M326.0 535.3h.7M315.2 537.3h.7M305.9 540.2h.7M295.2 532.9h.7M291.4 538.2h.7M308.2 532.6h.7M336.3 539.6h.7M323.6 542.7h.7M299.2 529.5h.7M311.6 537.0h.7M319.1 538.6h.7M311.5 543.3h.7M308.5 543.1h.7M318.5 536.6h.7M315.0 540.8h.7M312.0 542.0h.7M311.6 544.5h.7M320.8 528.2h.7M320.4 542.6h.7M323.9 533.7h.7M311.4 537.9h.7M323.4 535.5h.7M302.0 532.2h.7M317.9 548.9h.7M314.0 539.9h.7M302.9 550.9h.7M302.1 546.1h.7M320.9 539.2h.7M318.0 538.7h.7M300.3 537.7h.7M316.3 535.4h.7M323.0 538.4h.7M295.6 539.3h.7M307.3 532.5h.7M316.9 531.1h.7M309.0 523.6h.7M311.5 535.6h.7M317.0 542.7h.7M313.4 551.3h.7M320.3 533.9h.7M317.4 532.8h.7M310.0 531.0h.7M323.1 536.8h.7M316.3 545.2h.7M324.6 541.4h.7M311.3 531.0h.7M292.7 541.8h.7M299.6 537.4h.7M296.3 528.9h.7M315.4 554.4h.7M319.3 538.4h.7M314.1 543.4h.7M300.2 539.4h.7M301.1 537.6h.7M302.2 540.0h.7M330.5 549.1h.7M297.2 543.4h.7M313.2 544.5h.7M312.8 538.9h.7" stroke="#222" stroke-width=".75" stroke-opacity="0.55" fill="none"/>
<path d="M295 580.4 L320.2 496.3 L343.2 496.3 L343.2 579.8" stroke="#555" stroke-width="0.8" fill="none"/>
<rect x="262" y="494.6" width="82.5" height="85.8" fill="none" stroke="#111" stroke-width="1.25"/>
<path d="M258.3 543.2H262M258.3 523H262M258.3 503.2H262M296.7 580.4V583.9M316.5 580.4V583.9M335.3 580.4V583.9" stroke="#111" stroke-width="1.2" fill="none"/>
<path d="M259.9 537.18H262M259.9 533.66H262M259.9 531.16H262M259.9 529.22H262M259.9 527.64H262M259.9 526.3H262M259.9 525.14H262M259.9 524.12H262M259.9 516.98H262M259.9 513.46H262M259.9 510.96H262M259.9 509.02H262M259.9 507.44H262M259.9 506.1H262M259.9 504.94H262M259.9 503.92H262M259.9 557.18H262M259.9 553.66H262M259.9 551.16H262M259.9 549.22H262M259.9 547.64H262M259.9 546.3H262M259.9 545.14H262M259.9 544.12H262M302.51 580.4V582.4M305.91 580.4V582.4M308.32 580.4V582.4M310.19 580.4V582.4M311.72 580.4V582.4M313.01 580.4V582.4M314.13 580.4V582.4M315.12 580.4V582.4M322.31 580.4V582.4M325.71 580.4V582.4M328.12 580.4V582.4M329.99 580.4V582.4M331.52 580.4V582.4M332.81 580.4V582.4M333.93 580.4V582.4M334.92 580.4V582.4M284.68 580.4V582.4M287.71 580.4V582.4M289.86 580.4V582.4M291.52 580.4V582.4M292.88 580.4V582.4M294.04 580.4V582.4M295.03 580.4V582.4M295.91 580.4V582.4" stroke="#111" stroke-width="0.8" fill="none"/>
<path d="M259.4 563.5H262M259.4 564.71H262M259.4 565.92H262M259.4 567.12H262M259.4 568.33H262M259.4 569.54H262M259.4 570.75H262M259.4 571.95H262M259.4 573.16H262M259.4 574.37H262M259.4 575.58H262M259.4 576.78H262M259.4 577.99H262M259.4 579.2H262M266.4 580.4V583M267.22 580.4V583M268.04 580.4V583M268.86 580.4V583M269.67 580.4V583M270.49 580.4V583M271.31 580.4V583M272.13 580.4V583M272.95 580.4V583M273.77 580.4V583M274.59 580.4V583M275.41 580.4V583M276.22 580.4V583M277.04 580.4V583M277.86 580.4V583M278.68 580.4V583M279.5 580.4V583" stroke="#111" stroke-width="0.7" fill="none"/>
<text x="256" y="505.59" font-size="7.7" text-anchor="end" fill="#000">10<tspan font-size="5.24" dy="-3.08">5</tspan></text>
<text x="256" y="525.3" font-size="7.7" text-anchor="end" fill="#000">10<tspan font-size="5.24" dy="-3.08">4</tspan></text>
<text x="256" y="545.5" font-size="7.7" text-anchor="end" fill="#000">10<tspan font-size="5.24" dy="-3.08">3</tspan></text>
<text x="256" y="565.6" font-size="7.7" text-anchor="end" fill="#000">10<tspan font-size="5.24" dy="-3.08">2</tspan></text>
<text x="255.7" y="573.7" font-size="7.7" text-anchor="end" fill="#000">0</text>
<text x="256" y="581.7" font-size="7.7" text-anchor="end" fill="#000">-10<tspan font-size="5.24" dy="-3.08">2</tspan></text>
<text x="273.2" y="594.3" font-size="8.0" text-anchor="middle" fill="#000">0</text>
<text x="298.1" y="594.3" font-size="8.0" text-anchor="middle" fill="#000">10<tspan font-size="5.44" dy="-3.2">3</tspan></text>
<text x="317.9" y="594.3" font-size="8.0" text-anchor="middle" fill="#000">10<tspan font-size="5.44" dy="-3.2">4</tspan></text>
<text x="336.7" y="594.3" font-size="8.0" text-anchor="middle" fill="#000">10<tspan font-size="5.44" dy="-3.2">5</tspan></text>
<text x="48.32" y="502.9" font-size="8.2" fill="#000" textLength="36.49" lengthAdjust="spacingAndGlyphs">Unlabelled</text>
<text x="156.43" y="502.9" font-size="8.2" fill="#000" textLength="36.06" lengthAdjust="spacingAndGlyphs">Uninfected</text>
<text x="264.23" y="502.9" font-size="8.2" fill="#000" textLength="19.83" lengthAdjust="spacingAndGlyphs">DENV</text>
<text x="112.7" y="576" font-size="8.2" fill="#000" textLength="14.4" lengthAdjust="spacingAndGlyphs">0.70</text>
<text x="220.68" y="576" font-size="8.2" fill="#000" textLength="13.74" lengthAdjust="spacingAndGlyphs">8.46</text>
<text x="328.23" y="576" font-size="8.2" fill="#000" textLength="14.27" lengthAdjust="spacingAndGlyphs">24.0</text>
<line x1="21.5" y1="582.5" x2="21.5" y2="501.5" stroke="#111" stroke-width="1.2"/>
<path d="M21.5 494.8 L17.2 505.1 L21.5 502.6 L25.9 505.1 Z" fill="#111"/>
<text x="15.62" y="554.4" font-size="9.6" fill="#000" transform="rotate(-90 16.4 554.4)" textLength="24.99" lengthAdjust="spacingAndGlyphs">F4/80</text>
<line x1="47.7" y1="602.2" x2="335" y2="602.2" stroke="#222" stroke-width="1.2"/>
<path d="M342 602.2 L331.2 597.8 L333.5 602.2 L331.2 606.6 Z" fill="#111"/>
<text x="170.45" y="613.8" font-size="9.2" fill="#000" textLength="23.24" lengthAdjust="spacingAndGlyphs">GP1b</text>
<text x="369.87" y="487.3" font-size="10.9" fill="#000" textLength="4.09" lengthAdjust="spacingAndGlyphs">I</text>
<path d="M409 599.4 V569.3 H437.8 V599.4" stroke="#bf4f66" stroke-width="1.15" fill="#fff"/>
<path d="M451.3 599.4 V522.8 H479.7 V599.4" stroke="#7189b0" stroke-width="1.15" fill="#fff"/>
<path d="M416.8 567.5 H430.2 M423.5 567.5 V571.2 M416.8 571.2 H430.2" stroke="#2a2a26" stroke-width="1.1" fill="none"/>
<path d="M458.6 515.5 H472 M465.3 515.5 V529.8 M458.6 529.8 H472" stroke="#2a2a26" stroke-width="1.1" fill="none"/>
<circle cx="417.2" cy="567.1" r="1.9" fill="#a51d3a"/>
<circle cx="423.4" cy="567.1" r="1.9" fill="#a51d3a"/>
<circle cx="429.1" cy="564.7" r="1.9" fill="#a51d3a"/>
<circle cx="426.4" cy="571.1" r="1.9" fill="#a51d3a"/>
<circle cx="420.3" cy="575.8" r="1.9" fill="#a51d3a"/>
<circle cx="464.9" cy="507.7" r="1.9" fill="#2f4c7d"/>
<circle cx="462.3" cy="518.6" r="1.9" fill="#2f4c7d"/>
<circle cx="468.2" cy="521.4" r="1.9" fill="#2f4c7d"/>
<circle cx="465.5" cy="542.6" r="1.9" fill="#2f4c7d"/>
<text x="465.5" y="504.89" font-size="8.4" text-anchor="middle" fill="#000">***</text>
<line x1="402.4" y1="495" x2="402.4" y2="600.02" stroke="#111" stroke-width="1.25"/>
<line x1="401.77" y1="599.4" x2="486.3" y2="599.4" stroke="#111" stroke-width="1.25"/>
<line x1="398.9" y1="599.4" x2="402.4" y2="599.4" stroke="#111" stroke-width="1.0"/>
<text x="396.1" y="602.3" font-size="8.2" text-anchor="end" fill="#000">0</text>
<line x1="398.9" y1="565.73" x2="402.4" y2="565.73" stroke="#111" stroke-width="1.0"/>
<text x="396.1" y="568.63" font-size="8.2" text-anchor="end" fill="#000">10</text>
<line x1="398.9" y1="532.07" x2="402.4" y2="532.07" stroke="#111" stroke-width="1.0"/>
<text x="396.1" y="534.97" font-size="8.2" text-anchor="end" fill="#000">20</text>
<line x1="398.9" y1="498.4" x2="402.4" y2="498.4" stroke="#111" stroke-width="1.0"/>
<text x="396.1" y="501.3" font-size="8.2" text-anchor="end" fill="#000">30</text>
<line x1="423" y1="599.4" x2="423" y2="602.2" stroke="#111" stroke-width="1.0"/>
<line x1="465.5" y1="599.4" x2="465.5" y2="602.2" stroke="#111" stroke-width="1.0"/>
<text x="403.18" y="613" font-size="8.3" fill="#000" textLength="39.36" lengthAdjust="spacingAndGlyphs">Uninfected</text>
<text x="453" y="613" font-size="8.3" fill="#000" textLength="24.87" lengthAdjust="spacingAndGlyphs">DENV2</text>
<text x="380.24" y="589.7" font-size="9.5" fill="#000" transform="rotate(-90 381 589.7)" textLength="87.88" lengthAdjust="spacingAndGlyphs">Plt<tspan font-size="6.84" dy="-3.8">+</tspan><tspan dy="3.8"> macrophage (%)</tspan></text>
<rect x="0" y="0" width="520" height="1.6" fill="#4e4e4e"/>
<rect x="0" y="622.2" width="520" height="1.8" fill="#4e4e4e"/>
<rect x="0" y="0" width="1.3" height="624" fill="#000"/>
<rect x="518.8" y="0" width="1.2" height="624" fill="#000"/>
</svg></body></html>
